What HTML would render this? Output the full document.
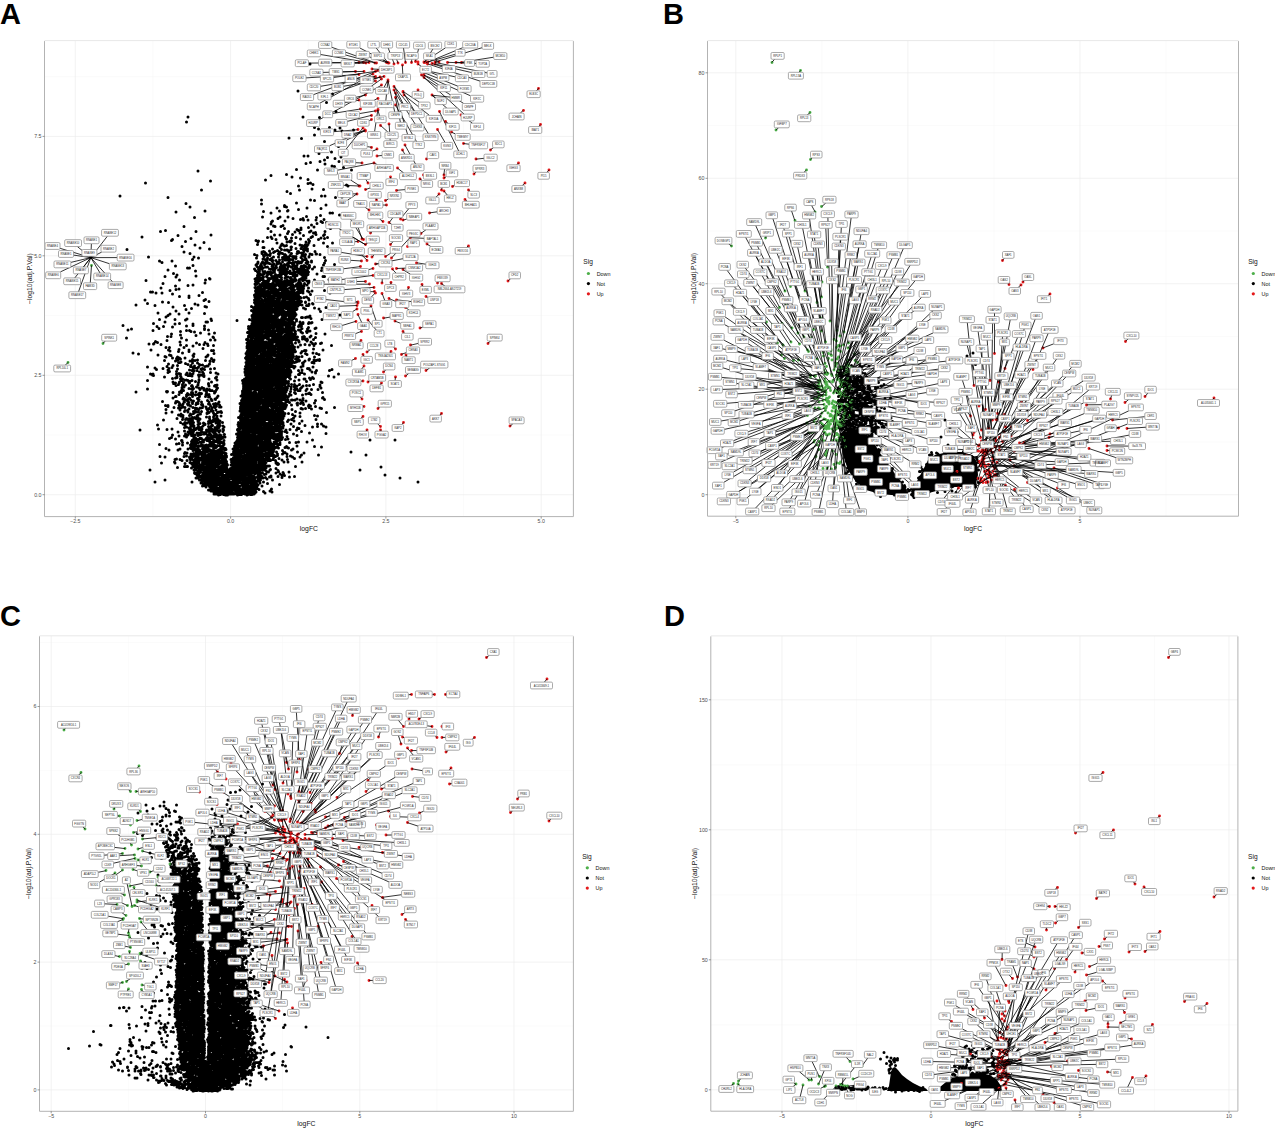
<!DOCTYPE html><html><head><meta charset="utf-8"><style>
html,body{margin:0;padding:0;background:#fff;}
svg{display:block;}
text{font-family:"Liberation Sans",sans-serif;}
.gm{stroke:#f6f6f6;stroke-width:0.5}
.gM{stroke:#ececec;stroke-width:0.7}
.fr{fill:none;stroke:#b3b3b3;stroke-width:1}
.tk{stroke:#555;stroke-width:0.6}
.tl{font-size:5.3px;fill:#4d4d4d}
.at{font-size:6.8px;fill:#111}
.lt{font-size:6.6px;fill:#111}
.ll{font-size:5.4px;fill:#111}
.pl{font-size:29px;font-weight:bold;fill:#000}
.lb{font-size:2.75px;fill:#262626}
</style></head><body>
<svg width="1275" height="1128" viewBox="0 0 1275 1128">
<rect width="1275" height="1128" fill="#fff"/>
<line x1="152.9" y1="40.6" x2="152.9" y2="516.6" class="gm"/>
<line x1="308.3" y1="40.6" x2="308.3" y2="516.6" class="gm"/>
<line x1="463.6" y1="40.6" x2="463.6" y2="516.6" class="gm"/>
<line x1="44.5" y1="435.0" x2="573.4" y2="435.0" class="gm"/>
<line x1="44.5" y1="315.6" x2="573.4" y2="315.6" class="gm"/>
<line x1="44.5" y1="196.1" x2="573.4" y2="196.1" class="gm"/>
<line x1="44.5" y1="76.7" x2="573.4" y2="76.7" class="gm"/>
<line x1="75.3" y1="40.6" x2="75.3" y2="516.6" class="gM"/>
<line x1="230.6" y1="40.6" x2="230.6" y2="516.6" class="gM"/>
<line x1="385.9" y1="40.6" x2="385.9" y2="516.6" class="gM"/>
<line x1="541.2" y1="40.6" x2="541.2" y2="516.6" class="gM"/>
<line x1="44.5" y1="494.7" x2="573.4" y2="494.7" class="gM"/>
<line x1="44.5" y1="375.3" x2="573.4" y2="375.3" class="gM"/>
<line x1="44.5" y1="255.8" x2="573.4" y2="255.8" class="gM"/>
<line x1="44.5" y1="136.4" x2="573.4" y2="136.4" class="gM"/>
<line x1="821.8" y1="40.6" x2="821.8" y2="516.2" class="gm"/>
<line x1="994.0" y1="40.6" x2="994.0" y2="516.2" class="gm"/>
<line x1="1166.1" y1="40.6" x2="1166.1" y2="516.2" class="gm"/>
<line x1="707.5" y1="442.0" x2="1238.5" y2="442.0" class="gm"/>
<line x1="707.5" y1="336.5" x2="1238.5" y2="336.5" class="gm"/>
<line x1="707.5" y1="231.0" x2="1238.5" y2="231.0" class="gm"/>
<line x1="707.5" y1="125.5" x2="1238.5" y2="125.5" class="gm"/>
<line x1="735.8" y1="40.6" x2="735.8" y2="516.2" class="gM"/>
<line x1="907.9" y1="40.6" x2="907.9" y2="516.2" class="gM"/>
<line x1="1080.0" y1="40.6" x2="1080.0" y2="516.2" class="gM"/>
<line x1="707.5" y1="494.7" x2="1238.5" y2="494.7" class="gM"/>
<line x1="707.5" y1="389.2" x2="1238.5" y2="389.2" class="gM"/>
<line x1="707.5" y1="283.7" x2="1238.5" y2="283.7" class="gM"/>
<line x1="707.5" y1="178.3" x2="1238.5" y2="178.3" class="gM"/>
<line x1="707.5" y1="72.8" x2="1238.5" y2="72.8" class="gM"/>
<line x1="128.4" y1="635.8" x2="128.4" y2="1111.3" class="gm"/>
<line x1="282.6" y1="635.8" x2="282.6" y2="1111.3" class="gm"/>
<line x1="436.9" y1="635.8" x2="436.9" y2="1111.3" class="gm"/>
<line x1="39.5" y1="1026.0" x2="573.4" y2="1026.0" class="gm"/>
<line x1="39.5" y1="898.2" x2="573.4" y2="898.2" class="gm"/>
<line x1="39.5" y1="770.4" x2="573.4" y2="770.4" class="gm"/>
<line x1="39.5" y1="642.6" x2="573.4" y2="642.6" class="gm"/>
<line x1="51.2" y1="635.8" x2="51.2" y2="1111.3" class="gM"/>
<line x1="205.5" y1="635.8" x2="205.5" y2="1111.3" class="gM"/>
<line x1="359.8" y1="635.8" x2="359.8" y2="1111.3" class="gM"/>
<line x1="514.0" y1="635.8" x2="514.0" y2="1111.3" class="gM"/>
<line x1="39.5" y1="1089.9" x2="573.4" y2="1089.9" class="gM"/>
<line x1="39.5" y1="962.1" x2="573.4" y2="962.1" class="gM"/>
<line x1="39.5" y1="834.3" x2="573.4" y2="834.3" class="gM"/>
<line x1="39.5" y1="706.5" x2="573.4" y2="706.5" class="gM"/>
<line x1="856.5" y1="635.9" x2="856.5" y2="1111.2" class="gm"/>
<line x1="1005.5" y1="635.9" x2="1005.5" y2="1111.2" class="gm"/>
<line x1="1154.5" y1="635.9" x2="1154.5" y2="1111.2" class="gm"/>
<line x1="710.8" y1="1024.8" x2="1237.9" y2="1024.8" class="gm"/>
<line x1="710.8" y1="894.8" x2="1237.9" y2="894.8" class="gm"/>
<line x1="710.8" y1="764.8" x2="1237.9" y2="764.8" class="gm"/>
<line x1="782.0" y1="635.9" x2="782.0" y2="1111.2" class="gM"/>
<line x1="931.0" y1="635.9" x2="931.0" y2="1111.2" class="gM"/>
<line x1="1080.0" y1="635.9" x2="1080.0" y2="1111.2" class="gM"/>
<line x1="1229.0" y1="635.9" x2="1229.0" y2="1111.2" class="gM"/>
<line x1="710.8" y1="1089.8" x2="1237.9" y2="1089.8" class="gM"/>
<line x1="710.8" y1="959.8" x2="1237.9" y2="959.8" class="gM"/>
<line x1="710.8" y1="829.8" x2="1237.9" y2="829.8" class="gM"/>
<line x1="710.8" y1="699.8" x2="1237.9" y2="699.8" class="gM"/>
<path d="M841 433 L843 455 L848 470 L856 482 L866 490 L880 494 L897 495.5 L906 495 L907 490 L900 480 L892 470 L884 460 L877 448 L871 438 L863 433Z M912 495 L925 494 L940 490 L955 487 L968 487 L976 484 L978 475 L977 462 L972 455 L962 452 L948 452 L935 455 L928 460 L923 470 L916 483 L911 491Z" fill="#000"/>
<path d="M887 1091 L889 1086 L890 1079 L891 1072 L892.5 1068 L895 1067 L898 1070 L902 1075 L907 1079 L913 1083 L920 1086.5 L926 1088.5 L928 1091Z M936 1091 L940 1087 L946 1082 L952 1078 L960 1076 L970 1074 L980 1073 L990 1075 L997 1080 L1001 1086 L1002 1091Z" fill="#000"/>
<path transform="scale(.5)" d="M620 128h0m-24 54h0m69 6h0m-12 17h0m19 18h0m-296 11h0m230 0h0m33 1h0m-266 9h0m256 11h0m8 3h0m22-3h0m11 5h0m10-4h0m4 6h0m23-2h0m-78 10h0m-51 6h0m25 1h0m46 6h0m28 10h0m-61 19h0m22-5h0m3-7h0m22 4h0m-55 8h0m32 11h0m9-3h0m6-5h0m15 2h0m8 6h0m4-9h0m-70 13h0m9-2h0m29 3h0m14 4h0m5 1h0m18 2h0m-291 7h0m197-3h0m42 1h0m31 6h0m7 0h0m30-6h0m-161 11h0m31-2h0m11 5h0m17 2h0m15 3h0m70-5h0m-395 12h0m130-4h0m110-2h0m85 7h0m5-1h0m5 3h0m52 3h0m15-2h0m-290 10h0m171 3h0m23-11h0m2 8h0m25-2h0m23 1h0m49-7h0m-456 20h0m96 3h0m245-8h0m62 5h0m7 0h0m21 3h0m11-11h0m2 10h0m-312 13h0m151 1h0m0-8h0m70 6h0m28-6h0m8 1h0m-249 13h0m174 2h0m15-5h0m0 2h0m4 1h0m24 5h0m17-3h0m28 1h0m10-7h0m-300 14h0m58-2h0m117 1h0m15 3h0m17-4h0m16 0h0m1-1h0m65 10h0m19-5h0m5 0h0m14 4h0m-290 5h0m136-1h0m20 8h0m11-5h0m4-3h0m10 8h0m6-8h0m10 3h0m15 2h0m5-2h0m1 3h0m6-7h0m3 7h0m16 0h0m1-5h0m9 8h0m6-4h0m-280 14h0m174-5h0m1-4h0m4 8h0m3 1h0m12 0h0m4-2h0m36 5h0m15-1h0m6-5h0m5 4h0m6-7h0m11-2h0m8 0h0m-332 18h0m10-2h0m61 2h0m144-6h0m6 6h0m27-6h0m6 10h0m2-4h0m13 1h0m4-5h0m3 2h0m3 5h0m2-7h0m17 5h0m3-2h0m5 4h0m4-1h0m19-2h0m11-6h0m-377 17h0m61 5h0m11-8h0m26 6h0m40-7h0m113 5h0m7-1h0m2 3h0m5-7h0m3 9h0m8-9h0m11 4h0m2 4h0m10-2h0m2-7h0m7 6h0m9 3h0m6-7h0m10 8h0m5-4h0m3-2h0m7-4h0m5 10h0m5-3h0m5-5h0m2-2h0m0 8h0m6-2h0m-312 6h0m28 2h0m19 7h0m18-5h0m104-4h0m3 8h0m1-5h0m1-2h0m9 1h0m28 3h0m8 5h0m2-3h0m2 2h0m3 2h0m4-1h0m1-7h0m5-1h0m1-1h0m1 2h0m2-2h0m7 5h0m10 3h0m4 1h0m3 1h0m4-3h0m1-5h0m2 8h0m2-3h0m2-4h0m1-3h0m9 9h0m19-5h0m18 0h0m-411 13h0m110-6h0m4 11h0m32-8h0m19 2h0m105 6h0m1 0h0m1-9h0m1 8h0m1-8h0m11 7h0m6-4h0m5 5h0m5-2h0m4 3h0m1-9h0m3 4h0m0 0h0m6 1h0m4 0h0m2 0h0m1 1h0m2 1h0m4-8h0m0 5h0m1-5h0m9 3h0m3 6h0m2 0h0m5-6h0m2-3h0m2-2h0m1 8h0m1 3h0m0-5h0m3-4h0m1 5h0m3-1h0m0 4h0m15 1h0m25-10h0m-473 22h0m115-1h0m83-7h0m8 7h0m121-5h0m5 2h0m10-6h0m0 2h0m3 4h0m1 2h0m1-9h0m2 3h0m1 0h0m1 3h0m0 0h0m3 0h0m4 1h0m1-4h0m6-2h0m0 9h0m10-7h0m0 1h0m0 6h0m1-5h0m4-3h0m3 9h0m0-8h0m4 5h0m1 4h0m0-7h0m2 2h0m1 3h0m3 2h0m1-2h0m1 0h0m0-10h0m2 7h0m3-4h0m2 6h0m3 0h0m0 2h0m4-2h0m2-6h0m2-1h0m2-1h0m4 10h0m1-9h0m1 5h0m0 0h0m1-5h0m0 1h0m1-1h0m1 6h0m0-1h0m1 0h0m2 3h0m1-5h0m7 5h0m0-1h0m2-5h0m4 1h0m8-1h0m1 0h0m7 1h0m9 6h0m-330 7h0m5 3h0m20-3h0m41-3h0m12-3h0m116 0h0m2 11h0m1-1h0m0-2h0m7 3h0m2-3h0m1-6h0m2 9h0m1-1h0m1-7h0m2 1h0m0 3h0m0-3h0m2 1h0m1 4h0m0 1h0m0-10h0m2 10h0m2 1h0m1-8h0m3-2h0m1 3h0m0 2h0m1 1h0m1-2h0m6 0h0m2 3h0m2 3h0m2-3h0m1 2h0m0-6h0m6-1h0m0 5h0m5-4h0m3 0h0m1-1h0m1 8h0m3-6h0m0 1h0m1-2h0m0-2h0m1 7h0m4-6h0m1 7h0m1-1h0m0-5h0m5 4h0m1-7h0m3 10h0m1-4h0m3 3h0m1-2h0m3 1h0m2-6h0m0 3h0m1-2h0m4-1h0m2-1h0m0 8h0m1-5h0m1 6h0m2-3h0m0 1h0m7-1h0m0-2h0m26 4h0m2-5h0m-300 11h0m24 4h0m4 0h0m7-5h0m123 7h0m3-8h0m1-1h0m1 4h0m2 2h0m1 4h0m0 0h0m3-4h0m0-1h0m0 5h0m1-2h0m0-6h0m1-1h0m1 6h0m1-3h0m0 5h0m2-2h0m3-7h0m1-1h0m1 6h0m4 0h0m4 4h0m4 0h0m1-9h0m0 4h0m2 6h0m0-7h0m0-3h0m0 11h0m0-6h0m0 1h0m2 1h0m0-8h0m2 11h0m2-7h0m1 3h0m1-7h0m3 12h0m3-5h0m1-2h0m1-4h0m2 2h0m0 2h0m0 4h0m2-4h0m2 6h0m1-5h0m0-5h0m1 11h0m2-2h0m1-8h0m2 8h0m0 0h0m1-9h0m0 5h0m2-3h0m4 3h0m3-1h0m0-5h0m1 10h0m1 1h0m0-1h0m1-9h0m1 3h0m2 5h0m0-1h0m3-5h0m0 5h0m0 3h0m1-1h0m5 0h0m2-4h0m1-2h0m2 6h0m3-7h0m0 3h0m1 1h0m3-2h0m3 3h0m3-5h0m0 5h0m1-5h0m0 3h0m6 4h0m4-4h0m15 2h0m3-6h0m22-1h0m-333 11h0m11 7h0m7 3h0m37-8h0m1 10h0m119-11h0m4 3h0m0 7h0m1-2h0m2 1h0m0-6h0m1 8h0m0-2h0m0-8h0m1 5h0m0 3h0m5 0h0m0-1h0m1-6h0m1 1h0m1 4h0m2-5h0m0 1h0m4 3h0m1 1h0m0 2h0m1-6h0m1 2h0m2 1h0m1-2h0m0 1h0m1-2h0m1 6h0m0-2h0m3-2h0m3-2h0m1 0h0m2 5h0m2 2h0m2 1h0m1-1h0m0 0h0m4-3h0m0-3h0m2-5h0m1 2h0m0 7h0m1-7h0m1-1h0m0 6h0m0-1h0m1-1h0m1-4h0m1 4h0m0-1h0m0 3h0m3 0h0m0 4h0m2-10h0m0 0h0m0 7h0m1-3h0m2 0h0m4-3h0m0 5h0m2 0h0m0-1h0m4-1h0m0 4h0m1-9h0m0 6h0m0 3h0m0 1h0m0-3h0m1-4h0m1 8h0m0-6h0m1-1h0m0 5h0m0-5h0m1 1h0m3 6h0m1-7h0m1-4h0m0 5h0m1 1h0m0-4h0m1-1h0m2 4h0m1 3h0m2 1h0m0 0h0m0-7h0m1 5h0m0 3h0m1-4h0m0 5h0m0-1h0m1 2h0m0-2h0m1-2h0m1-5h0m1 0h0m0-1h0m0 6h0m1-3h0m0 6h0m0-11h0m2 2h0m1-1h0m0 10h0m1-5h0m0 0h0m1-5h0m1 8h0m0-3h0m1-2h0m17 4h0m9-7h0m17 2h0m-368 18h0m38-8h0m22 1h0m7 6h0m52 0h0m8-3h0m1 1h0m90 0h0m1 5h0m1-6h0m1 0h0m0 6h0m0-5h0m1-2h0m1-2h0m0 3h0m1 6h0m1-1h0m1-1h0m1-2h0m0-3h0m0 6h0m1-5h0m1 0h0m1 2h0m1-3h0m3 3h0m1-5h0m0 7h0m1 1h0m5-9h0m0 9h0m1-8h0m1 9h0m1-1h0m1-5h0m0 6h0m0-4h0m1 2h0m2-4h0m2 0h0m0 0h0m2-4h0m3 5h0m0 0h0m0-5h0m0 8h0m0-6h0m1 6h0m1-1h0m1-1h0m1-2h0m0-5h0m1 4h0m0 6h0m0-6h0m1 8h0m0-6h0m1 0h0m0-4h0m0 8h0m0-2h0m1-8h0m2 8h0m2-7h0m0 11h0m2-2h0m1-7h0m1 0h0m0 7h0m0-3h0m1 5h0m5-2h0m0 0h0m1-6h0m2-2h0m0-1h0m2 7h0m2-6h0m1 8h0m1 1h0m1 0h0m0 0h0m2-1h0m0-5h0m0-2h0m2 3h0m0 6h0m2-4h0m1 4h0m0-3h0m0-9h0m2 7h0m2-3h0m0-4h0m1 10h0m1-2h0m6 1h0m1 0h0m0 1h0m0-3h0m0 1h0m0 4h0m4-7h0m2 4h0m1 0h0m1-5h0m0-2h0m1 6h0m1-1h0m3-3h0m2 6h0m4 0h0m11-2h0m17-7h0m3 0h0m9 6h0m-332 8h0m25 5h0m25-1h0m10-1h0m24-4h0m100 2h0m0 7h0m1-5h0m1 5h0m2-11h0m0 4h0m2-3h0m0 9h0m2-1h0m1 1h0m1-5h0m2 5h0m0 0h0m2-3h0m0-2h0m1-3h0m1-1h0m2-1h0m0 7h0m0 5h0m0-10h0m2-1h0m1 2h0m0 9h0m1-5h0m1 2h0m0 2h0m1-7h0m0 6h0m2-6h0m0 1h0m1-1h0m0 8h0m0-3h0m1-5h0m2 6h0m0 2h0m1-4h0m0 1h0m0 3h0m1-4h0m1 0h0m0-4h0m1 8h0m1-2h0m0 1h0m1-4h0m0-5h0m1 1h0m0-3h0m0 8h0m1 2h0m1-4h0m2 1h0m1 0h0m1-2h0m0-3h0m3-2h0m0 2h0m0 2h0m1-1h0m1 5h0m0-5h0m2-3h0m0 3h0m0 4h0m1-3h0m0 4h0m1-6h0m0 4h0m1-1h0m1 2h0m0 1h0m1-5h0m0-1h0m1 10h0m0-5h0m1-3h0m1-1h0m1 1h0m1 1h0m1 4h0m1-9h0m1 8h0m0-6h0m1-2h0m2 6h0m0 0h0m1-4h0m2 2h0m0 8h0m1-8h0m1 7h0m0-6h0m0 1h0m0-6h0m1 7h0m1 2h0m0 1h0m1-9h0m1 8h0m1-3h0m1 5h0m4-3h0m1-1h0m1 0h0m0-2h0m1 4h0m1 2h0m0-7h0m1 6h0m0-5h0m1-4h0m1 1h0m0-1h0m1 3h0m1 5h0m2 1h0m0-7h0m1 8h0m0-4h0m2 3h0m2-3h0m1 1h0m1-5h0m5 3h0m3 6h0m0-10h0m1-2h0m28 0h0m21 12h0m-366 8h0m4 0h0m7 2h0m10-10h0m2 10h0m16-5h0m5 7h0m7-9h0m6-1h0m47 7h0m106-3h0m1-4h0m0 8h0m1-7h0m1 6h0m0-6h0m0 5h0m0 2h0m0 1h0m0 0h0m1-3h0m0-4h0m1-2h0m0 7h0m0-4h0m1 3h0m2-7h0m0 2h0m1 9h0m1-7h0m1 5h0m0-9h0m1 6h0m0-6h0m0 4h0m1 2h0m0 0h0m1 0h0m0-1h0m0 5h0m0 0h0m2 1h0m1-12h0m0 4h0m1 7h0m0-4h0m1 5h0m0-1h0m0-10h0m0 8h0m0-2h0m1 2h0m1-2h0m0 4h0m3-2h0m0-9h0m1 0h0m0 11h0m0-5h0m0 4h0m2-8h0m1-2h0m1 0h0m0 1h0m1 7h0m0 2h0m1-1h0m0-3h0m0-2h0m1-2h0m0 5h0m0-5h0m1 2h0m1-2h0m1-1h0m1 10h0m0-10h0m0 0h0m0 5h0m2-2h0m1-1h0m0 1h0m1-3h0m1 8h0m1 3h0m1-8h0m0 2h0m0 4h0m1 0h0m1-5h0m0 0h0m1 6h0m0 0h0m0-2h0m1-5h0m0-1h0m1 0h0m1-2h0m0 10h0m2 0h0m1 0h0m0-1h0m1-9h0m0 6h0m0-2h0m0 1h0m2 0h0m1 0h0m1-4h0m0 7h0m0-6h0m0 5h0m2-1h0m2-5h0m0 9h0m1-1h0m1-4h0m0-2h0m0-2h0m1 3h0m2 6h0m1-4h0m2 2h0m0 2h0m1-3h0m0 2h0m1-3h0m0-5h0m0-1h0m1 2h0m0 1h0m0-2h0m0 5h0m1-1h0m1 4h0m0-9h0m0 4h0m1 5h0m0-4h0m2 5h0m0-5h0m1 6h0m0-8h0m1 7h0m2-1h0m3-8h0m0 6h0m1 2h0m0-10h0m0 8h0m0-5h0m1 9h0m1-8h0m0 0h0m1-3h0m1 0h0m1 0h0m0 8h0m1-4h0m1 0h0m1-3h0m2 8h0m0-4h0m0-4h0m1-1h0m8 5h0m3 2h0m6-2h0m25-1h0m11 5h0m-301 7h0m19 2h0m0-3h0m20-1h0m13 8h0m98 1h0m0-9h0m0-1h0m1 5h0m1 1h0m0-6h0m0 1h0m1 9h0m1-11h0m0 3h0m1 3h0m0 5h0m1-6h0m0 5h0m1-10h0m0 6h0m0 0h0m2-6h0m0 1h0m0 6h0m0 4h0m1-6h0m0-4h0m1 6h0m1-1h0m0-1h0m1-1h0m0-4h0m1 3h0m1 7h0m0 1h0m1-10h0m0 0h0m2 3h0m0-2h0m1 2h0m1-1h0m0 2h0m1 4h0m0-3h0m0-7h0m1 3h0m0 0h0m0-2h0m0 0h0m1 10h0m0-8h0m1 0h0m1 1h0m2 7h0m0-3h0m2-6h0m0 6h0m0-5h0m1 8h0m1-5h0m0 1h0m0-5h0m0 7h0m1-1h0m0 3h0m0-9h0m0 6h0m1 2h0m0-1h0m0-5h0m1 6h0m1-3h0m1 3h0m2-10h0m0 2h0m0 7h0m2-7h0m0 2h0m0 3h0m1-3h0m4 6h0m1 1h0m0-7h0m0 4h0m1-7h0m0 7h0m2-1h0m0-1h0m0 4h0m1 1h0m1-2h0m0-7h0m1 2h0m1 1h0m1 0h0m1-5h0m0 2h0m2 4h0m0 3h0m1-5h0m0 4h0m0-4h0m0 6h0m1-8h0m1 6h0m2-3h0m0-3h0m1 5h0m1-2h0m0 0h0m1 5h0m0-1h0m0 1h0m0-5h0m2-1h0m0-3h0m0 4h0m1 4h0m0-4h0m0 2h0m1 1h0m0-7h0m1 7h0m0 0h0m0 3h0m0-6h0m1-5h0m0 10h0m0 2h0m0-11h0m0 0h0m1 5h0m0 1h0m1 1h0m1-7h0m0 9h0m0-7h0m1 1h0m0-3h0m1 4h0m0 6h0m0-9h0m1 8h0m1-8h0m0-1h0m0 4h0m0-5h0m1 5h0m0 6h0m0-8h0m1 8h0m1-7h0m1-3h0m0 1h0m0 8h0m0-2h0m0-4h0m2-2h0m1 9h0m0 0h0m0-5h0m1 2h0m0 0h0m2-5h0m1 5h0m0-1h0m0-2h0m0 6h0m1-2h0m1-1h0m1-1h0m1 1h0m6-1h0m5-1h0m4 3h0m4-8h0m14 9h0m-363 12h0m18-10h0m5 7h0m15 4h0m15-7h0m0 0h0m12 1h0m32 6h0m21-3h0m6 2h0m12-9h0m10 2h0m91 2h0m1-2h0m1 5h0m0-8h0m1 1h0m0 11h0m0-6h0m0-3h0m1 2h0m0 5h0m1 1h0m0-2h0m0 1h0m2-5h0m0 2h0m1-4h0m0 8h0m1-9h0m0 9h0m0 1h0m1-9h0m1 8h0m0-6h0m0 0h0m1 6h0m0-1h0m1 0h0m0-7h0m1 4h0m0-1h0m0 1h0m0 3h0m0 2h0m0-6h0m1 5h0m0-9h0m1 4h0m2 0h0m2 3h0m0-8h0m1 6h0m1 0h0m1 0h0m0-6h0m0 5h0m1 1h0m0 4h0m0 0h0m1 0h0m0-3h0m1 4h0m0-10h0m0 1h0m1 5h0m1-3h0m0-5h0m1 11h0m0-7h0m0 2h0m1 4h0m0-4h0m0-5h0m0 8h0m1 2h0m0-1h0m0-6h0m1 2h0m1 0h0m0 0h0m1 3h0m0-4h0m1 1h0m1-5h0m0 2h0m0 2h0m0 4h0m0 2h0m2-6h0m0 3h0m1-3h0m1-4h0m1 4h0m0-3h0m0 8h0m1-1h0m0-5h0m1 6h0m1-5h0m1-5h0m1 10h0m0 0h0m1-3h0m0 2h0m0-4h0m1 4h0m2-8h0m0 9h0m0-7h0m2 9h0m0-7h0m1 2h0m1 0h0m0 4h0m1-1h0m1-9h0m0 3h0m1 6h0m0-3h0m1-5h0m0 5h0m1-6h0m1 8h0m1-7h0m0-2h0m0 2h0m0 6h0m1-4h0m0 8h0m0-6h0m2 0h0m1 1h0m1-3h0m0 1h0m2-1h0m1 2h0m0 4h0m1-8h0m0 7h0m1-2h0m0-2h0m0-4h0m1 2h0m0 8h0m0-3h0m1-1h0m0-3h0m0 4h0m1 4h0m1-1h0m0-3h0m1 0h0m1 2h0m0-6h0m1 3h0m0-2h0m1 0h0m0-5h0m2 4h0m0 7h0m1-1h0m2 2h0m1-8h0m0 7h0m0-4h0m2-4h0m0-2h0m2 8h0m0-6h0m0 2h0m2 1h0m0 3h0m0-7h0m3 1h0m1 7h0m7-5h0m0-1h0m2 7h0m4 0h0m1-11h0m0 9h0m0-1h0m7-1h0m1 1h0m32 2h0m-312 4h0m6 8h0m20-3h0m11-2h0m27-4h0m3 1h0m90 7h0m0-8h0m3 10h0m1-7h0m1 2h0m0 2h0m0 2h0m0-1h0m1-5h0m0 4h0m0-6h0m0 9h0m0-9h0m0 8h0m1-4h0m0-1h0m0 5h0m1 1h0m0-3h0m0 3h0m0-5h0m0-2h0m1-1h0m0 5h0m0-4h0m1 2h0m0-1h0m0-2h0m0-1h0m1 7h0m0-5h0m1 2h0m2-1h0m0 5h0m0-4h0m0-5h0m2 4h0m0-4h0m0 5h0m0 0h0m0-6h0m0 11h0m1 0h0m0-11h0m1 10h0m0-1h0m1-1h0m0-2h0m0 4h0m0-3h0m0-4h0m0 1h0m1 4h0m0-6h0m1 10h0m2-3h0m0-6h0m1 2h0m0 2h0m1-6h0m1 1h0m0 8h0m0-9h0m0 10h0m1-10h0m0 1h0m0 2h0m0 4h0m1-3h0m0 2h0m0-2h0m2 4h0m0-9h0m0 6h0m0 1h0m2 0h0m0-4h0m1 1h0m1-4h0m0 8h0m2-5h0m1 6h0m0-2h0m0-2h0m0 7h0m1-7h0m1-1h0m0 3h0m1-6h0m0 1h0m0 8h0m1-10h0m0 5h0m1-5h0m1 12h0m0-2h0m2-4h0m0 1h0m0 3h0m1-9h0m1 0h0m0 3h0m1 6h0m0-10h0m1 6h0m0 0h0m1 4h0m0-9h0m1 7h0m0-6h0m1 1h0m0 5h0m0-2h0m1 4h0m0-3h0m2 2h0m1-9h0m0 5h0m1 3h0m0-2h0m0 6h0m0-7h0m1-3h0m0 6h0m2-3h0m1 5h0m0-2h0m0-6h0m1 0h0m0 9h0m0-3h0m1-2h0m2-2h0m0-3h0m1 10h0m1-10h0m0 3h0m2 1h0m2-2h0m1-1h0m1 4h0m0-5h0m0 9h0m0-4h0m0-6h0m1 2h0m1 3h0m1 2h0m1-3h0m1 0h0m0-2h0m0 1h0m0 6h0m1 0h0m0-1h0m0-4h0m3 4h0m0 3h0m0-8h0m1 0h0m0 5h0m1 3h0m0 1h0m2-2h0m0-3h0m0-3h0m0 1h0m0 6h0m0 1h0m1-12h0m0 8h0m1-1h0m1-6h0m1 6h0m1-6h0m0 5h0m2-6h0m11 4h0m4 2h0m18-2h0m9 2h0m3 5h0m11-8h0m-336 11h0m16 8h0m4-3h0m4-3h0m18 0h0m20-2h0m31 1h0m95 5h0m0-1h0m1 0h0m1 0h0m1-1h0m0 3h0m0-5h0m0 1h0m1 2h0m0-6h0m1 8h0m1 1h0m0-7h0m2 0h0m1 3h0m0-4h0m1 3h0m0 7h0m0-9h0m0 3h0m1 2h0m0 1h0m1-6h0m0 4h0m0 2h0m0-2h0m1-1h0m1 2h0m1-2h0m0 1h0m1-3h0m0 7h0m0-1h0m1-6h0m0-2h0m1 8h0m1-3h0m0-2h0m0-5h0m1 9h0m0-4h0m1 6h0m0 0h0m0-6h0m0 2h0m1-4h0m0 6h0m1-5h0m0-2h0m0 6h0m1-4h0m1-1h0m0-2h0m0 10h0m0-9h0m1 4h0m0-3h0m0-1h0m1 2h0m0 6h0m0-5h0m1 1h0m0-5h0m0 10h0m1 0h0m0-7h0m0-3h0m0 10h0m0-3h0m1-5h0m0 5h0m0-5h0m1 2h0m0-5h0m0 4h0m0 0h0m1-2h0m0 3h0m0-1h0m0 4h0m0-5h0m0 5h0m0 2h0m1-9h0m0 10h0m0-10h0m0-1h0m0 2h0m1 0h0m0 4h0m1-5h0m0 5h0m0-5h0m1-1h0m0 7h0m0-4h0m1 8h0m0-10h0m1 7h0m0 2h0m1-7h0m1-2h0m0 0h0m1 7h0m2 0h0m1 2h0m0-1h0m0-9h0m2 2h0m0 8h0m0-1h0m0-9h0m1 5h0m0 1h0m1 5h0m0-8h0m1 0h0m1 6h0m0-8h0m1 1h0m0 0h0m0 3h0m0 4h0m0-1h0m2-2h0m0-5h0m1 5h0m1-5h0m1 3h0m0 0h0m0-4h0m1 1h0m3 1h0m0 9h0m0-11h0m0 6h0m1 3h0m0-6h0m0 2h0m0 3h0m1 0h0m0-5h0m0 1h0m1-3h0m0 8h0m0-2h0m1 2h0m0-6h0m1 3h0m2 4h0m0-8h0m0 10h0m0-4h0m0 0h0m1-7h0m1 6h0m0 0h0m0-1h0m2-6h0m0 5h0m1-3h0m1 3h0m0-4h0m0 2h0m0 3h0m1 2h0m1-6h0m0 9h0m0-3h0m1-4h0m2 7h0m0-4h0m1 0h0m0 4h0m0-5h0m1-4h0m0 5h0m0 3h0m0-10h0m1 10h0m0-1h0m0-6h0m0-2h0m1 8h0m0-8h0m1 9h0m0-1h0m0 1h0m0 0h0m1-2h0m0 1h0m0-1h0m0-8h0m2 2h0m0 3h0m0 3h0m2-3h0m11 6h0m2 0h0m6 0h0m3-1h0m3 0h0m3-2h0m-313 15h0m12-8h0m11 5h0m20-5h0m9 8h0m12-7h0m3-2h0m38 6h0m3 0h0m7-6h0m1 3h0m51 0h0m25-2h0m5 2h0m0 6h0m1-7h0m0-4h0m0 4h0m0-3h0m1 1h0m0 8h0m0-9h0m0 7h0m0 1h0m1-1h0m0 2h0m0-5h0m0 0h0m0 3h0m1 4h0m0-5h0m0-7h0m0 9h0m0 0h0m1 3h0m0-11h0m0 11h0m0-12h0m0 10h0m1-4h0m0 1h0m1-1h0m1 1h0m0 3h0m1-6h0m1-2h0m1 5h0m0 5h0m0-3h0m0 2h0m1-5h0m0 1h0m1-3h0m0 1h0m0 6h0m1-8h0m0-1h0m1 4h0m0-5h0m1 6h0m0-2h0m0 3h0m0 1h0m1 1h0m0-5h0m1 2h0m0-2h0m0-2h0m1 8h0m1 0h0m0 0h0m0-1h0m0 0h0m0-4h0m0 6h0m1-12h0m1 2h0m1-1h0m0 7h0m0 3h0m1-11h0m0 3h0m0 5h0m1-7h0m0 3h0m0 6h0m1 0h0m0-8h0m0 0h0m0 0h0m0 1h0m2 3h0m0-1h0m0 6h0m0 0h0m0-1h0m1-4h0m0-4h0m0-2h0m1 8h0m1-7h0m0-1h0m1 5h0m0 3h0m0 1h0m0-1h0m0 2h0m0-4h0m0 3h0m1 2h0m0-4h0m1-3h0m0 5h0m1-2h0m0-5h0m0 2h0m0-3h0m1-1h0m1 8h0m0-3h0m1-4h0m0 5h0m1-4h0m0 7h0m1 0h0m0 2h0m1-11h0m0 5h0m0 6h0m1-3h0m0-3h0m1-3h0m1 0h0m1 4h0m0 6h0m1-8h0m1 6h0m0-5h0m1-3h0m2 4h0m2-2h0m0-1h0m0 9h0m0-4h0m0-4h0m0-1h0m1 1h0m1 7h0m0-4h0m0-3h0m1 8h0m3-1h0m0-6h0m0 2h0m1-5h0m0 3h0m0 5h0m0-2h0m1-2h0m0-2h0m1 8h0m0-8h0m1 4h0m0 1h0m0-6h0m0 8h0m0-6h0m1-4h0m0 0h0m0 4h0m1 0h0m1 7h0m0-3h0m0-3h0m1-4h0m1 5h0m1 3h0m0 1h0m1-2h0m1 3h0m0-2h0m1-7h0m0 6h0m0 1h0m2 1h0m0-8h0m1-3h0m0 3h0m0 5h0m0-6h0m0-1h0m1 4h0m0 2h0m0 5h0m1-1h0m0-3h0m0-7h0m1 8h0m0-2h0m0 0h0m0 4h0m1-8h0m0 7h0m1-1h0m0 1h0m1-5h0m0 0h0m1 4h0m1-7h0m0 7h0m1 0h0m0-9h0m1 0h0m1 10h0m4-7h0m0 2h0m0 1h0m7 2h0m6 3h0m0-2h0m11 2h0m1-2h0m4-8h0m0 9h0m2-1h0m20-6h0m-398 12h0m17 7h0m51-5h0m4 4h0m9-4h0m18 1h0m5-6h0m23 4h0m13-4h0m0 3h0m23 8h0m0-2h0m0-5h0m8 8h0m80-3h0m0-4h0m2 4h0m1 1h0m1-5h0m0 0h0m0 5h0m0 1h0m1-7h0m0 7h0m0-6h0m0 7h0m0-5h0m0 0h0m1-4h0m1 5h0m0 0h0m1-3h0m0 1h0m0-2h0m1-1h0m0-3h0m0 8h0m1 2h0m0-5h0m1 0h0m1-1h0m0 6h0m0-5h0m1 4h0m1-9h0m1 4h0m0 5h0m0-5h0m0-4h0m1 4h0m0 8h0m0-7h0m0-5h0m0 1h0m0 2h0m1 5h0m0-3h0m0 1h0m0 2h0m1-3h0m0 4h0m0-7h0m0 9h0m1-10h0m0 6h0m0-6h0m0 0h0m1 7h0m0 0h0m0 0h0m0 3h0m0-4h0m1 1h0m0-7h0m0 6h0m2-3h0m0 6h0m1-6h0m0-2h0m0 9h0m0 1h0m1-6h0m0 4h0m1 2h0m0-5h0m0-5h0m1 6h0m1-2h0m0-5h0m0 7h0m0-6h0m1-1h0m0 4h0m1 0h0m0 0h0m0 4h0m0 1h0m1-10h0m1 3h0m0 2h0m1 0h0m0-2h0m1 6h0m0-4h0m1 0h0m0 3h0m1 3h0m0-10h0m0 3h0m0 6h0m1-6h0m0-2h0m0 7h0m0-3h0m1 5h0m0-8h0m0 6h0m0-8h0m1 0h0m1 8h0m0-4h0m2 4h0m0-1h0m1 1h0m0 2h0m0-3h0m0-6h0m1 5h0m0 1h0m2-3h0m3-1h0m0-2h0m0 7h0m1-8h0m0 9h0m0-8h0m0 8h0m0-6h0m2 2h0m0 1h0m0-5h0m0 5h0m2-5h0m0-2h0m0 5h0m0-2h0m0-1h0m1 2h0m0-1h0m1 3h0m0-2h0m1 7h0m1-5h0m0 4h0m0 0h0m1-6h0m0 4h0m0-2h0m0 0h0m2-3h0m0 7h0m0-5h0m0-4h0m1 5h0m1-4h0m0 1h0m1 9h0m0-7h0m1 7h0m0-6h0m1 2h0m0-5h0m0 6h0m0 1h0m1-7h0m0 6h0m0 3h0m1-5h0m0 1h0m0-1h0m0-2h0m1-2h0m1-1h0m0 10h0m0-11h0m2 10h0m1-9h0m0 10h0m1-3h0m1-9h0m0 7h0m0 2h0m0 2h0m1-11h0m0 2h0m0 1h0m2 5h0m0-4h0m1 7h0m0-10h0m1 2h0m0 1h0m0 0h0m0-4h0m0 4h0m2 7h0m0-1h0m1-4h0m0 4h0m0-6h0m0 3h0m1-6h0m1 6h0m1 1h0m1-8h0m1 8h0m2-3h0m1 6h0m0-3h0m1-6h0m8 3h0m1-2h0m2-2h0m1 11h0m1-7h0m0-5h0m1 4h0m1 5h0m11 1h0m2-3h0m13 2h0m2-1h0m-376 4h0m50 1h0m37 7h0m18-5h0m0 7h0m12-9h0m6 0h0m3 2h0m7 1h0m3 7h0m9-5h0m17 2h0m11-2h0m66-1h0m3 1h0m0-3h0m1 7h0m0-7h0m1-2h0m1 2h0m0 7h0m1-4h0m1 5h0m1-10h0m1 9h0m0-6h0m1 4h0m0-4h0m1 3h0m0-3h0m0 8h0m1-10h0m0 8h0m0-4h0m1-4h0m2 6h0m0-7h0m1 9h0m0-1h0m0-1h0m0 2h0m0-8h0m1 0h0m0 2h0m0-1h0m1 1h0m0 7h0m0-7h0m1 0h0m0 6h0m1-7h0m1 3h0m1-4h0m0 6h0m0 3h0m0 1h0m0-7h0m0 5h0m0 2h0m1-2h0m0-4h0m0 1h0m2-3h0m1 6h0m0-8h0m1-2h0m0 9h0m0-7h0m1 1h0m0-3h0m0 7h0m2-2h0m1-2h0m0 8h0m0-9h0m1 10h0m1-9h0m1 1h0m1 5h0m0-4h0m1-2h0m0 5h0m0-2h0m1 0h0m0 6h0m1-12h0m0 9h0m1-5h0m0 3h0m0-6h0m1 8h0m0 0h0m0-3h0m0 3h0m0-2h0m1-2h0m0 0h0m0-4h0m0 3h0m1 2h0m0-6h0m1 10h0m1-5h0m0 4h0m0 1h0m1-5h0m0 6h0m0-5h0m0 4h0m1 0h0m0-9h0m0 2h0m1 0h0m0 3h0m0-3h0m0-1h0m0 7h0m1-7h0m0 3h0m1 6h0m0-7h0m0 0h0m0 6h0m1-1h0m0-4h0m1 4h0m0-5h0m0 3h0m1 4h0m0 1h0m0-3h0m1-6h0m0 2h0m0 2h0m1 2h0m0-3h0m1 1h0m1-6h0m0 9h0m0 1h0m0-2h0m1-8h0m0 8h0m0 2h0m1-1h0m0 1h0m2-11h0m0 9h0m0-2h0m1 3h0m0-5h0m0-1h0m0 3h0m1-6h0m0 8h0m0 2h0m0-6h0m1 1h0m0-2h0m1 6h0m0 0h0m1-2h0m1-8h0m0 3h0m0 2h0m1 3h0m2-3h0m0 1h0m1-3h0m0-2h0m1 0h0m1 3h0m2 6h0m1-9h0m0 0h0m1-1h0m1 11h0m0-6h0m0-5h0m1 2h0m0 3h0m0 0h0m0 0h0m1 5h0m0-3h0m0 4h0m1-10h0m1 3h0m0-2h0m0 10h0m1-3h0m0-3h0m1-2h0m0 7h0m1 0h0m1 0h0m0-8h0m1 5h0m0-4h0m1 1h0m1 6h0m0 1h0m0-11h0m2 9h0m1 2h0m0-12h0m1 8h0m1 1h0m1-6h0m1 0h0m0 5h0m6-8h0m3 0h0m2 4h0m3 2h0m8-3h0m1 2h0m3-3h0m3 0h0m2 10h0m10-5h0m18 1h0m-397 8h0m58 7h0m23-2h0m1-8h0m7 0h0m18 11h0m3-8h0m10 4h0m48 0h0m5-6h0m1 1h0m3 5h0m63-1h0m2-1h0m1 3h0m1-7h0m0-2h0m1 9h0m1 1h0m2 0h0m0-1h0m0 0h0m0 0h0m0-6h0m2-1h0m0 1h0m0 3h0m0 1h0m1 3h0m0-1h0m1-8h0m0 11h0m0-8h0m2 6h0m0-10h0m2 10h0m1-5h0m0 5h0m1-4h0m0 2h0m0-1h0m1 2h0m0-9h0m0 11h0m1-5h0m1 2h0m0-7h0m1 10h0m0-6h0m0 1h0m1 4h0m0 0h0m0-4h0m0-2h0m0 0h0m0 1h0m1-5h0m0 6h0m1-2h0m0 1h0m0-4h0m0 1h0m0 9h0m0-9h0m0 4h0m1 4h0m0-9h0m0 1h0m1 3h0m0-2h0m0-3h0m0 1h0m1 5h0m0-2h0m0 2h0m0-1h0m0-4h0m0 10h0m1-4h0m1-4h0m1 2h0m0 6h0m1-3h0m0-4h0m1 7h0m0 0h0m1-6h0m0-1h0m0-3h0m1 3h0m0-3h0m3-1h0m1 2h0m0 10h0m1-8h0m1 0h0m1 2h0m1-4h0m0 2h0m0-2h0m1 2h0m1-3h0m0 8h0m1-1h0m0-8h0m1 11h0m0-2h0m0 2h0m1 0h0m1-3h0m1 3h0m0-4h0m2-5h0m1 0h0m0 4h0m0-4h0m0 3h0m0 5h0m1-2h0m1-6h0m0-1h0m2 3h0m0-2h0m0 1h0m0 4h0m1 4h0m0-4h0m1-1h0m1 1h0m0-1h0m1-6h0m1 10h0m0-8h0m1 2h0m0 5h0m0 0h0m0 0h0m0-1h0m1-1h0m1 2h0m0-9h0m0 1h0m1 4h0m1 6h0m0 1h0m0-8h0m0 2h0m1 3h0m0 3h0m0-1h0m0-11h0m1 6h0m0 1h0m0-6h0m0 9h0m1-5h0m0-1h0m0 5h0m0 0h0m0-7h0m0 1h0m0-2h0m0 7h0m1-4h0m2 4h0m0 3h0m0-3h0m1-2h0m0-2h0m0-3h0m0 0h0m1 10h0m0-4h0m0-6h0m1 8h0m0 3h0m3-8h0m0 2h0m0 5h0m1-10h0m0 10h0m1-5h0m0 0h0m0-1h0m1 2h0m0 1h0m0-5h0m1 4h0m0-4h0m0 9h0m0-4h0m0-1h0m1-4h0m0 0h0m1 5h0m1-5h0m0 7h0m1-6h0m0-3h0m0 8h0m0-5h0m1-3h0m1 2h0m0 4h0m0-1h0m0-5h0m0 6h0m1 4h0m0-8h0m1 5h0m0-5h0m1 2h0m1-1h0m1 3h0m1-6h0m1 3h0m0 1h0m1 1h0m1-5h0m1 1h0m0 6h0m1-1h0m1-4h0m1-1h0m2 7h0m1 2h0m7-9h0m0 4h0m1-1h0m2-4h0m1 1h0m2 5h0m3 3h0m0-4h0m1 2h0m5-6h0m2 10h0m5-5h0m4-4h0m-333 13h0m9 0h0m1-1h0m7-2h0m7 4h0m10 6h0m7 0h0m22-5h0m7 5h0m5-4h0m13 1h0m7-6h0m6 3h0m9 0h0m2-4h0m5 3h0m1 3h0m11 0h0m67-5h0m0 10h0m0-3h0m1-3h0m1-4h0m0 7h0m1 0h0m0 0h0m0-7h0m0 8h0m1-4h0m0 0h0m0 4h0m0-2h0m0-2h0m1 3h0m0-1h0m1-6h0m1 6h0m0-5h0m0 3h0m0-1h0m1 2h0m0 2h0m0-3h0m1 4h0m1-2h0m0-1h0m0 1h0m1-6h0m0 6h0m0 3h0m0-11h0m1 11h0m0-2h0m0-4h0m0 0h0m1 0h0m0 4h0m0-4h0m0 1h0m1 5h0m0-4h0m1-2h0m0 5h0m0-3h0m1-1h0m0-1h0m0 2h0m0-2h0m0 5h0m0-8h0m0 4h0m1 4h0m1-2h0m1-7h0m0 11h0m0-6h0m1 4h0m0-8h0m1 3h0m0-2h0m1 8h0m0-10h0m1 5h0m0-3h0m0 2h0m1-4h0m1 3h0m0 3h0m0-3h0m0 3h0m0-4h0m0 6h0m0-7h0m1 5h0m0-6h0m0 2h0m2 8h0m0-6h0m2-1h0m0-4h0m0 12h0m1-5h0m0 1h0m0-2h0m1-4h0m0-1h0m0 9h0m0-2h0m1 1h0m0-1h0m0-8h0m0 6h0m0 4h0m0-10h0m0 4h0m1-2h0m0 10h0m0-1h0m1-5h0m0-4h0m1 8h0m0 1h0m0-8h0m0-3h0m1 8h0m0-4h0m1-3h0m1 8h0m1-5h0m1 6h0m0-6h0m0 0h0m0 4h0m0 1h0m1-8h0m1 3h0m0 2h0m1 5h0m0-9h0m1 6h0m1 2h0m0 2h0m1-3h0m0-3h0m0-5h0m3 1h0m0 2h0m1 2h0m0 5h0m0-11h0m0 2h0m1 7h0m1 3h0m1-3h0m1 0h0m1-9h0m1 7h0m1 0h0m1-2h0m1 1h0m0-4h0m1 10h0m0-9h0m1 7h0m0-7h0m0 0h0m0 0h0m1-3h0m0 4h0m1 5h0m0-9h0m1 5h0m0-2h0m1 4h0m0 3h0m1-4h0m0-4h0m0 5h0m1-1h0m0 6h0m0-8h0m1 8h0m0-6h0m0-4h0m1 6h0m0-7h0m0 1h0m0 8h0m1-6h0m0 6h0m1 1h0m0 0h0m0-2h0m0-7h0m1 3h0m1-1h0m0 3h0m0-4h0m0-1h0m1 9h0m1-6h0m1-1h0m0-2h0m0 4h0m0-4h0m1 8h0m0 0h0m2-1h0m1-9h0m1 5h0m0 6h0m0-2h0m0 2h0m0-3h0m0 2h0m1 2h0m0-9h0m0 0h0m2-1h0m0-1h0m1 0h0m0 6h0m0-6h0m1 9h0m2-3h0m0 5h0m0-4h0m1-5h0m0 6h0m0-3h0m1 2h0m0-2h0m1 6h0m3-2h0m2-8h0m5 8h0m2-10h0m3 6h0m9-1h0m9 1h0m6-3h0m3 4h0m3-4h0m10 0h0m2-1h0m20 5h0m-397 15h0m11 2h0m25-8h0m35 0h0m3 2h0m17 1h0m1-4h0m7 7h0m13-3h0m0-3h0m28-3h0m17 4h0m4 0h0m0 0h0m1 6h0m64 0h0m1 1h0m1-4h0m0 4h0m0-4h0m1-2h0m1 3h0m2-2h0m0-7h0m0 12h0m0-10h0m1 4h0m0-1h0m0 5h0m0-2h0m1-6h0m1 5h0m0 5h0m1-9h0m1 3h0m0-2h0m1 2h0m0 4h0m3-2h0m0 3h0m0-5h0m1 0h0m0 4h0m0 2h0m0-11h0m0-1h0m0 8h0m1 1h0m0 2h0m0-3h0m1 1h0m2-9h0m0 2h0m0-1h0m0 2h0m0 7h0m1-3h0m0 3h0m1-7h0m0 4h0m0 3h0m0-10h0m1 1h0m0 5h0m0-6h0m0 6h0m1 4h0m0-10h0m0 4h0m1-4h0m1 3h0m0-2h0m2 6h0m1-6h0m0 4h0m0 0h0m1 0h0m0 1h0m1-2h0m1 0h0m0-1h0m0 1h0m0 1h0m1 2h0m1 0h0m0 1h0m1-3h0m0 4h0m1-5h0m0 3h0m1 0h0m0 4h0m1-2h0m0-4h0m0 5h0m2-10h0m1 8h0m1 2h0m2-9h0m0 5h0m0-3h0m1 7h0m0-1h0m0-2h0m0 3h0m0-2h0m1-7h0m0 9h0m0-4h0m0 2h0m1-5h0m0 8h0m0-6h0m1 0h0m0 0h0m1 2h0m0-5h0m0 7h0m0-4h0m1 1h0m0 3h0m1-2h0m0 2h0m1-7h0m1 2h0m1 2h0m1-6h0m1 4h0m0 7h0m0-10h0m0 3h0m0 6h0m0-3h0m1-2h0m1-4h0m0 5h0m1 2h0m0-6h0m1 5h0m1-6h0m2 7h0m0 0h0m1-2h0m1 5h0m0-2h0m0-7h0m2 3h0m0-3h0m1 3h0m0 6h0m3-6h0m1 6h0m0-8h0m0 7h0m0-9h0m0 1h0m1 9h0m0-8h0m0 8h0m0-2h0m0-3h0m0-4h0m0 3h0m3-3h0m0 6h0m0-2h0m1 1h0m0-4h0m0 3h0m0 1h0m1-5h0m0 6h0m1-7h0m0 0h0m0 0h0m1 7h0m1-3h0m0 4h0m1-1h0m0-5h0m0 1h0m0-1h0m1 5h0m1-4h0m1 8h0m0-9h0m1 1h0m0 0h0m0 4h0m1-5h0m0 6h0m1-2h0m1 1h0m1-8h0m0 1h0m1 5h0m0-3h0m0 8h0m1-1h0m1-9h0m0 2h0m0 9h0m1-5h0m2-3h0m1 4h0m0-5h0m2 4h0m11 3h0m2-3h0m5-2h0m2 6h0m1-6h0m14 5h0m1-8h0m6 9h0m13-7h0m1300 6h0m-1630 4h0m14 3h0m2 1h0m7-4h0m3 1h0m3 5h0m8 1h0m2-3h0m1 6h0m3-4h0m2 2h0m9-2h0m15 3h0m1-8h0m1 2h0m1-5h0m24 6h0m3-2h0m1-2h0m7 7h0m5 3h0m63-4h0m1 0h0m1 0h0m0 3h0m0-6h0m1-4h0m0 1h0m0 0h0m0 8h0m0 0h0m0-2h0m1-1h0m1 5h0m0-9h0m0-1h0m0 4h0m0 2h0m1 2h0m0-6h0m1 1h0m0 5h0m1-3h0m0-3h0m0 2h0m1 0h0m0-4h0m2 8h0m0-8h0m0 7h0m0-1h0m0-4h0m0 3h0m0-5h0m0 8h0m1-8h0m2 5h0m0 4h0m0-11h0m1 3h0m0 3h0m0-6h0m1 11h0m0-10h0m0 10h0m0-2h0m0-2h0m0-2h0m0 3h0m1-7h0m0 9h0m0-1h0m1-4h0m2-1h0m0 6h0m1-9h0m0 2h0m1-1h0m1 1h0m0 9h0m0-11h0m1 3h0m0 2h0m1 1h0m0 3h0m2-3h0m1 5h0m0-8h0m0 3h0m1-3h0m0 1h0m1 5h0m0 1h0m1-11h0m2 3h0m0 5h0m1-2h0m0 1h0m0 5h0m0-10h0m1 6h0m0-3h0m0-4h0m0 0h0m1 2h0m0 3h0m0 2h0m1-1h0m0-4h0m0-1h0m4 8h0m0 1h0m0-8h0m1 7h0m1-3h0m1-6h0m0 8h0m0-1h0m0-4h0m0-3h0m0 7h0m0-1h0m1-6h0m0 3h0m0 6h0m0-9h0m1 2h0m1 0h0m1-1h0m0 7h0m0-6h0m0 1h0m0-3h0m1-1h0m1 11h0m0-9h0m0 4h0m1-1h0m1 2h0m0-7h0m1 8h0m0 1h0m0-7h0m1-1h0m1 0h0m2 10h0m0-8h0m0 8h0m1-8h0m0 1h0m1-4h0m1 4h0m1-2h0m0 8h0m2 0h0m0 0h0m1-3h0m0 0h0m0 5h0m1-10h0m0-1h0m0 4h0m1 2h0m0 4h0m1-5h0m0-4h0m0 9h0m0 0h0m0-7h0m1 7h0m0-8h0m1 3h0m2 4h0m1 0h0m0-7h0m1-3h0m0 0h0m1 3h0m0 1h0m0 4h0m1-3h0m1 6h0m0 0h0m1-1h0m1-3h0m0 4h0m1-10h0m0 7h0m0-5h0m1 8h0m0-7h0m0 5h0m0-5h0m2 0h0m0-2h0m2 3h0m0-3h0m1 1h0m1 5h0m0-5h0m1 4h0m0-6h0m0 1h0m0 4h0m0-4h0m0 0h0m1 5h0m0-5h0m0 3h0m1 1h0m1 0h0m1 6h0m0-4h0m0-3h0m1-2h0m0 7h0m0-9h0m2 7h0m1-6h0m1 3h0m4 5h0m2-5h0m3 5h0m2-4h0m6-1h0m10-4h0m4 10h0m1-1h0m10-4h0m6 6h0m3-11h0m1 10h0m1295-7h0m-1605 9h0m8 7h0m9 3h0m5-9h0m4 9h0m2-6h0m3 0h0m2-1h0m9 3h0m5 2h0m4-7h0m2 9h0m3-9h0m0 4h0m4 6h0m1-11h0m5 5h0m0-6h0m4 9h0m1 1h0m5 0h0m6-9h0m8 7h0m1-5h0m0-1h0m6 0h0m1 1h0m65 2h0m0 0h0m1 2h0m0 2h0m1-3h0m1 5h0m0 1h0m0-11h0m1-1h0m0 10h0m0-2h0m0-1h0m1-3h0m0 1h0m0 1h0m1-1h0m2-4h0m0 7h0m1 1h0m0-2h0m0 2h0m0 1h0m0-6h0m1-3h0m0 3h0m1-4h0m0 6h0m0 2h0m0-2h0m1 2h0m0 2h0m0-9h0m1 10h0m0-6h0m0-2h0m1 4h0m0-2h0m0 1h0m0-4h0m1-1h0m1 3h0m0 3h0m0-6h0m0 9h0m0-3h0m2-6h0m0 5h0m1-4h0m0 1h0m0 3h0m2-2h0m0-4h0m0 9h0m2-8h0m0 1h0m0 1h0m1 6h0m1-6h0m0 1h0m0 3h0m0-1h0m1 4h0m0-6h0m0 0h0m1 1h0m0-5h0m0 8h0m1-3h0m0 3h0m0 1h0m0 1h0m1 0h0m1-1h0m1-6h0m1 0h0m0 0h0m0 7h0m0 2h0m1-4h0m0 1h0m1-5h0m0 4h0m3-6h0m1 7h0m0-8h0m0 10h0m0-2h0m0-8h0m0 4h0m0-3h0m1-1h0m0 1h0m0 1h0m1-2h0m1 0h0m0 1h0m0 3h0m1 0h0m0 5h0m0-6h0m2 4h0m0 4h0m1-9h0m0-3h0m1 10h0m1-7h0m0-2h0m0-1h0m1 9h0m0-8h0m0 2h0m2 1h0m2 6h0m0 1h0m2-1h0m0-9h0m0 10h0m0-4h0m1 4h0m0-1h0m0 0h0m0-8h0m1 8h0m0-8h0m0-1h0m1 2h0m0 1h0m0 5h0m1-1h0m0-4h0m1 2h0m2 0h0m0 5h0m0-11h0m2 5h0m0 3h0m0-4h0m0-2h0m1 4h0m0-2h0m0-1h0m2 6h0m0 1h0m0-4h0m0 2h0m1 3h0m1-11h0m0 9h0m0-6h0m1 6h0m0 2h0m0-7h0m1 0h0m1 5h0m0 0h0m0-5h0m0 7h0m1-10h0m0 9h0m0 2h0m0-8h0m0 7h0m1-11h0m2 7h0m0-6h0m0 2h0m1 0h0m0 0h0m1 6h0m0-9h0m0 11h0m1-7h0m1 3h0m0 2h0m1-2h0m0-7h0m0 7h0m1 4h0m0-2h0m0-7h0m0 2h0m1-4h0m1 3h0m1 0h0m0 0h0m0 6h0m0 3h0m1-2h0m1-8h0m1-1h0m0 10h0m1 0h0m0-5h0m0 0h0m1 4h0m0 0h0m1-2h0m2-5h0m0 3h0m1-5h0m1 11h0m3-7h0m3-1h0m2-1h0m4-1h0m1-1h0m6 5h0m1 3h0m1-4h0m3-3h0m8-2h0m6 5h0m4-3h0m0 4h0m0-6h0m4 1h0m7 0h0m1064 10h0m17 0h0m231-2h0m-1656 5h0m15 2h0m3 3h0m13-2h0m8-4h0m2 7h0m2-3h0m1 6h0m5-8h0m9 8h0m2-5h0m24 2h0m2-7h0m0 0h0m3 8h0m2-6h0m0 4h0m2 3h0m2-6h0m4 5h0m1-5h0m2-2h0m5 4h0m1 1h0m2-2h0m4 2h0m1-6h0m4-1h0m2 0h0m5 6h0m8-1h0m61 6h0m0-5h0m1-5h0m1 1h0m0-1h0m0 9h0m0-1h0m2 0h0m0-8h0m0 1h0m1 8h0m0-3h0m0 2h0m0-7h0m0 3h0m1 2h0m0 3h0m0-3h0m0-6h0m1 9h0m0-8h0m1 10h0m0-1h0m0-3h0m1-1h0m0-4h0m0 7h0m0-2h0m0-1h0m1 4h0m0-5h0m0 2h0m1 3h0m0-3h0m1-2h0m0-1h0m1 7h0m0-10h0m0 0h0m1 9h0m0-11h0m1 11h0m0-8h0m0 2h0m0 3h0m0 4h0m2-8h0m0 2h0m1 4h0m0-9h0m0 1h0m0 3h0m0-3h0m1 1h0m0 5h0m0-6h0m1 7h0m0 1h0m1-5h0m1 1h0m1 0h0m1-5h0m1 1h0m0 3h0m0 1h0m1 2h0m1 0h0m0-4h0m0 5h0m0-3h0m1-3h0m0-1h0m0-1h0m0 0h0m0 0h0m1 4h0m0 0h0m0-3h0m1 8h0m2 2h0m0-12h0m0 4h0m1 7h0m0-1h0m1-1h0m0-7h0m0 5h0m0 4h0m0-6h0m1-4h0m0 0h0m1 6h0m1-2h0m0-4h0m0 7h0m1-1h0m0-1h0m1 0h0m0-4h0m0 10h0m1-5h0m0-4h0m1 0h0m0-2h0m1 10h0m0-2h0m1-9h0m0 2h0m1 5h0m1 0h0m1-2h0m0 4h0m0-1h0m1-3h0m0-2h0m0-2h0m0 9h0m1-9h0m0 5h0m0-1h0m0 4h0m1 1h0m0-8h0m1 2h0m1 6h0m0-10h0m2 6h0m0 4h0m2-9h0m0 0h0m1 8h0m0-6h0m1 3h0m0 5h0m0-3h0m2-1h0m0 4h0m1-1h0m0-7h0m1-2h0m0 3h0m0 2h0m0 1h0m0 0h0m0-3h0m1-2h0m1 10h0m0-3h0m0-2h0m1 3h0m1-7h0m0 9h0m0-2h0m1-3h0m0 1h0m0 3h0m1-6h0m0 5h0m0-8h0m1-1h0m0 7h0m0-3h0m3-3h0m0-2h0m1 3h0m0 0h0m0 3h0m1 4h0m0-9h0m1 1h0m0 7h0m1-3h0m0-5h0m1 5h0m1 0h0m1-4h0m0 2h0m1 6h0m0-2h0m0-6h0m0 8h0m0-1h0m2 2h0m2-4h0m1-4h0m0-2h0m0 10h0m0-11h0m1 4h0m0-1h0m0 6h0m1 0h0m0 3h0m0-11h0m1 4h0m1 1h0m0-2h0m1-1h0m1 9h0m1-3h0m3-8h0m4 3h0m1-2h0m1-1h0m7 8h0m5-7h0m2 6h0m2-8h0m9 5h0m3 0h0m2 3h0m4 4h0m2-10h0m5 10h0m2-3h0m26 0h0m5-2h0m1011 4h0m6-4h0m6-1h0m1-4h0m0 3h0m1 5h0m2 1h0m5-6h0m7 0h0m1-2h0m2 8h0m3-3h0m14-6h0m15-2h0m-1437 16h0m4 2h0m1-2h0m1 3h0m22 3h0m7-9h0m17 3h0m1 4h0m0 3h0m4-8h0m3 1h0m0 4h0m1 2h0m10-5h0m2-3h0m2 5h0m4-4h0m0 4h0m4 1h0m0-2h0m2-3h0m11 3h0m1 3h0m1-9h0m3 6h0m3-6h0m2 8h0m0-5h0m1 4h0m0 2h0m13-8h0m0 0h0m0 0h0m11 1h0m1 8h0m3-6h0m54-3h0m1 5h0m1 1h0m0-6h0m0 4h0m0 1h0m1 5h0m0-1h0m0-4h0m3-6h0m1 10h0m0-1h0m0-5h0m0 2h0m1 1h0m1-5h0m0 8h0m0-1h0m0 3h0m1-4h0m0-1h0m0 3h0m1 0h0m1-6h0m1 4h0m0 0h0m1 3h0m2-10h0m0 6h0m0 2h0m0-7h0m1-2h0m0 1h0m1 0h0m0 0h0m0 7h0m0-4h0m1-2h0m0 10h0m1-1h0m0-5h0m0-5h0m1 4h0m0-3h0m1 3h0m0 3h0m0 0h0m1-1h0m0 4h0m0-8h0m0 5h0m0-3h0m0 3h0m1-2h0m0 0h0m0 5h0m0-11h0m2 5h0m0 5h0m0-7h0m1 6h0m0-5h0m0-3h0m0 4h0m1 2h0m0-1h0m0 4h0m1-2h0m1 0h0m0-5h0m0 5h0m0-7h0m1 10h0m0-6h0m1-4h0m0 2h0m0 2h0m1 4h0m0 0h0m1-7h0m0 1h0m0 2h0m1-3h0m0 1h0m2 9h0m1-4h0m0-5h0m1 3h0m0-2h0m0-3h0m1-1h0m0 10h0m1-5h0m0-1h0m1-2h0m1 8h0m0-7h0m1 3h0m0-3h0m0-2h0m1 0h0m0 1h0m0 2h0m0 2h0m2 3h0m1-1h0m0-2h0m1-2h0m1 3h0m0 1h0m0 3h0m0-7h0m1 5h0m1-9h0m0 5h0m0 6h0m1-4h0m1 5h0m1-4h0m0-6h0m0-2h0m1 7h0m0-5h0m1 0h0m0-2h0m1 1h0m1 6h0m1-4h0m0-3h0m0 1h0m0 0h0m0 9h0m1-5h0m0-4h0m0 6h0m1-4h0m0 3h0m0-3h0m0 7h0m0-1h0m1-5h0m0 8h0m0-5h0m1 4h0m0-11h0m0 1h0m1 5h0m0-2h0m0 2h0m1 3h0m0 2h0m1 0h0m1-1h0m1 1h0m1-5h0m0 5h0m0-9h0m0 7h0m0-4h0m1-1h0m0 1h0m0 1h0m1-5h0m0 1h0m0 5h0m0 2h0m2-8h0m0 1h0m0 3h0m1 2h0m0-1h0m0-2h0m1-3h0m0 7h0m0-5h0m0-2h0m1 6h0m0-4h0m0 2h0m1 1h0m0-2h0m0 6h0m0-9h0m0 11h0m0-1h0m0-2h0m0 3h0m1-8h0m0 8h0m1-8h0m0 3h0m0 2h0m0-4h0m1 7h0m0-5h0m0-6h0m1 7h0m1-7h0m1 6h0m0 2h0m0-6h0m1-2h0m1 2h0m1 2h0m0 1h0m1-2h0m1 4h0m1-1h0m0-3h0m2-4h0m9 10h0m6-5h0m2 0h0m1-3h0m4-1h0m5 3h0m10 8h0m6-1h0m6-9h0m26 6h0m11 2h0m9-6h0m996 2h0m4 1h0m1-5h0m3 5h0m2-6h0m1 5h0m1 3h0m0 0h0m2-2h0m4-1h0m3 4h0m0-9h0m0 7h0m0 1h0m2-6h0m0 4h0m3-6h0m2 9h0m3-10h0m0 2h0m3 6h0m1-4h0m6 7h0m2-2h0m5 0h0m2-7h0m2 0h0m5 1h0m3 7h0m-1438 7h0m50-4h0m1 7h0m1 3h0m3 0h0m1-1h0m0-10h0m7 11h0m1-3h0m2-6h0m2 3h0m2-3h0m2 7h0m2-5h0m4 0h0m3 1h0m1 1h0m1 2h0m1 2h0m1-3h0m4-2h0m7 2h0m6 2h0m1-4h0m0-2h0m19 8h0m1-9h0m5 6h0m8-8h0m3 4h0m51 1h0m1 2h0m0-2h0m0 6h0m1 1h0m2-10h0m0 3h0m0-3h0m0 5h0m1-2h0m0 4h0m1 1h0m0-4h0m1-3h0m0 8h0m0-3h0m0 0h0m1 4h0m0-3h0m0-2h0m2 2h0m0-1h0m1-7h0m1 2h0m0-3h0m0 9h0m0 1h0m0 1h0m1-10h0m0 2h0m1 5h0m0 4h0m0-2h0m0-8h0m0-2h0m1 10h0m0-1h0m2-7h0m0 4h0m1-3h0m2 2h0m0 5h0m0-5h0m1-2h0m0 9h0m1-9h0m0 7h0m0-2h0m0-7h0m1 1h0m0 4h0m0 4h0m0-10h0m1 5h0m0-3h0m0 9h0m1-6h0m0 0h0m1 3h0m0 4h0m1-9h0m0 9h0m1-4h0m0 0h0m0-4h0m1 5h0m0-4h0m0 6h0m1-8h0m0 6h0m0 0h0m0-5h0m1 0h0m0 8h0m0-4h0m1-7h0m0 0h0m2 9h0m0 0h0m0-1h0m1-2h0m0 2h0m0-1h0m0-4h0m0 1h0m0-3h0m0 6h0m1-4h0m0-3h0m0 4h0m1-2h0m1-1h0m0 0h0m0 9h0m1-9h0m0 9h0m0-7h0m1 6h0m0-1h0m0 2h0m1 1h0m0-9h0m1-2h0m0 9h0m0-8h0m1 6h0m2-5h0m0-2h0m1 8h0m0-6h0m0 1h0m0 0h0m0 1h0m2 4h0m0 0h0m0-8h0m1 6h0m0-5h0m0-1h0m0 1h0m2 1h0m0 7h0m0-8h0m0 10h0m1-6h0m0 0h0m0 1h0m1-2h0m0-4h0m0 2h0m1 5h0m0 0h0m2 0h0m0 0h0m0-5h0m0 2h0m0 0h0m1 2h0m0 1h0m1-6h0m2 9h0m0-1h0m1-5h0m0-3h0m0-1h0m0 5h0m1-2h0m1 0h0m0-2h0m0 8h0m0-2h0m1-4h0m0 5h0m2-4h0m0 6h0m0-1h0m0-1h0m0-4h0m0-1h0m1 0h0m0 7h0m0-2h0m3-2h0m1-1h0m0-2h0m0 1h0m0 4h0m1 2h0m0-8h0m0-3h0m1 11h0m1 0h0m0-1h0m0-2h0m0-6h0m0 8h0m1 0h0m0-4h0m0 5h0m0-10h0m1 6h0m0 2h0m1-8h0m0 0h0m0 0h0m0 7h0m0-2h0m2 5h0m0-10h0m1 3h0m0 6h0m1 0h0m0-2h0m1 0h0m1-1h0m0-2h0m1-3h0m0 1h0m0-2h0m1 5h0m1 1h0m0-2h0m0 3h0m2-1h0m0 3h0m0-3h0m4 4h0m0-4h0m2-7h0m2 2h0m8 4h0m9-2h0m10-2h0m2 0h0m3 5h0m8-4h0m6-2h0m15 7h0m2 1h0m1037-8h0m1 3h0m0 7h0m2-7h0m0 0h0m3 4h0m1 2h0m1 0h0m0-4h0m0-1h0m1 6h0m2-10h0m0 9h0m0-2h0m0-2h0m2 3h0m2-3h0m1 1h0m1-3h0m1 5h0m0 3h0m2-8h0m0-4h0m3 7h0m2 3h0m2 1h0m0-5h0m1-5h0m0 1h0m1 7h0m1-7h0m0 6h0m0-1h0m4-1h0m0-2h0m0 0h0m0 8h0m1-11h0m4 4h0m0 3h0m2 1h0m1-9h0m1 8h0m0-4h0m0 7h0m3-3h0m2-6h0m1 6h0m3 2h0m4-10h0m4 6h0m1 4h0m6-8h0m9 7h0m-1462 13h0m57-7h0m5-2h0m7 6h0m0 3h0m0 1h0m1-8h0m0-2h0m1 4h0m2 1h0m3-4h0m7 7h0m5 1h0m0-6h0m1-1h0m1 2h0m0 6h0m2-2h0m6-3h0m3-5h0m0 1h0m2 6h0m1 1h0m1 2h0m4-4h0m0 1h0m4 4h0m0-3h0m6 1h0m3-9h0m1 3h0m1 7h0m10-7h0m1-1h0m1 0h0m1 2h0m1 6h0m1-9h0m1 6h0m52-4h0m0 6h0m0-2h0m1-6h0m0 7h0m0-3h0m0 1h0m0-7h0m1 11h0m1-4h0m0 0h0m0 2h0m0-2h0m1-2h0m2 5h0m0-7h0m1-1h0m0 2h0m0-3h0m1 5h0m1 3h0m1 3h0m0-9h0m0 4h0m1-1h0m0 3h0m0-1h0m2-2h0m0 0h0m1 6h0m0-9h0m1-1h0m0 3h0m1 3h0m0-1h0m1 3h0m0-10h0m1 10h0m0 0h0m1-7h0m0 6h0m1-4h0m0 3h0m0 2h0m2-7h0m0 4h0m0 2h0m1-4h0m0-2h0m0-1h0m1 10h0m0-5h0m0-3h0m0 8h0m0-2h0m1-10h0m0 2h0m1 2h0m1 7h0m1 0h0m0-4h0m0-3h0m1-3h0m1 1h0m0 3h0m0 4h0m1-2h0m0 1h0m0-7h0m1 5h0m0 3h0m0-3h0m0-5h0m0 2h0m0-3h0m0 9h0m0 0h0m1-4h0m0-4h0m0-1h0m1 4h0m0 7h0m0-9h0m2 3h0m0-4h0m1 3h0m0 4h0m1 0h0m0-3h0m0-5h0m1 5h0m0-1h0m1 4h0m0 0h0m1 3h0m1-7h0m0 6h0m0-7h0m0 7h0m1-3h0m1 4h0m0-9h0m0 7h0m1 1h0m0-7h0m0-1h0m1 9h0m0-4h0m0 5h0m0-8h0m1 8h0m1-7h0m1-2h0m0-2h0m1 3h0m0-2h0m0 3h0m0-5h0m1 3h0m0 1h0m0 5h0m1-8h0m0 4h0m1 3h0m1 4h0m0-8h0m1 1h0m0-3h0m1 3h0m0 6h0m0-3h0m0 3h0m0-1h0m0-10h0m1 3h0m0 7h0m0-2h0m1-2h0m0-1h0m0 6h0m0-8h0m1 8h0m0-1h0m1-8h0m0 9h0m0-11h0m1 11h0m1-11h0m2 7h0m0-5h0m0 2h0m2 1h0m1-4h0m0 0h0m0 10h0m1-5h0m1 1h0m0 4h0m0-8h0m1 8h0m0-7h0m0 2h0m0 3h0m1-6h0m1-1h0m0-1h0m0 10h0m2-6h0m0-2h0m0 2h0m0 7h0m1-6h0m0 1h0m0-1h0m0 0h0m1-5h0m0 6h0m0 0h0m1-1h0m0-1h0m1 3h0m0-8h0m0 6h0m1 1h0m1 4h0m1-10h0m2 6h0m0 0h0m0-6h0m1 11h0m0-7h0m0 4h0m1-3h0m1 4h0m1-1h0m0 3h0m1-4h0m2-5h0m5 7h0m0-4h0m1-5h0m5 4h0m1 6h0m0-10h0m1 5h0m0 4h0m0 2h0m4-2h0m0-6h0m5-3h0m2 8h0m2-2h0m3-3h0m7-1h0m1 7h0m5-7h0m4 8h0m4-10h0m9 10h0m4-6h0m0-3h0m2 6h0m1034 0h0m0 4h0m3-6h0m0 6h0m1-6h0m5-5h0m0 4h0m4 3h0m1-3h0m0-5h0m1 8h0m1-8h0m1 4h0m1 3h0m0 4h0m0-1h0m1-5h0m3 5h0m0-10h0m8 3h0m1 2h0m3 1h0m2 0h0m1-2h0m0-1h0m1 8h0m1-10h0m0 9h0m0-3h0m0-2h0m1-1h0m1 0h0m0 4h0m1 3h0m2-3h0m1-4h0m0 7h0m0 0h0m3-10h0m2 8h0m1-4h0m0 5h0m0 0h0m2-2h0m7 1h0m0-5h0m2-1h0m0-1h0m1 6h0m1 3h0m11-2h0m0-2h0m5 0h0m6-3h0m1 0h0m5-3h0m-1496 15h0m61-1h0m1 1h0m1-1h0m11 2h0m12 4h0m1-5h0m4 1h0m0-4h0m1 0h0m3 0h0m6 9h0m1 1h0m1-4h0m2 2h0m5 0h0m1-4h0m2 0h0m1 3h0m5 2h0m1-6h0m4 5h0m3-3h0m2 2h0m2-1h0m9-5h0m0-1h0m0 8h0m1-5h0m0 2h0m1-5h0m3 10h0m1-2h0m2-8h0m4 0h0m5 5h0m0-3h0m2 0h0m5 9h0m46 0h0m3-6h0m0-3h0m0-1h0m0 1h0m0 6h0m1-1h0m0 1h0m0 2h0m1-9h0m1 5h0m1-5h0m0-1h0m0 9h0m0-8h0m0-1h0m0 1h0m0 10h0m1-2h0m0-4h0m0 4h0m0-1h0m0-8h0m1 11h0m0-6h0m0 2h0m1-3h0m0 1h0m0-5h0m0 9h0m1 1h0m0-7h0m0-1h0m1 2h0m0 3h0m1-7h0m0 9h0m0-5h0m1 3h0m0-2h0m1-4h0m0 5h0m0-3h0m1 4h0m1-8h0m1 0h0m0 4h0m0-4h0m1 1h0m0 10h0m2-6h0m1 5h0m1 0h0m0 0h0m1 2h0m0 0h0m0 0h0m1-1h0m0-6h0m0 0h0m1 6h0m1-5h0m0 6h0m0-2h0m0-3h0m1-6h0m1 3h0m0 6h0m1-4h0m0 1h0m0 1h0m0-1h0m1 3h0m1-1h0m0 0h0m2 0h0m0 1h0m2-3h0m0 3h0m0-6h0m0 3h0m0-6h0m1 10h0m1-5h0m0 5h0m2-7h0m0 3h0m1-5h0m0 9h0m1-3h0m1 1h0m0-7h0m1 0h0m0 3h0m1 5h0m0-2h0m0-1h0m0 1h0m1-3h0m2 5h0m0-2h0m0-4h0m1 6h0m0-9h0m1 2h0m1 9h0m0-5h0m0 3h0m1-2h0m0-6h0m1 9h0m1-3h0m0 4h0m0-9h0m1-2h0m0 3h0m1-1h0m0 3h0m0-2h0m0-3h0m0 3h0m1 8h0m0-2h0m1-4h0m0 0h0m0-4h0m0 6h0m0-6h0m0 0h0m1 9h0m0-10h0m2 3h0m0-3h0m1 10h0m0-11h0m1 6h0m1-2h0m0 4h0m1-4h0m0 2h0m0-5h0m0 7h0m1 1h0m0-1h0m0-6h0m0 1h0m1 5h0m1-5h0m1-1h0m0 3h0m0 5h0m1-8h0m0 10h0m1-9h0m0 5h0m2 0h0m0-2h0m0-4h0m0 9h0m1 0h0m0-9h0m0 9h0m0-4h0m0-3h0m1 7h0m0-9h0m0 8h0m1 1h0m0 1h0m0-11h0m1 6h0m0-2h0m0 5h0m0 2h0m0-8h0m2 2h0m0 4h0m2 1h0m0-3h0m0-7h0m1 0h0m0 1h0m0 3h0m0 6h0m3-1h0m0-7h0m0 9h0m1-6h0m0-4h0m0 1h0m1 4h0m0-3h0m0 1h0m1 2h0m0-4h0m1-3h0m0 5h0m1 6h0m0-7h0m7 4h0m2-5h0m1 7h0m7-5h0m2 2h0m5-6h0m4 0h0m5 9h0m7-2h0m0-7h0m5 6h0m2-1h0m3 3h0m23-4h0m1029 0h0m6-1h0m0 0h0m1 8h0m0-7h0m1 6h0m1-3h0m1 2h0m1 1h0m3-3h0m1-4h0m2-2h0m1 10h0m3-2h0m1-8h0m0-2h0m1 5h0m1 2h0m0-6h0m4 5h0m2-6h0m2 6h0m0 3h0m1-3h0m0 0h0m3-3h0m1-2h0m2 0h0m1 10h0m0-7h0m0-3h0m1 8h0m1 1h0m2 1h0m1-1h0m2-2h0m4-6h0m2 6h0m0-5h0m1-1h0m0-2h0m0 0h0m2 3h0m2 3h0m1 3h0m1-5h0m0 3h0m2 0h0m2-2h0m0 3h0m1 2h0m4-7h0m2 7h0m6 1h0m3-9h0m8 2h0m-1437 19h0m21-7h0m5-3h0m1 0h0m0 10h0m3 0h0m11-5h0m1-2h0m2 3h0m0 1h0m2-1h0m2-6h0m2 6h0m0 3h0m3-4h0m1-2h0m3 4h0m3-7h0m2 9h0m8-5h0m2 2h0m0 3h0m1-3h0m1-6h0m4 11h0m8-11h0m4 8h0m2-7h0m1 10h0m1-11h0m3 5h0m1 2h0m1 1h0m6-3h0m1 1h0m3-4h0m49 6h0m1 0h0m1 0h0m0-3h0m0 4h0m1 0h0m0 1h0m0-5h0m0-3h0m1 1h0m0-2h0m1 5h0m0-2h0m1-4h0m0 8h0m1-7h0m0 4h0m0 6h0m1-11h0m0 2h0m0 7h0m1 2h0m0-4h0m1 2h0m0-8h0m0 10h0m0-1h0m1-5h0m0 6h0m1-6h0m0 2h0m0 2h0m0-4h0m1 6h0m0-2h0m1-4h0m0-5h0m1 11h0m0-4h0m0-4h0m0-4h0m1 8h0m0-6h0m1 7h0m1-3h0m0 5h0m0-2h0m0-7h0m0 2h0m1-2h0m0 6h0m0-7h0m0 9h0m2-7h0m1 2h0m0 0h0m0 0h0m1 5h0m0-7h0m0 9h0m0-12h0m1 10h0m0-6h0m1 4h0m0-6h0m0 0h0m0 4h0m0-4h0m1-2h0m2 5h0m0-4h0m0 0h0m1 0h0m0-1h0m0 6h0m0 5h0m1-9h0m0 1h0m0 0h0m1 7h0m1-1h0m0-6h0m0 7h0m0-9h0m1 8h0m0-5h0m0-2h0m1 4h0m0-4h0m1 2h0m0 1h0m0-2h0m0-1h0m0 2h0m1-1h0m0-2h0m0 10h0m1-11h0m0 7h0m1 1h0m1-3h0m0 1h0m0-1h0m0 2h0m0 1h0m0 3h0m0-5h0m1-1h0m0 7h0m0-11h0m0 11h0m1-11h0m0 0h0m2 7h0m1 4h0m0-4h0m1 2h0m1-7h0m0 9h0m1-10h0m0 10h0m0-5h0m1-6h0m0 5h0m1 3h0m0 0h0m1-6h0m0-1h0m0 7h0m1-4h0m0-3h0m1 9h0m0-6h0m0-4h0m2 10h0m0-5h0m1 0h0m1 3h0m0-3h0m0-5h0m1 0h0m1 4h0m1 4h0m1-2h0m1-7h0m0 11h0m0-8h0m0 4h0m1-4h0m0 1h0m1 7h0m0-4h0m1-4h0m1 5h0m0 1h0m0 0h0m1-6h0m0 1h0m0 2h0m0-5h0m0 5h0m0 3h0m0-2h0m0-6h0m1 1h0m0 0h0m1 10h0m0-3h0m1-8h0m1 4h0m1 0h0m1 1h0m0 3h0m0-7h0m0 1h0m1 2h0m1 5h0m0 1h0m0-4h0m0 0h0m1-5h0m1 3h0m0 2h0m2 0h0m0-5h0m0 5h0m1 3h0m0-6h0m1-4h0m0 6h0m1 0h0m2-4h0m0 4h0m0-3h0m1 2h0m0 2h0m1-4h0m0 3h0m1-1h0m0-2h0m0 3h0m1-4h0m1 7h0m1 3h0m0-4h0m1-7h0m0 10h0m0-1h0m0-9h0m1 1h0m2 5h0m1 4h0m0-10h0m6 7h0m2 0h0m5 0h0m4-2h0m6 2h0m4 3h0m1-2h0m1-4h0m0 3h0m0 0h0m6 2h0m19-1h0m14-5h0m1-1h0m3 4h0m1028-6h0m0 10h0m0-2h0m2 2h0m1-1h0m3-7h0m0 3h0m1 5h0m0-11h0m1 8h0m1 1h0m1 0h0m3-3h0m0-3h0m1 4h0m0 2h0m0-5h0m3-1h0m3 0h0m1 4h0m1 3h0m0-5h0m0 1h0m1 0h0m0-2h0m1 6h0m0-6h0m1-3h0m0 9h0m1-7h0m0 6h0m0-3h0m2-2h0m2 5h0m0-6h0m2 1h0m1 2h0m3-2h0m0 1h0m1 5h0m0 2h0m0-7h0m0 4h0m0-1h0m1-1h0m0 2h0m1-1h0m3-5h0m0 6h0m1-6h0m1-3h0m2 3h0m0-3h0m2 5h0m2-1h0m0 1h0m2 1h0m1 5h0m0-8h0m1-1h0m2 6h0m2-7h0m2 6h0m1-3h0m1-1h0m2 9h0m2-5h0m3 3h0m2-10h0m1 9h0m0 1h0m0-9h0m1-1h0m3 11h0m17-6h0m11-1h0m-1450 15h0m5 2h0m0-2h0m12 4h0m3-9h0m7 5h0m0-6h0m1 2h0m1 2h0m0 6h0m3 0h0m2-4h0m1-3h0m0 6h0m2-10h0m1 0h0m1 11h0m5-7h0m1 2h0m2-5h0m0 5h0m3 2h0m4-7h0m0 2h0m1 8h0m6-6h0m1-3h0m0 1h0m3 0h0m7 2h0m2 6h0m0-6h0m1 3h0m6 2h0m5-6h0m3 1h0m1 3h0m6-4h0m1 5h0m1-5h0m1 2h0m0 5h0m0-3h0m1-3h0m0-2h0m1 6h0m1-1h0m3-5h0m2-3h0m1 10h0m0-4h0m3 4h0m38-7h0m1 7h0m1-2h0m0-5h0m1 0h0m0 2h0m0-4h0m1 7h0m0-2h0m0-5h0m3 8h0m0-1h0m0 2h0m0-4h0m1-3h0m0 3h0m0-3h0m1-1h0m0 1h0m0 6h0m0-5h0m1 4h0m0 3h0m0-9h0m1 0h0m0 3h0m0 6h0m0 0h0m1-3h0m0-7h0m1 8h0m0 0h0m0 1h0m1-3h0m0-4h0m0 7h0m0 2h0m0-11h0m0 3h0m1 5h0m1-8h0m0 10h0m0-6h0m1-4h0m0 5h0m1 4h0m1-9h0m0 3h0m0-2h0m1-1h0m1 0h0m0 5h0m0 1h0m1-7h0m0 11h0m1-9h0m1 2h0m0 6h0m1 0h0m1-10h0m0 4h0m1 1h0m0 4h0m1-6h0m0 9h0m1-1h0m0-7h0m0 6h0m0-6h0m1 7h0m0-6h0m0 4h0m1-7h0m0 3h0m0 7h0m0-2h0m1-7h0m1-2h0m0 5h0m0 2h0m0-2h0m0 3h0m0-9h0m2 8h0m0 4h0m1-6h0m0-4h0m0 3h0m1 6h0m0-1h0m0-3h0m0-4h0m1 9h0m0-9h0m1 8h0m0-5h0m0-6h0m1 4h0m0-4h0m2 1h0m1 9h0m0-8h0m0 0h0m1 9h0m2-5h0m1 6h0m1-7h0m1 3h0m0-6h0m0 3h0m0-5h0m1 10h0m1-3h0m1-4h0m1-2h0m0 9h0m0-7h0m1 9h0m0-12h0m0 0h0m1 8h0m0-1h0m1 4h0m0-3h0m0 0h0m0 1h0m0-7h0m1 2h0m0-2h0m0 5h0m2-2h0m1 1h0m1-1h0m0 2h0m1-2h0m0-5h0m1 4h0m0-3h0m0 9h0m1-5h0m0 1h0m1-5h0m0 8h0m1 3h0m0-4h0m0 1h0m1 1h0m1-4h0m1 3h0m1-5h0m0 5h0m1 0h0m2-2h0m0 0h0m1 0h0m0-6h0m0 11h0m0-3h0m2-8h0m1 3h0m0-1h0m0 2h0m2-3h0m0 10h0m1-5h0m0 1h0m1-8h0m0 11h0m0-9h0m1 3h0m0-2h0m1 0h0m0-2h0m0 8h0m1 1h0m0-3h0m0 4h0m0-2h0m1-5h0m1 3h0m0-4h0m1 5h0m1-2h0m1 1h0m1-4h0m1 5h0m0 3h0m0-6h0m1 4h0m1-3h0m6-5h0m4 5h0m11-3h0m1 3h0m0-4h0m6 1h0m5-1h0m1 3h0m10 3h0m1-2h0m0 5h0m3-3h0m8-6h0m2 7h0m38 2h0m1009-2h0m0-5h0m1 2h0m1 2h0m0-4h0m3 4h0m2-1h0m2-7h0m2 11h0m1-3h0m0 0h0m3-7h0m0 9h0m0-9h0m2 0h0m0 10h0m0-6h0m0 5h0m1-9h0m0 2h0m2 6h0m0-3h0m3-2h0m1 5h0m1 2h0m1-10h0m0 1h0m1 6h0m0-1h0m1-5h0m2 4h0m0-3h0m1 0h0m0 6h0m3-6h0m0 8h0m1-7h0m2 4h0m0-3h0m0 0h0m1-1h0m1 6h0m0 2h0m2-5h0m0-1h0m2 0h0m0-5h0m1 3h0m0-2h0m1 7h0m1-6h0m0 8h0m0-3h0m0 3h0m2-7h0m3 4h0m0-3h0m1 2h0m2-2h0m0-1h0m2-1h0m0 5h0m1 0h0m1 4h0m2-11h0m1 9h0m3-9h0m1 8h0m5-9h0m3 4h0m3-4h0m0 10h0m1-7h0m2 0h0m2 5h0m4-2h0m0 5h0m7-8h0m-1438 12h0m0 7h0m12-2h0m13-8h0m3 4h0m1-4h0m8 7h0m1-2h0m5 0h0m1 3h0m2-6h0m3 10h0m6-5h0m0 4h0m2-2h0m2-6h0m0 3h0m0-3h0m0-3h0m1 8h0m2-7h0m3 7h0m0-4h0m3-4h0m2 0h0m1 7h0m10-6h0m1 10h0m0-1h0m1-5h0m1 5h0m2-1h0m0-8h0m4 4h0m1 1h0m1-5h0m0-1h0m2 6h0m1 4h0m5-6h0m3 5h0m3-1h0m4-1h0m1 2h0m37-3h0m1-5h0m0 3h0m0 2h0m1 1h0m1-4h0m0 2h0m0 7h0m0-10h0m0 4h0m0 3h0m0-2h0m0-4h0m0 0h0m1 3h0m0-6h0m0 9h0m1 0h0m0-5h0m0-3h0m2 0h0m0 4h0m0 1h0m1 0h0m0-2h0m1-2h0m0 9h0m0-5h0m1-1h0m0-2h0m1 4h0m0-3h0m0-3h0m0 2h0m1 1h0m0 8h0m0-6h0m1-4h0m2 9h0m0-5h0m0-2h0m0 7h0m0-4h0m1-5h0m0 4h0m0-4h0m1 2h0m1 5h0m0-7h0m0 0h0m0 9h0m0 0h0m1-2h0m1-6h0m1 2h0m1 2h0m0-4h0m1 9h0m0-10h0m2 4h0m0 3h0m0-2h0m0-1h0m0-4h0m1 7h0m1 2h0m0-5h0m0 5h0m1-2h0m0 0h0m0-4h0m1-3h0m0 9h0m0-7h0m1 1h0m2 7h0m1-2h0m2-6h0m0-4h0m3 10h0m0-4h0m0 0h0m1 4h0m1 1h0m0-3h0m0-1h0m1 1h0m1-3h0m0-3h0m0-2h0m1 11h0m1-2h0m0 3h0m0-11h0m0 10h0m0-2h0m1-9h0m1 4h0m1 4h0m0 3h0m0-5h0m1 4h0m1 2h0m0 0h0m0-1h0m1-3h0m0 1h0m1-7h0m0 8h0m0-3h0m1-1h0m0-5h0m0 1h0m0 6h0m0-8h0m1 10h0m1 0h0m0-6h0m1-1h0m1 1h0m1 1h0m0-1h0m0 1h0m1-2h0m0 1h0m0-1h0m1 7h0m0-3h0m0 5h0m1-6h0m1-2h0m0 5h0m1-4h0m1 6h0m0-8h0m1 3h0m0-2h0m0 3h0m1-1h0m0 4h0m1-7h0m0 3h0m0 4h0m1-9h0m2-1h0m1 8h0m0 0h0m0 1h0m0-9h0m0 9h0m1-3h0m0 6h0m0 0h0m3-10h0m1 4h0m1 6h0m0-2h0m0-7h0m1-2h0m0 8h0m0-6h0m0-1h0m0-2h0m1 7h0m0 0h0m0 3h0m1-5h0m1 1h0m2 6h0m0-12h0m0 9h0m1-8h0m1 4h0m0 3h0m0 3h0m1-10h0m1 10h0m0-4h0m0-7h0m0 7h0m3-7h0m0 1h0m1 10h0m0-10h0m7 10h0m7-8h0m7 4h0m9 3h0m2-9h0m1 0h0m2 1h0m6-1h0m12 1h0m17-2h0m3 1h0m10 8h0m1026-8h0m1 5h0m2-5h0m3 3h0m0-2h0m3-2h0m0 11h0m0-7h0m1 3h0m1 0h0m0 0h0m3-2h0m0 3h0m0 1h0m2 0h0m2-8h0m0 10h0m1-2h0m2-9h0m1 7h0m0-2h0m1 4h0m1-2h0m0-5h0m2 7h0m2-1h0m9-7h0m4 4h0m0 3h0m2-1h0m0-4h0m0 0h0m1 8h0m0-11h0m1 6h0m1 6h0m0-4h0m4 3h0m0-2h0m0-4h0m2-4h0m1 2h0m1 2h0m1-1h0m1 2h0m1-4h0m1 4h0m1 4h0m4-9h0m2 11h0m2-3h0m4-6h0m1 7h0m1-7h0m1 8h0m1-7h0m1 7h0m1-1h0m3-1h0m1-3h0m9-5h0m1 9h0m-1443 14h0m27-3h0m3-7h0m5-2h0m0 4h0m3 7h0m1-8h0m0 4h0m5 4h0m2-2h0m3 2h0m0 0h0m1-1h0m2-7h0m0 0h0m1 6h0m2-7h0m1 9h0m0-1h0m2-3h0m1 2h0m2-1h0m1-1h0m3 2h0m2-2h0m0 3h0m0-1h0m0-5h0m2 3h0m0-5h0m1 8h0m3 0h0m1-10h0m12 6h0m6 0h0m0 3h0m8 2h0m0-5h0m1 3h0m0-5h0m0-4h0m3 1h0m0 9h0m1-1h0m2-5h0m0 4h0m2 3h0m6-7h0m35 3h0m4-3h0m0 8h0m0-4h0m1 0h0m0 2h0m0-9h0m0 4h0m1 3h0m0-7h0m0 9h0m0-6h0m1-2h0m0 7h0m2 2h0m0-1h0m1-2h0m1 3h0m0-9h0m1 1h0m0 5h0m1-7h0m0 5h0m0 1h0m1-7h0m0 10h0m2 0h0m0 2h0m1-11h0m1 6h0m0-6h0m0 4h0m1 0h0m0-4h0m1 6h0m0 1h0m0 1h0m0 3h0m1-6h0m0-2h0m1 1h0m0-4h0m2-1h0m1 1h0m1 9h0m0-5h0m0-1h0m0 6h0m0 1h0m0 0h0m1-2h0m0-2h0m0 5h0m1-5h0m0-4h0m1 4h0m1-7h0m0 8h0m0-5h0m1-1h0m1 5h0m0-7h0m0 5h0m0-2h0m1 0h0m0 8h0m0-7h0m0 7h0m1-7h0m1 7h0m0-11h0m0 6h0m1-1h0m0 3h0m1-4h0m1-2h0m0 2h0m1 2h0m1-5h0m0 6h0m1 4h0m0-2h0m1 1h0m0-5h0m1 1h0m1-3h0m0 4h0m0-1h0m0 1h0m1 4h0m1-9h0m1 1h0m0-1h0m0 7h0m0-5h0m0 0h0m1 7h0m0-8h0m0 3h0m1 3h0m0-7h0m0 2h0m0 6h0m1-3h0m0 2h0m2-7h0m0-1h0m0 7h0m0-6h0m0 0h0m1 10h0m0-2h0m0-1h0m0-5h0m1 7h0m0-7h0m1 4h0m0-1h0m0 0h0m1-6h0m0 8h0m1-7h0m0 2h0m1 6h0m0 1h0m0-6h0m0-3h0m0 3h0m1 3h0m0-8h0m2 8h0m0-4h0m1 6h0m1 0h0m1-7h0m0 6h0m0-7h0m0 6h0m1-2h0m1-2h0m0 7h0m0-7h0m1 5h0m0 0h0m1-7h0m0 2h0m0 5h0m1-6h0m0 3h0m0 3h0m1 1h0m0-8h0m1 7h0m0-2h0m0 3h0m1-7h0m0 7h0m1-9h0m0-1h0m0 4h0m0-4h0m0 1h0m1 8h0m0 1h0m0 1h0m0-6h0m1-3h0m0-1h0m0 2h0m0 0h0m1 3h0m2 3h0m1-6h0m0-3h0m0 2h0m1-2h0m0 7h0m0 4h0m1-4h0m1 3h0m0-1h0m0-1h0m0 2h0m1-9h0m0 9h0m0-8h0m1 1h0m0 8h0m1-3h0m0-5h0m0 1h0m0 3h0m1-4h0m0 1h0m1 3h0m0 1h0m2-2h0m0 3h0m0 0h0m2-5h0m0-3h0m1-1h0m14 11h0m2-10h0m2 7h0m3-4h0m10 1h0m29-2h0m3 8h0m3-7h0m1041-3h0m5 9h0m2 0h0m0-7h0m2 5h0m2 1h0m0-6h0m1-2h0m3 0h0m0 7h0m1-1h0m1-6h0m0 5h0m5-4h0m2 10h0m1-5h0m1-4h0m0 3h0m1-4h0m1 6h0m1 2h0m0-2h0m2-2h0m0-1h0m1-4h0m1 4h0m3-1h0m3 0h0m0 8h0m1-8h0m2 5h0m2-9h0m0 8h0m0 0h0m1 1h0m1 2h0m1-11h0m0 9h0m1 3h0m1-10h0m0 2h0m1 4h0m2 2h0m2-9h0m1 5h0m2 3h0m1 1h0m0 2h0m0-6h0m0-2h0m3 7h0m0-7h0m5 3h0m4-2h0m1 3h0m2-7h0m2-1h0m1 2h0m4 9h0m3-10h0m1 10h0m2-8h0m3 2h0m1 6h0m6-6h0m1 0h0m2-1h0m7 4h0m-1467 14h0m46-5h0m5 3h0m4 2h0m0-5h0m4 1h0m4-3h0m0-1h0m2 5h0m1 2h0m0-5h0m1-3h0m1 2h0m2 4h0m0-3h0m0-1h0m0-2h0m0 5h0m1 5h0m0-3h0m1 3h0m0-6h0m9 4h0m0-6h0m1 6h0m1-8h0m2 6h0m6 5h0m1-6h0m0 1h0m3 2h0m0-1h0m7-5h0m0 4h0m2-5h0m0 2h0m1-4h0m2 6h0m0-2h0m2 6h0m1 1h0m0-9h0m1 1h0m5 0h0m0 0h0m1 3h0m2-4h0m0 3h0m1 1h0m0 6h0m2-6h0m0-5h0m1 7h0m0-5h0m1 4h0m1-5h0m0 9h0m0 0h0m5-6h0m1 7h0m30-3h0m1-4h0m0 7h0m1-2h0m2 2h0m0-3h0m1-4h0m0 6h0m1-1h0m0-5h0m1 2h0m0 4h0m1-2h0m0 3h0m0-6h0m0 3h0m1-4h0m0-5h0m1 4h0m1-2h0m1 6h0m0-6h0m0 3h0m0 1h0m1 4h0m0 0h0m0-4h0m1 0h0m0 6h0m2-8h0m0 6h0m0-1h0m0-4h0m1-4h0m0 9h0m0-5h0m2-2h0m0 6h0m0-6h0m1 4h0m0 4h0m0 0h0m0-7h0m1 2h0m0 0h0m0-3h0m1 2h0m0-1h0m1 2h0m0 4h0m0-8h0m1 10h0m0-9h0m0 2h0m1-1h0m0-3h0m0 0h0m0 7h0m0-6h0m0 1h0m1 5h0m0-2h0m0-4h0m0 6h0m1 3h0m0-1h0m1-4h0m0-1h0m0-2h0m1 5h0m1-7h0m0 10h0m0-5h0m0-4h0m0 8h0m1-3h0m0-3h0m0 4h0m0-2h0m0-1h0m1-2h0m0-3h0m1 9h0m0-9h0m0 9h0m1 1h0m1 0h0m0 1h0m1-5h0m0 6h0m1-10h0m1 9h0m0-6h0m1 1h0m0 2h0m1 2h0m0-7h0m1 7h0m0-7h0m0 6h0m0-8h0m2 1h0m0 9h0m0-1h0m1-8h0m1-2h0m0 11h0m0-3h0m0 2h0m0-5h0m1 3h0m1 1h0m1 1h0m0-6h0m0 3h0m1-7h0m0 3h0m0 0h0m1 2h0m0-1h0m0 1h0m0 0h0m0-4h0m1 4h0m0 1h0m0-1h0m0 6h0m0-6h0m1 2h0m0-3h0m0-3h0m1 8h0m0-2h0m1 1h0m1-2h0m1 6h0m3 0h0m0-2h0m0-3h0m1 2h0m2-8h0m0 5h0m1 1h0m0 0h0m0-3h0m0-3h0m1 10h0m0-4h0m0-3h0m1 6h0m1-7h0m0-1h0m1 8h0m0-5h0m1 2h0m3 0h0m0-2h0m1-4h0m0 6h0m0-5h0m1 1h0m0 5h0m1 4h0m0-4h0m0 2h0m2-7h0m1-1h0m0 1h0m1 3h0m0 4h0m1 2h0m1-11h0m1 10h0m1-9h0m1 4h0m0 6h0m0-10h0m1 2h0m0 8h0m0-5h0m1-2h0m1 0h0m0-3h0m1 0h0m0 5h0m0 0h0m1-6h0m0 5h0m2-1h0m0 2h0m1 4h0m8-8h0m2-3h0m5 8h0m6-6h0m11 5h0m5-5h0m6 9h0m25-3h0m8 0h0m4 4h0m61-12h0m971 10h0m3-4h0m2 4h0m1-7h0m1 0h0m0-2h0m2 1h0m3 4h0m1-3h0m2-1h0m0 8h0m2-6h0m0 6h0m2-5h0m0-5h0m1 8h0m0-5h0m1 2h0m1 7h0m0-4h0m2 2h0m2-2h0m0 4h0m2-7h0m1 3h0m2-8h0m2 9h0m1 0h0m0-5h0m2-3h0m3 11h0m1-2h0m1-5h0m1 6h0m0-4h0m1 3h0m1-5h0m0 3h0m1 3h0m2-10h0m1 10h0m3-8h0m0 4h0m1 1h0m1-2h0m0 0h0m1-4h0m7 9h0m0-9h0m1 4h0m1-5h0m0 7h0m2-4h0m0 7h0m0-11h0m1 2h0m0 7h0m6-7h0m0 6h0m0-5h0m3-2h0m4 4h0m1-2h0m3 5h0m2-1h0m3 5h0m6-4h0m0 2h0m6 2h0m6-9h0m7 6h0m98-9h0m-1610 20h0m37-2h0m17 1h0m10-1h0m12 6h0m13-9h0m0 7h0m3-8h0m1 0h0m3 10h0m2-8h0m1 2h0m0 5h0m1-8h0m0 5h0m1-3h0m2-5h0m1 9h0m1-9h0m1 12h0m0-2h0m0 0h0m1 1h0m0-4h0m1-7h0m0 3h0m3 4h0m1-1h0m2-2h0m3-3h0m0 2h0m0-2h0m1 6h0m3-2h0m1-2h0m1 7h0m0-6h0m0 7h0m0-4h0m1-1h0m9 3h0m0-1h0m3 1h0m1 1h0m0-9h0m1 4h0m2-3h0m0 4h0m1 3h0m1-6h0m1-3h0m2 7h0m0 4h0m4-4h0m1-4h0m0 9h0m2-3h0m2-2h0m1-2h0m2 5h0m1 2h0m0-9h0m2 6h0m6 2h0m0-5h0m1 2h0m1-6h0m27 6h0m0-1h0m2 5h0m0-4h0m0 1h0m1 2h0m0-3h0m0-1h0m0-4h0m1 7h0m1-4h0m2-2h0m1-2h0m1 9h0m1 0h0m0-6h0m0 6h0m1-11h0m0 4h0m1 1h0m0-3h0m1 1h0m0 3h0m0-1h0m1 1h0m0 4h0m0-2h0m1 1h0m0-7h0m0 9h0m0-10h0m0-1h0m0 9h0m0-7h0m1 7h0m0-4h0m1-5h0m0 8h0m0-2h0m0 6h0m0-3h0m2 3h0m1-9h0m0 2h0m2 0h0m0 2h0m0-7h0m0 4h0m1-3h0m0 0h0m0 8h0m0-6h0m1 8h0m1 0h0m0-1h0m0-4h0m0 4h0m1-9h0m0 8h0m0-3h0m1 1h0m1-1h0m0 3h0m1 1h0m0 0h0m0-7h0m0 9h0m0-11h0m0 4h0m0 0h0m1 4h0m0-8h0m0 2h0m1-1h0m0 3h0m0 7h0m0-9h0m0 4h0m1-5h0m0 5h0m0 2h0m0-3h0m0-2h0m1-2h0m0 8h0m0-3h0m1 4h0m1-4h0m1-4h0m0 6h0m0-8h0m1 6h0m1-4h0m0 5h0m0 4h0m1-3h0m0-4h0m1-3h0m2 4h0m1 3h0m1-6h0m0 0h0m0 8h0m0-9h0m1-1h0m1 10h0m1-5h0m0-3h0m0 7h0m1 2h0m1-2h0m0-3h0m1-3h0m1 2h0m0 6h0m1-5h0m1 2h0m0-4h0m0 6h0m1-1h0m0-6h0m1 3h0m1-4h0m1 6h0m0-1h0m0-1h0m0-1h0m0-4h0m0 2h0m1-3h0m1 9h0m1-3h0m0 4h0m0-2h0m1-7h0m0 6h0m1-3h0m0 5h0m0-4h0m1 2h0m0-8h0m0 11h0m0-4h0m1 3h0m0-9h0m1 5h0m0-6h0m2 12h0m1-10h0m0 9h0m1-9h0m1 4h0m0 1h0m0 2h0m0 1h0m1 1h0m0-3h0m1-6h0m0 0h0m1 4h0m0 1h0m0 2h0m0-2h0m0-6h0m1 8h0m1-8h0m1 5h0m0 3h0m0-5h0m1 1h0m0 5h0m1-8h0m0-2h0m0 0h0m1 7h0m0-3h0m0-2h0m1 4h0m0-3h0m1 6h0m1 0h0m0 1h0m2-2h0m0-5h0m1 7h0m1-6h0m1-3h0m1 4h0m1 6h0m1-7h0m1 0h0m4 7h0m2-3h0m8-1h0m7-6h0m6 7h0m2-4h0m3 1h0m5 6h0m22-9h0m10-1h0m17 1h0m1029 3h0m0-5h0m3 7h0m0-4h0m1-2h0m1 4h0m3-4h0m1 8h0m2-6h0m2 2h0m1 3h0m1-2h0m0 6h0m2-5h0m0 2h0m0-3h0m0 6h0m1 0h0m1-1h0m0-6h0m1 6h0m1-4h0m1 0h0m3 4h0m0 0h0m1-9h0m1 8h0m0-5h0m2-2h0m2 6h0m1 3h0m0-1h0m1-2h0m2-3h0m0 1h0m0-4h0m1 1h0m0 7h0m3-2h0m2 1h0m0-2h0m0 0h0m1-4h0m0 7h0m1-5h0m2-6h0m0 9h0m2-8h0m1 5h0m2 5h0m0-8h0m1 3h0m0-2h0m1 8h0m2-11h0m0 3h0m0 4h0m1-7h0m4 1h0m3 0h0m0 2h0m0 6h0m2-4h0m1 5h0m0-5h0m1 3h0m1-5h0m1-1h0m0 6h0m0-4h0m1-1h0m1 2h0m1-1h0m0 4h0m1-8h0m1 1h0m3 1h0m1 8h0m6-9h0m4 1h0m0 0h0m12-1h0m2-1h0m118 3h0m-1557 19h0m2-5h0m13 2h0m11 0h0m2-4h0m2 6h0m3-4h0m1-4h0m4-1h0m1 3h0m1 3h0m3 0h0m0-3h0m1 5h0m1-3h0m2 0h0m4-4h0m2 2h0m0 3h0m2-5h0m1 1h0m0 2h0m2-3h0m1 3h0m5-1h0m1-3h0m0 0h0m1 3h0m3-1h0m1-3h0m0 12h0m2-2h0m0-4h0m1 5h0m0 0h0m3-9h0m1 3h0m0 1h0m0-3h0m1 5h0m1 3h0m0 1h0m0-6h0m0 2h0m4-8h0m0 9h0m0 1h0m2-2h0m0-5h0m2 7h0m1-7h0m2 5h0m0-3h0m3 3h0m0 0h0m2-1h0m0 3h0m1-4h0m2 0h0m1 2h0m2 4h0m2-1h0m2-6h0m1 5h0m0-5h0m1 5h0m23-6h0m2 0h0m0 1h0m0 6h0m0-7h0m1 6h0m0 0h0m0-2h0m1 2h0m0 0h0m1-5h0m0 1h0m0 1h0m0-3h0m1 4h0m0-2h0m0 1h0m1-3h0m0 5h0m0-2h0m1-1h0m0-4h0m1 4h0m0 5h0m0-1h0m0-8h0m0 7h0m0-6h0m1 1h0m0 5h0m0-2h0m0-4h0m1 6h0m0-9h0m1 8h0m0 0h0m0-7h0m0 4h0m0-2h0m1 6h0m0-1h0m0 1h0m0-6h0m2-2h0m1 4h0m0 3h0m1 2h0m0-5h0m1 0h0m0-2h0m1 7h0m1-5h0m0-1h0m0-1h0m1 7h0m1-6h0m0-3h0m0 6h0m1 0h0m0-1h0m1-6h0m0 10h0m1-9h0m1 9h0m1 1h0m0-3h0m0-7h0m1 6h0m0-1h0m1 2h0m1 3h0m0 0h0m1 0h0m0 1h0m0-5h0m0 5h0m1-10h0m1 1h0m0-2h0m0 2h0m0 3h0m1-1h0m0 5h0m0-1h0m0-1h0m1-7h0m0 6h0m0 4h0m1-2h0m0-1h0m1 3h0m0-3h0m0 2h0m1-9h0m0 11h0m0-9h0m1-3h0m1 9h0m2 2h0m0-3h0m0-7h0m1 1h0m0 8h0m0-3h0m1 2h0m0-5h0m0 7h0m0-1h0m2-5h0m0 2h0m2-1h0m0-4h0m0 5h0m0 5h0m0-5h0m1-7h0m0 11h0m0-9h0m1 3h0m0-5h0m1 9h0m0 3h0m1-3h0m1-1h0m0-7h0m1 1h0m0 4h0m1-1h0m0 6h0m1-6h0m0-5h0m0 7h0m0 2h0m2-9h0m0 7h0m0 0h0m0 0h0m0-4h0m0-3h0m1 9h0m0-4h0m0-2h0m1-1h0m1 4h0m0-2h0m0 3h0m1-2h0m1-3h0m0 4h0m0 4h0m1 1h0m0-5h0m0 1h0m0-5h0m1 9h0m1 0h0m0 0h0m1-8h0m0 7h0m1-6h0m1 3h0m0 0h0m0 3h0m1 1h0m0-8h0m1 8h0m0-10h0m0 5h0m1 5h0m0 0h0m0-7h0m1-4h0m0 8h0m0 0h0m1-7h0m0 3h0m1 4h0m0 3h0m0-3h0m1 3h0m1-1h0m1-3h0m0 4h0m0-1h0m0-5h0m1 5h0m1-2h0m1-3h0m0 7h0m1-1h0m0-1h0m1-5h0m0 5h0m1-6h0m0 5h0m2 1h0m1-2h0m1-6h0m1 1h0m0 5h0m1-2h0m0-4h0m2 9h0m9-10h0m0 8h0m13-5h0m7 3h0m25-5h0m33 1h0m1022 1h0m8 1h0m5 1h0m0-5h0m1 6h0m2-5h0m1 1h0m1 2h0m0 1h0m1-3h0m4 2h0m1-1h0m1-2h0m1-2h0m0 4h0m0 2h0m1 0h0m1-3h0m1-1h0m3 5h0m1-5h0m2-1h0m1 0h0m1 0h0m0 4h0m1 2h0m0-4h0m2 0h0m1 3h0m0 1h0m1 0h0m1 1h0m0-2h0m2 0h0m2 0h0m2 0h0m3-3h0m0-1h0m0 0h0m5 0h0m1 6h0m2-5h0m2-3h0m0 1h0m1 2h0m1 5h0m1 1h0m4 1h0m0-5h0m1 1h0m0-2h0m8-2h0m1 1h0m3 0h0m2 4h0m3-6h0m0 4h0m5 0h0m4 2h0m17-1h0m6-1h0m89 5h0m32-10h0m-1575 13h0m12 1h0m2 10h0m5-1h0m5-6h0m1 0h0m1 4h0m10 1h0m8-3h0m0 4h0m0 1h0m2-8h0m0 0h0m0 6h0m2-2h0m1-8h0m1 12h0m0-2h0m1-5h0m0-3h0m1 6h0m0-8h0m1 1h0m1 1h0m0 8h0m1 0h0m0-4h0m2 4h0m1-7h0m3 5h0m0-8h0m2 9h0m0-8h0m1 0h0m2 5h0m0 0h0m2 2h0m1-4h0m0 0h0m4-2h0m1-2h0m1 5h0m1-4h0m0-1h0m4 7h0m0-3h0m1-4h0m1 10h0m0 1h0m1-3h0m0 1h0m1-8h0m2 11h0m1-4h0m1 3h0m0-7h0m1 5h0m2-3h0m3 1h0m1-7h0m0 4h0m0 0h0m1 1h0m1 4h0m1-4h0m0-3h0m1 5h0m1 2h0m0-7h0m0 8h0m1 1h0m1-3h0m0-1h0m0 0h0m2-6h0m1 8h0m2 1h0m1-1h0m1-4h0m0 6h0m22-1h0m1 1h0m2-4h0m0 1h0m0 1h0m1-1h0m0-1h0m0 3h0m0 0h0m1-6h0m0 4h0m0-4h0m2-2h0m0 0h0m0 8h0m0-5h0m1 0h0m0 0h0m1 4h0m0-2h0m1-5h0m0 6h0m0-5h0m0-2h0m0 7h0m1-7h0m0 0h0m0 5h0m1 5h0m0-8h0m1-1h0m0 6h0m1 1h0m1-7h0m0 2h0m1-2h0m0-1h0m0 6h0m0 0h0m0 4h0m1-8h0m0 8h0m1-1h0m0-3h0m1-5h0m0 8h0m0-10h0m1 10h0m0-8h0m0 8h0m1 0h0m0-2h0m1-6h0m0 9h0m0-10h0m0 6h0m2 3h0m0-6h0m0-4h0m0 11h0m1-2h0m0 1h0m0 1h0m0-7h0m1 7h0m0-1h0m1 2h0m0-11h0m1 9h0m0-4h0m1 1h0m0-6h0m0 11h0m0-5h0m0-5h0m1 9h0m0-4h0m0-6h0m0 10h0m1 0h0m0-8h0m1 4h0m0-4h0m1 1h0m1 5h0m0-6h0m1-1h0m1-2h0m1 2h0m0-1h0m0 8h0m1 1h0m0-3h0m0 3h0m2-10h0m0 4h0m0 7h0m0-3h0m0 1h0m1-8h0m1 5h0m0 3h0m0-6h0m1 3h0m0 5h0m0-5h0m0 0h0m0-6h0m2 4h0m1 2h0m0 4h0m0 0h0m1-6h0m1 2h0m0 0h0m1 0h0m0 1h0m0-3h0m1-1h0m0-1h0m0 7h0m0 2h0m0 1h0m1-5h0m0-4h0m0 7h0m1-3h0m0-7h0m1 10h0m0-5h0m1 2h0m1 3h0m2 2h0m0-3h0m1-8h0m0 1h0m1 7h0m0-1h0m1-3h0m0-1h0m0 2h0m1-5h0m0 7h0m1-4h0m1 5h0m0 3h0m0-5h0m0 3h0m0-6h0m0 2h0m0 2h0m2-2h0m0 3h0m1 0h0m0-5h0m1-1h0m0 1h0m0-3h0m1 2h0m0-2h0m0 9h0m0-2h0m1-4h0m0-1h0m0 0h0m0 2h0m1 2h0m0 3h0m0-3h0m0-1h0m0 0h0m0-3h0m1-3h0m0 9h0m6-9h0m0 1h0m1 8h0m0 2h0m0-3h0m1 3h0m0-3h0m1 1h0m2 0h0m0-8h0m0 3h0m0-1h0m0 2h0m1 5h0m0-8h0m0 5h0m1 5h0m1-7h0m0 1h0m1-4h0m1 0h0m1 2h0m2 6h0m0-5h0m1-5h0m1 3h0m1 0h0m1-1h0m7 1h0m5-1h0m3 7h0m13 0h0m5-1h0m17 0h0m11-4h0m115 0h0m50 0h0m889 0h0m1 0h0m57-1h0m6 9h0m1-2h0m4-2h0m4 1h0m172-5h0m-1605 9h0m13 8h0m24 3h0m4-2h0m5-8h0m11 8h0m5-8h0m0 5h0m1 2h0m1-7h0m0 0h0m0 4h0m1-4h0m1 7h0m2 2h0m1-11h0m0 4h0m1 8h0m1-3h0m0-7h0m0 7h0m0-7h0m2 9h0m1-7h0m2 6h0m1-2h0m0 2h0m0-1h0m1-5h0m2 8h0m2-9h0m0 1h0m2 0h0m1-2h0m1 0h0m0 8h0m0-5h0m1 0h0m1 1h0m2 6h0m0-7h0m1-2h0m0 2h0m1-1h0m1 8h0m0-4h0m1-6h0m1 9h0m1-8h0m0 0h0m0 0h0m2 7h0m0-5h0m2-4h0m2 3h0m0 8h0m0-10h0m1 2h0m0-2h0m4-1h0m0 4h0m1 3h0m0-7h0m0 6h0m1-3h0m1-2h0m0 0h0m1 1h0m1 0h0m0 4h0m1 0h0m1-1h0m2-3h0m4 8h0m0-8h0m2 7h0m0-5h0m2 4h0m2-5h0m1 2h0m1 4h0m1-9h0m0 7h0m1 3h0m2-2h0m1 2h0m14-1h0m3-2h0m0-4h0m1 7h0m0 0h0m1-9h0m0 5h0m0-1h0m0-5h0m1-1h0m1 2h0m0 0h0m0 7h0m0-6h0m0 1h0m0-2h0m1-2h0m0 3h0m0 1h0m0 2h0m0-1h0m0 6h0m1-2h0m1-8h0m1 1h0m0 5h0m0-5h0m1 1h0m0-1h0m1 2h0m0 2h0m1 0h0m2-5h0m0 5h0m1 5h0m0-3h0m0 4h0m2-3h0m0-5h0m0 3h0m0 5h0m0-9h0m1 4h0m0-4h0m0 7h0m1-3h0m0-6h0m0 0h0m1 9h0m0-10h0m0 0h0m1 9h0m0 1h0m0-8h0m1 0h0m0 4h0m0 5h0m0-9h0m0-2h0m0 6h0m0-1h0m0 4h0m0-1h0m1 4h0m1-6h0m0 4h0m0-5h0m1 5h0m1-7h0m0 3h0m0 1h0m1-6h0m0 8h0m1 1h0m0-6h0m0 5h0m1-6h0m1 7h0m1-1h0m0-3h0m0-4h0m0 5h0m0-1h0m1 3h0m1-3h0m0 2h0m0-7h0m0-1h0m1 0h0m0 5h0m1 0h0m0-3h0m0 10h0m0-2h0m0 0h0m1-3h0m0-6h0m1 0h0m1 5h0m1 3h0m1-9h0m1 0h0m0 10h0m0 0h0m0-5h0m1 6h0m2-7h0m0 1h0m1 2h0m1 3h0m0-9h0m0 8h0m0-2h0m1 0h0m1 3h0m0-2h0m1 0h0m1 2h0m2-8h0m0 2h0m0 0h0m0 3h0m1 3h0m1-7h0m0 0h0m1 4h0m0-6h0m0 1h0m1 2h0m0 2h0m0 0h0m2 6h0m0-2h0m2-8h0m0 6h0m1 1h0m2-8h0m0 4h0m1 6h0m1-1h0m0 0h0m0-6h0m1 1h0m0 0h0m0-2h0m2 9h0m0-10h0m1 0h0m0 7h0m1 1h0m0-5h0m0-5h0m1 10h0m1 1h0m0-8h0m0 6h0m1-9h0m0 7h0m2-4h0m1 7h0m0-7h0m0 6h0m1 1h0m0-9h0m0 10h0m1-4h0m1-1h0m0-3h0m0 3h0m1-2h0m0 0h0m0 7h0m1-3h0m3-1h0m1-7h0m2 5h0m1-4h0m1 7h0m3-7h0m10 6h0m3-2h0m2 2h0m2 1h0m9 2h0m8-6h0m35 1h0m14 1h0m1040-6h0m1 6h0m6 5h0m64-9h0m3 9h0m3 1h0m136-10h0m14 4h0m22-2h0m-1594 8h0m31 7h0m1-2h0m4 1h0m8 3h0m0-1h0m1 1h0m2 0h0m1-8h0m1 6h0m3 3h0m2-1h0m0-8h0m0 4h0m1-2h0m0-2h0m1 8h0m0-3h0m1-2h0m0 4h0m0-1h0m0-6h0m1 7h0m0-3h0m0 7h0m1-2h0m0-3h0m0-2h0m1 4h0m2-6h0m0 5h0m1 0h0m3-3h0m0 6h0m1-3h0m0 1h0m2-2h0m0-6h0m1 8h0m0-1h0m0 3h0m1-3h0m0-3h0m0-4h0m1 7h0m0-3h0m0 6h0m1 0h0m0-6h0m0-2h0m1-2h0m0 1h0m0-1h0m1 0h0m1 0h0m0 2h0m0-2h0m1 2h0m1 6h0m1-8h0m0 10h0m0-11h0m1 10h0m1-3h0m1-7h0m0 2h0m1 7h0m1-2h0m0 3h0m1-9h0m0 3h0m0 4h0m1 3h0m0-2h0m1-3h0m0 5h0m0-1h0m1-2h0m0 4h0m0-5h0m0-5h0m1-2h0m0 7h0m0-5h0m1-1h0m1 4h0m0 6h0m0-10h0m1 8h0m1-7h0m1 4h0m0 3h0m1-4h0m0 2h0m0 4h0m1-7h0m1-3h0m0 10h0m0-2h0m1-6h0m0 7h0m2 0h0m0-8h0m0 5h0m0 2h0m1 2h0m0-4h0m1-4h0m0 7h0m1-3h0m0 4h0m2-7h0m0-2h0m0 3h0m1 3h0m3-3h0m2-5h0m1 11h0m0-11h0m0 7h0m1 0h0m1 5h0m0-5h0m0 4h0m11-2h0m3-1h0m1-4h0m0 4h0m1-6h0m0 7h0m0-4h0m0 5h0m1-1h0m0-8h0m1 4h0m0 2h0m0-6h0m1 10h0m0-2h0m0-5h0m1 0h0m0-1h0m1 6h0m0 1h0m1-6h0m0 7h0m1-10h0m0 1h0m0 10h0m1-1h0m0-2h0m1-8h0m0 6h0m0-5h0m0-1h0m0 5h0m1 5h0m0-2h0m0 2h0m1-11h0m1 8h0m0 0h0m1-3h0m0-1h0m0 4h0m0-5h0m1 3h0m0 5h0m1-11h0m0 6h0m0 0h0m1 5h0m0-5h0m0-1h0m1-2h0m0 1h0m0-3h0m1 2h0m0 0h0m1 1h0m1 7h0m0-6h0m0 6h0m1-9h0m0 9h0m0-1h0m1 0h0m2 0h0m0-7h0m2 3h0m0-3h0m1 5h0m1 2h0m0-7h0m0 5h0m1-1h0m0-2h0m0-3h0m0 1h0m1 9h0m0-2h0m0 2h0m0-10h0m1 1h0m1-3h0m1 7h0m2 3h0m0-8h0m0-2h0m0 4h0m0 7h0m1-8h0m0-2h0m0 2h0m0 7h0m1-6h0m0 6h0m0-2h0m1-6h0m1 5h0m0 3h0m0-2h0m0-3h0m0-4h0m0 9h0m0 1h0m1 0h0m0-2h0m1-2h0m0-3h0m0 5h0m0-6h0m1 6h0m0-2h0m0 1h0m0-5h0m2 5h0m1-5h0m0-3h0m1 0h0m0 6h0m1-3h0m0 5h0m1-6h0m0 2h0m1-1h0m0 5h0m1-2h0m0 1h0m0 1h0m1-5h0m0 1h0m1 4h0m0-2h0m1-4h0m1 8h0m0-3h0m0 4h0m1-8h0m1 2h0m0-4h0m0 9h0m1-7h0m0-1h0m0 8h0m0 1h0m0-7h0m0 4h0m0-4h0m1 4h0m0 2h0m1 2h0m2-3h0m1-8h0m0 0h0m1 5h0m0 2h0m1-3h0m1 7h0m0-3h0m0 2h0m0-1h0m2-4h0m0 5h0m1-1h0m1 1h0m0-6h0m0 3h0m1-7h0m0 7h0m0-4h0m0 7h0m1-1h0m1-6h0m0 3h0m0-2h0m1-4h0m1 10h0m1-1h0m1-4h0m0 5h0m0-2h0m0-7h0m0 3h0m1-3h0m0 0h0m1-2h0m0 11h0m0-6h0m0 5h0m0-9h0m1 1h0m0 1h0m2 8h0m4-7h0m2 4h0m0 3h0m10-10h0m0 7h0m2-2h0m1-1h0m2 0h0m4 3h0m9-8h0m12 4h0m8 6h0m5-4h0m29 4h0m65-6h0m30 6h0m1023-6h0m3 7h0m0-7h0m101 6h0m4-5h0m1 4h0m9-3h0m3 5h0m0-3h0m13-3h0m18 0h0m2-5h0m6 7h0m2 2h0m7-2h0m2 2h0m1-6h0m3-3h0m6 2h0m2 9h0m-1618 2h0m10 1h0m20 5h0m3-1h0m7 1h0m4 2h0m4-8h0m5-1h0m1 9h0m5-7h0m0 1h0m0-1h0m1 4h0m1 2h0m2-7h0m0 3h0m1 2h0m1-4h0m2 7h0m1-9h0m2 10h0m0-3h0m0 4h0m1-6h0m1 1h0m0-6h0m0 10h0m1 1h0m2-7h0m1 4h0m0-7h0m0 8h0m0 3h0m0-11h0m0 8h0m1 1h0m1-7h0m0 2h0m2-1h0m1 3h0m0-2h0m1-1h0m0 4h0m2-4h0m2 8h0m0-2h0m0-8h0m1 6h0m0-2h0m1 4h0m0-5h0m0 2h0m0 1h0m0 2h0m0-1h0m1 2h0m0-5h0m2 1h0m0-1h0m1-5h0m0 1h0m0 6h0m1-1h0m0-1h0m1-1h0m0 4h0m0-1h0m1-8h0m0 9h0m0-3h0m0-6h0m1 2h0m0 3h0m1 7h0m2-4h0m0-5h0m0 2h0m1 3h0m0 2h0m0-1h0m0-9h0m1 2h0m0 7h0m0-4h0m1 1h0m0 2h0m2-3h0m0-4h0m0-1h0m1 3h0m0 4h0m1 4h0m0-3h0m1 2h0m0-9h0m0 3h0m1 1h0m0 1h0m0-5h0m1 10h0m1 0h0m1-3h0m0 1h0m0-6h0m1 1h0m0 7h0m2-5h0m0-2h0m1-1h0m0 6h0m2-3h0m0 4h0m1-4h0m0 0h0m1 3h0m0-5h0m0-1h0m0-1h0m1-2h0m0 11h0m0-1h0m2 0h0m1-9h0m0 9h0m1-5h0m0-5h0m0 8h0m0-7h0m1 6h0m0 4h0m0-4h0m0 3h0m1-3h0m1 0h0m0-2h0m0-2h0m0 9h0m2-12h0m0 1h0m1 5h0m0 2h0m0-4h0m0 2h0m1 1h0m1 3h0m1 1h0m0-9h0m0-2h0m9 7h0m3-1h0m0 4h0m2-7h0m0 8h0m0 0h0m0-3h0m1 0h0m0-3h0m0 6h0m0 0h0m0-2h0m1-6h0m1 8h0m0-2h0m1 1h0m0-7h0m1 2h0m0 0h0m0 5h0m0-7h0m1 4h0m0 4h0m1-4h0m0-3h0m1-1h0m0 2h0m1-2h0m1 8h0m0-3h0m0 3h0m1 0h0m0-3h0m0-2h0m0 1h0m1-6h0m1 11h0m0-9h0m0 2h0m1-4h0m0 6h0m1 2h0m0-8h0m1 8h0m0-2h0m1-6h0m2 0h0m0 7h0m1-6h0m0 2h0m0-3h0m1 2h0m1 8h0m0-2h0m0-5h0m0 8h0m2-9h0m0 2h0m1 0h0m0 6h0m1 0h0m0-8h0m0 1h0m0-2h0m0 4h0m0-3h0m1 1h0m1 4h0m1-8h0m0 7h0m0 3h0m0 1h0m0-10h0m0 9h0m1-6h0m0-2h0m0 1h0m0 5h0m0 0h0m0-8h0m1 11h0m0-1h0m0 1h0m0-1h0m1 0h0m0 0h0m1-3h0m0-1h0m1 2h0m0-2h0m1 1h0m0-6h0m1 2h0m1 9h0m1-5h0m1 3h0m0-6h0m0-1h0m0 6h0m1-3h0m0 4h0m1-8h0m0 9h0m0-11h0m0 11h0m1-2h0m0-9h0m0 7h0m0-5h0m1-1h0m0 8h0m0-6h0m0 1h0m1 6h0m0-3h0m1 5h0m0-4h0m1-6h0m1 4h0m0-5h0m0 7h0m0-1h0m0 0h0m1-3h0m0 4h0m0-1h0m1-1h0m1-3h0m1-2h0m0 2h0m0 3h0m1-3h0m0 3h0m0 2h0m1-4h0m0 7h0m0-1h0m1-3h0m0 3h0m0-1h0m0-6h0m0 2h0m0 7h0m1 0h0m0-11h0m1 7h0m0-7h0m0-1h0m1 3h0m0-2h0m1 10h0m1-10h0m0 4h0m2 3h0m0 4h0m0-3h0m1 0h0m0-2h0m2 1h0m0-1h0m1-5h0m1 1h0m0 2h0m3 4h0m0-7h0m0 3h0m1-2h0m0-3h0m0 4h0m1 3h0m0 1h0m0-7h0m0 1h0m1-2h0m0 9h0m1-2h0m0 1h0m1 1h0m5-2h0m1-3h0m4 5h0m0-8h0m1 11h0m6-7h0m6 3h0m4 4h0m6-11h0m1 6h0m1 5h0m5-12h0m4 2h0m4 3h0m11-3h0m1092 8h0m5 1h0m73 0h0m103-5h0m22-2h0m49-3h0m3 2h0m6 0h0m1 4h0m3 4h0m-1634 3h0m26-2h0m1 2h0m5 9h0m14-2h0m1-6h0m2 6h0m2 0h0m1 0h0m5-8h0m2 1h0m2 2h0m2 4h0m0 1h0m0-7h0m1 4h0m1-1h0m0-2h0m1-1h0m0 9h0m0-6h0m1 5h0m0-2h0m0-8h0m1 0h0m0 3h0m2 7h0m1-1h0m0 2h0m1-5h0m0-4h0m0-1h0m1 0h0m0-1h0m0 1h0m1 9h0m0 0h0m1-9h0m0 9h0m2-2h0m0 3h0m0-5h0m1 0h0m0 6h0m1-6h0m0 5h0m1-5h0m0 3h0m0-4h0m0 0h0m1 6h0m1-1h0m0-7h0m0-2h0m1 5h0m0-2h0m0 3h0m1 3h0m0 1h0m0-6h0m1-4h0m0 10h0m2-8h0m1 9h0m0-3h0m1-5h0m0-4h0m1 2h0m0 1h0m1 0h0m0 1h0m0 3h0m1 2h0m0-3h0m1-2h0m0-2h0m0 0h0m0 5h0m0-3h0m1 1h0m0 2h0m1-5h0m0 3h0m1 5h0m0-4h0m0 6h0m0-11h0m0 9h0m1-4h0m0-3h0m0 1h0m1 6h0m0-4h0m0 5h0m0-9h0m1-2h0m1 5h0m0 3h0m0 4h0m0-4h0m0 2h0m2-1h0m1-6h0m1 3h0m0 2h0m0 1h0m1-4h0m0 3h0m0-7h0m0 6h0m1-5h0m0 10h0m0-6h0m1 6h0m1-11h0m0 5h0m1-2h0m1-2h0m0 5h0m1 2h0m1-3h0m1 4h0m2 2h0m0-3h0m0-8h0m1 0h0m0 2h0m1 9h0m1-1h0m1 0h0m1-3h0m1-5h0m1 2h0m0 4h0m0-3h0m2-3h0m0 5h0m1 1h0m0-2h0m2 0h0m0 5h0m0-7h0m0 0h0m1 4h0m0-5h0m0-3h0m1 0h0m0 10h0m0-7h0m1 2h0m0-4h0m0 8h0m0-3h0m1-3h0m1 2h0m7 0h0m1-6h0m0 6h0m1-3h0m0 0h0m0-2h0m1 10h0m0-10h0m1 5h0m1 0h0m0-3h0m0 8h0m1-5h0m0 3h0m0-5h0m0 2h0m1 2h0m0-7h0m0 4h0m1 1h0m0 0h0m1 1h0m1 3h0m0 1h0m0-9h0m0 0h0m1-2h0m0 4h0m2 3h0m1 2h0m0 2h0m0-6h0m1-1h0m1-2h0m1 5h0m1-5h0m1 7h0m1 3h0m0-12h0m0 9h0m0-9h0m0 1h0m0 4h0m0 5h0m0 1h0m1-8h0m0-2h0m0-1h0m2 7h0m0 1h0m0-5h0m0 0h0m0 3h0m0-6h0m1 3h0m1 7h0m0 0h0m0 1h0m0-4h0m0-2h0m0 0h0m1 3h0m1 1h0m1-2h0m0-7h0m0 4h0m0-4h0m0 6h0m1 2h0m0-8h0m0 5h0m2-1h0m1 5h0m0-5h0m1 0h0m0-1h0m0 0h0m0-2h0m2 8h0m1-9h0m1 2h0m0 5h0m1-5h0m0 5h0m0-1h0m0 1h0m1 5h0m1-8h0m0 1h0m1-2h0m0-3h0m1 10h0m0-4h0m0 3h0m1-2h0m0-2h0m1-3h0m1 4h0m1-2h0m0-4h0m0 8h0m0 3h0m1-2h0m2-3h0m0 4h0m1-8h0m0 1h0m0 1h0m3 8h0m1-1h0m0-4h0m1 2h0m1-8h0m0 2h0m0 6h0m0 3h0m1-7h0m1 0h0m0-1h0m2 4h0m1 1h0m1-1h0m0 3h0m0-11h0m0 9h0m1 0h0m0-4h0m0 7h0m0 0h0m1-7h0m0 2h0m1-6h0m0 1h0m1 9h0m0-8h0m0 6h0m2-6h0m1-2h0m0 7h0m1 2h0m0 2h0m0-11h0m1 7h0m3 0h0m3 0h0m13-6h0m2 2h0m2-1h0m0 2h0m1-1h0m34 5h0m13-9h0m158 10h0m925-4h0m8 6h0m70-11h0m9 3h0m68 6h0m11-5h0m5-3h0m88 0h0m6 8h0m4-9h0m5 7h0m-1661 8h0m83-4h0m5 4h0m1 6h0m0-5h0m1 6h0m0-9h0m2 2h0m0 7h0m2 0h0m0 0h0m1-2h0m1-4h0m1 5h0m0-4h0m0 4h0m1-5h0m0-2h0m0-2h0m1 0h0m0 9h0m0-1h0m1-9h0m1 1h0m0 5h0m0 2h0m0-5h0m2 1h0m3-4h0m0 12h0m0-8h0m0 6h0m0-9h0m2 6h0m0-1h0m1 4h0m0-8h0m0 10h0m1-6h0m1-5h0m0 2h0m0 0h0m2-3h0m1 2h0m0 9h0m1-2h0m0-6h0m0 5h0m0-5h0m0-2h0m0 6h0m1-5h0m0 2h0m1 0h0m1-3h0m0 1h0m0 0h0m1 4h0m0-6h0m0 8h0m1-7h0m0 4h0m0 1h0m1 5h0m0 0h0m0 0h0m1-10h0m0 7h0m0-2h0m2-3h0m0-2h0m0 6h0m0-7h0m0 6h0m1-2h0m0-1h0m0 4h0m0 3h0m0 0h0m0-5h0m0-3h0m1 8h0m0-9h0m0 5h0m0-4h0m2-1h0m0 1h0m1 5h0m0 5h0m1-9h0m0 7h0m0 0h0m3 1h0m0-6h0m0 0h0m1-1h0m1 0h0m0 5h0m1-2h0m1-4h0m1 3h0m1 2h0m0-7h0m0 0h0m0 8h0m2 2h0m1-8h0m0 3h0m1 1h0m1 2h0m1-1h0m0 1h0m0 2h0m0-5h0m1-5h0m0 5h0m2 1h0m1-6h0m1 1h0m2 2h0m1 5h0m0 1h0m0 0h0m1-4h0m0 1h0m0-6h0m1 7h0m1 3h0m1-1h0m0-6h0m0 6h0m3-4h0m1 5h0m0-10h0m0 9h0m0-8h0m1 7h0m1 3h0m0-6h0m0 6h0m1-11h0m1 11h0m1-2h0m0-9h0m1 0h0m0 5h0m2-2h0m0 2h0m1 6h0m0 0h0m1-1h0m0-3h0m0-4h0m1 4h0m0-7h0m0 5h0m0-5h0m1 0h0m0 7h0m2-1h0m0-3h0m1 1h0m0 5h0m1-1h0m0-7h0m0 3h0m1 3h0m0-1h0m1-2h0m0-4h0m1 7h0m0-1h0m0 0h0m0 1h0m1-3h0m0 4h0m0 1h0m0-6h0m1 1h0m1 6h0m0-7h0m1 4h0m0 3h0m0-5h0m1-6h0m1 8h0m0 2h0m0-9h0m1 6h0m1-5h0m0 3h0m1 3h0m0 3h0m0-10h0m1 5h0m0 2h0m1 3h0m0 0h0m1-5h0m0 6h0m0-12h0m0 11h0m1 0h0m0-8h0m1 0h0m0 2h0m1 5h0m0-9h0m0 4h0m0 4h0m0-8h0m0-1h0m2 6h0m0-1h0m0 6h0m1-7h0m0 4h0m0-5h0m0-1h0m2-1h0m1 3h0m0-1h0m0 2h0m1 3h0m0 1h0m1-1h0m0-5h0m1 7h0m1-2h0m0 1h0m0-8h0m1 6h0m0 2h0m1 0h0m0-2h0m0-1h0m1-6h0m0 6h0m2 6h0m0-5h0m0 0h0m0 4h0m1-6h0m0-3h0m0 1h0m1-3h0m0 3h0m1 7h0m1-3h0m0-1h0m0-1h0m1 4h0m0-9h0m0 8h0m0-3h0m1 1h0m1 0h0m0-3h0m0 9h0m2-8h0m0-4h0m1 8h0m0 3h0m0-11h0m1 10h0m0 0h0m0-5h0m2-3h0m1-2h0m1 2h0m0 2h0m0 6h0m3-7h0m1-1h0m0 2h0m1-1h0m3 4h0m4 1h0m3-4h0m1-1h0m11 7h0m0-9h0m4 4h0m1 2h0m3 5h0m6-3h0m1 2h0m11-3h0m142-4h0m972 7h0m4-4h0m88-1h0m1-5h0m54 6h0m2 0h0m4-4h0m3 4h0m8-5h0m101 2h0m-1565 16h0m2-1h0m0 1h0m0-6h0m0-2h0m1 4h0m1 4h0m1-6h0m0 6h0m1-5h0m4 2h0m1 6h0m0-3h0m1-5h0m0 1h0m0 6h0m1 1h0m2 0h0m0-9h0m0 1h0m0 8h0m1-4h0m1-4h0m0 9h0m1 0h0m0-1h0m0 0h0m1-6h0m0 0h0m1 1h0m0-4h0m2 6h0m0-7h0m1 6h0m0-1h0m0-3h0m1 8h0m1 1h0m0-6h0m1-3h0m0 5h0m1 2h0m0-9h0m2 3h0m0 1h0m0 6h0m1-3h0m0-4h0m0 2h0m0-2h0m1-4h0m0 9h0m0-8h0m1-1h0m0 7h0m1 3h0m0-8h0m2 5h0m1-3h0m0 3h0m0-5h0m1 5h0m1-7h0m1 8h0m0-6h0m0 2h0m0-1h0m1 2h0m0-2h0m1-3h0m0 6h0m1-3h0m0 8h0m1-1h0m0-3h0m0 0h0m0 1h0m1-7h0m0 6h0m0 3h0m1-6h0m0-1h0m0 1h0m1-3h0m0 8h0m2-9h0m1 9h0m0 2h0m0-10h0m1 6h0m0-6h0m1 8h0m0 2h0m0-11h0m1 4h0m1 4h0m0 1h0m0-8h0m0 3h0m1 7h0m0-2h0m0-1h0m0-6h0m1 8h0m0-5h0m1-2h0m0 0h0m0 9h0m0-8h0m1-1h0m1 0h0m0 7h0m0-6h0m0 7h0m1 0h0m1-6h0m0 1h0m0 4h0m1 1h0m0-3h0m0-4h0m1 7h0m0-2h0m0-2h0m1 2h0m0-1h0m0 0h0m0 3h0m0-3h0m1 3h0m0-8h0m1 6h0m0 2h0m1-6h0m0 7h0m1-6h0m1-6h0m2 5h0m1 4h0m1-5h0m0 2h0m1 4h0m0-1h0m0-5h0m0 6h0m1-3h0m0-6h0m0 9h0m0-1h0m0-2h0m0-1h0m1 3h0m0 2h0m0 0h0m0-8h0m0 3h0m1-5h0m0 3h0m0 1h0m0-1h0m1-1h0m0 8h0m0-4h0m1-7h0m1 4h0m0-4h0m1 1h0m0 0h0m0 9h0m1-3h0m0-1h0m0-4h0m1 3h0m0 2h0m0-3h0m0-2h0m0 9h0m0-6h0m1 2h0m0-6h0m1 5h0m1-5h0m0 2h0m0-1h0m0 4h0m1-4h0m1 1h0m0 3h0m0 1h0m1-1h0m0 3h0m0 1h0m1-1h0m0-7h0m0 1h0m1 3h0m0-2h0m1 6h0m0 1h0m0-1h0m0-3h0m0 2h0m1 1h0m0 0h0m0 1h0m1-7h0m0 0h0m0 6h0m1 0h0m0-9h0m0 7h0m1-3h0m0 0h0m1 0h0m1-5h0m0 2h0m1 7h0m1 0h0m0-5h0m1-4h0m0 7h0m0 0h0m1-6h0m0-1h0m2 11h0m0-2h0m2-4h0m0 6h0m0-2h0m1-7h0m1-1h0m1 2h0m1 5h0m0-3h0m0-1h0m0 6h0m0-8h0m0 2h0m1 5h0m0-5h0m0-2h0m1 6h0m0-4h0m0 7h0m0-8h0m1 8h0m0-6h0m1 2h0m1-3h0m0 2h0m0 4h0m1-3h0m0-3h0m1 3h0m1 2h0m0 1h0m2-3h0m4-1h0m1 5h0m0 1h0m0-9h0m2-2h0m0 6h0m2 2h0m0-6h0m1 9h0m0-9h0m3 4h0m0-2h0m2 3h0m3-7h0m2 6h0m1-7h0m2 10h0m5-4h0m3-2h0m0 2h0m14-1h0m8 2h0m0-4h0m5 0h0m10 3h0m10-1h0m181-3h0m30 6h0m899-5h0m3 5h0m3-7h0m81 2h0m8 1h0m0 4h0m6 0h0m1-3h0m36 3h0m3-2h0m112 3h0m-1642 7h0m20-4h0m54 4h0m15-4h0m2 0h0m1 6h0m1-1h0m1-2h0m1 9h0m1-10h0m0 6h0m1 3h0m1-3h0m1-5h0m0-2h0m1 8h0m0-8h0m1 8h0m0-3h0m0 3h0m1 0h0m1-2h0m0-6h0m0 0h0m0 6h0m0-3h0m1 5h0m0 1h0m2-2h0m0-2h0m0-6h0m0 6h0m2-2h0m0 0h0m1-4h0m1 9h0m1 0h0m1-3h0m1 5h0m0-11h0m1 2h0m0 0h0m2 5h0m0 0h0m0-3h0m1 6h0m0-2h0m0-7h0m0 10h0m1-4h0m0-4h0m1-3h0m1 6h0m1 1h0m0-2h0m0-2h0m1 8h0m0-10h0m0 3h0m1 6h0m1-6h0m1-1h0m0 7h0m0-1h0m2-8h0m0 8h0m1-4h0m1 4h0m0-4h0m1 0h0m0-2h0m1 9h0m0-9h0m0 7h0m0-2h0m2-5h0m0 3h0m1-1h0m0-5h0m0 3h0m1 8h0m0 0h0m1-4h0m0-5h0m1-2h0m0 8h0m0-3h0m0 1h0m0 3h0m0-3h0m0 0h0m0 3h0m1-6h0m1 4h0m0 5h0m1-2h0m0-4h0m0 4h0m1-1h0m0 1h0m0-3h0m0-1h0m1-4h0m1 2h0m0 7h0m1-8h0m0 7h0m0-10h0m0 5h0m0-3h0m0 8h0m1-7h0m0 2h0m0 3h0m0-5h0m0 0h0m0-2h0m0 0h0m0 8h0m1-3h0m0 3h0m1 0h0m0-8h0m0 4h0m0-1h0m1-3h0m0 7h0m0-4h0m0-3h0m0 9h0m0-3h0m1 4h0m0-5h0m0 5h0m0-8h0m1 3h0m0 6h0m0-4h0m1 3h0m0-1h0m1-1h0m0 1h0m0-3h0m1 1h0m0 1h0m0 1h0m0-2h0m1-4h0m0 8h0m1-6h0m0 5h0m1-7h0m0-2h0m0 8h0m1-7h0m0 0h0m0 5h0m0-5h0m1-3h0m0 11h0m0-5h0m0 5h0m0-8h0m1-2h0m0 4h0m1 5h0m1-3h0m1-4h0m0 6h0m0-6h0m0 7h0m0 0h0m1 1h0m0-8h0m0 3h0m1-2h0m1 6h0m0 0h0m0-3h0m0-4h0m0 7h0m2-6h0m0-3h0m1 4h0m0-4h0m0 4h0m2-1h0m0 0h0m0 8h0m2-7h0m2 5h0m1-4h0m0-6h0m1 12h0m0-6h0m0-5h0m0 3h0m0-2h0m0 7h0m1-3h0m1 0h0m1-5h0m1 4h0m0 4h0m1-8h0m0 5h0m0 3h0m0-2h0m0 2h0m0-5h0m1 0h0m0-3h0m0 0h0m2 8h0m2-7h0m0 4h0m0 5h0m1-8h0m2 2h0m0-3h0m0 4h0m1 0h0m0-1h0m2 4h0m0 3h0m1-7h0m1-1h0m0 2h0m1 5h0m1 1h0m0-12h0m0 6h0m1 5h0m0-4h0m0-7h0m1 1h0m0 3h0m1 8h0m0-2h0m0-4h0m1 2h0m0-5h0m0-2h0m1 8h0m0-7h0m0 6h0m1-4h0m0 6h0m1-3h0m1-4h0m2-2h0m0 9h0m1-10h0m2 3h0m0-2h0m1 5h0m7-2h0m8 3h0m10-7h0m14 9h0m277-5h0m877-3h0m0 7h0m20 4h0m61-6h0m7 1h0m4-3h0m4 7h0m20-2h0m2-1h0m0 1h0m2-2h0m6 3h0m54-1h0m23 0h0m4 0h0m11-4h0m6 4h0m3 0h0m5-3h0m3 5h0m1-11h0m1 10h0m7-5h0m5-2h0m-1550 11h0m5 6h0m2-7h0m0 7h0m1-7h0m1 5h0m1-3h0m0 0h0m0 7h0m1-2h0m0-5h0m0-2h0m1 5h0m0 1h0m1 3h0m0-10h0m0 2h0m2 0h0m0 6h0m1 1h0m0 0h0m0-4h0m0 0h0m1 4h0m1-3h0m0 6h0m1-2h0m0-5h0m1-2h0m1 3h0m0-3h0m1 3h0m0 4h0m1-4h0m0-1h0m0 7h0m2-2h0m1-6h0m0 4h0m1-2h0m2-1h0m0-1h0m0 1h0m0 4h0m1-4h0m0-2h0m0 4h0m1-1h0m0 3h0m0-6h0m1 7h0m0-2h0m0-4h0m0-2h0m0 6h0m1-4h0m0-1h0m0 9h0m0-2h0m0-10h0m0 12h0m0-10h0m1 1h0m0 2h0m1-4h0m0 8h0m1-4h0m0 5h0m0-6h0m0 2h0m1 3h0m0 3h0m0-9h0m0 3h0m0-3h0m0-2h0m1 11h0m0-2h0m0 2h0m1-6h0m1 1h0m0 1h0m0 2h0m1-8h0m0 2h0m0-1h0m0 2h0m0-3h0m0 8h0m0-6h0m1 1h0m0 4h0m0-7h0m0 3h0m0-1h0m0 8h0m1-1h0m0-7h0m0-1h0m1-1h0m0 2h0m0-2h0m0 9h0m1 1h0m0-8h0m0 7h0m1-10h0m0 4h0m0 5h0m0-10h0m1 5h0m0 7h0m0-4h0m0-3h0m0-2h0m0 2h0m1 0h0m0 0h0m0 3h0m1-6h0m0 1h0m0 7h0m0 0h0m0-8h0m0 6h0m1-3h0m0 6h0m1-2h0m0-4h0m0 1h0m1 2h0m0-3h0m1 0h0m0-2h0m1 5h0m0 0h0m0-3h0m2-3h0m0 0h0m1 5h0m1-6h0m0 5h0m1 5h0m0-9h0m1 7h0m1-5h0m0 3h0m0-1h0m0-3h0m0-1h0m2 3h0m0-1h0m1 1h0m0 0h0m0-4h0m1 8h0m0 1h0m0-9h0m0 9h0m1-9h0m0-1h0m1 7h0m0-1h0m0-4h0m0-1h0m0 10h0m0-7h0m1 6h0m1-2h0m1 0h0m0 0h0m0 3h0m0-2h0m0-1h0m2 3h0m1-6h0m1-2h0m0 5h0m0-7h0m0 6h0m0-6h0m0 9h0m1 2h0m0-1h0m1 0h0m0 0h0m1-4h0m0-3h0m0 1h0m1 4h0m0-9h0m0 9h0m0-1h0m1 3h0m1-7h0m0-4h0m1 2h0m0-1h0m1-1h0m1 8h0m0-2h0m0 0h0m0-3h0m0 7h0m1-10h0m0 9h0m0 1h0m1-6h0m1 0h0m0 2h0m0-2h0m1 4h0m0 2h0m0-9h0m2 9h0m0-1h0m1-3h0m0 5h0m1-2h0m0 2h0m1-5h0m0 2h0m0-2h0m0 1h0m1 1h0m0-7h0m0 10h0m1-10h0m0 3h0m1 4h0m2-6h0m0 3h0m0 5h0m0-2h0m1-1h0m0-3h0m0 4h0m1 0h0m1 4h0m1-12h0m0 0h0m1 5h0m0-1h0m0-4h0m4 7h0m6-7h0m3 11h0m13-1h0m3-4h0m1178-5h0m3 0h0m2 6h0m12-2h0m8-1h0m1 3h0m3 5h0m14-4h0m45 4h0m1-10h0m1 10h0m5-5h0m1 3h0m2-1h0m4-3h0m30 3h0m4-1h0m1 4h0m27-5h0m5 4h0m2-8h0m12 7h0m1-9h0m25 3h0m21-2h0m-1523 11h0m0 3h0m1-2h0m2 1h0m1 1h0m0-1h0m1 1h0m1-4h0m0 1h0m0 2h0m1-3h0m2 6h0m1-2h0m2-3h0m0 3h0m0-4h0m0 2h0m1 3h0m0-5h0m0 4h0m0-2h0m1 0h0m2 1h0m2 0h0m0-3h0m1 5h0m0-4h0m0 2h0m0 1h0m1-3h0m1 0h0m0 1h0m1 0h0m1 4h0m0-5h0m0 2h0m1 0h0m0-2h0m0 1h0m0 0h0m1-2h0m1 4h0m1 2h0m0-3h0m0-3h0m0 2h0m0 3h0m1-3h0m0 3h0m1-1h0m0-2h0m0-1h0m1 2h0m0 1h0m1 0h0m0-2h0m0 0h0m1-1h0m0 3h0m0-4h0m1 3h0m0 1h0m1-3h0m2 0h0m0 3h0m0-3h0m1 0h0m3 3h0m1-1h0m3-1h0m1 1h0m0 1h0m0-3h0m2 5h0m0-4h0m0 4h0m1-1h0m1 0h0m3-1h0m0 1h0m0-4h0m1 1h0m2 3h0m1-3h0m1-1h0m1 1h0m0 0h0m1 0h0m1 1h0m0-1h0m0 0h0m1 1h0m1 1h0m1-1h0m2 0h0m0-2h0m1 0h0m0 5h0m1-4h0m1 1h0m0 2h0m1-4h0m2 0h0m0 0h0m1 0h0m1 4h0m0 0h0m1-4h0m1 0h0m0-1h0m1 2h0m0 1h0m0 2h0m1-2h0m2-3h0m1 4h0m2-2h0m20 0h0m14-2h0m1210 2h0m7 7h0m5-4h0m23 1h0m6-3h0m5 4h0m2 0h0m0-2h0m4-1h0m2 3h0m5-5h0m1 6h0m9-3h0m1 0h0m2 3h0m2 3h0m6-3h0m5 0h0m0-5h0m9-1h0m27-1h0m37 0h0m-1387 583h0m-81 4h0m1 8h0m26 4h0m9-4h0m-60 15h0m41-10h0m51 7h0m-184 12h0m93-1h0m11-4h0m24 1h0m4 1h0m-168 9h0m14 7h0m14-5h0m8 0h0m4 5h0m5 3h0m16-10h0m71 8h0m30-9h0m6 9h0m4-6h0m5 4h0m34-3h0m-227 13h0m18-4h0m2 8h0m36 2h0m0-2h0m7 2h0m0-7h0m10-3h0m2 1h0m79 4h0m1 3h0m21-5h0m1-1h0m1-2h0m42 2h0m-176 19h0m4-2h0m1-7h0m33 10h0m1-10h0m1 6h0m3-4h0m67 2h0m5 3h0m3 3h0m1-2h0m5-10h0m8 9h0m6-5h0m24-4h0m12 5h0m-190 11h0m10 0h0m7 3h0m12 1h0m9-4h0m10-4h0m4 0h0m5 2h0m2 9h0m1 1h0m57 0h0m10-4h0m2-2h0m2 3h0m5-6h0m1 1h0m4 7h0m24-4h0m4-2h0m-198 18h0m12 0h0m24-6h0m13 0h0m1 2h0m1 1h0m0-6h0m9 2h0m5 4h0m13 1h0m5-6h0m4 4h0m6-2h0m53 5h0m3-4h0m7-3h0m3 6h0m1-2h0m2 5h0m2-10h0m2 6h0m1-2h0m1-5h0m2 11h0m8-2h0m1 0h0m2-8h0m2-1h0m6 6h0m1-4h0m0 4h0m2 2h0m4-5h0m3 2h0m17 3h0m-206 6h0m29 5h0m2 1h0m2 1h0m10-3h0m1 2h0m0-7h0m0 4h0m0 6h0m2-9h0m1 2h0m4 3h0m3-8h0m0 10h0m2 2h0m0-10h0m8 0h0m2 1h0m2 4h0m1-7h0m1 1h0m0 6h0m0 5h0m1-3h0m7-9h0m7 8h0m1 0h0m47 2h0m6-4h0m0 3h0m2-3h0m1 3h0m0-1h0m2 0h0m1-7h0m8 7h0m1-2h0m1-3h0m0 8h0m2 0h0m0-3h0m2 3h0m3-7h0m1 6h0m1 2h0m2-5h0m4-4h0m0 0h0m2-2h0m2 3h0m3 1h0m0-4h0m6 7h0m3 0h0m12 1h0m25 1h0m-181 8h0m1 1h0m5-5h0m0 3h0m2 5h0m1 0h0m6-9h0m1 11h0m2-9h0m1 6h0m1 3h0m4-12h0m1 8h0m9 2h0m1-6h0m2-2h0m8 1h0m0 8h0m0-5h0m1-2h0m2-4h0m4 3h0m4 6h0m37 1h0m3-10h0m3 12h0m1-2h0m0-8h0m1 3h0m1 2h0m3-2h0m2-5h0m0 3h0m2 3h0m1-1h0m1 1h0m0-1h0m1 5h0m0-5h0m2 0h0m0 7h0m2-5h0m0 0h0m1-4h0m0 4h0m0 3h0m1-6h0m3 4h0m1-2h0m2 1h0m1-7h0m1 2h0m0 7h0m2-2h0m5-3h0m2 4h0m1 2h0m2-10h0m2 3h0m1 1h0m4 0h0m2 0h0m3 0h0m-146 10h0m1-1h0m1 8h0m2-8h0m1 6h0m2 0h0m1-1h0m1-3h0m0 9h0m0-7h0m5-2h0m4 8h0m1-10h0m2 9h0m1 0h0m3-6h0m1-4h0m1 4h0m7 2h0m0-2h0m2 3h0m1-6h0m0 2h0m1 3h0m0-2h0m0 3h0m3-4h0m1 9h0m0-11h0m2 7h0m1 4h0m0-6h0m4 4h0m1 0h0m1-6h0m41 3h0m0-7h0m1 1h0m1 5h0m0-3h0m1 0h0m1 5h0m0-2h0m3 3h0m2-7h0m0-1h0m1 0h0m0 10h0m0-7h0m1-2h0m0 1h0m0 5h0m1-8h0m0 1h0m1 11h0m2-8h0m0 7h0m0-2h0m0-6h0m1 2h0m1 3h0m2-3h0m0 6h0m0-9h0m1 0h0m2 6h0m0-7h0m0 6h0m1-5h0m0 1h0m1 1h0m0 0h0m4 3h0m0-3h0m1 1h0m1 4h0m0 1h0m1-3h0m0-2h0m0 4h0m1-2h0m2 5h0m2-8h0m0 8h0m1-6h0m0 3h0m1-9h0m1 10h0m2 1h0m1 1h0m15-10h0m3 3h0m3 3h0m7 0h0m11 3h0m3-7h0m-207 10h0m3 9h0m31-9h0m1 1h0m1 6h0m1-2h0m1-6h0m6 10h0m0-3h0m0-7h0m3 6h0m0-3h0m1 6h0m2 2h0m6-1h0m0-3h0m0 3h0m1-6h0m4 3h0m0-5h0m0-2h0m2 10h0m0-6h0m1 1h0m0-1h0m1 6h0m0-9h0m4 8h0m0-9h0m3 8h0m3-5h0m2 6h0m6-2h0m4-5h0m0 6h0m2-1h0m31-5h0m1-1h0m5 4h0m0 1h0m0-6h0m0 10h0m1 0h0m0-1h0m0-2h0m1-2h0m0-2h0m0-2h0m1 1h0m1 1h0m1 4h0m1-2h0m1-6h0m1 11h0m1-9h0m0 10h0m0-9h0m0 5h0m0-1h0m0-1h0m0-1h0m1 5h0m0-5h0m0 4h0m1-2h0m2-1h0m1 6h0m0-6h0m0-2h0m0-2h0m1 6h0m0 3h0m0-1h0m1-10h0m1 11h0m1-9h0m0 8h0m0-9h0m1 6h0m1 4h0m1-1h0m0-1h0m1 2h0m0 1h0m0-5h0m1 2h0m1-7h0m0-1h0m1 6h0m0 1h0m1-6h0m1-2h0m1 7h0m0-3h0m2-2h0m2 8h0m0-6h0m1 6h0m0-8h0m0 5h0m1-5h0m3 4h0m1-3h0m0 2h0m1 6h0m2-9h0m0 4h0m0 4h0m1-1h0m-170 12h0m25-8h0m0-1h0m17 5h0m3-4h0m1 1h0m0 0h0m0 1h0m3 6h0m1-2h0m2-5h0m0 3h0m2 2h0m3-6h0m1 10h0m0-1h0m0-8h0m3 0h0m1 8h0m2-2h0m0-6h0m0 7h0m1-5h0m1 4h0m0-3h0m2 3h0m1 2h0m6-4h0m3-2h0m3 2h0m0-4h0m2 2h0m1-3h0m1 1h0m0 3h0m0 0h0m1 3h0m0 1h0m1 2h0m1 1h0m0-10h0m1 10h0m2 0h0m1-8h0m2 7h0m1-8h0m1 8h0m4-1h0m24-5h0m1-3h0m1 7h0m0 0h0m0-2h0m1-3h0m0-3h0m1 6h0m1-3h0m0 5h0m0 2h0m1-4h0m0-2h0m1 7h0m0-10h0m1 0h0m0 2h0m0 8h0m1-4h0m0-7h0m1 2h0m0 2h0m1 2h0m2 2h0m1 0h0m1 3h0m0-10h0m0 1h0m1 6h0m1-7h0m1 4h0m0 6h0m0-3h0m1 3h0m0-3h0m1 0h0m0-7h0m0 3h0m1 4h0m0 2h0m0-8h0m0 2h0m1-2h0m0 4h0m0-4h0m0 2h0m1-2h0m0 0h0m0-3h0m2 10h0m1-9h0m0 11h0m1-3h0m1-7h0m0 1h0m0 9h0m2-4h0m1-1h0m1-4h0m0 3h0m0 4h0m1-6h0m1-1h0m1 2h0m2 6h0m0-10h0m0 2h0m0 3h0m2 4h0m0-2h0m1 1h0m0-8h0m1 3h0m0-4h0m3 9h0m2-8h0m1 2h0m-128 9h0m0 1h0m1 5h0m0 0h0m2 1h0m1-1h0m1 6h0m2-10h0m0 7h0m3-4h0m0-2h0m1-2h0m1 11h0m0-5h0m0-2h0m2-2h0m1 7h0m0-6h0m0 6h0m0-3h0m1-4h0m1 7h0m2-1h0m0-6h0m2-2h0m1 2h0m2-3h0m0 5h0m0 1h0m0 0h0m2 0h0m0-6h0m2 7h0m1 5h0m0-4h0m1 3h0m0-8h0m1 4h0m0-2h0m0-2h0m1 4h0m0-1h0m1-1h0m1-4h0m2 3h0m2 7h0m0-6h0m0-4h0m3 8h0m3-8h0m0 7h0m1-6h0m0 9h0m0-7h0m0 7h0m1-9h0m0 1h0m1 5h0m1 0h0m0 2h0m0-1h0m2-7h0m2 1h0m0 4h0m1 3h0m1-2h0m1 1h0m2 1h0m22-1h0m1 1h0m0-3h0m2-3h0m0-3h0m1 11h0m1-8h0m0 3h0m1-5h0m0-1h0m1 5h0m0 4h0m1-1h0m0-1h0m0-1h0m1 2h0m0-5h0m0 5h0m1-2h0m0-4h0m0 1h0m0-2h0m1 2h0m0 0h0m0 1h0m0 0h0m0-4h0m0 4h0m0 5h0m2-1h0m1 1h0m0-3h0m0-1h0m1-2h0m1-3h0m0 5h0m0 1h0m0-2h0m1 4h0m1 3h0m0-9h0m1-3h0m1 10h0m1-8h0m0 7h0m0-6h0m3 5h0m0-2h0m2-2h0m0-3h0m1 7h0m0 3h0m0-3h0m0-1h0m0-1h0m1-1h0m0 5h0m0-5h0m0 6h0m0 1h0m1-4h0m1-3h0m0-4h0m1-1h0m0 6h0m1 4h0m0-1h0m1-1h0m1-3h0m0-1h0m0 3h0m1-1h0m1-3h0m2 1h0m0 6h0m2-8h0m2 2h0m4 7h0m1-6h0m1 2h0m4-1h0m0-2h0m0-4h0m1 2h0m4 6h0m13-5h0m4 8h0m0-3h0m4-6h0m-205 15h0m23 5h0m26-2h0m2 2h0m1 0h0m0-3h0m1-5h0m0 7h0m2 2h0m1 1h0m0-6h0m1 1h0m1 0h0m0-4h0m1-3h0m0 3h0m1 8h0m1 0h0m0 0h0m0-2h0m1-9h0m0 1h0m2 10h0m0-2h0m1-8h0m0 5h0m0-3h0m0 0h0m1 7h0m0-4h0m0-1h0m1-4h0m0 5h0m0 1h0m0-3h0m2 1h0m0 0h0m3-2h0m0 5h0m0-1h0m0-1h0m0 1h0m1-4h0m1 5h0m0-3h0m0-4h0m1 1h0m0 3h0m2 4h0m1-3h0m1-3h0m0-2h0m0 10h0m4-9h0m0 0h0m0 9h0m0-1h0m2-3h0m0-4h0m1 1h0m2 4h0m0-6h0m1 7h0m0-7h0m3 9h0m0-3h0m3-1h0m0-7h0m1 9h0m1-5h0m0 7h0m2-1h0m0-3h0m0 4h0m1-11h0m1 3h0m0 5h0m3-7h0m25 3h0m0 3h0m2-4h0m0 3h0m1-4h0m0 5h0m1 2h0m0 1h0m0 2h0m0-10h0m1 9h0m0 0h0m0-8h0m0-3h0m0 11h0m0-5h0m1 4h0m1-2h0m0-1h0m0 1h0m1 0h0m0-3h0m0 5h0m1-7h0m0 3h0m0-5h0m1 5h0m0-6h0m0 2h0m0 5h0m0 0h0m1-6h0m1 0h0m0 4h0m0 7h0m1-8h0m0 0h0m1 0h0m0-2h0m0-2h0m1 8h0m0-4h0m0 1h0m1 6h0m1-8h0m0 2h0m0-5h0m1 5h0m0 0h0m1-3h0m0 9h0m2-8h0m0 1h0m0 4h0m1-3h0m0 7h0m1-10h0m0 6h0m0 1h0m0 0h0m0-7h0m0 8h0m0-5h0m1 4h0m0 3h0m1-11h0m0 10h0m0 0h0m1-10h0m1 6h0m0-5h0m2 9h0m1 0h0m0-7h0m1 6h0m0-10h0m0 2h0m1 4h0m1 5h0m1-5h0m0-1h0m1 0h0m0 3h0m2 1h0m1 0h0m0 0h0m0-8h0m2 5h0m0 5h0m0 1h0m1-12h0m1 1h0m0 1h0m2 0h0m0-1h0m4 7h0m2-3h0m21 0h0m1 1h0m3 0h0m3 4h0m15 1h0m-197 11h0m20 0h0m2-4h0m1 5h0m2-10h0m2 3h0m1-2h0m1 5h0m1-7h0m0 0h0m1 4h0m2 5h0m0 3h0m0-2h0m0-2h0m1-8h0m0 9h0m2 0h0m0-4h0m0 0h0m0 1h0m1-1h0m0 5h0m0-9h0m0 8h0m1-4h0m0 0h0m0 4h0m0 2h0m1-6h0m1-1h0m0-1h0m1 9h0m0-10h0m1 0h0m1-1h0m0 9h0m1-2h0m1 2h0m0-8h0m1 6h0m1-1h0m0 3h0m0 1h0m2-11h0m1 2h0m1 9h0m0-2h0m1-6h0m0 5h0m0-3h0m0-5h0m1 1h0m0 11h0m1-10h0m1 5h0m2-2h0m1-3h0m0-1h0m0 2h0m1 2h0m1 0h0m1 2h0m0 0h0m0-3h0m1 7h0m0-11h0m1 7h0m0-7h0m0 7h0m1 1h0m2-2h0m1-6h0m1 4h0m0 6h0m1-3h0m0 0h0m1-5h0m1 10h0m0-4h0m0-7h0m1 4h0m0-1h0m0-3h0m1 3h0m1 6h0m0 1h0m0-7h0m3 3h0m0 4h0m1-5h0m1 0h0m0 4h0m1-4h0m2 5h0m20-10h0m2 7h0m1-6h0m0 9h0m1-9h0m2 6h0m0-8h0m0 6h0m0 1h0m1 0h0m0 2h0m0-3h0m1-4h0m1 2h0m0 0h0m1 6h0m1-7h0m1-1h0m0 6h0m1-1h0m0 3h0m1 0h0m0-9h0m1 7h0m1-4h0m0 3h0m0-5h0m0 9h0m1-3h0m1 3h0m0-8h0m0 6h0m1-1h0m0-7h0m0 7h0m1-2h0m1-5h0m0 4h0m0 4h0m1-6h0m0 2h0m1 5h0m0-7h0m0 5h0m0-7h0m0 6h0m1-5h0m0-1h0m0 4h0m1-4h0m0 6h0m0 4h0m0-7h0m2 2h0m0 3h0m0 0h0m1-9h0m1 11h0m0-7h0m1-2h0m0 1h0m1 7h0m1-3h0m3-6h0m0 3h0m0 2h0m0 4h0m0-5h0m0-5h0m1 3h0m0-1h0m0 8h0m1 2h0m0-6h0m1-2h0m0-3h0m0 5h0m0-4h0m1 8h0m0 0h0m0 2h0m0-2h0m0 1h0m1-6h0m1 1h0m2 5h0m0-6h0m1-4h0m0 4h0m0 7h0m4-9h0m1 0h0m0 8h0m4-9h0m4 4h0m0 4h0m1-9h0m4 6h0m22 4h0m-185 10h0m28 0h0m0 2h0m2-5h0m0 5h0m1-2h0m1-1h0m0 2h0m0-7h0m1 7h0m0-2h0m1-4h0m0 4h0m0-5h0m0 7h0m1-6h0m4 8h0m0-6h0m0-5h0m1 10h0m0-9h0m1 4h0m0 4h0m0-2h0m1-2h0m0-1h0m0 1h0m0 0h0m1 5h0m2-2h0m1 3h0m0-11h0m1 9h0m0-6h0m1 4h0m0-7h0m0 7h0m0 2h0m0-8h0m2-1h0m0 6h0m1-3h0m1 7h0m0-10h0m1-1h0m1 2h0m0 9h0m0-4h0m0-6h0m1 4h0m0 5h0m1-2h0m0 3h0m0-1h0m1-4h0m0-2h0m0 4h0m0-7h0m1 3h0m1-3h0m1 0h0m1 8h0m1 0h0m1-4h0m0 0h0m0-3h0m1 2h0m1 3h0m0-1h0m1-3h0m0 5h0m1 1h0m0-1h0m1 3h0m0-4h0m0-1h0m1 3h0m1-3h0m1-4h0m2 5h0m1 3h0m0-7h0m0 0h0m1 2h0m0-1h0m3 6h0m0-3h0m0-2h0m1 3h0m1-1h0m1 3h0m2 0h0m18-3h0m2 5h0m0-9h0m1-3h0m0 12h0m1-7h0m0 0h0m0 4h0m0 0h0m1-9h0m0 7h0m0 1h0m1-5h0m0-2h0m0 5h0m0 1h0m2 4h0m0-10h0m0 3h0m0-1h0m1 8h0m0-8h0m0 4h0m1-6h0m0 7h0m2-2h0m0 6h0m1-8h0m0-1h0m1-2h0m0 8h0m1-2h0m0-5h0m0 8h0m0-5h0m0-2h0m1 3h0m1-6h0m0 7h0m1-6h0m1 8h0m1-5h0m0 5h0m0-7h0m1 3h0m0-1h0m1 6h0m0-1h0m0-6h0m0 8h0m1-6h0m0-4h0m1 4h0m0-5h0m0 7h0m1-5h0m1 2h0m1 7h0m0-10h0m0 2h0m0 0h0m0 1h0m1 0h0m0 6h0m0-1h0m0-4h0m0 2h0m1-2h0m0 1h0m0-2h0m0 1h0m1-1h0m0 6h0m0 0h0m0-3h0m0 1h0m1-1h0m0-1h0m0-1h0m0-3h0m1 4h0m0-6h0m0 9h0m1 3h0m1-9h0m0-1h0m0 2h0m1 4h0m0-1h0m1 1h0m0 2h0m0-4h0m1-1h0m0 0h0m1-2h0m0 4h0m1 3h0m1-2h0m0-2h0m0 5h0m2-5h0m0-3h0m1 5h0m0-5h0m1 7h0m3 0h0m3 1h0m1-7h0m1-3h0m1 7h0m0-3h0m2 2h0m1-7h0m0 6h0m11-4h0m4 9h0m2-4h0m2 3h0m-201 13h0m32-7h0m8 4h0m11 3h0m1-10h0m1 7h0m2-2h0m1-3h0m0 3h0m1 3h0m0-3h0m1 6h0m0-1h0m1-3h0m1 2h0m0-2h0m0-2h0m2 3h0m1-8h0m0 5h0m0-1h0m0 4h0m3-4h0m0-1h0m0-3h0m1 5h0m0-4h0m0 6h0m0 1h0m0-2h0m1-5h0m0 7h0m1-3h0m1 2h0m1-5h0m2 8h0m1 1h0m0-1h0m0-9h0m0 8h0m1-8h0m2 3h0m0 3h0m1-4h0m0 5h0m0-8h0m0-1h0m0 7h0m1 5h0m0-4h0m1-6h0m1 10h0m1-1h0m0-11h0m0 12h0m0-9h0m1-1h0m0 1h0m0-1h0m0 1h0m1 7h0m1-9h0m1 7h0m3 3h0m0-1h0m0-9h0m1 4h0m0 6h0m1-11h0m0 7h0m1 4h0m0-6h0m1-2h0m0 5h0m0 1h0m0-6h0m1 6h0m1-4h0m0 3h0m1 3h0m0-5h0m1 1h0m1-6h0m1 1h0m0 6h0m0 3h0m1-8h0m0 4h0m0-5h0m1 4h0m3 5h0m0-8h0m0-1h0m1 9h0m1 0h0m2-7h0m1 2h0m17 1h0m0 5h0m2-3h0m0-3h0m1 4h0m1-3h0m0-7h0m0 8h0m1 0h0m0-8h0m0 0h0m1 8h0m0 1h0m1-5h0m0 8h0m0-7h0m1-5h0m0 4h0m1-1h0m0 6h0m0 2h0m0-10h0m1 6h0m0-6h0m0-1h0m0 2h0m1 1h0m1 2h0m0 5h0m2-1h0m0-4h0m1 0h0m0 0h0m0-1h0m0 6h0m1-3h0m0-2h0m1 0h0m0 2h0m0-2h0m0 5h0m0-5h0m1 2h0m0 4h0m0-4h0m0 3h0m0-8h0m1 5h0m1-1h0m1-1h0m1-3h0m0 2h0m0 5h0m1-6h0m0 5h0m1 4h0m0-3h0m0 1h0m1 2h0m0-6h0m0 3h0m1-4h0m0-4h0m0 4h0m0 7h0m0-8h0m1 2h0m0 0h0m0-3h0m0-1h0m1 1h0m1 2h0m0-5h0m1 12h0m0-2h0m0-3h0m1-7h0m0 5h0m1-3h0m0 6h0m0 1h0m1-1h0m0-2h0m0-1h0m0-1h0m0 7h0m1-6h0m3 4h0m2 3h0m0-5h0m0-1h0m1 5h0m0-9h0m1 5h0m0 2h0m1 1h0m1-9h0m0 0h0m1 0h0m0-1h0m2 1h0m1 10h0m0-6h0m1 6h0m0-3h0m1 2h0m0-1h0m1-9h0m1 4h0m1 4h0m3 2h0m1-7h0m3 7h0m2-5h0m9 6h0m-177 4h0m1 9h0m5-1h0m0-7h0m8 4h0m20 4h0m0-7h0m1 5h0m1-7h0m1 5h0m0-7h0m2 3h0m0 4h0m1-4h0m0-3h0m0 7h0m1 1h0m1-2h0m1-3h0m2 3h0m1 2h0m0-7h0m1 0h0m0 9h0m0-6h0m0-2h0m2 2h0m0 1h0m0 0h0m2-2h0m0 2h0m0 5h0m1 0h0m0-6h0m0-3h0m1 4h0m0 0h0m0 5h0m0-7h0m1 7h0m0-3h0m1 1h0m0-8h0m0 7h0m1-4h0m0-2h0m1 8h0m1 0h0m0 1h0m0 0h0m1-10h0m0 5h0m0-2h0m1-4h0m1 3h0m0 3h0m0 4h0m0-6h0m1 4h0m0 0h0m1-2h0m0-4h0m0-1h0m0 5h0m1 6h0m0-2h0m1 2h0m0-6h0m0-1h0m0 1h0m1 5h0m1-3h0m0 3h0m0-4h0m0 0h0m0 0h0m1 2h0m0-1h0m1-1h0m0-2h0m0 4h0m1-3h0m0 1h0m0-7h0m1 6h0m1 2h0m1-6h0m2 8h0m0-5h0m0-4h0m0 11h0m1-2h0m1-10h0m0 5h0m0 7h0m0-10h0m1 1h0m1 8h0m0-9h0m0 6h0m1 1h0m1 2h0m0-4h0m0 2h0m0-9h0m0 11h0m2-11h0m0 2h0m0 4h0m0 2h0m1 1h0m0-6h0m1 5h0m0-1h0m0-1h0m1 2h0m0-6h0m0 6h0m1-6h0m2 0h0m2 8h0m0-3h0m16 1h0m0 2h0m2-5h0m0 1h0m0-4h0m1-1h0m0 5h0m0-1h0m0 7h0m0-6h0m0 4h0m1-9h0m1 0h0m2 8h0m1-4h0m0 5h0m1-6h0m0 4h0m0-5h0m0 4h0m1 1h0m1-7h0m0 2h0m0-1h0m1 9h0m0-10h0m0 1h0m0 3h0m1-4h0m1 1h0m0 7h0m0-5h0m1-1h0m0 2h0m1 0h0m0-3h0m1 7h0m0-3h0m0 0h0m1 4h0m0 1h0m1-5h0m0 4h0m0 2h0m1-11h0m1 9h0m0-8h0m0 8h0m0-8h0m1 5h0m1-3h0m0 1h0m0 0h0m1-5h0m0 10h0m1 1h0m1-7h0m0 3h0m0 2h0m0 1h0m0 1h0m0-4h0m1-3h0m0-4h0m0 4h0m1 3h0m0 0h0m2 0h0m0-4h0m2 5h0m0-2h0m1 5h0m0-9h0m0-2h0m0 12h0m0-4h0m1-4h0m0 4h0m0-7h0m0 6h0m1 3h0m0-7h0m0 5h0m0-7h0m1 0h0m0 3h0m1 6h0m0 2h0m0-3h0m1 2h0m0-4h0m1 0h0m0-1h0m0-3h0m1 1h0m1-2h0m0 0h0m1 4h0m0-4h0m0 6h0m0 2h0m2 1h0m1 1h0m0-9h0m1 1h0m1 5h0m0 0h0m1-2h0m0 1h0m1 4h0m1-1h0m1-1h0m1 0h0m3 0h0m0-2h0m1-5h0m0 3h0m2-6h0m0 7h0m11 3h0m4-7h0m24 5h0m-197 5h0m11 1h0m11 2h0m0 6h0m6-1h0m2 1h0m0-9h0m1 11h0m0-9h0m0 6h0m0-9h0m0 7h0m0 1h0m0-7h0m1 1h0m0 3h0m0 5h0m0-5h0m1 1h0m0 3h0m0-4h0m0 0h0m1-4h0m0 8h0m0 0h0m1 2h0m0 0h0m1-11h0m0 6h0m0 6h0m0 0h0m0-5h0m1 0h0m0 2h0m1-4h0m1 3h0m0-5h0m0 0h0m0 2h0m0 2h0m1-3h0m1 4h0m1 4h0m0-2h0m1-2h0m0 3h0m0-7h0m0 5h0m0 1h0m1-3h0m0-1h0m1 4h0m1-6h0m0 6h0m1 0h0m0-6h0m0 2h0m1 5h0m1-11h0m0 4h0m0 7h0m0 1h0m1-6h0m1-4h0m1 6h0m0-7h0m1 0h0m0 3h0m0 0h0m0 0h0m0 0h0m0 5h0m1-6h0m0 8h0m2-7h0m0 6h0m0-9h0m0 9h0m0-6h0m0-3h0m1 10h0m0-6h0m1 2h0m0 2h0m1-5h0m0 3h0m1 0h0m0 4h0m1-6h0m0 1h0m0 4h0m0-6h0m1 4h0m0 3h0m0-7h0m1 1h0m1 5h0m1-2h0m0-2h0m0-1h0m1 4h0m0-5h0m1-2h0m0 10h0m1-9h0m0 1h0m0-2h0m0 3h0m1 6h0m1-11h0m0 1h0m0 9h0m0-6h0m0-1h0m1-2h0m0 7h0m1-3h0m0-1h0m1-3h0m0 4h0m0 7h0m1-10h0m1-1h0m1 6h0m0 3h0m1-3h0m0 4h0m0 1h0m1-2h0m2-8h0m1 5h0m1 2h0m0-1h0m1-6h0m1 5h0m16-1h0m0 4h0m2-5h0m1 0h0m0 0h0m1 2h0m0-1h0m0-1h0m1-5h0m0 2h0m0-1h0m0 6h0m1-6h0m0 4h0m1 2h0m0 4h0m1-7h0m0 4h0m0-5h0m0-2h0m0 2h0m1 2h0m0-1h0m0-2h0m1 1h0m0 8h0m1-3h0m0 0h0m1 3h0m0-4h0m1 2h0m1-6h0m1 5h0m0 2h0m1-1h0m0-3h0m0-4h0m0 1h0m1 3h0m0 2h0m1-4h0m1 5h0m0-6h0m1-1h0m0 1h0m0 3h0m0 1h0m1 0h0m0-1h0m0 5h0m0-4h0m1-6h0m0 7h0m1 0h0m1 1h0m0 2h0m0-3h0m1-2h0m0-5h0m0 3h0m1-2h0m1 2h0m0-4h0m0 5h0m1 1h0m0-4h0m1 6h0m1-6h0m0 7h0m0 0h0m1-5h0m1 4h0m0-5h0m1-2h0m0 3h0m1 6h0m0-2h0m1-3h0m1 2h0m0 2h0m1 2h0m0-2h0m0-2h0m0-3h0m1 0h0m0 1h0m1-5h0m0 0h0m0 6h0m1-3h0m0 7h0m1-5h0m0-4h0m0 4h0m1-5h0m0 0h0m1 4h0m1 5h0m0 1h0m4-8h0m0 2h0m0 7h0m0-3h0m0-4h0m5 8h0m1-8h0m6 1h0m1 3h0m4-3h0m12 0h0m2 2h0m-197 6h0m12 5h0m19 1h0m15-6h0m3 0h0m1 1h0m1-1h0m2 3h0m0 2h0m0 3h0m1-4h0m0-3h0m1 1h0m0 7h0m0-8h0m1 4h0m0 6h0m0-8h0m1 1h0m0-3h0m1 0h0m1 4h0m0-3h0m0 3h0m0 3h0m1-3h0m0-2h0m0 0h0m0-2h0m0 1h0m0 3h0m1-5h0m1 11h0m1-9h0m1-3h0m1 1h0m0 6h0m0-3h0m1-2h0m0 1h0m1 6h0m0-4h0m1 1h0m0 5h0m0-10h0m0 0h0m0 4h0m0-1h0m1-3h0m0 5h0m1 4h0m0-9h0m0 7h0m2-4h0m0-1h0m1 0h0m0 9h0m1-1h0m0-1h0m0-1h0m1-2h0m0 3h0m1-3h0m0 5h0m0-9h0m0 6h0m0-8h0m1 8h0m0-3h0m0-4h0m1-2h0m0 1h0m1 7h0m1 3h0m0-2h0m0 0h0m1 0h0m0 2h0m1-1h0m1-1h0m0 2h0m1-7h0m0 3h0m1 4h0m1-6h0m0 5h0m0-1h0m1-9h0m0 6h0m1 4h0m0-2h0m0 4h0m0-12h0m1 3h0m0 1h0m0-4h0m1 4h0m0 0h0m1 0h0m0 0h0m1 8h0m0-5h0m0-1h0m1-1h0m0 6h0m0-10h0m1 1h0m0 5h0m0 0h0m2 3h0m0 0h0m1-9h0m1 2h0m0 4h0m1-5h0m0 5h0m2 0h0m0-3h0m0 2h0m1-3h0m16 1h0m0 5h0m1 2h0m0-5h0m1 1h0m1 4h0m0-5h0m0 4h0m0-5h0m2 6h0m0-4h0m0-4h0m0 7h0m0-2h0m1-3h0m1 2h0m0-3h0m1 0h0m0-2h0m0 8h0m0-5h0m1 3h0m0 1h0m1-5h0m0 5h0m0-1h0m0-4h0m1 4h0m0 1h0m1-2h0m0 1h0m0-5h0m1 3h0m1-1h0m1 2h0m0 2h0m1-5h0m1-1h0m0 8h0m0-6h0m0 3h0m1-1h0m1 3h0m1-1h0m0-1h0m0-3h0m0 3h0m1-5h0m0 0h0m0-3h0m2 3h0m0-1h0m0 6h0m0-5h0m0-1h0m2 8h0m0-9h0m1 6h0m0-6h0m0 9h0m1-9h0m0 4h0m0-5h0m1 10h0m0-4h0m1 3h0m0-7h0m0 1h0m0-1h0m0 2h0m1 1h0m0 0h0m0-3h0m0 9h0m0-3h0m1-4h0m1 4h0m1-8h0m1 9h0m0-1h0m1 0h0m0-1h0m1 3h0m1-2h0m0 2h0m0-1h0m2-9h0m0 4h0m0-2h0m0-2h0m0 12h0m2-6h0m0 2h0m0-4h0m0 0h0m1 2h0m0 5h0m1 0h0m1-11h0m1 1h0m0 0h0m3 4h0m0-3h0m0 8h0m3-2h0m1-8h0m1 11h0m1-10h0m0 2h0m1 9h0m0-4h0m0 3h0m1-9h0m0 1h0m1-2h0m2 5h0m1-2h0m1-2h0m0 6h0m0-1h0m2-2h0m3-4h0m19 7h0m1-4h0m8-4h0m-170 13h0m6 9h0m0 1h0m2-9h0m0 0h0m0 5h0m0 3h0m0 0h0m1-9h0m0 6h0m1-6h0m0 7h0m1-1h0m2 0h0m0-5h0m0 6h0m1-2h0m0 4h0m0-9h0m0-1h0m1 1h0m1 3h0m0 2h0m0-2h0m0 5h0m0 1h0m2-1h0m0-5h0m0 5h0m0-5h0m1 1h0m0-4h0m0 6h0m2 2h0m1 0h0m0-9h0m0 6h0m0-3h0m1 4h0m1 0h0m0 5h0m0-12h0m1 1h0m0 6h0m0 0h0m1-6h0m0 6h0m0 4h0m0-7h0m1 1h0m1 0h0m1 1h0m0-1h0m0 7h0m1-6h0m0 1h0m1 2h0m0-5h0m0-4h0m0 0h0m2 5h0m0-2h0m0 2h0m0 5h0m0-7h0m1 0h0m0 9h0m0-8h0m0 4h0m0 4h0m0-8h0m2 6h0m0 1h0m1-10h0m0 0h0m0 4h0m1 7h0m0-4h0m1-5h0m0-3h0m0 7h0m1 1h0m1-7h0m1 10h0m0-10h0m0 4h0m0-2h0m1 6h0m0 1h0m1-5h0m1 7h0m1-10h0m0 9h0m0-2h0m1 2h0m0-2h0m0-5h0m0 3h0m0-5h0m1-1h0m0 2h0m0-1h0m1 0h0m1 1h0m1 3h0m0-3h0m1 6h0m0-7h0m1 5h0m0 4h0m0-3h0m0 1h0m1 1h0m0-2h0m0-2h0m0 2h0m0 1h0m0-4h0m1 1h0m0 4h0m0-1h0m0-3h0m0-3h0m1-1h0m0 4h0m1-2h0m2 1h0m0 6h0m1 0h0m0-9h0m1 2h0m0 0h0m16 0h0m0 0h0m1-2h0m0 0h0m1 5h0m0 2h0m1 2h0m0-5h0m0 3h0m0 0h0m0 1h0m0-2h0m1 1h0m1 3h0m0-12h0m0 7h0m0-3h0m1 7h0m0 0h0m0-2h0m1-1h0m0-4h0m0 1h0m1-4h0m0 2h0m0 0h0m0-3h0m0 4h0m0 6h0m0-7h0m1 2h0m1 0h0m0-2h0m1 8h0m0-5h0m0 1h0m1 0h0m0 2h0m0 0h0m0-9h0m0 1h0m2 4h0m0-1h0m0-1h0m0 4h0m0 0h0m1-4h0m0 6h0m1-7h0m0 1h0m0 6h0m0-3h0m0-6h0m1 1h0m0 3h0m0-1h0m1 6h0m0-9h0m0 9h0m0-6h0m0 5h0m1 2h0m0-4h0m1 2h0m0-7h0m1 9h0m0-3h0m0-3h0m1 2h0m0 1h0m0 3h0m0-9h0m1 6h0m0 3h0m1-6h0m0 3h0m0-3h0m1 4h0m0 2h0m1-2h0m0-1h0m0-3h0m1 1h0m1 1h0m0 2h0m0 4h0m0-6h0m1 0h0m0-3h0m1 6h0m2-8h0m0 0h0m0 2h0m1 1h0m1-3h0m1 1h0m0 9h0m0-11h0m0 1h0m0 9h0m0-3h0m1 5h0m0-11h0m0 7h0m1 4h0m0-10h0m1 3h0m0-1h0m1 2h0m1-2h0m0 7h0m1-9h0m0 8h0m0-7h0m1 7h0m2-5h0m1 1h0m0 2h0m1 1h0m1-6h0m0 1h0m0-3h0m1 2h0m1 0h0m0 6h0m2 0h0m1-5h0m0 2h0m0 1h0m1 4h0m1-10h0m0 11h0m1-12h0m0 0h0m3 0h0m0 8h0m1 1h0m0-4h0m1-3h0m1 0h0m0 9h0m21-7h0m16 3h0m-204 10h0m30 6h0m6-9h0m0 7h0m0-6h0m1 2h0m0 5h0m1-8h0m0 1h0m1 0h0m1 8h0m1-1h0m1-6h0m0 3h0m0-7h0m0 5h0m1 5h0m1-8h0m0 7h0m0-9h0m0 8h0m0-6h0m0 0h0m1 8h0m0-5h0m0-2h0m0 9h0m1-7h0m0 4h0m0-6h0m1-2h0m0 6h0m0-5h0m0 2h0m1 1h0m0 3h0m0 3h0m1-4h0m0-5h0m1 3h0m0 6h0m1-3h0m0-3h0m0 3h0m0-8h0m1 10h0m0-1h0m1-1h0m0 2h0m0-6h0m1 3h0m0-1h0m1 2h0m0-4h0m0-3h0m0 8h0m1-5h0m0 1h0m1 5h0m1-5h0m0 3h0m0-7h0m0 6h0m1-2h0m0-1h0m0-1h0m0 7h0m1-10h0m0 3h0m1 7h0m0-4h0m1-2h0m0 7h0m1 0h0m0-10h0m1 6h0m0-1h0m1 1h0m0 2h0m0-6h0m0-3h0m1 6h0m1 6h0m0-5h0m1 0h0m0 2h0m0-5h0m1-3h0m0 6h0m1-3h0m0 5h0m0-5h0m1-3h0m2 8h0m1-7h0m0 7h0m0-7h0m1-2h0m0 1h0m0 4h0m1 4h0m1-7h0m0-2h0m1 9h0m0 2h0m0-6h0m1 6h0m0-1h0m1-10h0m1 8h0m0 3h0m1-6h0m1-3h0m1 3h0m0 5h0m0-4h0m1-3h0m0-2h0m2 10h0m0-3h0m0-6h0m0 9h0m0-9h0m0 0h0m0-1h0m1 5h0m1-3h0m16-1h0m1 4h0m0-4h0m2 3h0m2 6h0m0-1h0m0 2h0m1-1h0m0-7h0m1 5h0m0 0h0m0-2h0m1-6h0m0 3h0m1 5h0m0 3h0m1-10h0m0 2h0m0 2h0m0 5h0m1-1h0m0 0h0m0-3h0m0-1h0m0-2h0m1 1h0m1 0h0m0 0h0m2 4h0m1-3h0m0 4h0m0-9h0m0 3h0m1 7h0m1-7h0m0-1h0m0 8h0m0-9h0m1 2h0m0-4h0m0 3h0m0 7h0m0-9h0m0 4h0m0 5h0m1 1h0m1-6h0m0-4h0m2 10h0m1-5h0m0-3h0m1 8h0m0-5h0m0-5h0m0 10h0m1-3h0m0-2h0m0-4h0m1 2h0m1 0h0m0 0h0m1 1h0m0 7h0m0-1h0m0-5h0m1-5h0m0 1h0m0 9h0m0-1h0m0-6h0m1-3h0m0 0h0m1 6h0m1-4h0m0-2h0m0 0h0m1 8h0m0-7h0m0 5h0m0 3h0m0-6h0m0-1h0m2 0h0m0 1h0m0 4h0m1-5h0m0 4h0m0 0h0m1 3h0m0-5h0m0-5h0m1 4h0m0 7h0m1 0h0m0-6h0m1-3h0m0 7h0m0-1h0m1 1h0m0-3h0m0-3h0m0-2h0m0 7h0m1 3h0m0-11h0m0 9h0m1 0h0m0-2h0m1 2h0m0 0h0m1-6h0m1 8h0m1-5h0m1 1h0m0 0h0m0-5h0m0 4h0m1 1h0m0-2h0m0 2h0m0 0h0m2-6h0m0 3h0m1 3h0m1 3h0m2-2h0m1-2h0m1 0h0m2 5h0m3-5h0m2-4h0m8-2h0m1 9h0m4 1h0m1-8h0m10-2h0m5 6h0m-210 8h0m4 0h0m1 4h0m13-3h0m3 1h0m5 7h0m7-11h0m1 1h0m11 6h0m1 1h0m1-7h0m1 1h0m0 8h0m1 1h0m0-11h0m0 5h0m0 1h0m2-5h0m0 6h0m0 1h0m1-2h0m0-3h0m1 9h0m0 0h0m0-9h0m1 7h0m0 0h0m0 0h0m0-3h0m2-6h0m0 0h0m1 8h0m0-4h0m0 0h0m1 1h0m0 1h0m0-2h0m1 6h0m0-4h0m0 4h0m1 1h0m1-6h0m0-5h0m0 10h0m0-3h0m2-5h0m0-3h0m0 9h0m3-1h0m1-8h0m0 0h0m0 0h0m1 1h0m1 8h0m0 1h0m0 0h0m1-4h0m0-1h0m0 2h0m1 3h0m1-2h0m0-1h0m0 2h0m1 1h0m1-3h0m0-3h0m1-1h0m0 3h0m0-3h0m0 1h0m1 4h0m0-5h0m0 6h0m1-5h0m0 0h0m0 4h0m1-4h0m1 5h0m0 1h0m0-6h0m0 2h0m1 4h0m0-1h0m0-7h0m0 7h0m1-6h0m1 4h0m0-1h0m1-3h0m1 8h0m0-8h0m1-1h0m0 7h0m0-7h0m1 10h0m1 0h0m0-6h0m0-5h0m1 10h0m0-4h0m2-1h0m1 1h0m0-3h0m0 5h0m0 3h0m1-3h0m0-1h0m1-3h0m0 5h0m1-3h0m0-1h0m0-4h0m0 9h0m0-8h0m1 2h0m0-3h0m1 3h0m0 5h0m0 0h0m0-6h0m0-4h0m1 9h0m1-6h0m0 6h0m0-4h0m2-3h0m1 3h0m0-3h0m13-1h0m1 1h0m1 0h0m1 6h0m0-2h0m0-6h0m1 7h0m1 0h0m1-2h0m0 7h0m0-1h0m1-5h0m0 2h0m0-3h0m1 1h0m0 1h0m1-5h0m0-1h0m1 2h0m0 1h0m1-1h0m0 2h0m1 2h0m0-4h0m2 4h0m0-4h0m0 2h0m1-3h0m0 4h0m1 4h0m0-6h0m0 3h0m1-3h0m0 2h0m0-1h0m0 1h0m0-4h0m0 0h0m0 9h0m1-3h0m2-5h0m0-2h0m1 7h0m0-4h0m0 5h0m0 2h0m1 0h0m1-1h0m1-5h0m0 7h0m0-10h0m0 4h0m0 5h0m0-10h0m0-1h0m1 8h0m0-7h0m1 11h0m0-8h0m0 4h0m1-5h0m0-2h0m0 2h0m0 8h0m1-5h0m0-2h0m1 6h0m0 0h0m0-6h0m0 5h0m0-4h0m1-3h0m0-2h0m0 3h0m0-1h0m1 4h0m0 5h0m1 1h0m0-5h0m1 0h0m0-1h0m0 1h0m1 4h0m0-3h0m1 1h0m0-9h0m0 3h0m1 6h0m1 2h0m0-9h0m0 2h0m0 5h0m0 2h0m1-4h0m0 1h0m0 3h0m1-1h0m0-5h0m2 7h0m1-11h0m0 9h0m1-5h0m0-2h0m0 6h0m1-1h0m0-7h0m0 10h0m0-1h0m0-7h0m0 9h0m1-2h0m0-5h0m1 1h0m1-5h0m1 4h0m0 2h0m1-1h0m1-3h0m1 2h0m0 7h0m1-3h0m1 1h0m0-2h0m0-5h0m0 7h0m1 2h0m1-3h0m2-4h0m0 2h0m1-2h0m1-2h0m1 2h0m1-5h0m0 1h0m2-1h0m1 5h0m1-3h0m9-2h0m3 6h0m1 1h0m2-7h0m7 0h0m18 8h0m1 1h0m-248 8h0m16 4h0m34-1h0m8-1h0m8 1h0m8-8h0m1 3h0m1 1h0m1 0h0m0-1h0m0 9h0m1-12h0m0 9h0m0 2h0m2-1h0m1-4h0m1 2h0m0 0h0m2-1h0m0 2h0m0-7h0m0 6h0m0-2h0m1-2h0m0 7h0m0 1h0m1-10h0m0 1h0m0 8h0m1-5h0m0 4h0m1-2h0m0-2h0m0-4h0m0 9h0m2-6h0m0-3h0m0 3h0m0 7h0m1-9h0m2 8h0m0 0h0m0-7h0m1 2h0m0 1h0m1-1h0m0-2h0m0 5h0m1 0h0m0-3h0m0-4h0m0 6h0m0 0h0m0-7h0m1 9h0m0-1h0m0 0h0m1-1h0m1 3h0m1-6h0m0 1h0m0-1h0m2-1h0m0 6h0m0-9h0m1 0h0m0 0h0m0 5h0m1 4h0m0-4h0m0-3h0m0 5h0m1-2h0m1 5h0m0-9h0m0 9h0m0-11h0m0 12h0m0-7h0m1 5h0m0-8h0m0 5h0m1 3h0m0-5h0m0-1h0m1-1h0m0 6h0m1-5h0m0 1h0m0 2h0m1-2h0m1-2h0m0 6h0m0 2h0m0-2h0m0-7h0m0 7h0m0-7h0m0 9h0m2-6h0m0-3h0m0 5h0m1 4h0m0-8h0m1 8h0m0-10h0m0-1h0m1 5h0m1 4h0m0-5h0m0-4h0m1 11h0m0-1h0m1-9h0m1 6h0m0-5h0m0 4h0m0-5h0m1 0h0m1 9h0m0-6h0m0-1h0m0 9h0m1-6h0m1 2h0m0-1h0m1 4h0m0-3h0m1 1h0m1-2h0m0 4h0m0-5h0m1-5h0m14 5h0m0-5h0m1 1h0m1 2h0m1 7h0m1-2h0m0-1h0m0 3h0m1-5h0m1 3h0m0-3h0m0-5h0m1 7h0m0-6h0m0 8h0m0-1h0m0-3h0m1 6h0m1-9h0m0 6h0m1-4h0m1 6h0m0-6h0m1 2h0m0 5h0m1-2h0m1-5h0m0-3h0m0 0h0m2 6h0m1-3h0m1-3h0m0 10h0m0-7h0m1 7h0m0-1h0m0 0h0m1-10h0m0 8h0m0-8h0m1-1h0m0 5h0m0-2h0m1-1h0m0 7h0m0 0h0m1-4h0m0 5h0m1-8h0m0-1h0m1 8h0m0-9h0m0 9h0m0-7h0m0 7h0m0-6h0m0 4h0m1-6h0m0 2h0m1 5h0m1 1h0m0 2h0m1-6h0m0-4h0m1 2h0m0 3h0m1 4h0m0-8h0m1 7h0m0-1h0m2-1h0m0-4h0m0 2h0m0 1h0m0 1h0m0 0h0m1-4h0m0 9h0m0-10h0m1 8h0m1 0h0m0-2h0m1-7h0m0 1h0m0 4h0m1 2h0m0-2h0m1 1h0m0-5h0m1 0h0m0 6h0m0 1h0m1-4h0m0-3h0m0 6h0m0-2h0m0 0h0m1-3h0m0 7h0m0-1h0m0-1h0m0 0h0m0-5h0m1 5h0m0-1h0m0 5h0m1-4h0m0 3h0m1-4h0m1 2h0m1-5h0m0 2h0m1 6h0m0-2h0m0 1h0m1-4h0m1-1h0m1-5h0m0 8h0m0-6h0m1-1h0m0 8h0m0-3h0m1 3h0m0-10h0m1 3h0m0 0h0m0 7h0m1-8h0m1 8h0m1-4h0m0 3h0m3 2h0m1-11h0m0 10h0m3-5h0m0 2h0m0-2h0m1-1h0m2 4h0m5-1h0m6 3h0m2-4h0m4 2h0m8 0h0m-215 8h0m25-3h0m20 11h0m8-7h0m0 4h0m1-6h0m0 2h0m2-2h0m0-1h0m0-1h0m1-1h0m0 9h0m0 0h0m1-8h0m2-1h0m0 5h0m0 0h0m0 2h0m0 0h0m1 3h0m1-5h0m0 6h0m1-7h0m0 5h0m1-6h0m1 7h0m0-7h0m0 2h0m0 1h0m1 5h0m2-11h0m0 9h0m0-6h0m1-1h0m0 1h0m1 9h0m0-10h0m0 8h0m1-5h0m0-1h0m1-4h0m0 1h0m0-1h0m0 4h0m1 6h0m0-6h0m0 4h0m1 3h0m0-8h0m0 8h0m0 1h0m1-1h0m0-1h0m0-1h0m1-9h0m1 11h0m0-6h0m0 6h0m0-11h0m1 8h0m1 0h0m0 3h0m0-8h0m1 7h0m1-2h0m0 3h0m0-7h0m0 3h0m1-2h0m0-2h0m1 1h0m0 8h0m1-11h0m0 4h0m1 6h0m0-3h0m0 2h0m1-2h0m1-6h0m1 8h0m0-4h0m1 1h0m1-3h0m1 3h0m1-5h0m1 4h0m0 5h0m0-3h0m0 3h0m0 0h0m1-1h0m0-1h0m0-2h0m1 0h0m1 4h0m0-4h0m1 4h0m0-8h0m1 7h0m0-9h0m1 7h0m0-7h0m0 6h0m0 4h0m1 0h0m0-8h0m0 4h0m1-6h0m0 11h0m0-8h0m1 2h0m0 4h0m0-5h0m1-1h0m0-2h0m2 10h0m1-6h0m0 3h0m0-8h0m1 1h0m0 8h0m0-7h0m1 6h0m1-1h0m13-1h0m1-4h0m0 7h0m0-4h0m1-1h0m0-3h0m2 0h0m0 2h0m0 5h0m1-8h0m0 6h0m0 5h0m1-2h0m1-10h0m0 3h0m0 4h0m1 2h0m0-5h0m0 2h0m1 5h0m0-9h0m0 7h0m0-8h0m1 6h0m0-4h0m0-1h0m0 6h0m1 1h0m0 1h0m0 2h0m0-7h0m1-4h0m1 7h0m0 2h0m0 1h0m0-11h0m0 4h0m1 2h0m0 4h0m0 0h0m1-9h0m1 1h0m0 7h0m0-8h0m0 5h0m1-5h0m0 5h0m1 0h0m0 0h0m0 4h0m1-5h0m0 2h0m0 4h0m0-11h0m0 2h0m1 2h0m1-3h0m1 11h0m0-3h0m0 1h0m0 1h0m0-2h0m0-5h0m0 7h0m0-10h0m0 5h0m3 3h0m0 3h0m0-9h0m0 4h0m2 0h0m3 1h0m0-7h0m1 0h0m0 9h0m0-3h0m1-5h0m0 8h0m0-9h0m0 6h0m2 0h0m0 1h0m1-4h0m1-4h0m0 8h0m1 2h0m0-6h0m1 8h0m0-2h0m1 2h0m0 0h0m1-8h0m0 8h0m1-9h0m0 2h0m1 0h0m0 5h0m0 2h0m1-4h0m1-6h0m1 2h0m0 7h0m0-4h0m2-2h0m1-2h0m1-2h0m1 4h0m0 4h0m1-5h0m1-3h0m0 11h0m1-4h0m0-5h0m0 3h0m3 6h0m0-4h0m0-1h0m0-5h0m0 6h0m1 1h0m0-6h0m0 8h0m1-7h0m0 3h0m0 1h0m0-4h0m1 1h0m0 7h0m1-11h0m3 11h0m0-6h0m1 6h0m2-9h0m0 5h0m3 1h0m4 0h0m14 1h0m-233 3h0m34 2h0m8 9h0m0-10h0m31 1h0m8 5h0m0-3h0m1 3h0m0 1h0m0-1h0m0-1h0m1 3h0m1 2h0m0-7h0m0-5h0m1 10h0m0-2h0m1-6h0m1 4h0m0 3h0m0-7h0m1 6h0m0 0h0m1-5h0m0 8h0m1-7h0m0 0h0m1 1h0m0 5h0m0 0h0m0-3h0m1-6h0m0 11h0m0-6h0m0 5h0m0-4h0m0 3h0m1-2h0m0-3h0m0 5h0m0 2h0m0-3h0m1-1h0m0-4h0m1 1h0m0 2h0m0-2h0m1-3h0m0 3h0m0 0h0m1-3h0m0-1h0m1 1h0m1-2h0m0 2h0m0 7h0m1-3h0m0 1h0m1 2h0m0 1h0m0-1h0m0-8h0m1 5h0m0 2h0m1-7h0m0 8h0m1-5h0m0 4h0m1-5h0m0 8h0m0-2h0m0-7h0m0 0h0m0 9h0m1-6h0m0-1h0m0 5h0m0-3h0m1 4h0m1-4h0m1-1h0m0 2h0m0-3h0m0-2h0m1 1h0m0 7h0m0 2h0m1-9h0m0 5h0m1-3h0m0 0h0m0 3h0m0 2h0m1-2h0m0 3h0m1-6h0m0 5h0m0-6h0m0 3h0m1-1h0m0 2h0m0 2h0m0-5h0m0-1h0m1 6h0m0-6h0m0 2h0m1 3h0m0 2h0m1-8h0m0 6h0m1-9h0m0 3h0m1 0h0m0 3h0m0-6h0m1 1h0m1 6h0m0-4h0m0 3h0m0-6h0m0 3h0m0 3h0m1 6h0m0-3h0m0 3h0m1-4h0m0-4h0m0 6h0m0-5h0m1 6h0m0 1h0m0-4h0m1-2h0m0 1h0m0-1h0m2-4h0m0 8h0m0-10h0m0 6h0m1-2h0m0 0h0m0 6h0m1-6h0m1-2h0m1-1h0m1 11h0m14-11h0m1 2h0m0 9h0m1-10h0m0 4h0m0 0h0m1 1h0m0-4h0m0 0h0m1 4h0m1-2h0m1 0h0m0 2h0m1 1h0m0 0h0m0-1h0m1-4h0m0 4h0m0 0h0m1-2h0m1-4h0m2 0h0m0 1h0m0 8h0m0 0h0m1 2h0m0-8h0m0-1h0m1 8h0m0 1h0m0-11h0m0 8h0m1 0h0m0-6h0m1 1h0m0-2h0m1 6h0m1-5h0m0 4h0m1 5h0m0-6h0m1 4h0m2-9h0m0 10h0m0-7h0m0 6h0m1 1h0m0-5h0m0 1h0m1-2h0m0 1h0m0 5h0m1-5h0m0 1h0m1-3h0m0 6h0m1-1h0m0-3h0m0-2h0m0-4h0m1 12h0m0-5h0m0 0h0m0-1h0m1-1h0m1 0h0m0-4h0m1 5h0m0 5h0m1-5h0m0 4h0m0-10h0m0 2h0m1 0h0m0-2h0m0 5h0m1 5h0m0-1h0m1-1h0m0-3h0m0 4h0m1-7h0m1-1h0m1 6h0m0-1h0m0 1h0m1-4h0m0 0h0m0 8h0m2-6h0m0 1h0m3 1h0m1 0h0m0 1h0m0-5h0m0 0h0m0 6h0m1-7h0m1 0h0m2 1h0m0 7h0m0-9h0m0 1h0m2 6h0m1 3h0m0-8h0m1-3h0m1 6h0m0 1h0m1-2h0m0 5h0m0-2h0m3-1h0m1-3h0m1 3h0m1 0h0m1 5h0m0-6h0m0-3h0m1-3h0m0 8h0m0-8h0m0 6h0m1 0h0m0 3h0m0-1h0m1 2h0m0 1h0m0-7h0m0 3h0m1-2h0m1-4h0m1 1h0m3 10h0m2-10h0m5 7h0m2-4h0m9 1h0m2 3h0m1-4h0m2 4h0m9 1h0m-240 12h0m46 0h0m24-5h0m2-4h0m1 2h0m1 2h0m0 5h0m1-2h0m0-6h0m0 8h0m1-3h0m0-3h0m0 5h0m0-4h0m1-5h0m0 7h0m0 1h0m0-3h0m1 0h0m0 3h0m2-7h0m0 1h0m0 3h0m0 7h0m1-8h0m0-1h0m1-2h0m0 9h0m0-1h0m2-5h0m1-4h0m1 5h0m0 2h0m0 0h0m1-3h0m0 8h0m0-9h0m1 5h0m0-3h0m1 0h0m0 2h0m0 2h0m1-7h0m0 3h0m1 3h0m0 2h0m0-7h0m1 2h0m0 6h0m0-1h0m1 1h0m0-2h0m0-7h0m0 0h0m1 0h0m0 9h0m0-9h0m1 6h0m0-3h0m0 7h0m2-6h0m0 6h0m2 0h0m0-1h0m0-1h0m1-9h0m1 2h0m1 6h0m1-5h0m0 0h0m0-1h0m0-1h0m0 0h0m1-1h0m0 4h0m0-3h0m1 3h0m0-5h0m0 10h0m1-6h0m0 4h0m1 0h0m1-4h0m1 3h0m0 0h0m2-4h0m2-2h0m1 7h0m0-6h0m1 9h0m0-5h0m1 1h0m0 4h0m2-10h0m0 4h0m0 1h0m0-1h0m0 4h0m0-6h0m1 6h0m0-6h0m0 4h0m1-2h0m0 3h0m1-4h0m0 3h0m0-1h0m1-4h0m0 0h0m0-1h0m0 6h0m1 4h0m0 0h0m0-1h0m1-7h0m10 3h0m1 6h0m1-5h0m1-2h0m0 4h0m0 0h0m1-7h0m1 6h0m0-2h0m1 5h0m0 1h0m1-9h0m0 8h0m0-9h0m0 0h0m1 5h0m0-3h0m0-2h0m1 5h0m0-3h0m0 1h0m2 6h0m0-2h0m0-8h0m1 9h0m1-4h0m0 3h0m0-5h0m1 3h0m1-5h0m0-2h0m1 4h0m0 0h0m0-1h0m0-3h0m0 12h0m1-7h0m0 1h0m0 2h0m0 2h0m2-9h0m0 10h0m0 0h0m0-3h0m1 1h0m0-2h0m0 0h0m0-4h0m0 5h0m1-8h0m1 3h0m1-1h0m0 9h0m1-1h0m1-10h0m1 10h0m0 1h0m0-7h0m1 3h0m0-5h0m1 0h0m0 5h0m0-4h0m1-3h0m0 12h0m2-2h0m0-7h0m0 5h0m0-3h0m0 0h0m1 5h0m0 1h0m1-8h0m1 3h0m0 3h0m1 1h0m0-5h0m0 3h0m0-7h0m0 7h0m1 1h0m0-3h0m1 2h0m1-8h0m0 6h0m0-2h0m1 3h0m0 1h0m0 1h0m1 1h0m0-5h0m2-1h0m0 1h0m0-3h0m0-2h0m0 2h0m1 7h0m1-2h0m0 2h0m0-2h0m1-2h0m0 3h0m0-5h0m1-1h0m0-1h0m0 2h0m0 2h0m1 0h0m0 4h0m0 0h0m1 1h0m0-10h0m1 4h0m0 7h0m0-2h0m0-6h0m0 7h0m0 1h0m1-3h0m0-6h0m0 7h0m2-1h0m0-6h0m0 1h0m1 2h0m0 3h0m1-7h0m0 10h0m0-4h0m1 5h0m1-8h0m2 0h0m0 2h0m3 5h0m0-6h0m0 0h0m1 4h0m0 0h0m1-5h0m8-2h0m1 5h0m1 4h0m1-11h0m8 9h0m2 3h0m2-9h0m2 2h0m-233 11h0m21-2h0m52 3h0m7 4h0m1-6h0m0 2h0m1 5h0m1-1h0m1-8h0m1 10h0m0-10h0m0 6h0m0 0h0m1-2h0m0-2h0m0 5h0m1 1h0m0-1h0m1 0h0m1-3h0m0-5h0m1 2h0m0 3h0m1-3h0m0 0h0m1 2h0m0 4h0m0-7h0m0 2h0m0 2h0m0 2h0m1-2h0m1-4h0m0 5h0m1-3h0m0 4h0m0-4h0m1 8h0m0-4h0m0-4h0m2 2h0m0 5h0m0 0h0m0 2h0m1-5h0m0-3h0m0 1h0m0 6h0m1-9h0m1 7h0m1-7h0m0 8h0m0-5h0m0 2h0m1-7h0m0 11h0m1-2h0m0 3h0m0-2h0m0-8h0m1 6h0m0 1h0m2-3h0m1 2h0m1 1h0m0-6h0m1 1h0m0 1h0m1 0h0m1 6h0m1 0h0m0-9h0m0 6h0m0-2h0m1 6h0m0-3h0m0 0h0m0-1h0m0-7h0m1 11h0m1-7h0m0 6h0m1-7h0m1 0h0m0 7h0m0-8h0m0 9h0m1-11h0m0 6h0m0-3h0m1-1h0m0 7h0m1-7h0m0 4h0m0 2h0m1-5h0m1-4h0m1 3h0m0 7h0m0 0h0m1-1h0m1-5h0m0-2h0m1-1h0m0 4h0m1 4h0m0-7h0m0 9h0m1-4h0m0-1h0m1-1h0m0 5h0m0-4h0m0 3h0m0-8h0m1 4h0m0 0h0m0 1h0m1 0h0m0 6h0m2-3h0m0-2h0m0-6h0m1 3h0m0 7h0m11-2h0m1-6h0m0 1h0m1 0h0m0 8h0m0 0h0m1-3h0m0-7h0m1 1h0m0 4h0m0 1h0m1 3h0m0-8h0m0 2h0m0 5h0m1-6h0m0 2h0m1 3h0m1 2h0m1-8h0m0-2h0m0 9h0m0-9h0m0-1h0m1 8h0m0 1h0m0-5h0m1-4h0m2 7h0m1 2h0m0-5h0m0-4h0m0 1h0m0 0h0m1 4h0m0 1h0m0-5h0m0 5h0m1 3h0m0-9h0m0 8h0m1-2h0m0 0h0m1 6h0m1-5h0m1-3h0m0 7h0m0-1h0m0-8h0m1 7h0m1-5h0m0 1h0m0 0h0m0 7h0m0-12h0m1 11h0m0-8h0m0-1h0m1-1h0m0 6h0m1-2h0m0 0h0m0 4h0m1-6h0m0-1h0m0 8h0m0-5h0m1 5h0m0-4h0m0 2h0m0-1h0m1-6h0m0 7h0m0-6h0m0 4h0m0 5h0m1-2h0m0-3h0m1 4h0m0-4h0m0-4h0m1 9h0m0-3h0m1 1h0m1-1h0m0-2h0m1 0h0m0 5h0m1-3h0m0-3h0m0 5h0m2-8h0m1 6h0m0-5h0m0 5h0m0 1h0m0-4h0m1 4h0m0-2h0m0-4h0m1 0h0m0 8h0m0 1h0m0-3h0m1 1h0m0-3h0m1-5h0m0 7h0m0-1h0m0-5h0m2 2h0m0 3h0m0 3h0m2-7h0m0 7h0m1-6h0m0 6h0m0 1h0m0-9h0m1 4h0m0 3h0m1-6h0m1 6h0m0-7h0m0 4h0m2-6h0m0 6h0m0-6h0m1 10h0m1-2h0m0-8h0m0-1h0m1 11h0m1-8h0m0 1h0m0 7h0m2-10h0m1 4h0m1 5h0m0-7h0m2-1h0m1-1h0m0 2h0m0-2h0m0 7h0m2 3h0m0-1h0m1 1h0m0-11h0m3 10h0m0 1h0m0-7h0m1-1h0m1 3h0m1-3h0m1 4h0m0 1h0m1 0h0m0-1h0m5-4h0m9 7h0m12-3h0m1 3h0m0-5h0m-229 12h0m30-1h0m1 6h0m5-3h0m6-1h0m9-4h0m2-2h0m11 12h0m1-5h0m0-6h0m1 8h0m0-7h0m1 6h0m0 3h0m1-1h0m1-4h0m0-1h0m0-2h0m1-3h0m1 3h0m0-1h0m0 1h0m0 4h0m0-6h0m1 6h0m0 3h0m0-1h0m1-6h0m0 1h0m0 4h0m1-4h0m0-2h0m0 9h0m0-4h0m1 0h0m0 4h0m0-11h0m0 9h0m0-5h0m1 0h0m0-4h0m0 10h0m1 2h0m0-8h0m2-3h0m0 1h0m1 2h0m1 7h0m0-9h0m1 9h0m0-1h0m0-9h0m0 10h0m2-6h0m0 3h0m0 4h0m1-3h0m0-6h0m1 0h0m0-2h0m0 2h0m1 8h0m0-7h0m1 7h0m1-5h0m0-5h0m1 5h0m1-1h0m1-1h0m0 3h0m0-6h0m0 10h0m1-5h0m0 1h0m0 1h0m1-5h0m1-1h0m0 0h0m0 7h0m0-9h0m2 6h0m0-2h0m0 2h0m0-1h0m2-2h0m0 7h0m1-10h0m1 3h0m1 2h0m0-3h0m0 9h0m1-4h0m0-3h0m0 2h0m0-2h0m1 7h0m1-9h0m1 4h0m0-2h0m2-2h0m0 3h0m0 2h0m1 5h0m0-7h0m2 6h0m0-5h0m0-4h0m1 8h0m0-7h0m0 5h0m0-7h0m1 11h0m0 0h0m1 0h0m0-4h0m1 3h0m0-10h0m1 6h0m0-4h0m0-2h0m13 8h0m0-8h0m1 4h0m0 5h0m3-6h0m0-2h0m1 3h0m1 4h0m0-3h0m1-3h0m0 1h0m0 5h0m1 1h0m0-4h0m0-2h0m1 2h0m1 3h0m0 1h0m1 1h0m0-5h0m0 1h0m2-4h0m0 8h0m2 0h0m1 0h0m1-4h0m1-6h0m0 1h0m0 10h0m0-4h0m1-6h0m0 7h0m1 2h0m0-2h0m1-5h0m0-3h0m1 6h0m0-6h0m0 0h0m1 10h0m1-9h0m0 6h0m2-6h0m0 7h0m0-8h0m0 4h0m1 2h0m0-2h0m1-3h0m0 9h0m0-8h0m0 5h0m1-5h0m0 3h0m0-3h0m0 5h0m1-6h0m0 9h0m0-4h0m1-6h0m0 4h0m0-2h0m0 4h0m0 3h0m1-8h0m1 0h0m0 4h0m0 2h0m0-7h0m0 4h0m0-2h0m0-1h0m0 10h0m1-4h0m0 3h0m0 1h0m0-7h0m0 5h0m1 0h0m0-3h0m3-1h0m0-3h0m0-2h0m1 8h0m0 0h0m0-5h0m1 4h0m0-6h0m0 0h0m0 0h0m0 2h0m0 1h0m0 5h0m1-10h0m0 1h0m0 10h0m0-5h0m0 6h0m0-12h0m0 2h0m0 0h0m1 1h0m0 1h0m0-3h0m0 10h0m1-9h0m1 1h0m0 6h0m0 1h0m1-1h0m0 0h0m1-7h0m0 9h0m1-2h0m0-2h0m0-1h0m0-5h0m1-1h0m0 8h0m0-3h0m1 0h0m0 6h0m1-10h0m2 7h0m0-4h0m1 7h0m1 1h0m0-4h0m2-6h0m0 1h0m1 4h0m0 2h0m0 2h0m0 0h0m1-10h0m0 3h0m0 6h0m1-7h0m1 6h0m1-4h0m1-3h0m1 6h0m1-7h0m1 2h0m0 9h0m1-4h0m0 3h0m7-4h0m2-4h0m11 5h0m5 1h0m5-4h0m5 4h0m-236 7h0m10 1h0m27 3h0m15-7h0m5 2h0m11 5h0m1 4h0m1-1h0m1-8h0m0 7h0m1-8h0m0 9h0m0-5h0m0 5h0m1-4h0m0-5h0m1 2h0m0 5h0m0-7h0m1 1h0m1 0h0m0 9h0m0-11h0m0 2h0m1-1h0m0 0h0m0 0h0m1 1h0m0-1h0m1 4h0m0 4h0m1 1h0m0-3h0m0 3h0m1-5h0m0-5h0m1 10h0m0 1h0m1-7h0m0 4h0m0-5h0m0 1h0m1-3h0m0 1h0m0 3h0m1-5h0m1 6h0m0-5h0m1 9h0m0-4h0m0 0h0m2-6h0m0 7h0m0-6h0m0 10h0m0-7h0m0 3h0m0 2h0m0 0h0m1-9h0m0 8h0m0 2h0m1-4h0m0-6h0m0 3h0m0 4h0m1 1h0m0-1h0m0 3h0m1-4h0m0-2h0m1 4h0m0-3h0m1-5h0m1 2h0m0 7h0m1-6h0m0-1h0m0 2h0m1 3h0m1 4h0m1-4h0m0-7h0m1 5h0m0 0h0m0 5h0m2-6h0m1 3h0m1-4h0m0-1h0m0 6h0m0-1h0m1-2h0m1-3h0m0 0h0m0 8h0m1-5h0m1-1h0m1-1h0m0 5h0m1-6h0m0-2h0m0 8h0m0-7h0m1 5h0m1 0h0m0-3h0m0-2h0m0 6h0m1-4h0m1-1h0m0 3h0m2 2h0m0 2h0m1-1h0m0-8h0m0 4h0m1 6h0m0 0h0m0-3h0m0 0h0m1-8h0m0 10h0m1-8h0m0-1h0m0 3h0m1 0h0m0 1h0m0 2h0m0-3h0m1 6h0m11-9h0m0 3h0m0 6h0m2 0h0m0-3h0m0-2h0m0 4h0m1-1h0m0 2h0m1 0h0m1-5h0m1 2h0m0-6h0m2 1h0m1 0h0m1 3h0m0 2h0m0 1h0m1-6h0m1 10h0m0-2h0m1-9h0m1-1h0m0 6h0m1 0h0m0-4h0m0 7h0m0 0h0m0-5h0m0 2h0m1-3h0m0 6h0m0 2h0m0-1h0m1-3h0m0-4h0m0 6h0m0-3h0m0 2h0m1-2h0m1-3h0m0 1h0m1 4h0m0-1h0m1-7h0m1 9h0m1-8h0m0 8h0m0-3h0m0 1h0m0-6h0m0 10h0m1 0h0m1-2h0m0-9h0m0 6h0m0 2h0m1-1h0m0-6h0m0 3h0m1-1h0m0-2h0m0 5h0m0-4h0m1 7h0m0-1h0m0-1h0m0 4h0m0-10h0m2 5h0m1-4h0m0 2h0m0 6h0m0-5h0m0 2h0m0-4h0m1 5h0m0-2h0m0 0h0m0 5h0m2-9h0m0 2h0m0 5h0m0-5h0m0-3h0m1 2h0m0 3h0m0 4h0m1 0h0m0-6h0m0-2h0m1 5h0m1-4h0m0 8h0m2 0h0m0-2h0m0-7h0m1 8h0m1 0h0m0-6h0m0 0h0m0-4h0m0 6h0m0 4h0m1 1h0m0-11h0m0 3h0m0 8h0m0-3h0m1-3h0m0 6h0m1-9h0m0 2h0m0 8h0m0-4h0m1-7h0m1 2h0m0-2h0m1 5h0m0-1h0m1 4h0m0-5h0m0-4h0m1 6h0m1 6h0m0-9h0m0 3h0m1 1h0m0-1h0m1 0h0m0 1h0m1-7h0m0 6h0m2 2h0m0-8h0m3 2h0m1 2h0m0 3h0m0-2h0m1 1h0m0 5h0m0-6h0m1 1h0m0 5h0m1-2h0m0 1h0m2-1h0m0-2h0m0 1h0m1-5h0m0 8h0m0-9h0m1 0h0m0 3h0m0-2h0m1 9h0m0-7h0m1 3h0m1 2h0m0-7h0m1 5h0m1 1h0m2 1h0m2-2h0m0 0h0m9-1h0m5-3h0m1-4h0m-196 22h0m10-7h0m30 3h0m1-4h0m0 9h0m0-7h0m1-1h0m0 0h0m0 8h0m1-3h0m1-2h0m1-4h0m0 8h0m0 1h0m0-2h0m0-6h0m0 2h0m2 6h0m0-7h0m0 3h0m0-5h0m0 4h0m1-6h0m1 11h0m0-10h0m1 9h0m1-9h0m0 2h0m0 0h0m1-2h0m0 5h0m1-1h0m0 2h0m1-2h0m0 1h0m1-4h0m0-1h0m0 6h0m1-2h0m0 1h0m0-1h0m1 3h0m0-6h0m0 3h0m1 2h0m0 4h0m0-10h0m0 4h0m0 7h0m0-6h0m1 3h0m0 3h0m0-4h0m1 3h0m0-6h0m0 2h0m1-3h0m0-1h0m1 2h0m0 3h0m0-2h0m0 0h0m0-4h0m0 7h0m1 3h0m0-9h0m0-3h0m0 2h0m0 0h0m1 2h0m0 4h0m0-5h0m0 4h0m0 1h0m1-1h0m0 4h0m0-4h0m0-3h0m0 4h0m0-7h0m0 6h0m2 2h0m2-8h0m0 3h0m1 0h0m0-4h0m0 10h0m1-10h0m1 11h0m0-1h0m0 1h0m0 0h0m0-6h0m1-1h0m1 7h0m0-4h0m0 2h0m1-4h0m0 6h0m0-9h0m1 0h0m0-1h0m0 3h0m0 8h0m0-9h0m1 2h0m0-5h0m0 10h0m0-2h0m0 2h0m0-4h0m1 2h0m1-3h0m0 5h0m0-2h0m0 0h0m1-6h0m0 4h0m1 6h0m0-2h0m0-7h0m1 6h0m0-3h0m0-1h0m0 6h0m2-10h0m0 0h0m1 9h0m0-1h0m1 3h0m0-1h0m0-1h0m0-5h0m1 5h0m1-4h0m1 5h0m0-7h0m0-3h0m1 1h0m1-2h0m0 10h0m1 1h0m0-5h0m0-3h0m1 6h0m11-9h0m1 11h0m0-10h0m0 8h0m1 0h0m1 1h0m0-1h0m0-3h0m1 3h0m0-6h0m0-3h0m0 12h0m1-8h0m0-1h0m0 1h0m0-4h0m0 9h0m0 2h0m2-9h0m0 8h0m0-3h0m1 0h0m1 3h0m1-6h0m0 4h0m0 0h0m0-8h0m1 8h0m0-2h0m0 4h0m1-1h0m0 1h0m0-1h0m1 0h0m0-8h0m0 3h0m0-2h0m0 5h0m0-4h0m0 2h0m1 1h0m0 2h0m0-5h0m1 7h0m0 0h0m0-1h0m0-3h0m1 4h0m0-6h0m0 6h0m0-5h0m0 5h0m1-3h0m0 3h0m0 0h0m1 0h0m0-9h0m0 8h0m2-1h0m0-7h0m0 2h0m1 7h0m2-3h0m1-2h0m0-4h0m2 1h0m1 10h0m1-3h0m0-3h0m1 5h0m0-7h0m1 0h0m0 5h0m1-1h0m1 3h0m0-7h0m1 4h0m0 3h0m0-3h0m0 3h0m0-3h0m1-1h0m0 3h0m0-2h0m1 3h0m1-7h0m0-2h0m0 1h0m0 3h0m3 4h0m0-7h0m1-2h0m1 2h0m0 5h0m1-5h0m0-1h0m0 5h0m0-2h0m0-4h0m1 7h0m0 3h0m1-2h0m0-2h0m1-1h0m0-6h0m1 8h0m0 1h0m0-3h0m1 6h0m0-4h0m0 4h0m0-6h0m0-4h0m1 1h0m0-2h0m1-1h0m0 5h0m1-4h0m0 5h0m1 4h0m0-9h0m1 5h0m0 0h0m0 2h0m0 2h0m1-7h0m1-1h0m0 1h0m1 4h0m0 0h0m0-3h0m2 6h0m0-1h0m1-4h0m1-3h0m1 0h0m0 8h0m0-3h0m0 1h0m1-6h0m0 10h0m0-8h0m0 5h0m1 0h0m0 2h0m1-2h0m0-5h0m1 0h0m0 5h0m0-3h0m1-4h0m3-1h0m0 0h0m1 3h0m0-2h0m1 1h0m0 4h0m1-5h0m0-1h0m1 4h0m0 2h0m4-5h0m0 10h0m1-6h0m7-5h0m7 8h0m23-1h0m13-7h0m-237 19h0m30 0h0m15-1h0m1 4h0m0-3h0m0 2h0m1-5h0m1-4h0m0 6h0m0-5h0m1-1h0m0 2h0m0-1h0m0 4h0m1 1h0m1 0h0m1 3h0m1 1h0m1 0h0m0-5h0m0-2h0m0 1h0m0-3h0m0 9h0m0-4h0m0 2h0m0-9h0m1 6h0m0-4h0m0 4h0m0-3h0m1 4h0m0 0h0m1 5h0m0 0h0m0-7h0m0-2h0m1 1h0m0-4h0m0 6h0m0 5h0m1-10h0m0 9h0m0-7h0m1 2h0m1-1h0m0 6h0m0-3h0m0-6h0m0 6h0m1-5h0m0 8h0m1 0h0m0 0h0m0-1h0m0 0h0m1-4h0m1 0h0m0-2h0m0-1h0m2 5h0m0 1h0m0-4h0m1 4h0m0 3h0m0-4h0m0-2h0m0 1h0m1 5h0m1-3h0m0 2h0m0-8h0m1 1h0m0 0h0m0 9h0m1-12h0m0 12h0m0-8h0m2 8h0m1-4h0m1-5h0m0 2h0m0-1h0m0 2h0m1-6h0m0 1h0m1 11h0m0-1h0m0-10h0m0 9h0m0-2h0m0 1h0m1 0h0m0-8h0m1 0h0m0 6h0m0-5h0m1 6h0m0-5h0m1 6h0m0-8h0m0 3h0m0-4h0m1 0h0m0 12h0m2-5h0m0-6h0m1 9h0m1-7h0m0-3h0m1 1h0m0 0h0m0-1h0m1 3h0m0-2h0m0 10h0m0-10h0m3 4h0m0 3h0m0-7h0m0 0h0m1 2h0m0 0h0m0 1h0m1-3h0m1 11h0m0-11h0m0 7h0m1-5h0m0 1h0m0 2h0m0 1h0m1 2h0m0 2h0m0-7h0m1 8h0m1-6h0m0 5h0m0-10h0m0 3h0m0 1h0m1-3h0m10 6h0m0-3h0m1 2h0m0-1h0m0 2h0m1 2h0m0-9h0m1 7h0m0-5h0m1 9h0m0-10h0m0 0h0m0 7h0m1 0h0m1-5h0m0 4h0m0-5h0m1 0h0m0 3h0m0-4h0m0 2h0m0-2h0m1-1h0m1 9h0m0-1h0m0 2h0m1-2h0m1 0h0m1-4h0m0-1h0m1 5h0m1-4h0m0 5h0m0-3h0m1-7h0m1 11h0m0-1h0m0-2h0m2-5h0m0 3h0m1 1h0m0 2h0m0-6h0m1-3h0m0 2h0m1 3h0m1 0h0m0-1h0m1 5h0m0 2h0m1 0h0m0 0h0m1 1h0m0-8h0m1 1h0m2 5h0m1-1h0m0-4h0m1 6h0m0-4h0m0 1h0m1-5h0m1-1h0m0 4h0m1 1h0m0-4h0m0 3h0m0-3h0m0 5h0m1 3h0m1-8h0m0 3h0m0-5h0m1 8h0m1-2h0m1-5h0m2 4h0m0 5h0m0 0h0m0 0h0m1-3h0m0-3h0m0-5h0m0 11h0m0-1h0m0-4h0m1-4h0m0 10h0m0 0h0m1-9h0m0-3h0m0 6h0m1 5h0m0-6h0m0 5h0m1-7h0m0 5h0m0-1h0m0 5h0m0-2h0m0-2h0m1 2h0m0-1h0m0 2h0m0 1h0m1-12h0m0 3h0m0 6h0m0 2h0m0-1h0m1-3h0m0-3h0m0 3h0m0 3h0m1-6h0m1 6h0m0-9h0m0 5h0m0-2h0m1 2h0m0-5h0m1 4h0m0 5h0m0-8h0m1 3h0m0 7h0m0-12h0m0 6h0m1-2h0m0 2h0m2 2h0m0-6h0m1 0h0m0-2h0m0 0h0m0 11h0m1-9h0m0 5h0m0-1h0m1-1h0m0 5h0m1 1h0m1-3h0m0-2h0m0 6h0m0-11h0m1 6h0m1-2h0m2 0h0m1 0h0m1-5h0m1 7h0m1-5h0m1 3h0m0 4h0m0 1h0m1-3h0m2-5h0m0 8h0m0-3h0m1-5h0m1 8h0m5-8h0m2-1h0m0 5h0m0-6h0m3 1h0m4 2h0m13 5h0m20-5h0m-204 15h0m2-4h0m1 1h0m1-1h0m3 2h0m1 1h0m9 1h0m0-3h0m1 3h0m1 1h0m1-4h0m1 3h0m1 5h0m0-5h0m1 5h0m0-10h0m0 10h0m1-4h0m0-2h0m0 2h0m1 5h0m0-4h0m1-4h0m0-1h0m0 8h0m0-4h0m1 3h0m0-6h0m0-1h0m1 9h0m0-6h0m0-2h0m1 0h0m0-3h0m0 0h0m0 2h0m0-3h0m1 6h0m0 3h0m1-7h0m0-2h0m0 11h0m1-9h0m0 2h0m1-2h0m1 7h0m0-4h0m1 5h0m0 0h0m1 0h0m0-7h0m1 0h0m1 0h0m0 0h0m0 7h0m0-2h0m0-6h0m1 5h0m0 5h0m1-6h0m1-3h0m0 9h0m0-3h0m0-4h0m0 4h0m0-4h0m1 2h0m0-2h0m0 6h0m0 1h0m1-4h0m0-8h0m0 2h0m0 7h0m1-8h0m0 11h0m0-1h0m0 0h0m2-3h0m0 4h0m1-10h0m1 0h0m1 6h0m0 3h0m0-5h0m0 2h0m0-1h0m0 2h0m0-4h0m1 5h0m1-2h0m0-1h0m0-4h0m0 2h0m0-3h0m0 7h0m0-5h0m0 6h0m1 0h0m1-3h0m2-5h0m0 4h0m1-3h0m1 6h0m0-8h0m0 0h0m0 9h0m0-7h0m1 8h0m0 0h0m1-2h0m0-9h0m0 11h0m0-10h0m0 0h0m1 8h0m0-6h0m0 5h0m0-5h0m3-2h0m0 3h0m1-2h0m0 0h0m0 6h0m0 3h0m1-1h0m0 1h0m0-10h0m0 2h0m1 7h0m0-3h0m2-3h0m0 1h0m1 1h0m0-3h0m0 3h0m0 6h0m1-10h0m1 2h0m0 5h0m1-9h0m0 10h0m13-6h0m1-1h0m0 5h0m0-6h0m1 1h0m1 4h0m0-2h0m0-1h0m1-4h0m0 1h0m0 3h0m1 1h0m0 0h0m0-3h0m1 0h0m1 9h0m0-7h0m0 1h0m2 3h0m0 4h0m0 0h0m1-2h0m0 0h0m0-1h0m0-7h0m1 7h0m0-5h0m1 0h0m0 0h0m0 8h0m0 0h0m1-5h0m0 2h0m1 0h0m0-8h0m1 5h0m0-2h0m1-2h0m0 2h0m0 3h0m0 2h0m0-2h0m1-2h0m0 4h0m1-5h0m1 7h0m0-8h0m0 7h0m0 2h0m0-3h0m1 2h0m0-8h0m1-2h0m0 4h0m0 4h0m1-4h0m0-2h0m0 9h0m1-1h0m0-8h0m1-1h0m0 8h0m0-4h0m1 5h0m0 0h0m1-4h0m0 3h0m0 0h0m1-2h0m0 2h0m0-6h0m0 8h0m2-7h0m0 4h0m0 1h0m1-9h0m1 0h0m0 1h0m0 6h0m1 3h0m0-4h0m4-3h0m0 2h0m0 2h0m1-1h0m0 2h0m0-1h0m1-3h0m0 2h0m0-3h0m0-2h0m1 0h0m0 6h0m0-4h0m0-2h0m1-1h0m1 7h0m0-2h0m0-4h0m0 5h0m0-2h0m1 6h0m1-3h0m0 2h0m1-4h0m0-1h0m0 5h0m1-5h0m0 5h0m1-7h0m0-3h0m0 11h0m1-10h0m0 3h0m0 0h0m1 6h0m0-5h0m0-3h0m0 2h0m1 7h0m0-7h0m1 5h0m0-7h0m0 7h0m1-8h0m0 1h0m0 10h0m2-1h0m2-5h0m0 2h0m0 2h0m1-3h0m1 4h0m0-4h0m0-5h0m1 10h0m0-9h0m2 8h0m0 0h0m1 1h0m0-7h0m1-4h0m0 1h0m1-1h0m0 10h0m0 1h0m1-7h0m1-3h0m0 9h0m1-2h0m0-4h0m0 1h0m1-4h0m0 8h0m2-4h0m2 1h0m3 2h0m1-6h0m33 5h0m1-8h0m2 0h0m-224 18h0m16-5h0m12 8h0m15 1h0m1-6h0m2 2h0m1-4h0m0 10h0m0-7h0m0 1h0m1-6h0m0 4h0m0 7h0m0 0h0m1-7h0m0 1h0m1-2h0m1-2h0m0 8h0m0-7h0m1 2h0m0 2h0m1 5h0m0-7h0m0 1h0m0 7h0m0-11h0m0 3h0m1 7h0m1-1h0m1 1h0m0-5h0m2-3h0m0 0h0m0 4h0m1 4h0m1 0h0m0-1h0m0 1h0m0-8h0m0 3h0m0 1h0m1-2h0m0 6h0m1-2h0m0-4h0m0 5h0m1 1h0m0-5h0m2 3h0m0-1h0m0 2h0m0-6h0m1 7h0m0-6h0m0 6h0m1-2h0m1 1h0m0-5h0m0 3h0m0 0h0m0 0h0m0-3h0m1 2h0m1-2h0m1 3h0m0-5h0m2 4h0m0-4h0m0 2h0m0 4h0m0-4h0m0 2h0m1 4h0m1-7h0m0-3h0m0 4h0m1 3h0m0-2h0m0 1h0m1 3h0m0-5h0m0-4h0m0 8h0m0 3h0m0-7h0m1 0h0m0 3h0m1-2h0m0-4h0m1 9h0m0-10h0m0 2h0m0 2h0m2 2h0m0-4h0m0 7h0m0 1h0m1 0h0m0-8h0m0-3h0m0 10h0m0 1h0m1-4h0m0 3h0m0-2h0m0-8h0m0 6h0m0-1h0m1-4h0m0 2h0m0-1h0m1-2h0m0 1h0m1 3h0m1 5h0m2 0h0m0 0h0m0-2h0m0 3h0m1-2h0m0 2h0m1-2h0m0 3h0m0 0h0m1-4h0m0 2h0m2-1h0m0-7h0m0 5h0m0 1h0m1-5h0m0 4h0m1 0h0m0-5h0m1 5h0m0-3h0m0 0h0m1 3h0m1 2h0m10 0h0m1 0h0m0 2h0m0-4h0m0 4h0m1-4h0m1 6h0m1-9h0m0 3h0m1 2h0m0 2h0m0-8h0m0 5h0m0 4h0m0-11h0m1 6h0m0-1h0m2 5h0m0 0h0m0-6h0m1 2h0m0 3h0m1 1h0m0-8h0m0 4h0m0-1h0m0-2h0m1 0h0m0-2h0m0 4h0m1 2h0m0-3h0m0 4h0m1 3h0m1-10h0m0 1h0m0 10h0m1-11h0m1 4h0m0 1h0m0-5h0m0-1h0m1 3h0m0 3h0m0 5h0m1-9h0m0 10h0m1-9h0m0 8h0m0-7h0m0 5h0m0 2h0m0-10h0m0 6h0m2-6h0m0 1h0m0-2h0m0 8h0m1-6h0m0-1h0m1 1h0m1-2h0m3 1h0m0 4h0m0 2h0m1-1h0m1-1h0m0-3h0m0 2h0m1 6h0m0 0h0m1-7h0m1 5h0m1-1h0m0 2h0m1 1h0m0 1h0m0-1h0m1-10h0m0 2h0m0 10h0m1-10h0m0 7h0m2-8h0m0 9h0m0-3h0m1-5h0m0 4h0m0-4h0m1 7h0m0-6h0m1 2h0m0 1h0m0-1h0m0 3h0m0 0h0m0-6h0m1 5h0m0 1h0m1-6h0m1 8h0m0 0h0m2-1h0m0-6h0m0 2h0m0 1h0m1-5h0m0 1h0m1 2h0m0 5h0m1-8h0m0 5h0m0 3h0m0 3h0m1-7h0m1 3h0m1 2h0m0-5h0m0 7h0m1-1h0m0-11h0m1 9h0m2-5h0m1-2h0m2 4h0m0-3h0m0 7h0m1 2h0m1-4h0m0-7h0m0 9h0m0 1h0m0-9h0m1 7h0m0 0h0m0 0h0m1-5h0m0 2h0m1-1h0m0 3h0m0-1h0m1-2h0m1-1h0m1 2h0m0 2h0m1-6h0m1 2h0m0 8h0m1-5h0m3-3h0m1-2h0m0 8h0m2-10h0m0 12h0m1-2h0m2-7h0m0 5h0m0-6h0m4 10h0m1-8h0m9-2h0m1 4h0m1-2h0m4 1h0m2 6h0m14-7h0m-226 18h0m5 0h0m8 0h0m5-1h0m15 2h0m0-6h0m4 4h0m1-2h0m5-5h0m2 3h0m1 4h0m0-8h0m1 8h0m0-9h0m0 9h0m1 2h0m1-4h0m0 3h0m0-3h0m1 2h0m0-7h0m0 10h0m1-1h0m0-10h0m1 5h0m0 5h0m0-3h0m0 1h0m1-7h0m1 6h0m0-6h0m0 0h0m1 1h0m0 3h0m0 6h0m1-6h0m0 1h0m0 2h0m1-5h0m0 2h0m0-4h0m0 8h0m0-9h0m1 1h0m1-2h0m0 7h0m0 0h0m1 3h0m0 0h0m0-8h0m0 10h0m0-8h0m1 3h0m0-1h0m0-4h0m1 1h0m0 3h0m0-3h0m1 2h0m0 4h0m0 1h0m1-6h0m0 7h0m1-7h0m0 6h0m0-6h0m1 2h0m0 1h0m0-2h0m1 5h0m1 1h0m1 1h0m0-1h0m0-8h0m1 7h0m0-7h0m0 4h0m0 1h0m1-3h0m0 0h0m0-3h0m1 2h0m0 7h0m4-11h0m0 2h0m1 4h0m0 5h0m0-7h0m2 2h0m1-4h0m0 3h0m0 6h0m1-11h0m1 0h0m0 5h0m0-3h0m0 5h0m0 1h0m0-1h0m1 2h0m0-7h0m0 9h0m1-5h0m0 2h0m0 2h0m1-6h0m0 8h0m0-11h0m1 11h0m1-5h0m0-3h0m1-3h0m0 6h0m1 5h0m0-8h0m0 3h0m1 3h0m0-10h0m0 3h0m0 0h0m1 2h0m0 0h0m1-1h0m1-4h0m0 4h0m1-2h0m0 6h0m0-6h0m0 3h0m1 2h0m0 1h0m0-6h0m1 6h0m0-2h0m1-4h0m1 5h0m0-6h0m1 9h0m0 1h0m0-7h0m0 7h0m1-4h0m0-4h0m0 1h0m0 5h0m0 2h0m1-3h0m0-2h0m1-4h0m8 9h0m0 0h0m2-1h0m0-9h0m0 10h0m1-7h0m2-4h0m0 8h0m0 0h0m0 3h0m1-6h0m0-4h0m1 10h0m1-7h0m0 6h0m0-1h0m1 2h0m0-9h0m1 10h0m1-10h0m0 5h0m0 2h0m0-3h0m0 5h0m0-7h0m1 0h0m1 3h0m2-6h0m0 0h0m0 5h0m0-1h0m1 5h0m0-4h0m1 6h0m0-7h0m1 5h0m0 0h0m0-6h0m1-1h0m0 6h0m1-5h0m0 6h0m0-3h0m0-1h0m1-2h0m1-2h0m0 8h0m1-2h0m1 3h0m0-6h0m0-2h0m1 8h0m0-11h0m0 7h0m1-5h0m0-1h0m1 0h0m0 4h0m0-3h0m0 2h0m1 0h0m0 0h0m0 4h0m1-8h0m0 3h0m0 7h0m2-6h0m1 6h0m0-4h0m0-6h0m1 3h0m1 0h0m1 8h0m2-2h0m0-8h0m0 6h0m0-1h0m1-3h0m0 1h0m0 7h0m0-2h0m1-4h0m0-2h0m0-1h0m1 2h0m0-3h0m0 6h0m0 4h0m0-3h0m0-1h0m0-3h0m1 5h0m1-5h0m0 5h0m1-8h0m0 6h0m0-5h0m1 8h0m0-6h0m1 6h0m0 0h0m1-8h0m0 9h0m0-3h0m2-6h0m1 9h0m0-10h0m0 9h0m0 2h0m0-7h0m1 4h0m1 1h0m0 1h0m0-1h0m0-7h0m1 3h0m1-2h0m0-3h0m1 5h0m0-2h0m1 7h0m0 1h0m0-10h0m1 0h0m0 2h0m1 7h0m0 0h0m1-8h0m1 3h0m0 2h0m0-7h0m0 0h0m1 9h0m1-8h0m0 2h0m1 6h0m1-3h0m0 2h0m1-3h0m0 3h0m1 2h0m1-5h0m0 0h0m1 1h0m2 3h0m1-6h0m1-2h0m0 8h0m2-9h0m0 7h0m2-2h0m1-2h0m2 0h0m0-3h0m4 8h0m0-3h0m0 5h0m2-4h0m3-4h0m3 4h0m5-3h0m1 1h0m1 6h0m1-2h0m-275 15h0m8-1h0m1 0h0m10 1h0m26-3h0m19 3h0m1-3h0m6-1h0m30-8h0m9 11h0m1-5h0m0 2h0m1-7h0m1 1h0m2 4h0m0 4h0m0 0h0m1-7h0m0-1h0m1 3h0m0 2h0m0 0h0m0 1h0m1 4h0m1-10h0m0 5h0m0-6h0m2 8h0m0-8h0m0 9h0m0-10h0m1 8h0m1 2h0m0-2h0m0-1h0m1-7h0m0 2h0m0-2h0m0 7h0m1 4h0m0 0h0m0-4h0m1-4h0m0 0h0m0 3h0m1-6h0m0 3h0m0 4h0m1-6h0m0 7h0m0 3h0m1-8h0m0 4h0m0-2h0m0 0h0m0-4h0m1 11h0m0-6h0m1 1h0m0-2h0m2 2h0m0 2h0m1 2h0m0-8h0m1 3h0m0 6h0m0-10h0m1 4h0m1-2h0m1-2h0m0 6h0m0-1h0m0 4h0m1-5h0m1 0h0m0-1h0m1 1h0m0 2h0m0-3h0m0 3h0m1 4h0m0-8h0m2 5h0m1-4h0m1-3h0m0 7h0m0-7h0m1 6h0m0 3h0m2-6h0m0-1h0m0 2h0m1 3h0m1-9h0m0 9h0m0-4h0m0 3h0m0-1h0m1 3h0m1-5h0m0 5h0m0-7h0m0 6h0m0-2h0m1-3h0m1 8h0m0-1h0m1-10h0m0 1h0m1 10h0m0-3h0m0-4h0m0-1h0m1 1h0m0-1h0m0 0h0m1-2h0m1 5h0m0 4h0m0-5h0m1-5h0m0 8h0m0-4h0m2 5h0m0-9h0m0 1h0m1 2h0m0-3h0m0 2h0m1 3h0m0 2h0m0-4h0m1 0h0m0-1h0m1 1h0m0 5h0m0-1h0m0 4h0m0-10h0m1-1h0m0 1h0m9 1h0m1 3h0m1 1h0m0-5h0m0-1h0m1 10h0m1-5h0m0-1h0m0 6h0m1-5h0m0-4h0m1 0h0m0 6h0m0 3h0m0-2h0m0 2h0m0-11h0m0 11h0m1-3h0m0-6h0m1 2h0m0 4h0m0 4h0m0-7h0m1 5h0m0 0h0m0 2h0m0-11h0m1 9h0m0-1h0m1 2h0m0-7h0m0 4h0m1-5h0m0 8h0m0-8h0m1 6h0m1-2h0m1 1h0m1-4h0m0 1h0m0 0h0m1-3h0m0-2h0m0 10h0m1 2h0m0-7h0m0 4h0m1-1h0m0-4h0m1-1h0m1-3h0m0 6h0m0-3h0m1 3h0m0 0h0m0-6h0m1 5h0m1 2h0m0-5h0m0 4h0m0 3h0m0-2h0m0 0h0m1 0h0m1 1h0m0 2h0m2 0h0m1 1h0m0-10h0m0 11h0m0-4h0m0-7h0m1 5h0m0-1h0m0 6h0m1-2h0m0-1h0m1-2h0m0 4h0m0-9h0m0 8h0m0-7h0m1 5h0m1-3h0m0-2h0m1 8h0m0 0h0m0-3h0m0-4h0m1-1h0m0 3h0m1-1h0m0 1h0m0 5h0m0-3h0m0 2h0m0-2h0m1-2h0m0-1h0m0 3h0m1-2h0m0-4h0m1 6h0m0-3h0m0 4h0m1-4h0m0-3h0m1 1h0m0 4h0m0 5h0m0-7h0m1 3h0m0-1h0m0 6h0m0-11h0m0 8h0m0 0h0m0-2h0m1-1h0m0 3h0m0-2h0m1 2h0m0-3h0m0-2h0m0-2h0m1 4h0m0-3h0m0 5h0m0-2h0m0 2h0m1 3h0m0 0h0m0-10h0m0 4h0m1 2h0m0-5h0m1 9h0m0 0h0m0-4h0m1-1h0m0-4h0m0 4h0m0 1h0m1 5h0m0-4h0m0-5h0m0-2h0m1 6h0m0 3h0m1-5h0m0 3h0m0-5h0m1-3h0m0 4h0m0 7h0m2-3h0m0-3h0m1-1h0m0 0h0m1 3h0m1-3h0m0 7h0m1 0h0m1 0h0m0-2h0m0 2h0m1-7h0m2 1h0m0-3h0m0 4h0m1 4h0m1 1h0m0-3h0m1-6h0m1 8h0m1 0h0m2-6h0m0-4h0m1 3h0m0 8h0m1-2h0m1-7h0m0 9h0m1-1h0m1 1h0m1-1h0m0-8h0m1 2h0m0-4h0m2 7h0m0-6h0m0 2h0m2-1h0m7 4h0m2-2h0m5 0h0m-259 14h0m38-2h0m8 5h0m4 0h0m35-7h0m12-1h0m1 6h0m0-6h0m1 8h0m0-4h0m0 4h0m1-1h0m0-5h0m0 0h0m1 8h0m0 0h0m0-10h0m1-1h0m1 5h0m0 2h0m1 0h0m0-5h0m1 9h0m0-1h0m1 1h0m1-2h0m0 1h0m2 0h0m0-4h0m1-2h0m0 7h0m0 0h0m0-3h0m0-1h0m0-3h0m0-3h0m2 9h0m0-7h0m1 7h0m0-1h0m1-3h0m0 3h0m0-5h0m1 1h0m1 3h0m0-6h0m1 6h0m0 1h0m0-3h0m0-1h0m1 1h0m0-3h0m1-3h0m1 9h0m0-8h0m0 5h0m0 5h0m1-5h0m1 2h0m0 2h0m1 0h0m0-9h0m0 1h0m0 6h0m1 3h0m0-1h0m0-1h0m0 0h0m1 0h0m0-4h0m0 2h0m0-1h0m0 2h0m1 4h0m0-10h0m2 4h0m1-5h0m0 7h0m0 1h0m2 2h0m0-10h0m1 3h0m0-4h0m1 9h0m1-6h0m1 0h0m0-1h0m0 5h0m1-3h0m0-1h0m0 1h0m1 4h0m1 0h0m0-1h0m0 2h0m0-5h0m1 3h0m0 4h0m0 0h0m2 0h0m0 0h0m0-11h0m0 9h0m0-1h0m0 1h0m1-2h0m0-6h0m0 8h0m0-3h0m0-6h0m1 5h0m2-1h0m0 7h0m0-7h0m1 5h0m0-4h0m0-3h0m0 8h0m0 1h0m1-4h0m1-3h0m0 5h0m1-4h0m0 3h0m0-4h0m1 3h0m0-5h0m1 2h0m0 2h0m0 1h0m0 2h0m1-8h0m0 3h0m0 1h0m1-2h0m0 5h0m1-4h0m0 0h0m9 2h0m0-2h0m1 6h0m1-10h0m0 3h0m0 7h0m0-5h0m0-4h0m0 6h0m0-3h0m1 7h0m0-9h0m0-2h0m0 10h0m1-8h0m1 7h0m0-7h0m1 0h0m0 4h0m0-3h0m0 3h0m0-6h0m1 5h0m0-1h0m0 7h0m0-9h0m0 7h0m1-3h0m0 4h0m1-3h0m1-1h0m1-1h0m0-5h0m0 10h0m1-5h0m1 6h0m0 0h0m0-8h0m0 2h0m0 2h0m1 2h0m0 0h0m1 1h0m1-7h0m0 6h0m0-7h0m0 5h0m1 0h0m0-3h0m0-2h0m1 9h0m0-11h0m0 8h0m1-7h0m1 0h0m0 7h0m0-4h0m1 3h0m0-1h0m0-1h0m0 0h0m0 2h0m0-4h0m1 8h0m1-6h0m1 7h0m0-1h0m1-2h0m0-5h0m1 2h0m0 0h0m2 4h0m1-4h0m0 5h0m1-6h0m0 5h0m1-7h0m0 0h0m0 0h0m0 1h0m0-3h0m1 9h0m0-5h0m1 3h0m0-2h0m0 3h0m1-3h0m0-2h0m0 6h0m0 1h0m1-10h0m0 0h0m0 0h0m0-1h0m0 8h0m1 1h0m0-1h0m2 1h0m0 0h0m0-8h0m0 8h0m1 1h0m0-1h0m0-5h0m1 7h0m0-3h0m1-8h0m0 6h0m0-5h0m0 10h0m1-2h0m0-6h0m1 3h0m1-4h0m1-2h0m0 7h0m1-4h0m0 5h0m0-1h0m1 4h0m0-11h0m1 7h0m0 5h0m0-11h0m0 8h0m1-8h0m1 10h0m0-6h0m0-1h0m0 2h0m1-3h0m2 0h0m0 3h0m1-2h0m0 5h0m1-1h0m0-7h0m0 7h0m0-1h0m0-5h0m1 7h0m1-1h0m0-8h0m1 8h0m0-6h0m0 7h0m0-8h0m0 11h0m1-8h0m0 7h0m1-1h0m0-5h0m0-3h0m0 4h0m0-2h0m1-2h0m2 2h0m0 5h0m1 2h0m0 0h0m0-10h0m1 1h0m1-2h0m0 2h0m1 8h0m0-5h0m1 3h0m1 1h0m1-8h0m0 4h0m0 7h0m1-11h0m0 8h0m1-8h0m0 10h0m0-5h0m1 6h0m1-1h0m1-10h0m0 2h0m3 8h0m0-1h0m1-2h0m1-8h0m0 11h0m2-4h0m1-7h0m4 0h0m2 11h0m25-9h0m10 4h0m6-2h0m-263 15h0m17 1h0m20-5h0m19-2h0m11 4h0m0-5h0m1 2h0m0-1h0m1 1h0m1 2h0m0-3h0m1 8h0m1-9h0m0 3h0m0 3h0m0 3h0m0-2h0m1-4h0m0 3h0m0 0h0m1-5h0m0 6h0m1-3h0m1 1h0m0 0h0m1 0h0m0-5h0m0 2h0m1 7h0m0 2h0m0-4h0m1-1h0m0-4h0m0 9h0m1-4h0m0 3h0m0-6h0m0 0h0m1 1h0m1-2h0m0-1h0m1 1h0m0-2h0m0 10h0m1-8h0m0 1h0m0-3h0m0 1h0m1 0h0m0 8h0m0-10h0m0 12h0m0-8h0m1 4h0m0-2h0m1 2h0m0-2h0m2-2h0m0 4h0m0-7h0m0 4h0m1 7h0m1-4h0m0 3h0m0-5h0m0-1h0m1 2h0m0 3h0m0-7h0m2 7h0m1-5h0m0 5h0m1 0h0m1-1h0m0-5h0m1 5h0m0 2h0m0-5h0m0-4h0m1 3h0m0 4h0m1-3h0m1-4h0m0 6h0m0 0h0m1-2h0m0-2h0m0-2h0m0 9h0m0-3h0m0 4h0m1-3h0m1-3h0m0 2h0m0-7h0m1 5h0m0-5h0m1 7h0m0-1h0m0 2h0m0-4h0m3-2h0m0 4h0m0 4h0m1-1h0m0-4h0m0-2h0m1 4h0m0 2h0m0-2h0m0-6h0m1 4h0m1-6h0m1 2h0m0 7h0m0-8h0m1 6h0m1 3h0m1-8h0m0 6h0m0 2h0m0 1h0m0 0h0m2-2h0m1 2h0m0-3h0m1-7h0m0 2h0m0 0h0m1 8h0m0-1h0m0 1h0m0-9h0m1 6h0m1-5h0m0 8h0m0-6h0m0 0h0m1 0h0m0-2h0m9 8h0m0-2h0m1 0h0m0 2h0m1-4h0m1-1h0m0-5h0m0 3h0m0 2h0m0 5h0m2-11h0m0 7h0m0-1h0m1 0h0m1 4h0m0-4h0m1-2h0m0 1h0m0-4h0m1 11h0m0-1h0m1-1h0m0-2h0m0 0h0m1 3h0m0-1h0m0-6h0m0-2h0m1 0h0m0 3h0m1-1h0m0 4h0m0 1h0m0 2h0m1-5h0m1 1h0m1 3h0m0 1h0m0-5h0m0 3h0m1 0h0m0-7h0m0 4h0m0 5h0m1-3h0m1-7h0m0 5h0m0-6h0m2 11h0m0-6h0m0-2h0m0 1h0m0 1h0m1-3h0m0 8h0m0-5h0m1 4h0m0-5h0m0 2h0m0-4h0m1 5h0m0-6h0m0 2h0m2 6h0m0-6h0m0 7h0m0-8h0m0 5h0m2 0h0m0 0h0m0-1h0m0-3h0m0 9h0m0-3h0m1 0h0m0 3h0m1-8h0m1-1h0m0 0h0m2 5h0m0-7h0m0-1h0m0 6h0m1 3h0m0-4h0m1 2h0m1-5h0m0 6h0m0-6h0m0-1h0m2 1h0m0 10h0m0-3h0m1 0h0m1-7h0m0 2h0m0 8h0m0-9h0m1-3h0m1 11h0m0-5h0m0 6h0m0-4h0m0-1h0m4-1h0m0 0h0m0 4h0m0-2h0m1-3h0m0 0h0m0 2h0m3-7h0m0 11h0m0 1h0m0-1h0m0-4h0m1-6h0m0 8h0m1-7h0m0 0h0m0 3h0m2 5h0m0-6h0m0 2h0m1-5h0m0 10h0m0-7h0m0 8h0m1-7h0m0-3h0m0 6h0m1-6h0m0-2h0m1 2h0m0 4h0m1-2h0m0-2h0m0 7h0m1-8h0m1 6h0m1-6h0m0-1h0m0 6h0m1-1h0m0 6h0m2 0h0m1 0h0m0-6h0m0 2h0m1 1h0m0 2h0m0-6h0m0 1h0m1-3h0m1 3h0m1 1h0m1-4h0m0 7h0m0 0h0m0 2h0m1-11h0m0 9h0m2 0h0m0-4h0m1 5h0m0-1h0m2-7h0m0-1h0m0 9h0m1-1h0m0-7h0m0 7h0m0-6h0m1 6h0m2-4h0m0 6h0m2-8h0m0 3h0m2-2h0m1 7h0m1-6h0m0-4h0m0 7h0m0-7h0m1 4h0m1 6h0m3-5h0m11 3h0m3-7h0m4 6h0m9 3h0m33-10h0m-348 22h0m1 0h0m36-2h0m32-1h0m6 3h0m0-4h0m16-1h0m6-4h0m4 5h0m8 5h0m0-3h0m6-3h0m15 1h0m1 5h0m0-3h0m2-6h0m0 8h0m1-5h0m1-4h0m1 8h0m0 0h0m0-1h0m1 0h0m0-7h0m0 2h0m0 1h0m0 3h0m0 2h0m0-10h0m0 5h0m0-1h0m1 6h0m1-7h0m0 4h0m0-5h0m1-1h0m0 7h0m1-5h0m0 1h0m0-4h0m0 9h0m1-1h0m0 0h0m1-7h0m1 9h0m0-8h0m1 6h0m1-5h0m0 0h0m0 9h0m0-3h0m0-6h0m1 0h0m0-2h0m1 4h0m0 0h0m0-1h0m0 3h0m0-6h0m0 10h0m0-7h0m1-2h0m1 5h0m0-1h0m1-2h0m0 0h0m0 2h0m0-3h0m1 7h0m0-6h0m0 2h0m0-2h0m1 1h0m0-2h0m1 2h0m0 3h0m3 0h0m0 2h0m0-5h0m1 5h0m0-1h0m0-6h0m1 2h0m0 4h0m0-8h0m1 10h0m0 1h0m1 0h0m1 0h0m1-8h0m0 5h0m1-7h0m0 5h0m0 2h0m1 1h0m0 1h0m0-1h0m0-1h0m0-6h0m1 8h0m0-6h0m0 0h0m0 3h0m1 0h0m1-7h0m0 4h0m0-4h0m0 3h0m3 4h0m1-2h0m0 2h0m0 1h0m0 2h0m1-2h0m0-8h0m1 2h0m0-3h0m0 11h0m1 1h0m1-6h0m0-2h0m0-2h0m1 8h0m0-9h0m1 1h0m0 5h0m1 0h0m0 5h0m0-6h0m0-4h0m1 7h0m1-3h0m0-1h0m3-4h0m0 7h0m1-1h0m0-2h0m0-4h0m1 7h0m0-4h0m1 0h0m0-3h0m0 7h0m7 1h0m1-4h0m1 5h0m1-2h0m1-1h0m0 5h0m0 0h0m1-6h0m1-3h0m0 1h0m0 4h0m0-3h0m0-2h0m1 6h0m0-1h0m0 4h0m0-2h0m1-5h0m0-4h0m1 7h0m2-4h0m0-2h0m1 0h0m0 4h0m0 3h0m0-2h0m1-2h0m0 5h0m0 0h0m0-7h0m1-2h0m0 6h0m0-6h0m0 1h0m0 8h0m0 0h0m0-9h0m0 0h0m1-1h0m1 11h0m0-7h0m0 3h0m0-5h0m0 10h0m1-10h0m1-2h0m0 4h0m0 7h0m1-4h0m2-2h0m0 0h0m0-5h0m0 9h0m1-4h0m0-2h0m1 6h0m0-5h0m0 1h0m0-2h0m0 2h0m1-4h0m0 6h0m0-2h0m1 2h0m0-1h0m0 1h0m0-6h0m0-1h0m1 9h0m0-2h0m1 3h0m0 1h0m0-8h0m0 7h0m0 1h0m1-9h0m0 10h0m1-1h0m0-7h0m0-3h0m0 5h0m0-1h0m0-2h0m1 2h0m0-4h0m0 7h0m0-7h0m0 10h0m1-5h0m1-5h0m0 11h0m0-2h0m1 0h0m1-4h0m0-4h0m2 10h0m0-1h0m0-5h0m0-6h0m1 11h0m0-6h0m0 2h0m0 1h0m0-2h0m1-2h0m0 4h0m0-6h0m0 9h0m1 0h0m0-11h0m1 4h0m0-2h0m1 1h0m0 7h0m1-1h0m0 3h0m1-4h0m0-3h0m1 7h0m0-5h0m0 2h0m1-3h0m0-4h0m0 5h0m0-1h0m2 1h0m0-4h0m0 9h0m1-9h0m0-1h0m1 8h0m0 0h0m0-8h0m4 7h0m0-6h0m2-1h0m0 8h0m2-2h0m0 2h0m0-5h0m0-1h0m0 4h0m1-7h0m0 7h0m1 0h0m0-4h0m0 8h0m0 0h0m1-5h0m1-2h0m2 3h0m0 4h0m1-1h0m0-7h0m1 1h0m1 1h0m0 5h0m0-3h0m0 2h0m0-3h0m1-4h0m0 5h0m1-6h0m0 6h0m0-1h0m1 2h0m0-5h0m1 0h0m0 0h0m0 1h0m1-4h0m0 10h0m0-2h0m1-8h0m1 4h0m0-1h0m1 4h0m0-1h0m0-3h0m0 6h0m0-2h0m1 4h0m0-1h0m1-6h0m0-4h0m0 5h0m1-4h0m1 2h0m1-3h0m0 11h0m1-3h0m1-1h0m1 4h0m0-9h0m1 5h0m0-6h0m3 4h0m10-6h0m13 3h0m1 1h0m4 8h0m10-12h0m31 10h0m-383 13h0m72-7h0m14-4h0m19 10h0m29-6h0m6-1h0m1 4h0m3 5h0m2-9h0m9 8h0m4-8h0m7-2h0m2 6h0m1 4h0m0 0h0m1-1h0m0-6h0m0 0h0m1 2h0m0-2h0m1 3h0m1-2h0m0-2h0m0 9h0m0-2h0m0-4h0m0-3h0m1 3h0m0-5h0m0 3h0m0 6h0m0-6h0m1 7h0m2 1h0m0-2h0m1-4h0m1 5h0m0-7h0m1 7h0m0 0h0m1-8h0m1 0h0m0 1h0m0-4h0m0 3h0m0 0h0m1-2h0m2 6h0m0 2h0m1-5h0m1 1h0m0 0h0m1 0h0m0 3h0m1-1h0m0 2h0m0 2h0m1-11h0m0 3h0m0 0h0m0 1h0m0 1h0m0-2h0m1-1h0m1 6h0m1-2h0m0 3h0m2-3h0m0 6h0m1-8h0m0-1h0m0 5h0m0 0h0m0 3h0m2-3h0m0 3h0m0-10h0m0 3h0m1-2h0m0 0h0m0 0h0m0 2h0m0-1h0m2 6h0m1-2h0m0 5h0m0-4h0m0-8h0m0 1h0m0 0h0m1 3h0m1 2h0m0-3h0m1 4h0m0 5h0m1-2h0m0 0h0m0 1h0m1 0h0m0-1h0m0 0h0m0-5h0m0 0h0m1-2h0m1 6h0m0-3h0m1 4h0m0 0h0m1-4h0m0-4h0m0 4h0m0-4h0m1 3h0m0-4h0m1 4h0m0 1h0m0-3h0m0 1h0m0 2h0m0 4h0m0 0h0m1-4h0m0 1h0m0 3h0m0 1h0m0-11h0m1 8h0m0 1h0m0 0h0m1-9h0m0 2h0m0-1h0m1 5h0m0-3h0m1-2h0m1 1h0m0 6h0m0 3h0m0-5h0m1-5h0m1 0h0m0 11h0m0-4h0m1-3h0m8 1h0m1 4h0m0-5h0m0-4h0m0 9h0m0-1h0m1 2h0m1-2h0m0-6h0m1 7h0m0-6h0m1-3h0m2-1h0m0 7h0m1-3h0m0 4h0m0 3h0m1-7h0m0 7h0m0-11h0m0 8h0m0-3h0m1 3h0m0-6h0m1-1h0m0 11h0m0 0h0m0-10h0m0 3h0m0 2h0m1 1h0m0-3h0m0-5h0m1 0h0m0 3h0m1 1h0m0 7h0m0-8h0m0 3h0m0-1h0m1 5h0m0-3h0m0-3h0m0 5h0m1 0h0m0-5h0m0 1h0m0-2h0m0 3h0m0 1h0m1-5h0m1 6h0m0-3h0m0 1h0m0 2h0m0-1h0m0-6h0m1 4h0m0-1h0m0-3h0m0 3h0m0-3h0m0 2h0m2 0h0m0-2h0m0 8h0m1-5h0m0 6h0m0-7h0m0 6h0m1-4h0m0 3h0m0-3h0m1 4h0m0-3h0m1 4h0m0-8h0m0-2h0m0 10h0m2-1h0m0-3h0m1-1h0m1 4h0m0-7h0m0 6h0m0 1h0m0 0h0m1-2h0m1 0h0m1 5h0m1-2h0m1-7h0m0-2h0m0 0h0m0 2h0m1 3h0m0-4h0m0 5h0m1 3h0m0-5h0m1 0h0m0-3h0m0 1h0m0-1h0m2 3h0m1-1h0m0-3h0m1 0h0m0 0h0m0 3h0m0-1h0m0-2h0m0 3h0m0-3h0m0 6h0m1 3h0m0-3h0m0-4h0m0 4h0m0 4h0m1 0h0m1-7h0m0 2h0m1 6h0m0-2h0m1-2h0m0-1h0m0 3h0m1-4h0m0-2h0m0-4h0m1 3h0m1 7h0m0-9h0m1 11h0m0-4h0m1 3h0m1-7h0m0 5h0m1-3h0m0 1h0m0-1h0m2 3h0m0-9h0m1 8h0m2 2h0m1 1h0m0-11h0m1 6h0m0 1h0m0 2h0m1-3h0m0-1h0m0-1h0m0-1h0m0 8h0m1-10h0m0 5h0m1 4h0m2-8h0m1 3h0m1 2h0m1 1h0m0-6h0m0-2h0m0 4h0m0 0h0m1 5h0m1-8h0m1 11h0m2-2h0m0-6h0m0-1h0m0 0h0m1 4h0m0 0h0m0 4h0m0-2h0m0-2h0m0-2h0m2-1h0m3 8h0m0-2h0m1-1h0m1 2h0m0 0h0m1-6h0m0 4h0m1-1h0m1-4h0m1-4h0m8 0h0m1 5h0m2 3h0m1 3h0m11-3h0m42-5h0m45-1h0m0 0h0m-345 21h0m51-11h0m2 3h0m0-1h0m15 5h0m12-7h0m9 0h0m0 1h0m0 7h0m1-4h0m0 6h0m0-5h0m0 6h0m1-6h0m0 6h0m0-5h0m0 5h0m1 1h0m0-5h0m0-3h0m1 1h0m0 5h0m1-6h0m0 7h0m1-8h0m0 7h0m1-10h0m0 12h0m0-5h0m1 2h0m1-3h0m0-5h0m1 7h0m1-3h0m0-1h0m0 3h0m0-2h0m1-3h0m0 5h0m0-4h0m0 2h0m1-1h0m0 1h0m1 2h0m0 2h0m0 1h0m1-6h0m1 6h0m2-2h0m0-8h0m1 9h0m0-9h0m0 0h0m1 10h0m0-8h0m0 6h0m0-5h0m0 3h0m1-3h0m1 6h0m0-9h0m0 2h0m0 6h0m0-2h0m0-1h0m1 0h0m0-4h0m1 11h0m0-10h0m0 1h0m1 1h0m0 7h0m0-3h0m1 2h0m0-6h0m0 6h0m0 0h0m1-9h0m1 8h0m1 1h0m1 0h0m0-8h0m0-1h0m1 0h0m0 0h0m0 0h0m0 8h0m1 1h0m0-5h0m1 5h0m0-6h0m0 6h0m0-10h0m1 11h0m1-3h0m0 0h0m1-7h0m1 10h0m1-3h0m0-5h0m0 3h0m1-3h0m1-3h0m0 8h0m0-4h0m2 2h0m0 4h0m1-7h0m0 2h0m0 0h0m1 5h0m0-7h0m1 3h0m0 0h0m0-1h0m0 3h0m1-2h0m0 3h0m1 1h0m0 1h0m1-8h0m1 1h0m0-2h0m1 5h0m0-7h0m0 7h0m0-5h0m1 7h0m0-3h0m0 4h0m10 1h0m0 0h0m1-1h0m0-5h0m0 6h0m0 0h0m2-6h0m0-4h0m1 3h0m0 4h0m0-5h0m0 7h0m1-8h0m0 4h0m0 0h0m0-3h0m0 4h0m1-6h0m0 3h0m1 0h0m0 1h0m0 6h0m1-5h0m0 4h0m1-3h0m1-6h0m1 0h0m0 8h0m0-4h0m0-3h0m1-2h0m0 5h0m1 6h0m0-4h0m0-5h0m1 8h0m0 0h0m1-2h0m1 0h0m0 0h0m1 1h0m1-5h0m0-1h0m0 8h0m1-2h0m0-2h0m1 1h0m0-4h0m0 4h0m1 3h0m0-2h0m0-7h0m0 2h0m1-1h0m0 5h0m1-7h0m1 3h0m1 3h0m0-6h0m0 6h0m1-6h0m1 4h0m0 3h0m0-8h0m1 4h0m0 8h0m1-8h0m0-1h0m0 7h0m1-4h0m0 6h0m0-7h0m0-1h0m0 2h0m0-1h0m0-4h0m0 5h0m0 4h0m1-7h0m0 1h0m0-2h0m1 9h0m1-3h0m0 2h0m0-5h0m1-4h0m0 4h0m0 6h0m0 0h0m1-7h0m0 3h0m0-6h0m1 0h0m0 5h0m0-1h0m0 1h0m1-6h0m0 2h0m0 7h0m0 1h0m1-1h0m0-2h0m0 3h0m1-10h0m0 3h0m0 2h0m0 2h0m1-6h0m1 4h0m0 6h0m0 1h0m1-11h0m0 2h0m1 1h0m0-2h0m1 9h0m1 0h0m0 0h0m0-3h0m0-2h0m1-1h0m1-1h0m0-3h0m0 4h0m0 2h0m1 1h0m0-5h0m0 4h0m0-2h0m0 0h0m1-5h0m0 9h0m0-4h0m0 2h0m0-4h0m1 1h0m0 6h0m0-9h0m0 11h0m1-10h0m0 7h0m0-4h0m1 6h0m1 0h0m0-2h0m1-6h0m0 5h0m2-7h0m0 4h0m0 5h0m1-9h0m1 2h0m0 4h0m0 3h0m1-10h0m0 11h0m1-3h0m0 4h0m0-2h0m1-8h0m0-1h0m1 5h0m0 4h0m0-5h0m0 2h0m1 1h0m1-4h0m1 6h0m0-2h0m0 0h0m1-7h0m1 1h0m0-1h0m1 6h0m0 3h0m0-8h0m1 4h0m0-4h0m0 5h0m2 0h0m1-4h0m0 6h0m2-4h0m0-2h0m1 5h0m0-1h0m1-6h0m2 0h0m0 8h0m1 2h0m1-8h0m0 0h0m1 0h0m2 7h0m0 1h0m0-7h0m1 3h0m0-4h0m3-2h0m2 2h0m2 8h0m14-1h0m4-3h0m2-4h0m128 8h0m-396 8h0m0-4h0m2 6h0m17-5h0m26 5h0m3 1h0m15-9h0m1 7h0m9-1h0m22-4h0m1-2h0m1 1h0m1 4h0m0-4h0m1 2h0m0 4h0m0-4h0m1-2h0m0-2h0m0 6h0m0-5h0m0 1h0m1 3h0m1-5h0m0 10h0m1 2h0m0-4h0m0-5h0m1 0h0m0 0h0m1-1h0m0 4h0m1-1h0m1 1h0m0-3h0m0-2h0m0 9h0m0-10h0m0 7h0m1-2h0m0 1h0m2 3h0m0-4h0m1 3h0m1-6h0m0 0h0m1 8h0m1-7h0m1 9h0m1-8h0m0-4h0m1 10h0m0-2h0m1 1h0m2-9h0m0 1h0m1 4h0m0 3h0m0 4h0m0-10h0m1 8h0m1-4h0m0 5h0m0-11h0m0 2h0m0 1h0m0 7h0m1-10h0m0 10h0m0-10h0m0 10h0m0-7h0m0 0h0m0 8h0m0-3h0m1-1h0m0-5h0m1 6h0m0 0h0m1-1h0m1 3h0m0-7h0m0-2h0m0 0h0m0 4h0m1 4h0m0-9h0m1 10h0m1 1h0m1-9h0m0-2h0m0 7h0m1-3h0m1-1h0m1 0h0m0 0h0m1 3h0m0 2h0m0 3h0m0-4h0m1 4h0m1-8h0m0 9h0m0-2h0m0 1h0m1-8h0m0 4h0m0-1h0m0 3h0m1-2h0m0 0h0m1-1h0m0 4h0m0 0h0m0-3h0m0-6h0m1 7h0m0 0h0m0-7h0m1 2h0m1 6h0m0-2h0m0 3h0m1-3h0m0-5h0m0 5h0m1-2h0m0-3h0m1 7h0m1-3h0m0 6h0m1-3h0m6-6h0m1 5h0m0-2h0m1-4h0m1 9h0m0-6h0m0-3h0m0 9h0m1-3h0m0-8h0m1 9h0m0-2h0m0-3h0m0-1h0m1 2h0m0 3h0m0-1h0m1-5h0m0 2h0m0 1h0m1 5h0m0 1h0m1-9h0m1 4h0m0-4h0m1 1h0m0-2h0m0 11h0m1-11h0m0 10h0m0-5h0m0 5h0m1-2h0m0-9h0m0 2h0m0 2h0m0 2h0m0-5h0m1 2h0m0 5h0m0-6h0m0 3h0m0-3h0m1 7h0m1 1h0m0-9h0m2 1h0m0 1h0m0-2h0m1 1h0m0-1h0m0 6h0m1-1h0m1 2h0m0 2h0m0-9h0m1 0h0m2 2h0m1 2h0m0-1h0m1 8h0m0-6h0m0 5h0m1-7h0m0 5h0m0 0h0m1-6h0m0 2h0m0 3h0m0-1h0m0-2h0m1 5h0m1 1h0m0-2h0m0-8h0m0 7h0m0-2h0m0-1h0m1 5h0m1-4h0m0 4h0m1-9h0m0 5h0m0 6h0m0-2h0m0-1h0m0-2h0m0-3h0m1 3h0m0-4h0m0 3h0m0-2h0m1-2h0m0 8h0m0-9h0m0 10h0m1-9h0m1 8h0m0 1h0m0-1h0m1-7h0m0-1h0m0 5h0m0-1h0m0-4h0m1-2h0m0 1h0m1 0h0m0 2h0m0-2h0m1 5h0m0-4h0m0-1h0m0 0h0m0 9h0m0-8h0m1 7h0m0-8h0m0 5h0m0 1h0m0-4h0m0 3h0m1-4h0m0-1h0m1 4h0m1 6h0m0-7h0m0 4h0m0-6h0m1 4h0m1-2h0m1 3h0m1 1h0m0 1h0m0 2h0m0-9h0m0 8h0m1-1h0m0 3h0m0-6h0m0-2h0m1 5h0m0 0h0m0 1h0m1-6h0m0 2h0m1 1h0m1-1h0m0 0h0m0 1h0m0-5h0m1 2h0m0-3h0m0 10h0m1 1h0m0-12h0m0 9h0m0 0h0m1-8h0m0 6h0m1-2h0m1 3h0m1-3h0m0 2h0m1 5h0m1-2h0m0 0h0m0-3h0m0 0h0m1-7h0m0 9h0m0-6h0m1 1h0m0-2h0m0 9h0m1-3h0m1-3h0m0-3h0m1 7h0m1 2h0m0 0h0m0-8h0m0 3h0m1-4h0m0 3h0m0-3h0m0 6h0m1 2h0m0-9h0m0 7h0m1 3h0m0-7h0m0-1h0m0 6h0m1-3h0m1-3h0m0-2h0m0 8h0m0-7h0m1-2h0m1 5h0m0-1h0m1 8h0m0-9h0m1 9h0m0-11h0m0 11h0m0-3h0m1 1h0m1-2h0m0-4h0m1-3h0m1 5h0m1 2h0m0-5h0m2-1h0m1 9h0m4 0h0m1 1h0m0-5h0m0-5h0m1 7h0m4 1h0m13-9h0m-386 20h0m42-5h0m21-3h0m2 1h0m38 7h0m19-7h0m4 2h0m0-3h0m2 2h0m19 2h0m1 5h0m1-4h0m7 1h0m5 0h0m5-5h0m24 0h0m5 4h0m19-1h0m7 4h0m0-8h0m1 5h0m0 3h0m3-9h0m0 3h0m1 3h0m0-4h0m0 3h0m1-3h0m0 0h0m0 6h0m0-5h0m0 0h0m1 8h0m1 0h0m0-3h0m0-2h0m0-4h0m1-1h0m0 8h0m0-9h0m1 6h0m0-3h0m0 0h0m0 7h0m1-8h0m0 8h0m0-2h0m1-2h0m0 5h0m0-10h0m0 6h0m1-7h0m0 4h0m1-2h0m1 8h0m0 1h0m1-4h0m1 3h0m2-1h0m0-3h0m0-3h0m0 9h0m1-2h0m0-2h0m0 1h0m1-5h0m0 4h0m1-3h0m0 2h0m1 0h0m0 4h0m1 0h0m0 0h0m0-4h0m0-7h0m1 7h0m1 3h0m0-5h0m1-3h0m0 8h0m0-5h0m0-2h0m2 4h0m0 2h0m0-3h0m1 3h0m0-1h0m0-4h0m0-3h0m0 10h0m0 0h0m1-9h0m1 7h0m0-3h0m0-4h0m0 4h0m1 3h0m0-9h0m1 10h0m1-7h0m0 3h0m1-6h0m1 3h0m0 6h0m0-7h0m0 6h0m0-7h0m1 10h0m0-1h0m0-10h0m1 6h0m1 0h0m0 0h0m1 1h0m0-4h0m0 2h0m1 4h0m1-2h0m0-3h0m1 3h0m0-5h0m0 9h0m0-3h0m1-8h0m0 11h0m1-1h0m0-2h0m0-1h0m1 1h0m0 1h0m0 1h0m1-8h0m0-2h0m1 6h0m0 5h0m0-5h0m1 5h0m0-9h0m0 5h0m0-1h0m1-2h0m0-4h0m0 9h0m8 1h0m0-5h0m0 1h0m1-5h0m0 0h0m0 3h0m0 7h0m0-7h0m1 0h0m0-1h0m0 9h0m0-7h0m0-4h0m1 1h0m0 5h0m0 1h0m0-6h0m1 7h0m0 1h0m0-8h0m1 9h0m0-4h0m0-4h0m0 0h0m0 7h0m0-5h0m1-1h0m0 2h0m2-2h0m0 3h0m0 1h0m0 3h0m0 1h0m0-2h0m1-10h0m0 9h0m1 0h0m0-2h0m0-4h0m1 5h0m0-5h0m0 7h0m1-7h0m0 1h0m1 5h0m0-2h0m1 0h0m1-5h0m0 2h0m0-1h0m0 7h0m0-5h0m1 4h0m0 2h0m1-2h0m0 1h0m0-1h0m0-3h0m1-2h0m0 3h0m0-6h0m0 9h0m0-7h0m1-2h0m0 5h0m1 5h0m1-2h0m1 2h0m1 1h0m0-8h0m1 5h0m0-3h0m0-2h0m1 5h0m2-4h0m1 0h0m1 6h0m0-2h0m0 2h0m0-11h0m1 0h0m0 3h0m0 0h0m0-1h0m1 2h0m0 0h0m0 6h0m0-3h0m1 0h0m0-6h0m0 9h0m0-2h0m0 0h0m0-2h0m1 0h0m0-2h0m1 4h0m0 3h0m1-8h0m1 9h0m0-4h0m0 3h0m0-3h0m1 2h0m0-4h0m1-2h0m0 4h0m0-7h0m1 5h0m0 1h0m1 4h0m0-5h0m0-3h0m0 8h0m0-2h0m0 1h0m1-8h0m0 3h0m1 3h0m2 4h0m0-8h0m1 5h0m0-4h0m1 1h0m1-2h0m0 4h0m0-3h0m0 2h0m0 3h0m1-3h0m0 0h0m1 3h0m0 2h0m0-11h0m0 3h0m0 4h0m0 4h0m0-10h0m1-1h0m0 4h0m0-3h0m0 9h0m1-11h0m0 0h0m1 4h0m0 2h0m0-2h0m1 0h0m0-1h0m1-3h0m1 6h0m0-2h0m1 6h0m1-8h0m0 2h0m0 6h0m0-8h0m0 6h0m1-1h0m1-3h0m1-2h0m0 1h0m0 3h0m0 1h0m0 3h0m1-1h0m1-9h0m0 12h0m0-5h0m0 3h0m2-3h0m0-3h0m1 6h0m0-1h0m0 2h0m0-11h0m1 1h0m0 5h0m0-3h0m1 6h0m0-8h0m0-1h0m0 0h0m1 7h0m0-4h0m0 1h0m0 5h0m1-5h0m1 0h0m1 8h0m1-5h0m0-5h0m0-1h0m2-1h0m1 11h0m0-6h0m2 3h0m0-1h0m0-2h0m1-3h0m0-2h0m7 11h0m0-1h0m1-8h0m1 9h0m5 1h0m10-5h0m3 4h0m4-10h0m56 4h0m1 1h0m1347 0h0m3-2h0m5 6h0m7-7h0m2 2h0m1 2h0m9-2h0m8 5h0m1 2h0m9-2h0m4-2h0m-1745 13h0m3-4h0m20-3h0m5 9h0m10-9h0m0 4h0m33-3h0m2 0h0m5 2h0m32 1h0m2 1h0m13 0h0m1-3h0m0 4h0m1 2h0m0-1h0m1 1h0m0-1h0m0-2h0m0-6h0m0 10h0m2 0h0m0 1h0m1 0h0m1-4h0m0 4h0m1-1h0m1-3h0m0-7h0m1 3h0m0 6h0m0-1h0m0-2h0m1-1h0m0-2h0m0 4h0m0 4h0m0-3h0m1 0h0m0 1h0m0 0h0m0-10h0m1 11h0m1-10h0m0 1h0m0 3h0m0 4h0m1 2h0m0-4h0m0 3h0m0-4h0m2 4h0m0-2h0m0 2h0m0-10h0m1 10h0m0 1h0m0-5h0m1 5h0m0-10h0m0 6h0m1-4h0m0 1h0m0-1h0m2 2h0m0-2h0m0 0h0m0 3h0m0-1h0m1 1h0m0-5h0m1 10h0m0-2h0m0-3h0m1 5h0m0-5h0m0 2h0m1-7h0m0 10h0m2-10h0m1 0h0m0 8h0m0 0h0m1-6h0m0 6h0m0-6h0m0 0h0m0-1h0m2 2h0m0-1h0m0-1h0m0 2h0m1-1h0m0 5h0m0-3h0m0 6h0m0-10h0m0 10h0m1-7h0m1 5h0m0-4h0m0-2h0m0-2h0m1 6h0m0-3h0m0-3h0m1 4h0m1 1h0m0-3h0m1-2h0m0 5h0m0 1h0m1-5h0m0-1h0m0 10h0m1-8h0m0 8h0m1-11h0m0 3h0m0 0h0m3 6h0m0 0h0m0-4h0m1-4h0m1 5h0m0 4h0m1-10h0m1 11h0m0-7h0m0-1h0m0 2h0m0 5h0m1-4h0m0-5h0m8 7h0m0-4h0m0-3h0m0 10h0m1-4h0m1 0h0m0-2h0m1 3h0m1 1h0m1-8h0m0 10h0m1-1h0m0-1h0m1 3h0m1-4h0m0 4h0m1-12h0m0 5h0m1-3h0m0 2h0m0 4h0m0 3h0m0-3h0m1 0h0m1 0h0m0-5h0m1 6h0m0-6h0m1 4h0m0 4h0m0-7h0m0 3h0m1 0h0m2 5h0m0-1h0m0-9h0m0 0h0m0 9h0m1-1h0m1-5h0m0-1h0m0 2h0m0-5h0m0 7h0m1-3h0m0-1h0m0 0h0m1 8h0m0-7h0m0 5h0m1-4h0m0-2h0m0 2h0m0-4h0m1-1h0m0 9h0m0-7h0m1 4h0m0 4h0m0-9h0m0 3h0m0-3h0m1 0h0m0 0h0m0 10h0m0-4h0m1-6h0m0 9h0m0-9h0m0 7h0m1-3h0m0 5h0m1-8h0m1-1h0m0 4h0m1-5h0m0 1h0m1 4h0m2-4h0m0 4h0m0 4h0m0-2h0m2-1h0m0-3h0m0-3h0m0 9h0m0 1h0m0-3h0m1-8h0m0 3h0m2 5h0m0 0h0m1-6h0m1 5h0m0-6h0m0 5h0m1-2h0m0 1h0m0 6h0m1 0h0m0 1h0m1-10h0m1 5h0m0-1h0m0 1h0m1 1h0m1 3h0m0-4h0m2-5h0m0 7h0m0-6h0m0 7h0m1-5h0m0 0h0m0-3h0m1 6h0m0 2h0m1-2h0m2 2h0m0-5h0m0-4h0m1 0h0m0 8h0m0 1h0m0-5h0m0 5h0m1-3h0m0-1h0m0-3h0m2 1h0m0 7h0m0-8h0m0 9h0m2-8h0m0 3h0m1-1h0m0 5h0m1-9h0m0 4h0m0 4h0m1-7h0m1 8h0m0-6h0m1 4h0m1-6h0m0 0h0m0 3h0m1-6h0m0 3h0m0 0h0m0 3h0m0 5h0m1-8h0m0 5h0m1-1h0m0 2h0m0 1h0m2-4h0m0 0h0m1 1h0m0 1h0m2-6h0m2 8h0m1-9h0m1 5h0m0 5h0m1-6h0m1 2h0m1 0h0m2 3h0m0 1h0m0-9h0m3 0h0m1 8h0m1-4h0m2 4h0m1 0h0m0 1h0m2-9h0m1 1h0m2 4h0m3-1h0m6 0h0m7-2h0m5-2h0m11 7h0m4-3h0m23 3h0m1197-4h0m148 3h0m5 1h0m2-8h0m4 4h0m2 5h0m5-8h0m6 0h0m1 2h0m3-4h0m1 11h0m7-5h0m1-1h0m0 1h0m2-3h0m2 7h0m1 2h0m5-2h0m15 0h0m5-3h0m3-6h0m-1751 20h0m5 2h0m8-5h0m27-5h0m5 3h0m9-2h0m15 7h0m29-3h0m9 0h0m13 1h0m5-2h0m0-2h0m1 4h0m1 3h0m0-5h0m0 0h0m0 7h0m0-10h0m3 10h0m0-12h0m1 4h0m0-3h0m1 7h0m0 3h0m1 1h0m1-4h0m1 1h0m0-3h0m0 2h0m1-5h0m0-3h0m0 1h0m0 1h0m0 1h0m1-2h0m0 3h0m1 3h0m0 2h0m1-3h0m0 2h0m0-3h0m1 0h0m0-1h0m1 2h0m1-1h0m0 2h0m1 0h0m1-3h0m0-3h0m0 11h0m2-9h0m0 6h0m0-1h0m1 3h0m0-2h0m1 3h0m0-1h0m0-9h0m0 6h0m2 2h0m1-8h0m0 8h0m0-5h0m0 5h0m1-3h0m0-3h0m0-4h0m0 4h0m1 1h0m0 4h0m0-5h0m0 4h0m0-1h0m1 0h0m0-2h0m0-2h0m0-1h0m0 9h0m0-7h0m0 5h0m1-7h0m1 10h0m0-10h0m0 1h0m1-1h0m0 2h0m1 7h0m0-2h0m0 1h0m0-9h0m1 11h0m0-5h0m1 2h0m0-1h0m1-7h0m3 9h0m0-4h0m1 3h0m0-5h0m0 2h0m2 2h0m1-5h0m2 7h0m0 0h0m0-10h0m0 12h0m0-3h0m0-3h0m1 5h0m1-11h0m1 4h0m1 7h0m0-1h0m0-7h0m1 8h0m0 1h0m2-1h0m2 1h0m1-10h0m1 4h0m0 0h0m0 5h0m1-3h0m0-3h0m1-4h0m0 5h0m1 4h0m1-1h0m0-8h0m1 5h0m0 5h0m0 0h0m0-10h0m0 2h0m1 6h0m1 3h0m0-2h0m1-2h0m0-6h0m0 5h0m0-4h0m1 8h0m0-11h0m0 6h0m1 5h0m0-11h0m1 1h0m0 8h0m0-9h0m1 9h0m0 1h0m1-4h0m0-4h0m0 1h0m1 4h0m1-2h0m0-2h0m0-3h0m1 11h0m0-5h0m0-5h0m0 1h0m0 8h0m1-9h0m0 3h0m1-1h0m0 1h0m0 0h0m0 8h0m2-10h0m0 4h0m2-3h0m0 2h0m0 1h0m0 1h0m0 5h0m1-12h0m0 12h0m0-4h0m1-3h0m0-2h0m0 2h0m0-2h0m1 5h0m2-6h0m2-1h0m0 7h0m1-2h0m0-1h0m0-4h0m1 6h0m0 4h0m0-5h0m1 2h0m0 4h0m0-6h0m0-4h0m1 4h0m0 1h0m1 4h0m0-10h0m0 7h0m0 3h0m2-6h0m0 6h0m0-1h0m0 0h0m2-4h0m0 6h0m1-1h0m0-10h0m0 2h0m1 3h0m0 3h0m0 2h0m0-3h0m0-2h0m1-5h0m1 2h0m0 1h0m1-1h0m1 2h0m0 1h0m0-2h0m0 5h0m0 2h0m1-8h0m0 2h0m1 2h0m0-2h0m0 4h0m0-5h0m2-3h0m0 3h0m1-4h0m0 0h0m0 1h0m1 10h0m2-9h0m1-1h0m0 10h0m0 0h0m1-8h0m0 4h0m1-3h0m0 6h0m0-5h0m1-3h0m0 7h0m0 1h0m1 1h0m1-6h0m0 6h0m0-3h0m0-5h0m0 5h0m1-5h0m0 5h0m1-6h0m0-2h0m0 6h0m1 3h0m0 0h0m0-3h0m0-4h0m0 8h0m0 0h0m1-8h0m1 8h0m0-5h0m1 2h0m0 3h0m1 1h0m1-5h0m0 4h0m0-2h0m1 0h0m0 3h0m0-3h0m1-5h0m0 0h0m1 7h0m0-7h0m0 4h0m1-1h0m1-4h0m0 2h0m0 0h0m1 0h0m0 3h0m0 3h0m0-7h0m1 5h0m0-5h0m1 3h0m0-5h0m2 3h0m0 6h0m0-8h0m1 9h0m0 0h0m0-10h0m1 6h0m2 3h0m0-1h0m1-3h0m1 0h0m1 6h0m0-8h0m0 6h0m1 0h0m0-7h0m0 8h0m2-8h0m1 1h0m0 4h0m1-7h0m4 6h0m1-6h0m1 4h0m1-5h0m2 3h0m9 6h0m4-6h0m40 8h0m1195-5h0m13-4h0m5 8h0m3-6h0m5 4h0m2 4h0m0-7h0m1 2h0m4 1h0m1-3h0m0 3h0m121 4h0m9-11h0m1 0h0m3 11h0m5-5h0m2 3h0m7-4h0m1 0h0m1-1h0m2 4h0m3-7h0m3 10h0m0-2h0m4-5h0m4-2h0m4 0h0m3 0h0m0-2h0m1 7h0m4 2h0m4-4h0m11 1h0m-1765 15h0m2-10h0m3 4h0m1 3h0m12-4h0m14 7h0m0 1h0m7-10h0m10 8h0m2 2h0m14-10h0m11 5h0m3-3h0m10 6h0m2-2h0m0 1h0m1-2h0m0 0h0m6 3h0m0 1h0m5-9h0m5 3h0m2 2h0m2 4h0m2-5h0m5-2h0m5 8h0m6-1h0m2-4h0m4 4h0m2-2h0m2-7h0m1 2h0m0 6h0m1-4h0m0 6h0m0 0h0m1-5h0m1-1h0m2-5h0m0 7h0m1-5h0m1 0h0m0 7h0m0 2h0m0-6h0m1 2h0m0-2h0m1 2h0m0-3h0m0 1h0m1 6h0m0-7h0m0 2h0m1-2h0m0 0h0m0 2h0m1 5h0m0 1h0m1-5h0m1 4h0m1-8h0m1 8h0m1-2h0m1 3h0m0-9h0m0-2h0m1 1h0m0-1h0m0 8h0m1-7h0m0 1h0m0 3h0m0-3h0m0 5h0m1 0h0m0-5h0m1 7h0m1-3h0m1-2h0m0 4h0m0 0h0m1 0h0m0-6h0m0-2h0m2 2h0m2-2h0m0 8h0m0-9h0m0 9h0m0 1h0m1-3h0m1-3h0m0-2h0m0 3h0m0 1h0m1-6h0m0 7h0m0-4h0m1 3h0m1 0h0m0-3h0m0-1h0m1 3h0m1 3h0m1-6h0m0 7h0m1-4h0m0-4h0m1 3h0m0 5h0m1-8h0m0 7h0m0 4h0m0-5h0m1 0h0m0 5h0m1-7h0m0-4h0m1 6h0m0 3h0m1-6h0m0 8h0m0-10h0m0 7h0m0 0h0m0-7h0m0 1h0m2 0h0m0 1h0m0 2h0m0 3h0m1 3h0m0-5h0m1 3h0m0 1h0m1-5h0m1-4h0m0 1h0m1 4h0m0 2h0m0-4h0m1-4h0m1 11h0m0 0h0m0-10h0m0 9h0m0-3h0m2-1h0m1 2h0m1-8h0m0 0h0m1 6h0m1 0h0m0-7h0m0 2h0m1 1h0m1 5h0m0-2h0m0-2h0m1 7h0m0-2h0m0 2h0m1-2h0m1 1h0m0-10h0m0 7h0m0 1h0m1-7h0m0 7h0m0 0h0m0 1h0m1-4h0m1 2h0m1 1h0m0 3h0m1-10h0m0 11h0m0-6h0m1-3h0m0-3h0m0 5h0m0 2h0m1 4h0m1-6h0m0-1h0m0 0h0m1 3h0m0 3h0m1 2h0m0-2h0m0-5h0m0 2h0m0 5h0m1-7h0m0 2h0m2-2h0m0-3h0m1 1h0m0 7h0m1 1h0m0-3h0m1-7h0m0 5h0m0 1h0m0 2h0m0-3h0m0 4h0m1-4h0m0 2h0m0 2h0m1-7h0m0 8h0m0-1h0m0-10h0m1 11h0m0-9h0m1 9h0m0-4h0m0-5h0m0 3h0m1-3h0m0 10h0m1-2h0m1-5h0m0 3h0m0-2h0m1-1h0m1 2h0m0-3h0m1 2h0m0-2h0m0 0h0m0 6h0m0-9h0m1 9h0m1-2h0m0-8h0m1 5h0m0 3h0m0-4h0m0 0h0m1 3h0m1 3h0m0-6h0m1 0h0m0 2h0m0 0h0m0-3h0m1 7h0m0-3h0m0-2h0m0 2h0m1 1h0m1 4h0m0-11h0m0-1h0m0 10h0m0-5h0m0-4h0m1 3h0m0 1h0m0 5h0m0 0h0m1-5h0m0 3h0m0-5h0m2 9h0m0-2h0m0-10h0m1 10h0m0-3h0m2 2h0m0-6h0m0 8h0m0 0h0m1-9h0m0 2h0m0 8h0m1-9h0m0 2h0m0 3h0m0-7h0m0 8h0m2-9h0m0 6h0m0 5h0m0 0h0m1-10h0m0 4h0m1 6h0m1-11h0m0 7h0m1-3h0m2 2h0m0-2h0m1 0h0m0 2h0m1 6h0m0 0h0m0-5h0m1-6h0m0 5h0m0-1h0m1-2h0m0 3h0m1 4h0m0-9h0m0 2h0m0 3h0m0-3h0m1 0h0m1 3h0m0 3h0m0 0h0m0-2h0m1 3h0m0-7h0m0 1h0m1-2h0m1 9h0m2-3h0m0-5h0m3 2h0m0-3h0m0 2h0m0 3h0m1 1h0m2-8h0m0 1h0m0 5h0m0-1h0m1-5h0m1 5h0m1-5h0m4 9h0m1-5h0m2-3h0m1 8h0m0-5h0m3-3h0m4 0h0m1 7h0m1-5h0m0 8h0m1-10h0m2 3h0m10 7h0m3 0h0m15-3h0m16-2h0m6 2h0m1202-5h0m7 4h0m1-7h0m1 0h0m1 4h0m8 3h0m118 1h0m2-1h0m3-3h0m0 1h0m5 3h0m1-1h0m0-3h0m3-2h0m1 9h0m2-4h0m2-4h0m2 8h0m1-9h0m1 10h0m1-6h0m0 1h0m8 5h0m4-6h0m4-5h0m1 8h0m0 3h0m2-12h0m2 6h0m1-4h0m2 3h0m8 5h0m19-8h0m1 4h0m1-6h0m0 8h0m1-5h0m0 2h0m1 4h0m-1751 7h0m8 2h0m12-1h0m13-3h0m0 4h0m7 0h0m4 5h0m1-7h0m0 2h0m5-6h0m2 5h0m2-1h0m1-4h0m5 3h0m7 5h0m2-8h0m7 11h0m9-5h0m11-5h0m2 5h0m0-4h0m2 4h0m2-4h0m1 10h0m1-6h0m0-1h0m3 7h0m3-7h0m4 5h0m5-6h0m0 2h0m1-3h0m0-1h0m0 5h0m4-5h0m1 7h0m2-6h0m4 1h0m0-4h0m2 3h0m1 9h0m1-10h0m1-1h0m0 3h0m1 5h0m0 2h0m0-6h0m1-2h0m0-3h0m1 0h0m0 4h0m1 5h0m0-4h0m0-3h0m1-1h0m0 7h0m0-1h0m1-1h0m0 1h0m1-1h0m0-5h0m0 8h0m0-6h0m1 3h0m1 0h0m1-3h0m1 3h0m1 0h0m0-3h0m0-2h0m0 8h0m0-3h0m1 5h0m0-2h0m0 0h0m1-8h0m0 1h0m1 1h0m0 7h0m0-3h0m0-1h0m0-1h0m1 0h0m0 4h0m0-7h0m1 8h0m0 0h0m0-1h0m1-8h0m0 1h0m0-1h0m0 10h0m0-3h0m1-6h0m0 0h0m0 1h0m1 8h0m1-2h0m0 2h0m0-9h0m0 5h0m1 0h0m1-2h0m0 5h0m1-8h0m1 5h0m0-2h0m0-1h0m0-3h0m1 6h0m0 3h0m0 0h0m0 1h0m1-3h0m0-5h0m0 8h0m0-8h0m0-3h0m0 10h0m1-1h0m0 2h0m0-6h0m0-5h0m0 1h0m0 5h0m1 2h0m0 3h0m1-7h0m1-2h0m0 0h0m1-2h0m2 9h0m0-1h0m0-1h0m0-1h0m0 0h0m1-2h0m0 2h0m1 4h0m0-1h0m0 3h0m1 0h0m0-10h0m0 3h0m1 5h0m0-4h0m0 2h0m0-7h0m1 10h0m0-3h0m0-8h0m0 2h0m2 2h0m1 4h0m0-7h0m1 8h0m0-7h0m0 2h0m1 0h0m0 4h0m0-7h0m1 5h0m0-4h0m0 7h0m0-4h0m0 7h0m0-5h0m0-4h0m1 5h0m0-2h0m0 3h0m0-1h0m0-3h0m0 1h0m0-1h0m1 0h0m0 2h0m0 3h0m0-6h0m1-4h0m0 1h0m1 11h0m0-7h0m0-3h0m0 1h0m0-2h0m0 1h0m0 4h0m0 2h0m0-1h0m0-3h0m0 2h0m1 6h0m0 0h0m0-1h0m1-2h0m0 0h0m1-8h0m0 7h0m1 2h0m0 0h0m1 0h0m1-10h0m0 11h0m0-8h0m1 9h0m1-7h0m0 3h0m0 2h0m0-1h0m0-7h0m1 8h0m0-7h0m1-1h0m0 0h0m0 3h0m0 4h0m1-1h0m0 0h0m0 3h0m0-1h0m1-8h0m0 0h0m1-2h0m0 0h0m0 5h0m0 0h0m0 5h0m0 0h0m1-10h0m0 0h0m0 2h0m1 3h0m0-1h0m0 8h0m1 0h0m0-5h0m1-4h0m1 2h0m0 3h0m1-5h0m0 5h0m0 3h0m0-2h0m1 0h0m0-4h0m0-2h0m1 7h0m0-9h0m0 7h0m1-6h0m1 4h0m1 5h0m0-3h0m1-3h0m1 3h0m0-4h0m1 1h0m1 3h0m1-5h0m0 0h0m0 7h0m0 1h0m0-6h0m1 2h0m0 3h0m0-8h0m0-1h0m0 4h0m1 3h0m0-7h0m0 0h0m1 1h0m0 5h0m1 5h0m0-4h0m0-2h0m1 3h0m1-1h0m1 1h0m0 0h0m1-8h0m0 1h0m0 2h0m1 5h0m0 0h0m1-4h0m1 5h0m0-1h0m0-9h0m0 5h0m1-3h0m0 2h0m1-3h0m0 8h0m0-9h0m0 6h0m0 2h0m1-6h0m0 3h0m1 1h0m0 5h0m0-7h0m1 2h0m0-1h0m0 1h0m0-3h0m1 0h0m0 4h0m1 0h0m0 3h0m0-3h0m1 1h0m1-6h0m0 5h0m0 2h0m0-6h0m1-1h0m0 1h0m1 1h0m0 1h0m0 7h0m0-11h0m0 5h0m0 3h0m1-5h0m0 6h0m0-9h0m0 3h0m0 3h0m0-5h0m1 3h0m0 5h0m1-4h0m1-5h0m2 6h0m1-4h0m0 5h0m1-4h0m0 2h0m0-6h0m1 4h0m0-3h0m0 8h0m1 2h0m1-6h0m0-2h0m0 1h0m1 5h0m1-5h0m0-3h0m1 7h0m0-6h0m2 4h0m0-4h0m0 6h0m0 4h0m2-1h0m1-4h0m1 3h0m0-10h0m0 10h0m1-10h0m0 8h0m3 2h0m0 1h0m1-5h0m0 3h0m1-4h0m2 2h0m2 5h0m0-1h0m1-7h0m2-3h0m1 2h0m0 0h0m11 7h0m4-1h0m14-6h0m4-2h0m6 3h0m3 0h0m24 2h0m1205-3h0m0 2h0m1 5h0m2-9h0m3 8h0m6-1h0m0 0h0m0-5h0m3 5h0m118-3h0m0-1h0m2 3h0m1 0h0m4 4h0m0-10h0m2 9h0m4-7h0m0 4h0m4-4h0m0 7h0m1-6h0m1 5h0m0 0h0m1-3h0m6 3h0m1-8h0m2 3h0m4 7h0m1-1h0m6-9h0m2-1h0m1 8h0m1-6h0m3 3h0m2 6h0m6-2h0m2-4h0m2 5h0m1-10h0m4 8h0m0-4h0m7 8h0m5-1h0m1 0h0m3-6h0m4 2h0m-1737 7h0m12 6h0m4 0h0m8-7h0m14 11h0m2-10h0m4 0h0m2 1h0m3 4h0m0-5h0m1 5h0m5 5h0m8-8h0m1 0h0m2 7h0m0-2h0m8-1h0m0-4h0m10 4h0m3 2h0m15-1h0m2-1h0m1 4h0m4-11h0m1 4h0m2 1h0m1-2h0m0-3h0m2 5h0m1-1h0m0-5h0m0 6h0m2-5h0m0 4h0m1 3h0m0-3h0m0 2h0m3-2h0m0 3h0m1-4h0m0-3h0m0 5h0m0 1h0m1-4h0m0 1h0m0 5h0m1-7h0m0 5h0m0-3h0m1 1h0m1-2h0m0 0h0m0 7h0m0 0h0m1-2h0m0-8h0m1 10h0m1 2h0m1-6h0m0 4h0m1 2h0m1-1h0m1 0h0m0-1h0m0-9h0m0 6h0m1 4h0m0-3h0m0 1h0m3-2h0m0-7h0m1 8h0m0-6h0m0-1h0m3 2h0m0-2h0m1 11h0m0-8h0m0 3h0m0-2h0m0 2h0m1 2h0m0-7h0m0 2h0m1 2h0m1 0h0m0-1h0m1-1h0m0 2h0m1 5h0m1-10h0m0 10h0m0-7h0m0 2h0m0 3h0m1 2h0m0 0h0m1-10h0m0 5h0m0-2h0m1 2h0m0-5h0m0 6h0m0-3h0m1 2h0m0-4h0m0 10h0m1-2h0m0-10h0m1 5h0m0 7h0m0-6h0m1 4h0m0-8h0m0 9h0m0-1h0m0-2h0m0-5h0m1 4h0m0-7h0m0 9h0m1-7h0m0 6h0m0-8h0m0 1h0m0 8h0m0 0h0m0 3h0m1-10h0m0 3h0m0 3h0m0 3h0m0-1h0m0-5h0m0 5h0m0 2h0m1-7h0m0 5h0m0-2h0m0-2h0m1-3h0m0 6h0m0-6h0m0 1h0m0-1h0m1 7h0m1 1h0m0 0h0m0-10h0m0 4h0m1-4h0m0 0h0m0 1h0m0 8h0m0-5h0m0 0h0m0 0h0m0 5h0m1-6h0m0-2h0m0 4h0m0 1h0m0-1h0m0 4h0m0-2h0m0 2h0m0 1h0m1-10h0m0 2h0m0 6h0m1-7h0m0 7h0m0-3h0m0 1h0m1-4h0m0 3h0m0 1h0m1-3h0m0 0h0m1-3h0m0 11h0m0-2h0m0-10h0m1 10h0m0-5h0m0 1h0m0-3h0m0-3h0m1 11h0m0-6h0m1 4h0m0-7h0m0 10h0m1-5h0m0-2h0m0 7h0m1-6h0m1 0h0m1 2h0m0 2h0m0-5h0m0-5h0m2 9h0m0-4h0m1-2h0m1 2h0m0 2h0m0-3h0m0 8h0m0-11h0m1 5h0m1-4h0m0 5h0m1 0h0m0-2h0m0-3h0m0-1h0m1 2h0m0 0h0m0 7h0m1-3h0m0 2h0m1-8h0m1 8h0m0-1h0m1 0h0m0 3h0m1-3h0m0-2h0m0 6h0m0-7h0m2-1h0m1 2h0m0-5h0m0 5h0m2-4h0m0 1h0m0 4h0m0-2h0m0-1h0m0-4h0m1 5h0m0-3h0m1 5h0m1 0h0m0 3h0m0-9h0m1 10h0m0-9h0m0 8h0m1 2h0m0-3h0m0-2h0m0-6h0m0 2h0m1 6h0m0-2h0m1 0h0m0 3h0m1 0h0m0 0h0m0 1h0m1-2h0m0-4h0m1-3h0m0 0h0m2 3h0m0-2h0m0 1h0m1 5h0m0-8h0m0 0h0m0 2h0m1 3h0m1-6h0m0 2h0m2 1h0m0 4h0m0 4h0m1-2h0m1-3h0m0 2h0m1-1h0m1 1h0m1-6h0m1 2h0m2 7h0m0-4h0m0 3h0m3-6h0m1 0h0m0-3h0m2 9h0m1-9h0m0 5h0m1 2h0m1-3h0m2 2h0m1-2h0m2-4h0m0 9h0m1-10h0m4 1h0m6 0h0m0 1h0m20 1h0m9 7h0m17-8h0m1356-1h0m2-1h0m3 2h0m11 1h0m1 0h0m3 0h0m7-2h0m13 1h0m8 2h0m3-1h0m7-2h0m3 1h0m2 0h0m0 1h0m13-3h0m15 3h0m-1679 14h0m1-3h0m1 2h0m4-3h0m5 0h0m3 6h0m2 3h0m2-9h0m2 2h0m3-1h0m1 1h0m1-1h0m1 7h0m1 0h0m0-1h0m0 0h0m1-7h0m0 4h0m1 0h0m1 0h0m1-2h0m0 4h0m0 3h0m2-2h0m0-3h0m0 3h0m0-7h0m0 8h0m2-2h0m2-4h0m2 1h0m0 7h0m1-4h0m0 0h0m2-3h0m0 3h0m1-3h0m3 4h0m2 2h0m2 1h0m1-7h0m0 7h0m0-2h0m1 0h0m0-4h0m1 1h0m0 0h0m0-4h0m1 7h0m1-8h0m3 6h0m1 2h0m0-9h0m1 6h0m0-2h0m0 0h0m0 6h0m1 2h0m2-11h0m0 8h0m3 2h0m0-11h0m1 6h0m1-1h0m0 7h0m0-2h0m1-8h0m0 0h0m1-1h0m0 7h0m1-6h0m0 4h0m1 5h0m0 0h0m1-9h0m0 9h0m0-1h0m1-3h0m1 0h0m0 0h0m1 4h0m1-9h0m0-1h0m1 1h0m0 6h0m1-6h0m0 5h0m0-7h0m0 2h0m1 8h0m0 0h0m0-2h0m0 1h0m1-2h0m0-5h0m1-1h0m0 1h0m2 8h0m0 1h0m0-2h0m0 2h0m1-9h0m0 2h0m1 3h0m0-1h0m0 0h0m0-4h0m1 1h0m0 0h0m0-1h0m1 3h0m1 5h0m0-5h0m0-4h0m0 10h0m0-4h0m0-3h0m1 3h0m0-4h0m0 0h0m0 9h0m1-4h0m0-2h0m0 3h0m0 0h0m0-1h0m1 4h0m0-2h0m0-9h0m0 3h0m0-2h0m1 8h0m0 1h0m0 1h0m1-10h0m0 0h0m0 10h0m0-4h0m1 3h0m0-2h0m0-6h0m0 6h0m0-1h0m0 2h0m1-5h0m0-2h0m0 3h0m0 0h0m1 0h0m0 1h0m0-5h0m0 9h0m0 0h0m0-5h0m1 6h0m0-2h0m0-3h0m0-3h0m0 4h0m1-2h0m0 5h0m1-5h0m0 2h0m0 4h0m0-9h0m1-2h0m0 1h0m0 0h0m0 2h0m0 4h0m1-4h0m0 4h0m0-7h0m1 3h0m0 2h0m0 1h0m0 2h0m0-5h0m1 0h0m0-2h0m0 8h0m0-7h0m1 1h0m0 4h0m0 3h0m0-9h0m0 8h0m1-3h0m0-2h0m1-2h0m1 2h0m0 1h0m1-3h0m0 1h0m0 1h0m1 2h0m0-5h0m0 7h0m0-1h0m0-4h0m0-4h0m0 10h0m1-2h0m1 0h0m0-6h0m0 6h0m1-1h0m1 1h0m0 1h0m0 1h0m0 2h0m0-5h0m0 0h0m0-5h0m1 5h0m0-4h0m1-3h0m0 1h0m1 2h0m0 4h0m0 1h0m0-4h0m0-4h0m1 8h0m1 1h0m1-8h0m0 2h0m1 0h0m0 5h0m0-3h0m1 1h0m0 2h0m0-1h0m0-5h0m2 1h0m0 8h0m1-1h0m1-6h0m0-4h0m0 7h0m0 2h0m0 3h0m1-6h0m0-2h0m0 5h0m1 2h0m0-4h0m1-4h0m0-2h0m1 4h0m1 7h0m0-9h0m1-1h0m0 5h0m0-6h0m1 4h0m0 1h0m1 3h0m0 1h0m0-5h0m1-2h0m0 8h0m1-3h0m1 1h0m0-5h0m0-3h0m1 10h0m0-7h0m0-1h0m0 3h0m0 1h0m1-1h0m0 4h0m1-5h0m0 0h0m0 2h0m1 4h0m2-5h0m0-2h0m0 3h0m1-4h0m1-3h0m0 11h0m3-1h0m1-8h0m0 1h0m1 2h0m0-5h0m1 0h0m1 0h0m1 9h0m0-4h0m0-3h0m1 5h0m1-2h0m0 1h0m1-4h0m2-1h0m2 4h0m1-4h0m15 7h0m7 2h0m1-8h0m-147 10h0m0 2h0m1-2h0m0 2h0m1 0h0m3 2h0m0-3h0m2 2h0m2-2h0m3 4h0m1-1h0m2-1h0m0 0h0m0-2h0m5 6h0m0-2h0m2-1h0m0 1h0m1-3h0m0-1h0m3 3h0m1-2h0m1 1h0m0 2h0m1 0h0m0 2h0m0-6h0m1 0h0m0 1h0m2 8h0m1 0h0m1-3h0m0-1h0m1 1h0m0-4h0m0 3h0m0 2h0m1-4h0m0 5h0m1-8h0m0 2h0m0 3h0m2-5h0m1 8h0m1-1h0m0-1h0m1-1h0m1 2h0m1-3h0m0 2h0m0-6h0m1 3h0m0-3h0m0 7h0m1 1h0m0-7h0m2 7h0m0-1h0m0 1h0m1-4h0m1 4h0m0-1h0m0-7h0m0 3h0m0-3h0m1 2h0m0 3h0m0 4h0m0-1h0m1-6h0m1 1h0m0-3h0m0 9h0m0-3h0m0 3h0m1-9h0m0 8h0m0-7h0m0-2h0m0 5h0m0-5h0m1 5h0m0 3h0m1-6h0m0 3h0m0 0h0m0 1h0m0 3h0m1-8h0m0 1h0m0 6h0m1 1h0m0-5h0m0-3h0m0 7h0m0 0h0m1-6h0m0-1h0m0 4h0m0 0h0m0 2h0m0-4h0m1 3h0m0 0h0m0 0h0m0-2h0m0-1h0m0 6h0m0-2h0m0-6h0m0 0h0m1 0h0m0 7h0m0-1h0m0 2h0m0-1h0m0-4h0m1 5h0m0-6h0m0 3h0m0-3h0m0 0h0m0 1h0m0 4h0m1 2h0m0-3h0m1-6h0m0 8h0m0-6h0m0 3h0m1-2h0m0 3h0m0-2h0m0-4h0m0 7h0m1-6h0m0 7h0m0-6h0m0 6h0m0-2h0m0-4h0m0 1h0m1 5h0m0-4h0m0 3h0m1-4h0m0 3h0m0-6h0m0-1h0m0 2h0m1 0h0m0 6h0m0-1h0m0-6h0m0 5h0m0 0h0m0-5h0m0 9h0m1-7h0m0 7h0m0-5h0m0 0h0m0 2h0m1-4h0m0-3h0m0 7h0m0-4h0m0 7h0m1-4h0m0 0h0m0-5h0m1 0h0m1 5h0m0 0h0m1-4h0m0 4h0m0 1h0m0 0h0m0-1h0m0 3h0m1-7h0m0 5h0m0-1h0m1-6h0m0 6h0m0 0h0m0 3h0m1-1h0m0-4h0m0 5h0m1-6h0m1-1h0m0-1h0m1 5h0m0 4h0m0-1h0m1-1h0m0-2h0m2-2h0m1 4h0m0-4h0m0 1h0m0 1h0m1-3h0m0 4h0m1-6h0m0 2h0m0-3h0m0 1h0m1 2h0m1-3h0m1 2h0m2-1h0m2 4h0m5 0h0m0-4h0m1-1h0m1 1h0m0 2h0m1 2h0m4-1h0m3 2h0m2 0h0m1207-3h0m0 3h0m1-5h0m1 6h0m3-1h0m1-5h0m0 1h0m3 4h0m3 0h0m0 1h0m0-1h0m0-5h0m3 2h0m0 0h0m1 0h0m0 2h0m0 1h0m2 0h0m2-3h0m0 1h0m2-2h0m1 0h0m3 1h0m1 1h0m3 4h0m1-3h0m1 2h0m0-3h0m1 2h0m3-5h0m0 6h0m1-4h0m5 3h0m4-4h0m0 4h0m0-2h0m1 2h0m0-5h0m0 0h0m5 7h0m1-2h0m3-1h0m2-2h0m1 4h0m2-1h0m2-1h0m8 5h0m2-4h0m0-2h0m4 2h0m1-3h0m4 4h0m2 3h0m1-2h0m1 1h0m1-5h0m7-1h0m2 3h0m4-1h0m6 0h0m5 2h0m0 1h0m11-3h0m10 3h0m0 2h0m5-2h0m3-3h0m3 0h0m1 3h0m0-3h0m1 4h0m1-4h0m1 2h0m5-1h0m1-3h0m3 6h0m1-7h0m1 6h0m2-6h0m3 7h0m4 2h0m5-4h0m0 1h0m2-5h0m-55 9h0" stroke="#000" stroke-width="6.0" stroke-linecap="round" fill="none"/>
<path transform="scale(.5)" d="M680 630h0m1056 1544h0" stroke="#000" stroke-width="6.0" stroke-linecap="round" fill="none"/>
<path transform="scale(.5)" d="M718 125h0m0 0h0m9 0h0m0 0h0m5 1h0m6-1h0m0 0h0m12 1h0m3 0h0m0 0h0m20-1h0m0 0h0m3 0h0m0 1h0m2 0h0m10 2h0m0 0h0m8-2h0m0 0h0m9 4h0m6-5h0m0 0h0m12 0h0m0 0h0m8-2h0m0 0h0m5 1h0m0 4h0m12-4h0m0 1h0m1 0h0m3 0h0m3 3h0m1-4h0m0 0h0m8 3h0m6-3h0m0 0h0m0 4h0m0-3h0m8-1h0m0 0h0m17 1h0m0 0h0m17 0h0m0 0h0m11 0h0m0 0h0m-212 18h0m17 0h0m16-5h0m7 5h0m5-2h0m94-1h0m6 2h0m-138 7h0m28-1h0m5 5h0m0 1h0m9 0h0m8-1h0m75-3h0m5 0h0m0-5h0m0 5h0m0 5h0m-97 7h0m12-4h0m13 2h0m0 3h0m0-3h0m-13 10h0m25 3h0m0 0h0m289 4h0m-346 13h0m57-10h0m3 6h0m15-3h0m0 1h0m2 6h0m28-10h0m28 10h0m0 0h0m0 0h0m-146 10h0m38-3h0m35-2h0m0 15h0m-70 8h0m30 4h0m5-3h0m0 1h0m123 3h0m168-2h0m-304 10h0m0 8h0m179-9h0m-161 21h0m17-3h0m113-5h0m190 6h0m-365 10h0m10-3h0m4 4h0m1 2h0m0-1h0m144-2h0m28 5h0m24 23h0m-184 8h0m11 3h0m51 2h0m5-10h0m171 10h0m-227 12h0m99 6h0m99 0h0m-228 8h0m24 0h0m0 0h0m289 0h0m-242 10h0m303 4h0m-317 14h0m59 4h0m7-8h0m41 0h0m0 6h0m60-8h0m-212 18h0m314 0h0m-332 6h0m2 0h0m11 7h0m62 2h0m90-1h0m5 2h0m17-9h0m32 7h0m-223 8h0m0 0h0m164 0h0m-125 12h0m18 1h0m159-2h0m-157 11h0m-35 10h0m121 6h0m-93 17h0m35-5h0m5 2h0m-28 5h0m0 0h0m-37 21h0m101 1h0m-118 11h0m3 1h0m94-4h0m-105 8h0m15 6h0m0 0h0m0 0h0m50 0h0m73-1h0m83 4h0m-122 1h0m-81 20h0m10 1h0m27-1h0m12 3h0m-60 6h0m11-1h0m99 5h0m1172-5h0m-1284 12h0m25 4h0m5-9h0m0 0h0m34 10h0m8-1h0m13 2h0m-60 12h0m-15 12h0m285-1h0m1030 2h0m-1307 4h0m9 7h0m16-9h0m18-1h0m35 10h0m27-6h0m31-3h0m8 1h0m1135 2h0m24 1h0m-1293 13h0m2 3h0m13 1h0m1336 1h0m-1322 9h0m15 3h0m59-7h0m-138 18h0m2-5h0m0-2h0m-2 14h0m28-6h0m0 0h0m69 3h0m-95 14h0m-4 14h0m24-3h0m31-4h0m23 6h0m50 14h0m-117 7h0m83 0h0m-84 18h0m1529 2h0m-1430 7h0m155-3h0m-242 17h0m48-1h0m9-5h0m1198 9h0m97-11h0m-1375 21h0m15-8h0m77 0h0m9 1h0m-84 22h0m124 9h0m1158-4h0m56 2h0m-1299 5h0m24 10h0m20-2h0m-85 10h0m10 2h0m27 2h0m1217-5h0m17 3h0m-49 7h0m-1224 27h0m1284-3h0m104 1h0m109 2h0m69-5h0m138 3h0m-1700 17h0m1230-1h0m29-4h0m56-3h0m130 5h0m77-5h0m-1494 12h0m127 10h0m1088-8h0m24 8h0m-1269 6h0m1215-1h0m38 4h0m13 3h0m2 0h0m15-10h0m-1202 16h0m1178-5h0m70 1h0m170-1h0m-1491 20h0m27-7h0m0 7h0m259-8h0m928 11h0m15-3h0m14-3h0m1 0h0m1 6h0m29 1h0m3-10h0m12 0h0m214 2h0m17 1h0m-308 13h0m2-5h0m13 10h0m10-9h0m28 9h0m4-5h0m6 1h0m13 1h0m49-4h0m27 7h0m2-7h0m-154 11h0m17 3h0m2 5h0m6-5h0m3 5h0m3-1h0m1-1h0m2 0h0m1 1h0m10-8h0m1 4h0m13 1h0m34 3h0m9-1h0m35 1h0m-138 14h0m4-11h0m2 11h0m6-8h0m2-2h0m4 4h0m4-1h0m3-3h0m3 5h0m6-6h0m3 10h0m0 0h0m2-4h0m5-2h0m2 1h0m8-1h0m36 2h0m10-6h0m3-1h0m130 9h0m36-5h0m-281 20h0m21-10h0m3 0h0m5 2h0m2-3h0m2 4h0m0-4h0m1 5h0m3-3h0m1 7h0m0 0h0m0-10h0m3 3h0m0 3h0m1-3h0m6-2h0m4 4h0m14 3h0m0-3h0m0-5h0m13 9h0m17-7h0m185-1h0m-292 12h0m18 3h0m18 7h0m6-2h0m0 1h0m0-2h0m1 1h0m0-3h0m1-4h0m2 1h0m0 3h0m17-3h0m1 4h0m7-7h0m5 5h0m1-1h0m21 4h0m-81 11h0m22-3h0m1 4h0m4-7h0m1 0h0m0-1h0m1 4h0m2 4h0m2 1h0m5-4h0m8-4h0m2 8h0m7-8h0m34 7h0m80 4h0m-194 7h0m55 0h0m4 5h0m1-7h0m4 0h0m1 5h0m2 2h0m5-5h0m4-6h0m38 7h0m7 1h0m-79 12h0m6-1h0m0 3h0m7 0h0m7-11h0m1 7h0m1-2h0m0 2h0m2-2h0m1-1h0m7 2h0m1-4h0m2-1h0m1 2h0m0 1h0m112 3h0m-143 7h0m4 1h0m1 2h0m6 0h0m3-1h0m1 0h0m7-4h0m28 11h0m44-6h0m-138 11h0m112 3h0m86-3h0m-1142 339h0m1364 0h0m-1243 43h0m-271 31h0m46 0h0m22 0h0m-186 42h0m113 7h0m20 0h0m-31 15h0m57 0h0m20 0h0m-127 21h0m48 0h0m69 1h0m10 0h0m65 0h0m-147 13h0m13 8h0m-136 11h0m144-6h0m69 3h0m-394 10h0m101 5h0m198-3h0m-335 10h0m111-1h0m329 11h0m-467 8h0m142-6h0m17 6h0m24-6h0m206 0h0m1382 7h0m-1754 13h0m206 2h0m9-4h0m-121 14h0m20-4h0m44-2h0m126-3h0m163 7h0m-500 16h0m151-5h0m48 4h0m23-11h0m24 2h0m87 9h0m31-5h0m-316 6h0m65 11h0m64-7h0m5 5h0m21 3h0m0-9h0m7 8h0m11-10h0m54 10h0m151-2h0m-243 4h0m15 3h0m1 6h0m19 2h0m5-1h0m413-9h0m-601 11h0m115 3h0m81 8h0m95-12h0m-195 15h0m16 7h0m18-2h0m1-7h0m41 2h0m0-2h0m25 3h0m81-1h0m65-1h0m62 4h0m182-1h0m1298 7h0m-1776 2h0m6 6h0m9 1h0m5 0h0m1 0h0m3-7h0m2 4h0m3 0h0m8 5h0m1-5h0m14 6h0m56-10h0m38 1h0m4 8h0m88-10h0m317 9h0m-623 6h0m91 6h0m18-1h0m9 0h0m1 2h0m4-4h0m3-4h0m1 2h0m2-3h0m36 0h0m11 10h0m5-4h0m11-2h0m45 2h0m41-2h0m62-5h0m-264 21h0m5-4h0m1-4h0m0 4h0m8-2h0m3 4h0m2 0h0m0-5h0m8 3h0m2 2h0m0-1h0m0 3h0m0-8h0m1 10h0m1-5h0m1 4h0m16-9h0m24 7h0m2 1h0m10 0h0m0 1h0m1516-1h0m76-6h0m-1666 8h0m6 2h0m3 4h0m1 2h0m10-2h0m3 5h0m2-2h0m1 2h0m7-9h0m0 7h0m1-1h0m2-8h0m13 9h0m0-8h0m8 9h0m1 1h0m23-6h0m23 4h0m32-2h0m75-5h0m-212 10h0m10 7h0m1-4h0m2 6h0m5-2h0m2-7h0m2 2h0m1 7h0m3 0h0m2-3h0m0-6h0m2 4h0m1 8h0m2-9h0m4 7h0m5-10h0m6 1h0m10 6h0m0-3h0m68-3h0m-147 14h0m8 6h0m26-9h0m6 12h0m4-4h0m3-1h0m4-1h0m1-1h0m8 2h0m31 1h0m1-4h0m87-1h0m-158 12h0m7 9h0m0-1h0m20-9h0m9-1h0m5 1h0m30 2h0m3 3h0m13 2h0m118-8h0m-220 12h0m26 5h0m4-3h0m41-1h0m71 5h0m-152 9h0m45 5h0m5-4h0m15 0h0m18-1h0m23 2h0m36-4h0m-136 15h0m20 5h0m8-4h0m3-6h0m3 7h0m24-4h0m4-2h0m-44 21h0m39-6h0m24 6h0m21 2h0m30-7h0m14 4h0m-124 13h0m10-8h0m47 4h0m1495 5h0m155-7h0m18 6h0m-1754 14h0m17-5h0m31 2h0m26-8h0m106 5h0m-174 8h0m25 9h0m23-6h0m1-2h0m176 4h0m1428 2h0m235-3h0m-1864 10h0m9 4h0m7-2h0m2-2h0m13 5h0m29 0h0m120 2h0m-193 8h0m38-2h0m121 3h0m1389-7h0m11 0h0m-1532 16h0m226 0h0m-255 10h0m99 5h0m163-5h0m1300 7h0m-1539 6h0m5 1h0m6 0h0m53 0h0m1457 7h0m64-5h0m-1615 10h0m17 1h0m37-4h0m1724 1h0m-1766 15h0m17 2h0m3-1h0m130-6h0m1505 5h0m-1682 14h0m48-6h0m1495 8h0m128-1h0m-34 13h0m94-2h0m32-1h0m-1746 8h0m1460 8h0m64-5h0m65 5h0m-1596 12h0m105-6h0m73 1h0m1353 12h0m41-1h0m41 7h0m29-11h0m-1629 19h0m1485 2h0m138-4h0m-1635 15h0m31-6h0m5 5h0m38-3h0m126 0h0m1287-4h0m180 5h0m-193 9h0m80 9h0m53 5h0m-151 17h0m23 0h0m153 0h0m80-6h0m119 7h0m-370 8h0m19-6h0m396 2h0m-1856 15h0m27-6h0m1361 3h0m47 1h0m9-2h0m2 10h0m6-6h0m162-1h0m77 4h0m-1698 12h0m1418-1h0m35 2h0m5-6h0m-106 11h0m106-1h0m207 6h0m25-2h0m64 3h0m-292 11h0m2-6h0m201 0h0m-220 22h0m4-11h0m2 10h0m7-9h0m1 6h0m0-2h0m5 0h0m2-1h0m1 0h0m92-2h0m-116 15h0m2 0h0m5 5h0m6-10h0m6 1h0m0 9h0m77-2h0m173-7h0m-269 20h0m3 1h0m2 1h0m1-6h0m3 3h0m1-2h0m3-5h0m5 9h0m3-7h0m1-4h0m1 2h0m-76 18h0m58 0h0m1 0h0m0-2h0m6-4h0m0 2h0m3 2h0m4 3h0m3 1h0m1-7h0m-34 11h0m12 4h0m2 5h0m0-9h0m5 3h0m2-2h0m0 4h0m1-4h0m0 9h0m6-3h0m3 2h0m3 0h0m22-4h0m96 3h0m-142 11h0m1 2h0m1-5h0m1-2h0m0 4h0m1-5h0m5-2h0m0 10h0m6-3h0m0-3h0m0-3h0m1 0h0m0 8h0m0-9h0m0 11h0m3-10h0m2 3h0m0 3h0m3-3h0m0-2h0m86 6h0m-109 4h0m1 3h0m5-2h0m4 8h0m3 1h0m0-6h0m2 7h0m3-1h0m2-3h0m0 0h0m2-3h0m1 7h0m140-7h0m58 3h0m-218 10h0m1-3h0m4 9h0m1-8h0m2 4h0m6-6h0m0 2h0m1 2h0m1-1h0m2-3h0m1 9h0m249-4h0m27-3h0m-369 15h0m85 3h0m1-1h0m1-1h0m2-1h0m0-3h0m-14 12h0m14 0h0m74 13h0m53 4h0m-109 7h0m78 5h0" stroke="#e41a1c" stroke-width="5.8" stroke-linecap="round" fill="none"/>
<path transform="scale(.5)" d="M1544 125h0m57 16h0m19 84h0m-68 35h0m69 59h0m-8 21h0m30 73h0m-13 11h0m-40 17h0m-59 35h0m-68 16h0m-1280 39h0m1472 3h0m23 8h0m-139 20h0m59-3h0m-17 14h0m63-9h0m-74 18h0m40 0h0m33 12h0m-71 17h0m62-6h0m68-4h0m-143 14h0m82 21h0m-108 8h0m31 3h0m83-7h0m13 2h0m-155 15h0m40-8h0m39 7h0m19 4h0m24-1h0m-31 7h0m47-4h0m31-1h0m6 11h0m8-8h0m-141 18h0m35 2h0m26-10h0m15 2h0m28 8h0m17-5h0m5 3h0m-1467 5h0m1349-1h0m11 4h0m33-2h0m11-4h0m22 9h0m3-1h0m38 3h0m4-4h0m3 1h0m7-2h0m9 6h0m1-10h0m-82 14h0m2 3h0m29 2h0m11 2h0m5-8h0m0 2h0m15 0h0m4 2h0m-118 7h0m6 7h0m65 1h0m13-6h0m10 5h0m5-7h0m1 1h0m1 9h0m10-2h0m3-4h0m32-6h0m-1573 17h0m1451-4h0m10-1h0m44 11h0m9-4h0m21 4h0m0-5h0m3 1h0m18 4h0m3-4h0m1-6h0m1 11h0m0-1h0m13-10h0m5 4h0m-79 12h0m4 2h0m8 1h0m5-7h0m15 7h0m3-6h0m5 7h0m4-7h0m4 1h0m9 3h0m0 6h0m5-2h0m2 1h0m3-7h0m1 1h0m7 6h0m-91 7h0m1 4h0m8-2h0m2 0h0m19-4h0m2-3h0m2 4h0m2-2h0m7 2h0m1 2h0m9 0h0m2 3h0m1-4h0m11-3h0m-50 15h0m1-1h0m0 6h0m2-6h0m0 2h0m10 2h0m0-7h0m0 5h0m3 1h0m6-1h0m6 1h0m1-3h0m8-2h0m1 0h0m5 1h0m0 3h0m3 3h0m1-3h0m1-3h0m5 4h0m4 2h0m1-9h0m-74 16h0m7-3h0m3 5h0m2 1h0m1 1h0m2-6h0m0 1h0m2 1h0m0 4h0m1-1h0m5-4h0m2 5h0m5-2h0m1-6h0m2 0h0m0 1h0m3 4h0m0 1h0m3 1h0m20-3h0m3 0h0m1-2h0m7 6h0m8-7h0m0 5h0m5 2h0m-68 8h0m1 2h0m2 4h0m5-10h0m1 11h0m1-1h0m3-8h0m2-2h0m1 4h0m0-1h0m0 6h0m9-9h0m6 5h0m2-3h0m2-2h0m5 2h0m2 4h0m1-5h0m4 5h0m1 3h0m3-8h0m1 8h0m2 1h0m0-6h0m-61 12h0m6 0h0m1-2h0m2 9h0m8-3h0m6-1h0m1-3h0m2 7h0m1-1h0m0-1h0m1-6h0m1 7h0m1-9h0m7 8h0m4 2h0m12-10h0m8-2h0m2 1h0m5 2h0m4 9h0m3-3h0m-85 11h0m11 4h0m18-7h0m4 7h0m1-3h0m5-5h0m6-2h0m0 1h0m2 8h0m2-4h0m4 2h0m1-8h0m6 3h0m5 1h0m0 7h0m9-7h0m3 3h0m7-8h0m1 10h0m-67 2h0m2 1h0m5 9h0m5-10h0m2 5h0m5 5h0m8-4h0m4-6h0m2 7h0m2-5h0m2 8h0m1-3h0m4 3h0m2-7h0m8 8h0m1-6h0m1-2h0m1 0h0m0 4h0m12-6h0m0 3h0m-89 11h0m17 7h0m9-5h0m7 5h0m3 1h0m9-7h0m1-3h0m2 2h0m3 8h0m0 0h0m0-3h0m3-4h0m2 5h0m0-3h0m0-2h0m1-3h0m2 1h0m0 0h0m11 9h0m2-9h0m0 10h0m1-7h0m9 2h0m3-4h0m-86 15h0m14-3h0m4 6h0m9-4h0m3 3h0m2 2h0m3 2h0m6-7h0m1 5h0m0-9h0m1 10h0m1-7h0m3 4h0m1-7h0m2 1h0m2 0h0m3 6h0m1 1h0m1 1h0m0-3h0m1-3h0m1-3h0m2 8h0m2-5h0m1 7h0m1-8h0m2 4h0m4 3h0m0-2h0m2 3h0m2-8h0m-61 19h0m0-7h0m0 8h0m8-8h0m12 2h0m3-3h0m2 1h0m0 3h0m0-6h0m1 2h0m2 1h0m2 2h0m0-5h0m6 6h0m3 5h0m0 0h0m2-8h0m1-1h0m1 5h0m1-1h0m2-2h0m2 0h0m5-3h0m-63 12h0m5 0h0m20 8h0m5-9h0m2 1h0m2 4h0m3 1h0m0 0h0m4-2h0m10 4h0m4-5h0m1 2h0m1 0h0m3 6h0m1-2h0m2 1h0m4 1h0m-57 9h0m1-3h0m9 2h0m6-4h0m4 4h0m0 0h0m1-1h0m16-1h0m7-1h0m1 0h0m0 2h0m6-1h0m10 0h0m-54 9h0m3 9h0m17-3h0m18-7h0m18 5h0m-41 15h0m2 2h0m1-9h0m0 3h0m12-3h0m7 7h0m-40 4h0m36 16h0m3 6h0m3-9h0m5 1h0m2-3h0m-35 13h0m8-1h0m9 2h0m-1535 522h0m150 72h0m-116 13h0m99 38h0m11 0h0m-44 35h0m53 5h0m-42 9h0m35 9h0m-13 9h0m-91 8h0m97 7h0m18 13h0m-34 2h0m12 10h0m-13 7h0m26 1h0m9 4h0m-40 5h0m24 3h0m1 7h0m6 3h0m-10 19h0m17-7h0m57-4h0m-128 13h0m18 5h0m15-6h0m55 4h0m16 10h0m-56 18h0m8 3h0m44-5h0m-63 20h0m-15 19h0m21 2h0m14 0h0m5-7h0m0-4h0m-10 13h0m-12 18h0m-6 8h0m1-2h0m32 0h0m3 7h0m-25 22h0m1 5h0m1 3h0m2 21h0m-2 8h0m21 4h0m-41 6h0m41-5h0m-23 20h0m24-6h0m-36 43h0m8-2h0m4 15h0m26 1h0m1-9h0m1416 153h0m24 9h0m-106 28h0m21-7h0m67 5h0m-239 9h0m9 1h0m1-6h0m115 6h0m0 0h0m14 2h0m17-10h0m14 8h0m14 4h0m30-3h0m4 1h0m5 2h0m-41 1h0m23-1h0m0 0h0m23 0h0" stroke="#4daf4a" stroke-width="5.8" stroke-linecap="round" fill="none"/>
<path d="M376.6 63.2L331.8 47.3M389.1 63.2L359.9 48.0M387.9 62.6L376.2 48.0M394.2 63.8L388.2 48.0M405.5 62.6L403.5 48.0M415.5 61.3L418.5 49.0M424.3 62.6L432.9 49.0M423.8 62.0L445.5 47.8M428.0 62.0L462.7 47.7M435.0 62.0L482.1 47.7M369.0 62.6L320.5 54.5M375.0 63.0L345.6 55.0M386.6 62.6L369.4 56.9M388.0 63.0L383.0 59.7M398.0 63.0L396.6 59.3M411.7 62.6L411.7 59.3M439.0 62.0L435.1 59.7M426.0 62.5L455.3 54.2M461.4 62.3L493.7 57.2M455.8 62.3L464.7 62.8M447.6 62.3L476.1 63.5M363.4 62.6L308.5 63.1M359.0 62.6L331.8 62.6M366.0 63.0L354.3 63.3M372.0 69.0L379.1 69.3M364.0 71.4L323.0 72.4M355.3 71.4L342.4 71.8M359.0 74.5L306.0 77.9M375.3 71.4L333.6 77.5M375.3 76.4L356.6 78.5M384.1 76.4L373.2 78.8M402.3 65.1L402.8 74.0M418.0 64.0L421.1 66.3M432.0 63.5L442.3 66.9M435.0 64.0L471.7 72.6M435.0 62.5L487.2 72.9M425.0 70.0L437.4 75.2M428.0 71.0L455.4 76.9M427.5 63.8L480.0 81.1M375.3 77.0L320.5 86.3M375.3 80.8L343.4 86.3M381.6 78.9L371.4 86.2M387.9 80.2L384.0 87.4M418.0 90.2L418.0 91.4M423.8 75.0L438.7 84.9M423.8 72.6L457.9 86.2M377.8 70.7L313.6 94.6M380.0 77.0L331.1 94.2M365.3 95.2L355.9 97.3M431.9 95.2L450.1 97.1M423.8 75.0L470.5 95.8M372.8 73.9L320.0 103.1M359.0 100.2L344.8 102.7M377.8 98.3L374.1 100.3M387.9 81.4L385.8 100.8M394.2 86.4L403.1 103.7M403.0 91.4L419.2 102.1M431.9 95.2L435.7 97.8M423.8 77.6L463.7 103.5M360.3 109.0L332.6 113.5M375.3 110.9L359.4 113.6M387.9 80.2L394.7 111.9M394.2 86.4L414.0 110.9M404.2 95.2L429.4 115.4M431.9 95.2L446.8 108.1M421.3 75.0L464.0 114.1M381.6 85.2L319.3 119.7M371.6 115.3L347.2 121.4M371.6 119.7L369.1 120.6M377.8 109.6L379.5 115.9M395.4 97.7L400.4 122.3M395.4 93.0L415.2 124.1M445.7 121.6L448.1 123.4M461.0 115.0L472.4 123.2M357.8 129.7L333.6 131.7M365.3 131.0L353.4 133.5M377.8 110.0L374.6 131.6M380.4 125.3L387.8 132.0M394.2 90.0L407.6 134.5M403.0 92.0L428.4 133.8M451.4 132.2L455.2 133.8M365.3 130.5L346.6 140.1M371.6 147.3L367.2 146.6M389.1 124.0L390.2 140.7M395.4 105.0L416.6 141.7M437.6 129.7L445.0 142.4M463.3 143.5L469.1 144.2M490.3 149.8L493.3 147.8M364.8 130.0L329.5 145.8M362.8 128.0L346.0 149.3M377.2 149.2L372.4 151.2M377.2 156.0L382.1 155.4M402.3 149.8L404.8 154.3M426.3 159.2L427.3 158.6M439.4 111.5L458.7 151.0M475.8 159.2L484.0 158.3M362.2 163.0L355.6 162.7M374.1 163.0L377.3 164.6M404.8 144.8L415.5 164.0M443.8 175.1L444.6 169.1M474.0 174.0L476.1 172.0M518.5 163.0L516.8 164.8M538.6 88.3L536.5 90.8M523.3 110.3L520.3 113.1M540.5 124.7L538.6 126.6M549.2 169.9L546.8 172.4M374.1 163.0L337.4 170.2M360.0 186.0L350.6 180.0M368.0 183.0L365.8 179.4M397.3 168.0L403.6 172.9M444.0 178.0L446.2 176.7M390.4 177.0L390.8 178.8M359.0 186.0L343.3 185.3M365.3 189.7L370.0 188.0M396.7 190.3L405.1 189.6M419.9 178.8L422.3 180.6M441.3 189.8L442.3 187.4M452.4 186.3L454.5 185.6M524.8 183.2L522.2 185.6M468.3 189.8L470.0 191.3M357.1 193.8L352.7 193.9M376.6 200.1L375.9 198.2M385.4 200.7L388.3 199.1M439.1 194.1L436.0 197.1M444.0 191.0L447.3 195.1M465.2 199.5L467.1 201.3M357.1 193.8L347.7 200.1M369.1 210.1L365.1 207.3M386.6 205.1L382.8 205.0M400.4 218.9L408.9 208.5M429.4 212.9L437.2 211.8M363.4 239.6L350.5 219.2M382.9 221.7L379.5 218.9M389.1 222.7L392.8 217.7M402.9 220.2L406.7 219.1M365.3 244.6L338.9 228.6M362.0 239.0L358.2 227.7M370.3 233.0L372.2 231.7M389.1 222.7L391.7 224.3M421.1 233.3L425.9 229.8M365.3 244.6L352.3 236.9M365.3 244.6L367.7 243.0M391.7 257.8L410.5 237.0M390.4 244.6L393.1 241.5M410.5 237.7L424.1 238.3M357.8 241.5L354.6 241.7M426.8 244.0L430.8 246.5M468.3 245.9L466.5 247.5M367.2 256.6L341.2 252.4M367.2 260.3L361.3 254.6M372.2 257.2L374.1 254.6M385.4 256.6L390.6 253.3M375.3 264.1L403.0 258.7M361.5 261.0L350.4 260.3M375.3 264.1L378.8 263.9M416.7 262.8L425.8 264.2M360.3 266.6L343.4 268.8M372.8 268.5L368.7 269.6M396.7 268.5L405.8 268.1M382.2 282.9L382.2 278.8M392.3 269.1L396.1 273.2M402.9 269.7L410.4 274.2M437.4 282.9L438.8 281.7M508.2 280.8L510.6 278.8M372.8 275.4L341.8 279.5M365.3 281.4L356.6 281.5M369.7 284.2L323.9 284.2M391.0 282.3L390.8 284.6M374.1 287.3L344.2 289.6M374.7 291.7L370.2 291.6M408.6 287.7L407.5 290.2M421.8 284.4L423.2 286.4M441.3 283.5L444.8 286.0M357.8 303.0L325.9 299.6M357.8 302.0L355.4 301.3M375.3 293.0L371.2 297.1M382.2 293.6L384.8 300.6M389.1 298.6L395.7 301.4M396.7 299.8L411.4 301.6M426.2 296.7L427.8 297.4M357.1 305.5L339.1 306.2M371.0 306.1L369.8 307.4M405.5 307.4L408.9 309.9M340.0 315.0L338.3 315.2M357.1 308.8L352.6 311.6M383.5 318.2L390.1 317.1M355.9 321.3L342.1 325.5M357.8 314.4L361.8 322.7M371.0 306.0L376.0 320.4M394.8 321.1L400.7 323.3M419.9 328.2L422.8 327.0M361.5 331.3L355.6 333.6M367.8 319.8L376.3 330.1M403.0 331.3L404.6 333.3M360.9 340.5L359.6 342.0M367.2 352.0L370.1 349.6M395.4 348.9L393.4 347.0M410.5 345.2L418.3 343.4M401.4 354.3L406.4 352.6M487.8 343.3L490.6 341.0M355.3 358.7L351.8 360.3M362.8 354.3L364.3 356.4M391.0 351.7L389.5 353.0M406.1 355.2L406.9 356.8M426.2 370.5L429.6 368.0M383.5 372.1L385.7 369.9M405.7 375.9L408.8 373.4M363.8 366.2L361.6 369.1M368.1 381.8L369.5 381.2M362.8 380.9L360.9 381.2M395.4 377.1L395.1 380.6M381.6 383.0L379.7 385.0M362.2 398.9L360.1 396.9M364.0 406.4L362.8 406.6M377.8 408.5L379.8 407.1M441.6 413.5L439.6 415.2M362.8 416.4L360.7 418.6M380.4 426.5L377.6 423.8M403.6 422.7L401.6 424.6M367.2 429.8L365.9 431.2M380.7 429.8L381.0 431.2M510.1 426.2L512.8 423.8M90.8 257.6L107.4 236.2M90.8 257.6L91.4 243.7M90.8 257.6L77.3 246.5M90.8 257.6L60.0 248.3M90.8 257.6L101.7 252.1M90.8 257.6L90.4 256.3M90.8 257.6L73.5 255.1M90.8 257.6L117.2 257.6M90.8 257.6L70.8 262.4M90.8 257.6L109.4 263.7M90.8 257.6L83.5 267.0M90.8 257.6L60.4 271.9M90.8 257.6L100.1 273.1M90.8 257.6L74.8 277.9M90.8 257.6L112.5 281.8M91.5 265.4L90.3 282.8M90.8 257.6L78.5 291.8M102.9 343.4L105.4 341.1M68.1 362.3L65.4 365.1M771.8 62.4L774.6 59.3M800.6 70.5L799.0 72.3M809.8 112.6L807.5 114.9M776.1 130.1L778.4 127.8M810.5 159.4L812.2 158.0M806.3 170.2L804.0 172.3M821.7 206.7L825.7 203.1M815.2 212.0L811.6 205.5M794.8 220.5L791.6 211.0M731.7 246.0L728.8 244.1M765.7 238.1L766.1 236.2M1002.3 260.3L1004.5 258.3M1009.2 284.6L1007.8 283.3M1022.8 281.8L1024.2 280.5M1020.9 284.8L1018.1 287.6M1050.1 293.8L1047.8 295.8M1042.8 348.0L1053.8 343.8M1125.6 341.3L1127.9 339.0M1110.5 398.9L1111.7 395.2M1145.0 396.6L1147.8 393.1M1125.2 402.4L1128.6 399.6M1086.6 404.8L1101.8 404.7M1112.3 420.2L1144.8 416.7M1118.5 427.8L1116.2 427.9M1127.0 428.5L1146.1 427.2M1107.0 445.9L1128.7 446.1M1107.0 450.3L1109.7 450.5M1088.9 448.5L1115.9 457.6M1214.2 398.0L1212.4 399.6M823.4 320.2L809.6 218.9M830.2 321.2L827.9 217.6M811.7 337.8L772.9 218.7M784.9 291.2L755.7 225.5M798.9 279.5L783.8 228.3M817.2 302.4L802.7 228.3M827.7 266.8L825.8 228.3M839.1 271.2L841.3 227.4M769.4 281.2L745.6 237.3M804.8 291.0L789.3 237.0M821.6 297.0L814.5 237.9M835.4 363.0L840.3 240.1M786.0 305.3L757.5 246.1M825.0 374.2L797.7 247.2M821.9 282.1L818.3 247.8M835.5 367.0L838.7 249.9M790.4 286.3L777.0 253.2M807.7 350.1L756.1 256.2M820.7 318.0L809.7 258.4M815.8 346.6L787.2 262.0M801.5 329.8L767.5 265.7M834.2 369.9L831.7 265.7M793.3 360.3L727.1 270.3M808.6 351.5L745.3 268.1M822.9 352.3L800.7 270.3M779.7 307.4L762.2 275.8M805.2 342.0L782.3 275.8M825.7 341.8L817.2 275.2M834.1 339.5L840.7 274.7M799.5 343.9L746.0 277.7M766.3 322.1L734.3 286.7M782.2 323.3L753.1 286.2M816.8 359.0L773.8 285.6M817.7 346.1L796.0 285.6M821.5 331.2L814.6 287.6M831.0 355.0L832.1 283.7M752.5 328.7L721.6 295.0M783.2 344.8L742.8 296.1M791.8 327.9L768.7 295.5M773.7 341.0L731.6 304.7M772.6 324.6L756.6 305.5M797.9 333.1L787.5 303.4M813.7 329.3L806.4 303.4M784.6 358.3L724.7 316.6M777.5 342.8L744.1 315.3M790.9 341.9L773.0 314.3M804.2 337.1L792.6 311.9M831.3 374.5L819.4 314.3M781.7 355.0L724.5 324.6M810.2 375.1L746.5 326.0M798.6 360.2L761.4 322.5M820.5 365.3L804.0 323.3M825.1 363.7L819.2 325.4M814.0 384.9L740.5 333.4M816.6 387.8L761.5 333.4M810.7 376.8L779.5 330.2M828.0 373.5L807.6 333.9M821.8 390.3L724.2 340.3M819.0 386.6L747.7 343.5M818.5 380.8L774.7 342.4M823.0 388.6L809.2 344.9M839.1 393.5L824.2 351.0M817.8 368.4L722.4 348.8M814.3 375.9L737.2 351.0M817.1 388.4L758.4 353.6M820.0 369.4L778.5 350.6M824.9 379.0L795.0 353.6M824.8 382.5L811.3 361.6M819.1 383.4L726.9 360.4M810.6 386.3L750.5 361.7M822.4 396.0L772.3 359.5M825.8 400.0L722.9 367.8M815.3 375.8L741.0 368.8M819.2 388.6L768.2 369.9M818.8 380.3L799.6 375.5M838.0 391.3L820.6 371.7M818.2 386.2L721.6 377.4M817.9 385.6L756.2 377.7M825.9 392.5L781.7 377.9M814.3 398.5L736.5 383.4M817.8 392.6L753.9 386.1M826.2 372.5L767.2 384.3M825.5 390.4L795.5 384.9M822.0 386.0L722.4 389.4M815.4 387.7L737.2 393.9M819.5 388.1L784.2 393.6M826.1 395.1L804.2 392.2M819.9 380.3L767.9 395.9M818.7 393.3L810.2 396.4M822.8 395.4L726.8 403.3M823.0 400.6L753.4 404.4M818.1 397.5L777.0 403.8M823.9 404.5L796.4 405.8M820.2 381.6L734.9 410.9M824.6 391.6L754.0 412.3M819.0 401.8L793.6 413.1M828.6 387.7L810.5 407.9M809.3 405.8L721.0 421.0M819.5 395.5L739.8 420.6M817.5 398.5L762.5 421.3M819.5 408.6L724.3 429.4M824.6 408.2L748.1 431.7M821.8 412.8L815.5 424.9M825.6 419.3L775.5 431.9M824.2 418.9L802.3 433.6M815.2 407.8L733.7 440.6M818.3 408.1L759.8 439.1M825.5 410.3L777.3 442.4M836.0 409.1L830.6 441.6M807.6 415.3L722.0 447.4M815.9 419.1L727.1 454.2M820.5 416.7L743.4 449.3M813.8 431.2L760.5 451.2M824.3 425.9L790.1 450.6M807.1 422.8L721.1 462.0M811.5 432.3L737.1 463.2M813.9 421.3L750.5 457.5M814.1 431.3L773.4 459.6M821.9 424.0L797.1 460.6M835.9 421.9L825.9 459.4M816.0 424.7L733.5 472.0M818.1 427.6L755.1 466.9M828.0 420.7L784.0 470.0M827.6 434.8L816.0 470.0M835.7 423.6L830.4 470.0M840.7 426.5L844.7 475.1M809.1 432.4L724.0 482.2M814.0 427.3L748.8 480.1M823.0 425.2L767.9 475.1M824.1 428.4L799.1 475.7M824.1 432.1L815.5 479.4M839.5 436.5L834.1 485.1M837.6 424.5L858.9 485.7M817.5 445.0L739.0 491.4M814.7 440.6L759.3 488.2M820.4 422.7L779.5 484.5M822.1 439.6L800.1 488.9M840.5 437.0L817.6 491.4M814.1 441.9L729.0 498.0M824.9 432.4L746.8 498.0M816.2 456.3L773.9 496.8M819.1 449.3L790.6 498.9M821.3 436.3L805.1 500.2M836.3 440.0L832.7 500.8M839.0 425.7L848.9 497.0M819.2 441.4L755.5 508.1M825.1 454.5L772.1 504.8M827.3 447.8L789.4 508.1M835.7 429.4L819.4 508.6M839.7 440.5L846.0 508.6M836.6 440.8L859.6 508.9M837.0 330.6L851.1 217.9M836.3 375.7L860.9 234.6M838.6 350.4L858.9 247.6M848.3 343.1L878.0 248.6M854.8 360.7L903.3 248.6M839.8 335.9L850.3 258.6M843.5 344.8L871.1 257.1M846.1 365.7L892.0 258.6M846.3 369.0L910.2 265.2M850.9 300.6L857.7 265.9M842.2 367.7L880.9 269.3M840.2 386.4L867.6 275.6M847.6 378.7L896.3 275.0M833.2 380.4L915.2 280.6M843.9 332.2L853.3 283.5M840.0 381.7L871.1 283.1M840.0 380.0L884.4 284.0M848.0 347.9L898.9 285.9M833.5 393.1L860.6 292.9M848.5 365.4L881.2 293.8M836.3 341.2L843.4 293.8M857.6 362.6L904.9 296.3M852.1 368.5L921.6 297.3M838.2 370.5L854.4 303.8M847.3 363.6L870.9 302.8M836.8 363.6L891.0 305.1M854.5 354.2L913.9 311.0M836.4 402.5L933.2 310.5M848.4 365.8L873.7 313.2M841.8 381.4L902.1 319.5M855.4 371.7L930.7 318.9M835.9 406.5L883.3 323.9M847.2 383.0L918.0 328.3M848.1 360.6L886.3 332.7M849.9 371.4L933.2 332.9M839.3 390.9L872.7 333.2M837.4 379.4L853.2 341.0M841.7 393.6L882.5 343.5M841.9 395.0L908.1 342.0M843.7 373.6L922.2 342.4M844.9 392.4L897.3 351.6M842.0 385.4L914.0 353.3M845.8 409.5L936.9 353.3M839.9 367.2L860.0 352.3M846.5 371.9L874.0 355.4M849.3 387.3L890.3 362.9M844.2 395.1L906.0 363.5M851.5 368.0L925.8 359.8M848.8 371.0L946.0 361.2M838.2 374.8L861.1 363.3M839.3 403.8L876.5 370.8M852.1 407.1L913.8 372.1M844.9 382.1L938.5 369.1M841.5 386.6L852.7 374.6M844.9 396.1L880.6 377.6M845.3 388.5L898.2 375.4M849.3 384.9L925.2 374.9M842.3 380.1L864.3 380.7M844.8 395.6L893.8 385.9M852.0 388.3L912.0 383.6M851.7 402.1L938.0 383.7M837.2 415.2L876.9 395.8M850.4 401.8L906.0 395.4M848.2 406.0L926.6 392.5M844.3 413.4L877.0 404.9M848.4 397.7L891.9 402.1M841.6 382.8L917.9 402.8M841.2 397.0L934.0 402.2M840.6 409.5L862.4 411.1M843.4 391.2L896.0 409.1M852.2 410.2L914.0 414.0M842.1 407.9L876.0 414.5M852.0 400.5L931.4 414.4M846.4 404.5L887.3 421.9M848.7 417.7L902.3 422.3M852.0 408.7L926.1 422.5M850.2 415.3L911.7 429.9M839.7 413.2L877.0 429.7M843.4 415.2L859.8 427.0M845.9 396.7L892.9 433.0M839.6 421.6L868.6 437.7M838.7 422.2L902.9 439.9M844.9 410.6L927.0 438.8M837.9 427.8L857.2 445.8M842.6 424.1L882.6 447.1M844.2 416.6L900.3 446.5M843.5 419.8L916.6 447.7M845.6 409.6L891.9 455.2M842.4 437.5L863.2 455.2M989.6 431.5L967.2 345.4M994.3 446.4L978.1 331.4M983.2 462.4L981.9 352.0M979.1 405.8L973.0 364.2M987.7 451.5L979.8 376.7M980.7 437.3L962.4 380.2M983.3 446.6L982.1 385.5M974.1 432.6L966.3 395.2M970.6 416.0L959.9 403.7M981.3 430.1L976.4 405.0M972.8 434.9L959.6 413.5M978.7 445.8L957.6 427.3M972.8 439.4L971.8 431.9M974.3 444.4L957.7 435.7M986.3 447.3L975.4 444.2M972.5 450.0L957.5 449.3M966.3 455.9L963.4 456.4M994.5 353.4L994.5 313.1M973.8 385.5L967.3 322.6M990.8 449.7L992.6 323.3M998.7 382.0L1010.2 319.8M985.0 451.5L1035.2 319.2M990.1 380.4L987.2 340.1M997.4 413.6L1002.5 336.7M1004.0 397.5L1024.2 328.8M1004.8 368.7L1017.6 337.4M1032.8 369.5L1048.2 333.3M989.1 428.5L1003.9 345.8M992.7 457.3L1035.2 341.7M995.5 439.1L1020.5 350.9M985.6 432.9L1007.3 359.9M985.3 409.6L986.2 364.3M1004.3 414.7L1036.4 359.3M1001.4 435.1L1056.6 359.1M985.5 440.8L1029.4 368.1M996.2 441.1L1071.9 367.2M1021.5 402.5L1046.4 371.0M993.4 404.0L1000.4 379.4M991.8 447.6L1020.1 378.1M1002.7 441.6L1038.3 379.8M999.6 446.5L1066.0 376.9M1056.0 398.1L1083.2 381.0M997.2 419.3L1007.7 388.8M990.1 442.3L1053.3 386.9M981.2 479.4L1039.9 392.3M989.3 472.8L1088.9 390.0M989.4 418.0L988.4 396.1M1027.7 420.6L1071.4 392.8M995.9 419.6L1004.8 400.7M1005.3 426.8L1020.7 400.7M1003.8 432.0L1055.0 399.5M983.2 457.2L1083.6 402.8M992.4 420.1L995.5 408.9M982.0 459.8L1021.3 409.5M986.9 443.7L1036.0 405.1M987.0 470.4L1069.0 409.5M981.3 441.0L1047.9 414.9M1035.4 433.9L1084.2 413.6M974.1 431.5L964.8 412.6M988.4 428.7L988.3 418.7M1011.3 427.1L1018.7 418.3M1010.9 436.1L1034.6 418.0M1049.8 434.0L1106.5 416.9M1024.2 442.4L1092.7 420.7M985.3 454.8L1003.3 422.0M992.3 462.5L1051.9 404.0M1004.3 435.3L1012.0 430.7M983.1 452.7L1036.9 428.7M981.7 447.2L1058.2 425.1M1049.0 437.4L1079.8 430.9M979.5 445.0L987.6 436.3M999.7 437.3L1001.0 437.2M1019.3 443.2L1031.3 438.0M1022.3 444.4L1053.9 436.3M1017.3 447.4L1088.4 439.6M985.4 450.2L986.1 447.9M999.6 450.2L1037.5 445.1M999.5 452.3L1055.5 444.7M1024.1 444.2L1074.8 444.2M995.3 446.9L1011.8 447.5M1014.3 450.8L1056.1 451.6M982.7 458.8L994.9 456.5M1009.9 460.1L1016.8 458.3M986.8 451.7L1077.7 457.1M999.3 454.1L1034.7 463.6M998.8 458.7L1055.1 461.7M986.0 466.7L1090.0 463.0M984.9 444.9L952.8 465.4M983.4 452.8L971.1 465.0M996.8 462.4L1008.8 468.7M993.1 471.5L1066.1 469.8M999.7 457.9L1045.1 472.8M980.7 464.0L1084.6 473.4M969.5 465.6L959.5 476.3M986.9 453.0L998.0 476.9M1017.5 472.5L1028.0 477.3M957.2 471.4L945.7 483.8M981.9 460.5L969.9 484.4M981.9 461.1L988.7 486.7M988.5 442.8L1002.9 486.3M993.5 466.6L1019.2 487.6M983.2 450.6L1040.5 487.5M1013.8 466.0L1057.8 482.9M1051.9 477.3L1075.5 483.7M1005.8 454.4L1093.0 483.4M984.1 459.0L957.7 493.2M983.3 462.7L973.0 496.3M988.8 470.6L995.7 499.2M1005.5 485.3L1013.9 496.3M981.0 466.0L1030.6 497.0M1027.6 482.6L1048.6 497.0M996.5 456.1L1067.1 497.0M1014.1 472.1L1081.4 500.3M982.0 450.6L944.0 498.2M988.4 477.5L957.1 500.5M958.3 487.8L945.8 508.6M981.1 478.1L970.7 508.9M990.7 473.9L989.1 508.0M990.9 449.3L1006.9 508.0M1014.7 489.6L1024.5 505.8M986.7 473.9L1039.4 507.0M989.0 442.5L1062.8 507.0M1057.6 487.9L1088.7 507.0M989.2 477.5L1128.8 410.8M984.3 479.7L1127.5 424.0M983.7 462.2L1129.2 435.1M1041.6 442.8L1110.6 441.3M989.6 444.3L1095.5 462.0M988.6 464.5L1113.2 472.4M1053.9 467.9L1099.0 483.0M842.5 425.0L880.6 456.6M844.5 421.4L909.7 460.9M837.2 413.0L881.1 465.3M838.8 437.6L858.5 468.6M842.7 419.6L899.0 471.3M844.5 440.5L873.4 478.6M846.0 411.7L893.0 482.6M841.8 404.6L911.6 481.3M843.7 425.7L878.8 489.3M845.5 446.8L898.2 493.6M840.7 423.5L918.1 490.6M961.0 456.3L939.8 459.2M969.8 457.8L955.3 458.2M978.9 461.5L936.6 473.4M985.3 454.9L971.3 457.5M975.4 449.8L968.6 445.4M63.8 729.9L65.4 728.2M81.2 772.5L78.8 775.0M139.1 766.2L137.1 768.1M130.3 791.3L128.4 789.7M136.0 791.3L138.4 791.4M114.0 809.2L114.8 807.3M140.4 811.4L138.5 809.8M119.3 816.1L117.4 815.8M137.2 820.7L142.3 819.4M85.2 829.0L82.9 827.0M125.3 840.0L117.9 834.5M133.5 832.4L137.5 831.7M142.3 839.0L156.2 837.7M131.4 844.9L130.2 843.1M125.2 848.6L114.5 847.4M138.2 848.9L142.9 847.5M122.7 853.6L104.1 855.2M134.5 854.8L119.2 855.7M142.5 851.1L154.8 854.3M135.1 858.3L113.5 863.2M141.3 866.0L136.7 865.5M138.0 860.0L139.8 860.1M150.0 872.0L153.6 870.7M170.0 864.0L175.8 863.8M156.0 885.0L159.1 886.2M105.9 870.7L98.2 872.3M122.7 870.0L115.7 875.0M133.2 869.5L137.4 870.9M115.2 873.2L99.8 881.9M132.0 906.3L127.1 883.7M130.1 885.9L142.8 883.3M124.5 895.2L120.4 893.2M133.8 887.7L135.2 889.6M127.6 905.7L121.5 902.7M137.0 902.0L146.5 900.8M117.1 904.5L104.4 903.8M125.8 915.6L122.1 912.8M134.5 905.5L138.5 906.8M137.0 900.0L158.9 907.2M123.3 918.7L108.1 916.2M139.4 918.7L143.4 919.0M123.0 919.5L117.4 921.7M128.3 933.0L128.9 929.0M141.0 922.0L147.2 929.6M128.9 935.5L117.8 934.2M129.5 937.0L131.8 938.7M130.7 947.3L125.0 946.3M140.0 953.5L142.9 953.0M119.3 956.6L115.0 955.6M129.5 951.6L129.8 954.1M140.0 954.0L154.6 959.2M128.3 964.0L124.9 964.8M140.7 961.0L142.1 962.3M126.4 981.3L130.0 978.9M122.6 982.4L119.6 983.3M128.3 989.0L127.3 991.1M142.1 984.9L144.6 985.4M141.3 989.7L143.4 991.8M486.4 657.6L489.1 655.4M546.8 679.2L544.4 682.1M411.4 694.4L408.3 694.8M434.3 694.4L432.2 694.4M445.3 694.4L446.6 694.4M403.5 726.5L398.3 720.2M409.1 719.0L410.0 717.2M418.8 719.0L421.5 717.5M432.1 726.5L427.2 725.8M401.2 744.1L398.4 735.5M436.8 737.4L435.2 736.0M442.1 737.4L445.7 737.4M402.6 737.1L404.3 737.8M474.4 737.4L472.2 739.3M446.2 752.1L448.4 750.2M411.4 750.6L416.9 750.5M407.3 748.0L413.3 755.2M411.8 768.8L422.7 770.7M451.1 767.9L449.1 770.2M449.7 783.8L451.9 783.5M517.3 798.8L519.5 796.9M419.7 812.9L423.7 811.2M388.5 810.8L390.4 812.2M390.6 816.5L407.8 817.1M407.3 822.6L418.0 826.1M382.6 897.3L401.6 894.7M402.1 914.4L404.8 912.7M405.6 919.3L407.4 921.1M510.6 812.6L512.6 811.0M549.0 820.9L550.9 819.0M369.1 980.5L373.0 980.4M300.9 797.8L347.1 702.0M299.3 759.4L296.4 712.3M309.0 768.9L335.8 710.8M352.5 715.5L353.0 713.3M300.9 793.6L318.4 720.8M288.6 769.2L279.5 722.5M304.6 797.7L339.6 722.0M282.2 820.5L261.9 724.2M297.0 771.8L299.0 727.6M289.8 831.8L318.8 730.1M298.8 791.5L306.8 734.8M310.4 786.2L334.5 735.1M284.7 818.9L265.0 734.2M288.0 793.9L281.3 733.3M291.0 798.5L292.7 741.4M272.8 785.0L254.8 743.4M283.2 827.0L271.4 744.6M298.9 803.2L316.3 746.1M339.7 753.4L341.8 745.8M279.1 820.3L232.2 744.5M249.0 757.2L246.7 753.0M274.9 789.6L267.2 754.3M286.6 762.6L285.6 756.8M304.8 782.1L301.8 757.4M310.2 792.3L327.5 756.8M308.5 804.0L353.4 749.6M322.5 787.1L350.7 760.2M282.3 830.2L251.5 762.7M290.6 796.3L294.9 766.8M286.1 819.0L270.1 771.2M217.7 772.0L215.2 769.4M281.3 820.7L236.0 770.6M290.2 821.7L313.6 772.5M310.8 803.6L336.8 771.2M300.4 823.3L350.4 771.9M274.6 806.0L252.5 776.5M284.0 831.9L209.1 783.4M288.9 831.2L269.2 781.6M282.9 783.2L284.0 780.0M299.4 828.9L344.9 780.6M290.4 818.9L300.0 785.7M274.5 820.0L238.7 785.7M303.1 810.4L314.3 789.0M255.8 797.6L253.8 791.6M283.5 817.0L270.3 794.1M282.2 814.2L286.0 792.9M337.0 797.5L342.1 792.8M300.8 824.4L321.9 799.5M278.1 830.9L240.3 802.3M264.9 811.4L258.9 802.6M299.1 825.4L342.4 806.7M283.5 834.8L243.3 811.4M273.1 814.8L271.0 812.0M290.1 828.9L302.0 810.1M278.3 829.1L227.1 812.6M290.4 834.0L209.1 814.2M289.9 831.7L283.3 818.3M325.7 816.9L330.0 816.0M344.5 817.3L349.2 816.2M285.2 829.5L259.3 819.9M333.7 777.8L376.6 712.7M303.0 811.4L362.7 723.2M297.5 821.9L351.4 733.0M378.5 737.1L380.2 732.0M315.4 811.8L365.0 739.6M297.1 827.6L379.6 749.3M315.2 809.9L371.0 758.5M296.7 826.3L385.6 766.0M368.1 780.5L370.9 777.2M296.8 834.8L395.4 777.2M366.2 791.4L369.3 788.4M381.3 788.8L384.9 787.7M362.6 804.0L413.1 783.5M356.1 811.6L402.1 793.3M412.6 796.4L419.2 797.2M325.3 827.8L382.2 798.7M290.0 833.1L194.8 822.4M320.2 822.9L358.4 806.6M327.9 826.1L376.9 806.7M346.7 821.3L400.4 807.4M311.5 832.5L365.8 814.8M386.2 835.1L391.9 835.0M317.5 833.7L364.6 835.9M332.6 838.6L394.2 842.4M343.0 840.5L380.4 845.4M358.9 847.3L360.7 847.3M382.5 852.5L384.3 852.8M309.2 841.8L402.4 855.8M320.8 836.4L361.9 856.8M309.6 839.6L376.9 863.5M315.4 847.8L389.6 863.6M305.1 838.6L357.6 867.4M308.8 843.6L382.1 873.3M343.5 861.7L388.9 881.9M314.9 850.2L359.3 876.9M315.3 854.2L370.8 886.4M356.9 890.8L360.0 896.0M317.1 855.6L384.9 899.5M343.5 880.6L348.4 885.4M371.8 905.5L372.3 906.6M320.3 867.1L350.7 904.5M355.0 910.2L358.1 914.0M336.5 878.4L378.8 916.8M308.8 866.0L354.4 923.9M299.6 849.5L365.8 933.1M352.1 936.4L352.5 938.0M300.6 852.8L359.3 945.4M278.5 830.9L219.6 823.3M291.1 831.6L292.1 830.8M302.2 823.2L308.2 824.4M312.3 833.2L346.8 826.3M282.6 810.3L262.5 824.5M271.7 817.2L245.9 826.5M285.6 841.6L211.0 832.8M269.5 847.7L229.5 834.0M305.1 834.7L335.4 834.2M284.8 836.9L207.9 841.0M275.4 833.2L224.8 840.5M287.5 859.5L245.1 842.9M290.6 836.8L259.3 839.6M286.6 844.5L275.4 845.4M303.9 840.4L320.9 842.6M308.8 838.8L338.6 846.3M267.5 865.9L218.5 855.2M285.6 837.8L238.0 849.6M273.3 850.4L255.3 850.3M291.8 839.4L270.4 851.8M293.5 839.3L305.6 850.6M291.4 833.3L323.7 851.2M292.8 849.3L296.5 858.1M285.3 860.8L220.0 864.9M280.1 853.5L243.9 857.5M286.0 870.0L262.9 866.4M291.6 844.6L281.8 860.0M338.6 864.8L342.1 865.8M270.5 872.7L245.1 869.7M307.8 858.9L308.8 868.4M283.6 857.5L280.6 869.4M283.5 858.0L219.8 873.4M295.7 845.8L325.7 870.0M287.3 873.6L235.8 878.3M279.4 881.1L260.2 879.2M284.8 843.4L269.6 872.9M323.4 856.5L342.9 876.9M292.9 838.3L312.5 878.8M289.9 840.2L290.3 879.4M280.3 874.9L217.7 884.2M267.2 893.8L245.2 889.6M272.3 858.7L263.2 885.9M293.3 852.8L296.3 887.9M281.4 887.2L210.4 895.6M275.6 891.6L227.8 895.0M290.9 892.3L255.3 895.8M299.3 871.6L302.5 896.3M298.4 845.0L328.9 892.6M281.9 901.9L237.6 902.9M275.5 909.6L258.4 906.6M269.9 894.9L268.9 902.4M295.0 841.8L331.6 904.3M289.0 914.4L219.1 910.4M290.1 903.0L288.1 907.6M291.1 901.8L246.6 913.0M321.5 881.8L342.6 913.3M291.6 926.3L232.1 919.0M293.9 840.2L321.7 915.6M294.4 908.4L295.1 916.4M282.3 899.7L263.4 916.8M286.3 883.0L280.8 920.2M285.9 925.9L250.2 925.0M288.5 926.4L220.8 928.4M303.8 888.4L311.1 926.5M310.9 881.2L336.2 927.7M277.1 939.1L211.3 937.6M274.3 919.5L240.5 933.4M279.5 932.8L266.8 934.2M287.1 939.3L229.3 945.5M271.0 932.7L260.6 938.9M285.7 940.1L249.7 949.5M263.5 946.2L263.0 951.7M268.4 965.7L241.1 962.3M286.9 982.0L260.7 969.1M271.8 955.6L272.5 960.8M287.5 943.2L287.3 947.8M293.9 896.7L292.6 956.4M294.7 895.6L302.1 939.1M298.8 878.1L310.0 947.3M300.0 866.7L322.8 937.6M310.1 885.1L340.3 946.2M295.1 848.9L327.6 956.1M301.5 870.6L346.4 956.4M357.7 962.8L358.8 965.8M321.0 962.4L322.5 964.7M298.1 852.3L309.5 965.0M323.9 922.0L338.5 967.7M269.2 982.6L247.7 977.2M291.4 850.1L265.8 972.1M289.6 851.8L284.1 970.2M297.8 930.8L301.0 975.2M292.3 866.5L319.9 977.1M275.1 976.2L261.5 981.5M284.6 979.4L285.1 983.9M305.9 980.4L303.3 987.0M318.0 926.6L335.5 986.5M275.7 1018.3L245.3 996.9M284.4 873.2L271.0 990.9M293.2 844.6L318.3 991.7M279.0 1011.0L262.2 1005.4M290.0 868.5L281.0 999.5M297.3 904.5L304.1 1001.1M286.5 904.1L268.1 1009.7M292.6 1008.1L292.8 1009.4M1168.5 657.3L1170.7 655.3M1102.9 772.6L1100.2 774.6M1159.6 815.9L1157.7 817.8M1075.5 833.1L1076.9 831.8M1113.4 829.9L1111.2 831.8M1135.1 883.8L1133.4 881.8M1144.1 886.8L1145.8 888.5M1057.3 887.4L1055.1 889.4M1096.4 898.7L1098.7 896.8M1214.1 896.9L1216.9 894.4M1049.4 906.3L1046.9 906.3M1054.8 906.3L1057.0 906.5M1055.7 922.9L1058.2 920.7M1046.3 929.9L1046.5 927.6M1078.3 927.7L1080.5 926.1M1104.4 939.2L1106.9 937.1M1159.9 931.4L1157.6 933.3M1066.4 959.3L1073.0 950.2M1099.0 946.5L1101.0 946.2M1129.1 952.1L1130.9 950.5M1144.8 951.5L1147.2 949.9M1082.1 953.0L1084.2 952.7M1089.6 966.6L1097.4 963.2M1054.5 968.5L1055.6 967.7M1074.9 971.8L1076.2 969.7M1086.7 975.1L1096.7 972.3M1102.5 980.8L1106.2 984.3M1125.1 998.2L1126.3 997.2M1035.0 946.8L1025.7 942.9M1034.1 956.8L1030.4 954.7M1005.8 985.4L995.4 966.2M1017.4 977.2L1012.8 965.6M1034.1 969.1L1030.4 966.5M1012.4 978.5L1009.2 975.0M1085.8 1010.3L1095.2 1008.4M1124.7 1012.3L1122.7 1009.5M1107.8 1023.9L1108.1 1020.8M1120.3 1022.9L1125.8 1020.2M1108.0 1027.0L1119.1 1027.2M1152.3 1024.5L1151.2 1026.1M1131.4 1038.9L1128.0 1038.3M1146.1 1075.9L1144.0 1077.9M1132.3 1077.6L1127.6 1087.2M1184.5 1001.6L1186.3 1000.0M1207.0 1003.7L1204.2 1006.0M1006.7 1043.3L1009.5 1037.6M738.6 1080.8L740.9 1078.8M733.6 1083.7L731.0 1085.6M738.1 1084.2L740.4 1085.8M819.3 1076.7L812.1 1061.6M809.2 1079.9L799.4 1071.7M818.6 1084.0L824.2 1070.7M850.0 1061.4L846.2 1057.2M840.6 1084.6L854.5 1067.5M811.7 1080.2L811.4 1077.3M795.8 1084.2L794.0 1083.0M853.2 1079.2L858.8 1076.8M842.5 1085.2L842.9 1077.9M824.3 1086.5L825.8 1084.2M795.8 1084.2L793.1 1086.6M847.5 1086.2L854.4 1085.3M825.6 1085.8L820.9 1088.2M836.2 1086.2L834.7 1089.3M845.0 1085.8L847.9 1092.1M803.0 1085.2L800.1 1096.9M836.2 1086.2L823.8 1099.1M862.0 1066.0L867.7 1058.1M868.0 1087.0L870.0 1088.3M1003.4 1038.6L1027.9 934.6M1000.1 1032.4L1034.9 943.0M1002.1 959.6L1002.2 952.8M1008.0 1044.0L1037.2 956.8M1006.7 1039.1L986.6 979.8M1008.6 1051.6L1027.8 981.6M1003.6 1045.0L1037.0 976.9M1006.6 1029.8L978.9 988.2M1004.3 1016.1L996.5 991.6M1008.5 1044.9L1015.4 990.7M1007.5 1035.0L966.8 997.2M997.8 1041.0L988.7 1001.1M1009.0 1002.4L1009.4 999.8M1002.0 1059.7L1030.9 996.3M1005.9 1049.5L1073.7 938.6M1000.8 1037.5L1057.1 943.6M1000.2 1046.9L1058.9 956.8M1003.0 1051.8L1041.8 976.5M1004.3 1032.8L1060.1 982.5M997.0 1049.0L1089.8 983.1M1045.8 989.9L1047.2 987.8M1072.5 992.4L1076.0 989.2M999.8 1054.1L1064.4 997.6M1085.1 1001.2L1087.2 999.8M1005.1 1035.0L956.0 1005.9M973.1 1009.4L970.9 1005.3M1004.8 1036.2L967.0 1015.0M984.4 1017.9L983.6 1015.7M998.0 1037.9L999.6 1011.0M1003.6 1070.3L1027.2 1017.0M951.3 1021.6L948.9 1019.7M1001.8 1047.6L977.2 1024.8M1000.5 1043.3L991.3 1028.3M1006.4 1054.6L1015.0 1029.2M1001.4 1048.6L962.5 1029.1M999.6 1049.8L948.5 1035.8M1008.2 1054.9L973.2 1038.1M997.2 1041.0L990.1 1037.5M1004.4 1062.6L1032.7 1034.8M1005.9 1062.8L959.1 1046.1M1004.3 1066.9L982.4 1047.6M999.9 1052.9L999.8 1048.4M1008.5 1061.3L1019.1 1048.0M998.7 1057.1L938.7 1046.5M1001.0 1058.4L950.6 1054.5M970.4 1054.2L968.5 1053.8M1005.7 1076.1L1012.9 1058.6M997.2 1068.3L1030.7 1051.7M1019.6 1059.7L1021.8 1059.7M1004.3 1063.1L932.9 1061.6M1001.9 1057.4L966.0 1060.9M998.3 1063.7L982.4 1063.2M996.3 1066.7L950.6 1067.7M1004.0 1064.4L986.1 1067.0M1003.9 1085.0L1012.1 1072.7M1008.4 1064.4L934.0 1074.5M1006.2 1073.3L969.5 1073.2M997.6 1069.8L950.6 1077.4M998.2 1066.0L978.0 1079.2M1006.6 1076.3L940.4 1088.6M1008.2 1070.4L990.0 1088.5M1002.5 1077.8L959.6 1092.8M1005.8 1083.6L978.2 1095.0M1006.2 1088.0L1006.4 1090.7M1007.0 1072.0L1025.5 1095.8M1007.1 1072.0L945.1 1100.5M1001.4 1076.1L965.5 1102.7M1004.8 1083.9L982.4 1103.5M999.0 1088.0L997.7 1099.1M1014.8 1100.1L1016.1 1103.9M1005.6 1075.1L1032.6 1088.1M1007.0 1065.9L1047.1 1007.2M997.6 1059.0L1074.4 1008.5M1004.2 1062.9L1058.1 1015.7M1004.6 1052.8L1046.4 1024.1M1002.9 1050.8L1061.5 1023.8M1002.4 1057.5L1079.0 1023.8M1054.8 1033.5L1057.3 1032.3M1002.2 1072.9L1075.2 1032.9M1005.7 1060.7L1097.7 1034.9M1006.9 1064.7L1131.9 1045.2M1045.0 1042.6L1047.9 1041.5M1001.1 1067.6L1068.2 1041.2M1008.5 1063.3L1083.6 1043.2M1000.9 1062.5L1104.7 1048.5M998.4 1061.4L1061.0 1049.6M1002.6 1062.0L1087.4 1054.0M1004.7 1067.9L1050.1 1058.6M997.8 1064.2L1115.6 1059.3M1003.8 1065.9L1096.3 1064.4M1078.5 1070.3L1079.9 1070.4M1107.5 1071.9L1111.1 1072.3M1007.2 1061.4L1065.4 1075.0M997.1 1067.7L1087.7 1078.6M1003.6 1073.7L1050.5 1079.9M999.1 1075.6L1099.7 1084.1M1004.7 1073.9L1074.5 1086.2M1006.0 1077.1L1056.4 1088.4M998.7 1076.8L1087.7 1092.1M1004.7 1084.6L1097.4 1103.1M1007.6 1075.2L1038.8 1103.9M1053.8 1102.4L1055.8 1103.9M1000.8 1079.9L1080.5 1105.2" stroke="#000" stroke-width="0.8" fill="none"/>
<g fill="#fff" stroke="#8c8c8c" stroke-width="0.75"><rect x="318.6" y="41.6" width="13.2" height="6.8" rx="1.2"/><rect x="346.8" y="41.2" width="13.2" height="6.8" rx="1.2"/><rect x="367.8" y="41.2" width="11.5" height="6.8" rx="1.2"/><rect x="381.1" y="41.2" width="11.5" height="6.8" rx="1.2"/><rect x="396.4" y="41.2" width="13.2" height="6.8" rx="1.2"/><rect x="413.6" y="42.2" width="11.5" height="6.8" rx="1.2"/><rect x="428.4" y="42.2" width="13.2" height="6.8" rx="1.2"/><rect x="444.9" y="41.0" width="11.5" height="6.8" rx="1.2"/><rect x="462.7" y="41.2" width="15.0" height="6.8" rx="1.2"/><rect x="482.1" y="42.5" width="11.5" height="6.8" rx="1.2"/><rect x="307.3" y="50.0" width="13.2" height="6.8" rx="1.2"/><rect x="332.4" y="49.8" width="13.2" height="6.8" rx="1.2"/><rect x="356.2" y="51.3" width="13.2" height="6.8" rx="1.2"/><rect x="371.2" y="52.9" width="13.2" height="6.8" rx="1.2"/><rect x="387.9" y="52.5" width="15.0" height="6.8" rx="1.2"/><rect x="405.1" y="52.5" width="13.2" height="6.8" rx="1.2"/><rect x="423.6" y="52.9" width="11.5" height="6.8" rx="1.2"/><rect x="455.3" y="49.4" width="9.8" height="6.8" rx="1.2"/><rect x="493.7" y="52.7" width="13.2" height="6.8" rx="1.2"/><rect x="464.7" y="59.6" width="9.8" height="6.8" rx="1.2"/><rect x="476.1" y="60.4" width="13.2" height="6.8" rx="1.2"/><rect x="295.3" y="59.8" width="13.2" height="6.8" rx="1.2"/><rect x="318.6" y="59.2" width="13.2" height="6.8" rx="1.2"/><rect x="341.1" y="60.1" width="13.2" height="6.8" rx="1.2"/><rect x="379.1" y="66.3" width="15.0" height="6.8" rx="1.2"/><rect x="309.8" y="69.2" width="13.2" height="6.8" rx="1.2"/><rect x="329.2" y="68.6" width="13.2" height="6.8" rx="1.2"/><rect x="292.8" y="74.9" width="13.2" height="6.8" rx="1.2"/><rect x="320.4" y="75.1" width="13.2" height="6.8" rx="1.2"/><rect x="345.1" y="75.7" width="11.5" height="6.8" rx="1.2"/><rect x="360.0" y="76.8" width="13.2" height="6.8" rx="1.2"/><rect x="395.5" y="74.0" width="15.0" height="6.8" rx="1.2"/><rect x="419.9" y="66.3" width="11.5" height="6.8" rx="1.2"/><rect x="442.3" y="65.7" width="13.2" height="6.8" rx="1.2"/><rect x="471.7" y="70.7" width="13.2" height="6.8" rx="1.2"/><rect x="487.2" y="70.5" width="9.8" height="6.8" rx="1.2"/><rect x="437.4" y="74.2" width="11.5" height="6.8" rx="1.2"/><rect x="455.4" y="74.9" width="13.2" height="6.8" rx="1.2"/><rect x="480.0" y="80.5" width="16.8" height="6.8" rx="1.2"/><rect x="307.3" y="84.0" width="13.2" height="6.8" rx="1.2"/><rect x="331.9" y="83.9" width="11.5" height="6.8" rx="1.2"/><rect x="360.0" y="86.2" width="13.2" height="6.8" rx="1.2"/><rect x="375.6" y="87.4" width="13.2" height="6.8" rx="1.2"/><rect x="412.2" y="91.4" width="11.5" height="6.8" rx="1.2"/><rect x="437.2" y="84.9" width="13.2" height="6.8" rx="1.2"/><rect x="457.9" y="85.5" width="13.2" height="6.8" rx="1.2"/><rect x="300.4" y="93.7" width="13.2" height="6.8" rx="1.2"/><rect x="317.9" y="93.1" width="13.2" height="6.8" rx="1.2"/><rect x="344.4" y="95.2" width="11.5" height="6.8" rx="1.2"/><rect x="450.1" y="94.3" width="11.5" height="6.8" rx="1.2"/><rect x="470.5" y="95.3" width="13.2" height="6.8" rx="1.2"/><rect x="307.3" y="103.1" width="13.2" height="6.8" rx="1.2"/><rect x="333.2" y="100.3" width="11.5" height="6.8" rx="1.2"/><rect x="360.3" y="100.3" width="15.0" height="6.8" rx="1.2"/><rect x="377.0" y="100.8" width="16.8" height="6.8" rx="1.2"/><rect x="399.1" y="103.7" width="11.5" height="6.8" rx="1.2"/><rect x="418.6" y="102.1" width="11.5" height="6.8" rx="1.2"/><rect x="434.9" y="97.8" width="11.5" height="6.8" rx="1.2"/><rect x="462.3" y="103.5" width="13.2" height="6.8" rx="1.2"/><rect x="322.8" y="110.9" width="9.8" height="6.8" rx="1.2"/><rect x="346.2" y="111.3" width="13.2" height="6.8" rx="1.2"/><rect x="388.8" y="111.9" width="13.2" height="6.8" rx="1.2"/><rect x="409.2" y="110.9" width="15.0" height="6.8" rx="1.2"/><rect x="426.2" y="115.4" width="15.0" height="6.8" rx="1.2"/><rect x="443.2" y="108.1" width="15.0" height="6.8" rx="1.2"/><rect x="461.1" y="114.1" width="13.2" height="6.8" rx="1.2"/><rect x="306.6" y="119.7" width="13.2" height="6.8" rx="1.2"/><rect x="335.8" y="119.4" width="11.5" height="6.8" rx="1.2"/><rect x="357.6" y="119.4" width="11.5" height="6.8" rx="1.2"/><rect x="374.6" y="115.9" width="11.5" height="6.8" rx="1.2"/><rect x="395.4" y="122.3" width="11.5" height="6.8" rx="1.2"/><rect x="410.8" y="124.1" width="13.2" height="6.8" rx="1.2"/><rect x="446.0" y="123.4" width="13.2" height="6.8" rx="1.2"/><rect x="470.5" y="123.2" width="13.2" height="6.8" rx="1.2"/><rect x="320.4" y="128.8" width="13.2" height="6.8" rx="1.2"/><rect x="341.9" y="131.3" width="11.5" height="6.8" rx="1.2"/><rect x="367.5" y="131.6" width="13.2" height="6.8" rx="1.2"/><rect x="385.0" y="132.0" width="13.2" height="6.8" rx="1.2"/><rect x="402.0" y="134.5" width="13.2" height="6.8" rx="1.2"/><rect x="423.0" y="133.8" width="15.0" height="6.8" rx="1.2"/><rect x="455.2" y="133.5" width="15.0" height="6.8" rx="1.2"/><rect x="335.1" y="139.7" width="11.5" height="6.8" rx="1.2"/><rect x="352.2" y="142.0" width="15.0" height="6.8" rx="1.2"/><rect x="383.8" y="140.7" width="13.2" height="6.8" rx="1.2"/><rect x="412.9" y="141.7" width="11.5" height="6.8" rx="1.2"/><rect x="441.2" y="142.4" width="11.5" height="6.8" rx="1.2"/><rect x="469.1" y="142.0" width="18.5" height="6.8" rx="1.2"/><rect x="492.6" y="141.0" width="11.5" height="6.8" rx="1.2"/><rect x="314.5" y="145.8" width="15.0" height="6.8" rx="1.2"/><rect x="338.4" y="149.3" width="9.8" height="6.8" rx="1.2"/><rect x="360.9" y="150.2" width="11.5" height="6.8" rx="1.2"/><rect x="382.1" y="151.2" width="11.5" height="6.8" rx="1.2"/><rect x="399.2" y="154.3" width="15.0" height="6.8" rx="1.2"/><rect x="427.2" y="151.8" width="11.5" height="6.8" rx="1.2"/><rect x="453.8" y="151.0" width="13.2" height="6.8" rx="1.2"/><rect x="484.0" y="154.2" width="13.2" height="6.8" rx="1.2"/><rect x="342.4" y="158.9" width="13.2" height="6.8" rx="1.2"/><rect x="374.9" y="164.6" width="18.5" height="6.8" rx="1.2"/><rect x="410.8" y="164.0" width="13.2" height="6.8" rx="1.2"/><rect x="439.4" y="162.3" width="11.5" height="6.8" rx="1.2"/><rect x="473.0" y="165.2" width="13.2" height="6.8" rx="1.2"/><rect x="506.9" y="164.8" width="13.2" height="6.8" rx="1.2"/><rect x="527.0" y="90.8" width="13.2" height="6.8" rx="1.2"/><rect x="509.1" y="113.1" width="15.0" height="6.8" rx="1.2"/><rect x="528.6" y="126.6" width="13.2" height="6.8" rx="1.2"/><rect x="537.9" y="172.4" width="11.5" height="6.8" rx="1.2"/><rect x="324.2" y="168.1" width="13.2" height="6.8" rx="1.2"/><rect x="338.6" y="173.2" width="13.2" height="6.8" rx="1.2"/><rect x="357.2" y="172.6" width="13.2" height="6.8" rx="1.2"/><rect x="399.6" y="172.9" width="16.8" height="6.8" rx="1.2"/><rect x="423.4" y="172.4" width="13.2" height="6.8" rx="1.2"/><rect x="446.2" y="170.0" width="11.5" height="6.8" rx="1.2"/><rect x="385.9" y="178.8" width="11.5" height="6.8" rx="1.2"/><rect x="328.3" y="181.6" width="15.0" height="6.8" rx="1.2"/><rect x="370.0" y="182.3" width="13.2" height="6.8" rx="1.2"/><rect x="405.1" y="185.6" width="13.2" height="6.8" rx="1.2"/><rect x="421.1" y="180.6" width="11.5" height="6.8" rx="1.2"/><rect x="438.1" y="180.6" width="11.5" height="6.8" rx="1.2"/><rect x="454.5" y="179.8" width="15.0" height="6.8" rx="1.2"/><rect x="511.9" y="185.6" width="13.2" height="6.8" rx="1.2"/><rect x="467.9" y="191.3" width="11.5" height="6.8" rx="1.2"/><rect x="337.7" y="190.8" width="15.0" height="6.8" rx="1.2"/><rect x="368.1" y="191.4" width="13.2" height="6.8" rx="1.2"/><rect x="387.9" y="192.3" width="13.2" height="6.8" rx="1.2"/><rect x="425.8" y="197.1" width="13.2" height="6.8" rx="1.2"/><rect x="444.4" y="195.1" width="11.5" height="6.8" rx="1.2"/><rect x="462.4" y="201.3" width="16.8" height="6.8" rx="1.2"/><rect x="336.9" y="200.1" width="11.5" height="6.8" rx="1.2"/><rect x="353.7" y="200.5" width="13.2" height="6.8" rx="1.2"/><rect x="369.6" y="201.3" width="13.2" height="6.8" rx="1.2"/><rect x="405.9" y="201.7" width="11.5" height="6.8" rx="1.2"/><rect x="437.2" y="207.4" width="13.2" height="6.8" rx="1.2"/><rect x="340.9" y="212.4" width="15.0" height="6.8" rx="1.2"/><rect x="367.8" y="212.1" width="15.0" height="6.8" rx="1.2"/><rect x="387.9" y="210.9" width="15.0" height="6.8" rx="1.2"/><rect x="406.7" y="213.4" width="15.0" height="6.8" rx="1.2"/><rect x="325.8" y="221.8" width="15.0" height="6.8" rx="1.2"/><rect x="350.5" y="220.9" width="13.2" height="6.8" rx="1.2"/><rect x="367.1" y="224.9" width="20.2" height="6.8" rx="1.2"/><rect x="391.6" y="224.3" width="11.5" height="6.8" rx="1.2"/><rect x="423.0" y="223.0" width="15.0" height="6.8" rx="1.2"/><rect x="339.9" y="230.1" width="13.2" height="6.8" rx="1.2"/><rect x="366.2" y="236.2" width="13.2" height="6.8" rx="1.2"/><rect x="407.0" y="230.2" width="13.2" height="6.8" rx="1.2"/><rect x="389.4" y="234.7" width="13.2" height="6.8" rx="1.2"/><rect x="424.1" y="235.3" width="16.8" height="6.8" rx="1.2"/><rect x="339.6" y="238.7" width="15.0" height="6.8" rx="1.2"/><rect x="407.9" y="240.0" width="11.5" height="6.8" rx="1.2"/><rect x="429.7" y="246.5" width="13.2" height="6.8" rx="1.2"/><rect x="455.2" y="247.5" width="15.0" height="6.8" rx="1.2"/><rect x="328.0" y="247.9" width="13.2" height="6.8" rx="1.2"/><rect x="351.2" y="247.8" width="13.2" height="6.8" rx="1.2"/><rect x="368.2" y="247.8" width="16.8" height="6.8" rx="1.2"/><rect x="390.2" y="246.5" width="11.5" height="6.8" rx="1.2"/><rect x="403.0" y="253.8" width="15.0" height="6.8" rx="1.2"/><rect x="338.9" y="256.5" width="11.5" height="6.8" rx="1.2"/><rect x="378.8" y="260.1" width="13.2" height="6.8" rx="1.2"/><rect x="425.8" y="261.9" width="13.2" height="6.8" rx="1.2"/><rect x="323.2" y="266.7" width="20.2" height="6.8" rx="1.2"/><rect x="351.9" y="268.5" width="16.8" height="6.8" rx="1.2"/><rect x="405.8" y="264.4" width="16.8" height="6.8" rx="1.2"/><rect x="374.7" y="272.0" width="15.0" height="6.8" rx="1.2"/><rect x="392.6" y="273.2" width="13.2" height="6.8" rx="1.2"/><rect x="409.5" y="274.2" width="13.2" height="6.8" rx="1.2"/><rect x="435.1" y="274.9" width="15.0" height="6.8" rx="1.2"/><rect x="509.0" y="272.0" width="11.5" height="6.8" rx="1.2"/><rect x="328.6" y="277.0" width="13.2" height="6.8" rx="1.2"/><rect x="345.1" y="278.2" width="11.5" height="6.8" rx="1.2"/><rect x="312.4" y="280.8" width="11.5" height="6.8" rx="1.2"/><rect x="384.6" y="284.6" width="11.5" height="6.8" rx="1.2"/><rect x="327.4" y="286.8" width="16.8" height="6.8" rx="1.2"/><rect x="360.4" y="288.0" width="9.8" height="6.8" rx="1.2"/><rect x="399.5" y="290.2" width="13.2" height="6.8" rx="1.2"/><rect x="419.9" y="286.4" width="11.5" height="6.8" rx="1.2"/><rect x="434.1" y="286.0" width="30.8" height="6.8" rx="1.2"/><rect x="314.4" y="295.6" width="11.5" height="6.8" rx="1.2"/><rect x="343.9" y="296.4" width="11.5" height="6.8" rx="1.2"/><rect x="362.1" y="297.1" width="11.5" height="6.8" rx="1.2"/><rect x="380.2" y="300.6" width="11.5" height="6.8" rx="1.2"/><rect x="395.7" y="300.8" width="13.2" height="6.8" rx="1.2"/><rect x="411.4" y="299.0" width="13.2" height="6.8" rx="1.2"/><rect x="427.8" y="296.7" width="13.2" height="6.8" rx="1.2"/><rect x="327.6" y="303.0" width="11.5" height="6.8" rx="1.2"/><rect x="360.9" y="307.4" width="11.5" height="6.8" rx="1.2"/><rect x="406.9" y="309.9" width="13.2" height="6.8" rx="1.2"/><rect x="323.3" y="312.9" width="15.0" height="6.8" rx="1.2"/><rect x="341.4" y="311.6" width="11.5" height="6.8" rx="1.2"/><rect x="390.1" y="312.6" width="13.2" height="6.8" rx="1.2"/><rect x="330.6" y="323.8" width="11.5" height="6.8" rx="1.2"/><rect x="357.6" y="322.7" width="11.5" height="6.8" rx="1.2"/><rect x="372.3" y="320.4" width="9.8" height="6.8" rx="1.2"/><rect x="400.7" y="322.3" width="13.2" height="6.8" rx="1.2"/><rect x="422.8" y="320.8" width="13.2" height="6.8" rx="1.2"/><rect x="342.4" y="332.7" width="13.2" height="6.8" rx="1.2"/><rect x="374.2" y="330.1" width="9.8" height="6.8" rx="1.2"/><rect x="401.6" y="333.3" width="11.5" height="6.8" rx="1.2"/><rect x="349.9" y="342.0" width="13.2" height="6.8" rx="1.2"/><rect x="367.5" y="342.8" width="13.2" height="6.8" rx="1.2"/><rect x="384.9" y="340.2" width="9.8" height="6.8" rx="1.2"/><rect x="418.3" y="338.4" width="13.2" height="6.8" rx="1.2"/><rect x="406.4" y="347.0" width="13.2" height="6.8" rx="1.2"/><rect x="487.2" y="334.2" width="15.0" height="6.8" rx="1.2"/><rect x="338.6" y="359.9" width="13.2" height="6.8" rx="1.2"/><rect x="360.9" y="356.4" width="11.5" height="6.8" rx="1.2"/><rect x="375.3" y="353.0" width="20.2" height="6.8" rx="1.2"/><rect x="402.0" y="356.8" width="13.2" height="6.8" rx="1.2"/><rect x="420.7" y="361.2" width="27.2" height="6.8" rx="1.2"/><rect x="383.4" y="363.1" width="11.5" height="6.8" rx="1.2"/><rect x="405.5" y="366.6" width="15.0" height="6.8" rx="1.2"/><rect x="352.4" y="369.1" width="13.2" height="6.8" rx="1.2"/><rect x="368.8" y="374.4" width="16.8" height="6.8" rx="1.2"/><rect x="345.9" y="379.1" width="15.0" height="6.8" rx="1.2"/><rect x="388.2" y="380.6" width="13.2" height="6.8" rx="1.2"/><rect x="370.0" y="385.0" width="13.2" height="6.8" rx="1.2"/><rect x="349.9" y="390.1" width="13.2" height="6.8" rx="1.2"/><rect x="347.8" y="404.7" width="15.0" height="6.8" rx="1.2"/><rect x="378.2" y="400.3" width="13.2" height="6.8" rx="1.2"/><rect x="429.9" y="415.2" width="11.5" height="6.8" rx="1.2"/><rect x="351.8" y="418.6" width="11.5" height="6.8" rx="1.2"/><rect x="368.4" y="417.0" width="11.5" height="6.8" rx="1.2"/><rect x="392.1" y="424.6" width="11.5" height="6.8" rx="1.2"/><rect x="357.1" y="431.2" width="11.5" height="6.8" rx="1.2"/><rect x="375.0" y="431.2" width="13.2" height="6.8" rx="1.2"/><rect x="509.1" y="417.0" width="15.0" height="6.8" rx="1.2"/><rect x="101.6" y="229.4" width="16.8" height="6.8" rx="1.2"/><rect x="84.0" y="236.9" width="15.0" height="6.8" rx="1.2"/><rect x="64.7" y="239.7" width="16.8" height="6.8" rx="1.2"/><rect x="45.0" y="242.6" width="15.0" height="6.8" rx="1.2"/><rect x="101.0" y="245.3" width="15.0" height="6.8" rx="1.2"/><rect x="81.9" y="249.5" width="15.0" height="6.8" rx="1.2"/><rect x="58.5" y="250.6" width="15.0" height="6.8" rx="1.2"/><rect x="117.2" y="254.2" width="16.8" height="6.8" rx="1.2"/><rect x="54.0" y="261.0" width="16.8" height="6.8" rx="1.2"/><rect x="109.4" y="263.0" width="16.8" height="6.8" rx="1.2"/><rect x="73.4" y="267.0" width="15.0" height="6.8" rx="1.2"/><rect x="45.7" y="271.9" width="15.0" height="6.8" rx="1.2"/><rect x="93.8" y="273.1" width="16.8" height="6.8" rx="1.2"/><rect x="63.7" y="277.9" width="16.8" height="6.8" rx="1.2"/><rect x="108.1" y="281.8" width="15.0" height="6.8" rx="1.2"/><rect x="83.5" y="282.8" width="13.2" height="6.8" rx="1.2"/><rect x="68.9" y="291.8" width="16.8" height="6.8" rx="1.2"/><rect x="101.7" y="334.3" width="15.0" height="6.8" rx="1.2"/><rect x="53.8" y="365.1" width="16.8" height="6.8" rx="1.2"/><rect x="771.0" y="52.5" width="13.2" height="6.8" rx="1.2"/><rect x="788.4" y="72.3" width="15.0" height="6.8" rx="1.2"/><rect x="797.6" y="114.9" width="13.2" height="6.8" rx="1.2"/><rect x="774.3" y="121.0" width="15.0" height="6.8" rx="1.2"/><rect x="810.5" y="151.2" width="11.5" height="6.8" rx="1.2"/><rect x="793.6" y="172.3" width="13.2" height="6.8" rx="1.2"/><rect x="822.8" y="196.3" width="13.2" height="6.8" rx="1.2"/><rect x="804.0" y="198.7" width="11.5" height="6.8" rx="1.2"/><rect x="784.8" y="204.2" width="11.5" height="6.8" rx="1.2"/><rect x="715.1" y="237.3" width="16.8" height="6.8" rx="1.2"/><rect x="760.2" y="229.4" width="13.2" height="6.8" rx="1.2"/><rect x="1002.5" y="251.5" width="11.5" height="6.8" rx="1.2"/><rect x="998.2" y="276.5" width="11.5" height="6.8" rx="1.2"/><rect x="1022.2" y="273.7" width="11.5" height="6.8" rx="1.2"/><rect x="1009.0" y="287.6" width="11.5" height="6.8" rx="1.2"/><rect x="1037.4" y="295.8" width="13.2" height="6.8" rx="1.2"/><rect x="1053.8" y="337.8" width="13.2" height="6.8" rx="1.2"/><rect x="1123.9" y="332.2" width="15.0" height="6.8" rx="1.2"/><rect x="1105.3" y="388.4" width="15.0" height="6.8" rx="1.2"/><rect x="1144.8" y="386.3" width="11.5" height="6.8" rx="1.2"/><rect x="1124.4" y="392.8" width="16.8" height="6.8" rx="1.2"/><rect x="1101.8" y="401.2" width="15.0" height="6.8" rx="1.2"/><rect x="1144.8" y="412.7" width="11.5" height="6.8" rx="1.2"/><rect x="1104.8" y="424.8" width="11.5" height="6.8" rx="1.2"/><rect x="1146.1" y="423.3" width="13.2" height="6.8" rx="1.2"/><rect x="1128.7" y="442.8" width="16.8" height="6.8" rx="1.2"/><rect x="1109.7" y="447.8" width="15.0" height="6.8" rx="1.2"/><rect x="1115.9" y="457.0" width="16.8" height="6.8" rx="1.2"/><rect x="1197.5" y="399.6" width="22.0" height="6.8" rx="1.2"/><rect x="802.5" y="212.1" width="13.2" height="6.8" rx="1.2"/><rect x="821.2" y="210.8" width="13.2" height="6.8" rx="1.2"/><rect x="766.0" y="211.9" width="11.5" height="6.8" rx="1.2"/><rect x="746.7" y="218.7" width="15.0" height="6.8" rx="1.2"/><rect x="776.2" y="221.5" width="13.2" height="6.8" rx="1.2"/><rect x="794.5" y="221.5" width="15.0" height="6.8" rx="1.2"/><rect x="819.0" y="221.5" width="13.2" height="6.8" rx="1.2"/><rect x="835.8" y="220.6" width="11.5" height="6.8" rx="1.2"/><rect x="736.3" y="230.5" width="15.0" height="6.8" rx="1.2"/><rect x="782.5" y="230.2" width="11.5" height="6.8" rx="1.2"/><rect x="807.5" y="231.1" width="13.2" height="6.8" rx="1.2"/><rect x="832.9" y="233.3" width="15.0" height="6.8" rx="1.2"/><rect x="749.3" y="239.3" width="13.2" height="6.8" rx="1.2"/><rect x="791.2" y="240.4" width="11.5" height="6.8" rx="1.2"/><rect x="811.3" y="241.0" width="13.2" height="6.8" rx="1.2"/><rect x="832.2" y="243.1" width="13.2" height="6.8" rx="1.2"/><rect x="769.0" y="246.4" width="13.2" height="6.8" rx="1.2"/><rect x="747.6" y="249.4" width="13.2" height="6.8" rx="1.2"/><rect x="802.5" y="251.6" width="13.2" height="6.8" rx="1.2"/><rect x="779.5" y="255.2" width="13.2" height="6.8" rx="1.2"/><rect x="759.1" y="258.9" width="13.2" height="6.8" rx="1.2"/><rect x="825.0" y="258.9" width="13.2" height="6.8" rx="1.2"/><rect x="718.9" y="263.5" width="11.5" height="6.8" rx="1.2"/><rect x="737.0" y="261.3" width="11.5" height="6.8" rx="1.2"/><rect x="794.0" y="263.5" width="11.5" height="6.8" rx="1.2"/><rect x="753.7" y="269.0" width="13.2" height="6.8" rx="1.2"/><rect x="774.5" y="269.0" width="13.2" height="6.8" rx="1.2"/><rect x="810.2" y="268.4" width="13.2" height="6.8" rx="1.2"/><rect x="834.4" y="267.9" width="13.2" height="6.8" rx="1.2"/><rect x="737.5" y="270.9" width="11.5" height="6.8" rx="1.2"/><rect x="724.6" y="279.9" width="13.2" height="6.8" rx="1.2"/><rect x="743.8" y="279.4" width="13.2" height="6.8" rx="1.2"/><rect x="765.2" y="278.8" width="13.2" height="6.8" rx="1.2"/><rect x="788.2" y="278.8" width="13.2" height="6.8" rx="1.2"/><rect x="806.6" y="280.8" width="15.0" height="6.8" rx="1.2"/><rect x="826.5" y="276.9" width="11.5" height="6.8" rx="1.2"/><rect x="711.9" y="288.2" width="13.2" height="6.8" rx="1.2"/><rect x="733.4" y="289.3" width="13.2" height="6.8" rx="1.2"/><rect x="758.8" y="288.7" width="15.0" height="6.8" rx="1.2"/><rect x="722.0" y="297.9" width="11.5" height="6.8" rx="1.2"/><rect x="748.0" y="298.7" width="11.5" height="6.8" rx="1.2"/><rect x="779.7" y="296.6" width="13.2" height="6.8" rx="1.2"/><rect x="799.6" y="296.6" width="11.5" height="6.8" rx="1.2"/><rect x="714.0" y="309.8" width="11.5" height="6.8" rx="1.2"/><rect x="733.4" y="308.5" width="13.2" height="6.8" rx="1.2"/><rect x="765.9" y="307.5" width="9.8" height="6.8" rx="1.2"/><rect x="784.4" y="305.1" width="13.2" height="6.8" rx="1.2"/><rect x="811.2" y="307.5" width="15.0" height="6.8" rx="1.2"/><rect x="713.0" y="318.1" width="11.5" height="6.8" rx="1.2"/><rect x="735.5" y="319.2" width="13.2" height="6.8" rx="1.2"/><rect x="750.6" y="315.7" width="15.0" height="6.8" rx="1.2"/><rect x="796.1" y="316.5" width="13.2" height="6.8" rx="1.2"/><rect x="812.1" y="318.6" width="13.2" height="6.8" rx="1.2"/><rect x="728.2" y="326.6" width="15.0" height="6.8" rx="1.2"/><rect x="750.6" y="326.6" width="15.0" height="6.8" rx="1.2"/><rect x="771.5" y="323.4" width="11.5" height="6.8" rx="1.2"/><rect x="800.1" y="327.1" width="11.5" height="6.8" rx="1.2"/><rect x="711.0" y="333.5" width="13.2" height="6.8" rx="1.2"/><rect x="735.5" y="336.7" width="13.2" height="6.8" rx="1.2"/><rect x="764.2" y="335.6" width="13.2" height="6.8" rx="1.2"/><rect x="802.4" y="338.1" width="11.5" height="6.8" rx="1.2"/><rect x="814.6" y="344.2" width="16.8" height="6.8" rx="1.2"/><rect x="710.9" y="344.2" width="11.5" height="6.8" rx="1.2"/><rect x="725.8" y="345.7" width="11.5" height="6.8" rx="1.2"/><rect x="745.2" y="346.8" width="15.0" height="6.8" rx="1.2"/><rect x="765.3" y="344.2" width="13.2" height="6.8" rx="1.2"/><rect x="782.6" y="346.8" width="16.8" height="6.8" rx="1.2"/><rect x="803.4" y="354.8" width="11.5" height="6.8" rx="1.2"/><rect x="713.7" y="355.3" width="13.2" height="6.8" rx="1.2"/><rect x="739.0" y="355.9" width="11.5" height="6.8" rx="1.2"/><rect x="761.9" y="352.7" width="11.5" height="6.8" rx="1.2"/><rect x="711.4" y="362.6" width="11.5" height="6.8" rx="1.2"/><rect x="729.5" y="364.9" width="11.5" height="6.8" rx="1.2"/><rect x="753.2" y="363.8" width="15.0" height="6.8" rx="1.2"/><rect x="784.6" y="370.2" width="15.0" height="6.8" rx="1.2"/><rect x="811.9" y="364.9" width="11.5" height="6.8" rx="1.2"/><rect x="708.4" y="373.4" width="13.2" height="6.8" rx="1.2"/><rect x="743.0" y="373.4" width="13.2" height="6.8" rx="1.2"/><rect x="768.5" y="372.3" width="13.2" height="6.8" rx="1.2"/><rect x="723.3" y="378.7" width="13.2" height="6.8" rx="1.2"/><rect x="738.9" y="381.9" width="15.0" height="6.8" rx="1.2"/><rect x="757.4" y="381.9" width="9.8" height="6.8" rx="1.2"/><rect x="782.3" y="380.3" width="13.2" height="6.8" rx="1.2"/><rect x="710.9" y="386.2" width="11.5" height="6.8" rx="1.2"/><rect x="725.8" y="391.0" width="11.5" height="6.8" rx="1.2"/><rect x="774.4" y="391.0" width="9.8" height="6.8" rx="1.2"/><rect x="792.8" y="388.1" width="11.5" height="6.8" rx="1.2"/><rect x="754.7" y="394.5" width="13.2" height="6.8" rx="1.2"/><rect x="795.2" y="395.7" width="15.0" height="6.8" rx="1.2"/><rect x="713.6" y="400.4" width="13.2" height="6.8" rx="1.2"/><rect x="738.4" y="401.4" width="15.0" height="6.8" rx="1.2"/><rect x="763.8" y="401.4" width="13.2" height="6.8" rx="1.2"/><rect x="783.2" y="402.7" width="13.2" height="6.8" rx="1.2"/><rect x="721.7" y="409.8" width="13.2" height="6.8" rx="1.2"/><rect x="739.0" y="411.1" width="15.0" height="6.8" rx="1.2"/><rect x="782.1" y="412.3" width="11.5" height="6.8" rx="1.2"/><rect x="801.6" y="407.9" width="11.5" height="6.8" rx="1.2"/><rect x="709.5" y="418.6" width="11.5" height="6.8" rx="1.2"/><rect x="728.2" y="419.0" width="11.5" height="6.8" rx="1.2"/><rect x="749.3" y="420.7" width="13.2" height="6.8" rx="1.2"/><rect x="711.1" y="427.4" width="13.2" height="6.8" rx="1.2"/><rect x="734.9" y="430.3" width="13.2" height="6.8" rx="1.2"/><rect x="808.0" y="424.9" width="11.5" height="6.8" rx="1.2"/><rect x="764.0" y="429.9" width="11.5" height="6.8" rx="1.2"/><rect x="790.7" y="433.6" width="13.2" height="6.8" rx="1.2"/><rect x="720.5" y="439.9" width="13.2" height="6.8" rx="1.2"/><rect x="748.2" y="438.7" width="11.5" height="6.8" rx="1.2"/><rect x="765.6" y="442.4" width="13.2" height="6.8" rx="1.2"/><rect x="823.4" y="441.6" width="13.2" height="6.8" rx="1.2"/><rect x="707.0" y="446.8" width="15.0" height="6.8" rx="1.2"/><rect x="715.6" y="453.1" width="11.5" height="6.8" rx="1.2"/><rect x="728.4" y="449.1" width="15.0" height="6.8" rx="1.2"/><rect x="749.0" y="450.0" width="11.5" height="6.8" rx="1.2"/><rect x="778.8" y="450.6" width="13.2" height="6.8" rx="1.2"/><rect x="707.9" y="461.6" width="13.2" height="6.8" rx="1.2"/><rect x="722.1" y="462.9" width="15.0" height="6.8" rx="1.2"/><rect x="737.1" y="457.5" width="15.0" height="6.8" rx="1.2"/><rect x="761.9" y="459.6" width="13.2" height="6.8" rx="1.2"/><rect x="788.2" y="460.6" width="13.2" height="6.8" rx="1.2"/><rect x="819.2" y="459.4" width="11.5" height="6.8" rx="1.2"/><rect x="722.0" y="471.9" width="11.5" height="6.8" rx="1.2"/><rect x="743.1" y="466.9" width="13.2" height="6.8" rx="1.2"/><rect x="774.4" y="470.0" width="13.2" height="6.8" rx="1.2"/><rect x="807.4" y="470.0" width="15.0" height="6.8" rx="1.2"/><rect x="823.4" y="470.0" width="13.2" height="6.8" rx="1.2"/><rect x="837.5" y="475.1" width="15.0" height="6.8" rx="1.2"/><rect x="712.5" y="482.2" width="11.5" height="6.8" rx="1.2"/><rect x="738.0" y="480.1" width="13.2" height="6.8" rx="1.2"/><rect x="757.5" y="475.1" width="13.2" height="6.8" rx="1.2"/><rect x="789.8" y="475.7" width="15.0" height="6.8" rx="1.2"/><rect x="808.3" y="479.4" width="13.2" height="6.8" rx="1.2"/><rect x="828.0" y="485.1" width="11.5" height="6.8" rx="1.2"/><rect x="853.5" y="485.7" width="13.2" height="6.8" rx="1.2"/><rect x="726.7" y="491.4" width="13.2" height="6.8" rx="1.2"/><rect x="749.5" y="488.2" width="11.5" height="6.8" rx="1.2"/><rect x="771.5" y="484.5" width="11.5" height="6.8" rx="1.2"/><rect x="792.0" y="488.9" width="13.2" height="6.8" rx="1.2"/><rect x="810.5" y="491.4" width="11.5" height="6.8" rx="1.2"/><rect x="717.3" y="498.0" width="13.2" height="6.8" rx="1.2"/><rect x="737.0" y="498.0" width="11.5" height="6.8" rx="1.2"/><rect x="763.8" y="496.8" width="13.2" height="6.8" rx="1.2"/><rect x="782.0" y="498.9" width="13.2" height="6.8" rx="1.2"/><rect x="797.6" y="500.2" width="13.2" height="6.8" rx="1.2"/><rect x="826.8" y="500.8" width="11.5" height="6.8" rx="1.2"/><rect x="843.6" y="497.0" width="11.5" height="6.8" rx="1.2"/><rect x="745.6" y="508.1" width="13.2" height="6.8" rx="1.2"/><rect x="761.9" y="504.8" width="13.2" height="6.8" rx="1.2"/><rect x="779.8" y="508.1" width="15.0" height="6.8" rx="1.2"/><rect x="812.1" y="508.6" width="13.2" height="6.8" rx="1.2"/><rect x="838.8" y="508.6" width="15.0" height="6.8" rx="1.2"/><rect x="855.0" y="508.9" width="11.5" height="6.8" rx="1.2"/><rect x="844.9" y="211.1" width="13.2" height="6.8" rx="1.2"/><rect x="854.0" y="227.8" width="15.0" height="6.8" rx="1.2"/><rect x="853.0" y="240.8" width="13.2" height="6.8" rx="1.2"/><rect x="871.6" y="241.8" width="15.0" height="6.8" rx="1.2"/><rect x="897.3" y="241.8" width="15.0" height="6.8" rx="1.2"/><rect x="845.0" y="251.8" width="11.5" height="6.8" rx="1.2"/><rect x="864.7" y="250.3" width="15.0" height="6.8" rx="1.2"/><rect x="886.9" y="251.8" width="13.2" height="6.8" rx="1.2"/><rect x="904.8" y="258.4" width="15.0" height="6.8" rx="1.2"/><rect x="851.8" y="259.1" width="13.2" height="6.8" rx="1.2"/><rect x="875.6" y="262.5" width="13.2" height="6.8" rx="1.2"/><rect x="861.8" y="268.8" width="13.2" height="6.8" rx="1.2"/><rect x="892.1" y="268.2" width="11.5" height="6.8" rx="1.2"/><rect x="911.4" y="273.8" width="13.2" height="6.8" rx="1.2"/><rect x="846.5" y="276.7" width="15.0" height="6.8" rx="1.2"/><rect x="864.7" y="276.3" width="15.0" height="6.8" rx="1.2"/><rect x="879.4" y="277.2" width="13.2" height="6.8" rx="1.2"/><rect x="894.2" y="279.1" width="15.0" height="6.8" rx="1.2"/><rect x="855.8" y="286.1" width="11.5" height="6.8" rx="1.2"/><rect x="876.2" y="287.0" width="13.2" height="6.8" rx="1.2"/><rect x="838.1" y="287.0" width="11.5" height="6.8" rx="1.2"/><rect x="900.7" y="289.5" width="13.2" height="6.8" rx="1.2"/><rect x="919.1" y="290.5" width="11.5" height="6.8" rx="1.2"/><rect x="849.5" y="297.0" width="11.5" height="6.8" rx="1.2"/><rect x="866.5" y="296.0" width="11.5" height="6.8" rx="1.2"/><rect x="888.4" y="298.3" width="11.5" height="6.8" rx="1.2"/><rect x="912.0" y="304.2" width="13.2" height="6.8" rx="1.2"/><rect x="929.3" y="303.7" width="15.0" height="6.8" rx="1.2"/><rect x="868.7" y="306.4" width="13.2" height="6.8" rx="1.2"/><rect x="898.8" y="312.7" width="13.2" height="6.8" rx="1.2"/><rect x="929.8" y="312.1" width="11.5" height="6.8" rx="1.2"/><rect x="879.5" y="317.1" width="11.5" height="6.8" rx="1.2"/><rect x="916.6" y="321.5" width="11.5" height="6.8" rx="1.2"/><rect x="885.2" y="325.9" width="11.5" height="6.8" rx="1.2"/><rect x="933.0" y="326.1" width="15.0" height="6.8" rx="1.2"/><rect x="868.1" y="326.4" width="13.2" height="6.8" rx="1.2"/><rect x="848.0" y="334.2" width="13.2" height="6.8" rx="1.2"/><rect x="878.7" y="336.7" width="13.2" height="6.8" rx="1.2"/><rect x="905.7" y="335.2" width="13.2" height="6.8" rx="1.2"/><rect x="922.2" y="336.7" width="11.5" height="6.8" rx="1.2"/><rect x="896.0" y="344.8" width="11.5" height="6.8" rx="1.2"/><rect x="914.0" y="347.3" width="11.5" height="6.8" rx="1.2"/><rect x="935.8" y="346.5" width="13.2" height="6.8" rx="1.2"/><rect x="858.9" y="345.5" width="11.5" height="6.8" rx="1.2"/><rect x="872.2" y="348.6" width="15.0" height="6.8" rx="1.2"/><rect x="889.4" y="356.1" width="13.2" height="6.8" rx="1.2"/><rect x="906.0" y="357.1" width="11.5" height="6.8" rx="1.2"/><rect x="925.8" y="355.7" width="13.2" height="6.8" rx="1.2"/><rect x="946.0" y="357.0" width="16.8" height="6.8" rx="1.2"/><rect x="860.3" y="356.5" width="15.0" height="6.8" rx="1.2"/><rect x="874.5" y="364.0" width="11.5" height="6.8" rx="1.2"/><rect x="912.3" y="365.3" width="15.0" height="6.8" rx="1.2"/><rect x="938.5" y="364.9" width="11.5" height="6.8" rx="1.2"/><rect x="850.1" y="367.8" width="11.5" height="6.8" rx="1.2"/><rect x="880.6" y="370.8" width="13.2" height="6.8" rx="1.2"/><rect x="898.2" y="370.3" width="13.2" height="6.8" rx="1.2"/><rect x="925.2" y="370.6" width="13.2" height="6.8" rx="1.2"/><rect x="864.3" y="377.5" width="13.2" height="6.8" rx="1.2"/><rect x="893.8" y="381.2" width="13.2" height="6.8" rx="1.2"/><rect x="912.0" y="379.7" width="13.2" height="6.8" rx="1.2"/><rect x="938.0" y="379.1" width="11.5" height="6.8" rx="1.2"/><rect x="876.9" y="389.1" width="13.2" height="6.8" rx="1.2"/><rect x="906.0" y="391.3" width="11.5" height="6.8" rx="1.2"/><rect x="926.6" y="388.1" width="11.5" height="6.8" rx="1.2"/><rect x="877.0" y="400.0" width="11.5" height="6.8" rx="1.2"/><rect x="891.9" y="399.4" width="13.2" height="6.8" rx="1.2"/><rect x="917.9" y="400.9" width="11.5" height="6.8" rx="1.2"/><rect x="934.0" y="399.2" width="13.2" height="6.8" rx="1.2"/><rect x="862.4" y="408.2" width="13.2" height="6.8" rx="1.2"/><rect x="896.0" y="407.6" width="11.5" height="6.8" rx="1.2"/><rect x="914.0" y="411.0" width="11.5" height="6.8" rx="1.2"/><rect x="876.0" y="412.6" width="15.0" height="6.8" rx="1.2"/><rect x="931.4" y="412.2" width="13.2" height="6.8" rx="1.2"/><rect x="887.3" y="421.7" width="15.0" height="6.8" rx="1.2"/><rect x="902.3" y="419.5" width="15.0" height="6.8" rx="1.2"/><rect x="926.1" y="420.5" width="15.0" height="6.8" rx="1.2"/><rect x="911.7" y="428.3" width="15.0" height="6.8" rx="1.2"/><rect x="877.0" y="428.9" width="11.5" height="6.8" rx="1.2"/><rect x="858.9" y="427.0" width="11.5" height="6.8" rx="1.2"/><rect x="888.9" y="433.0" width="16.8" height="6.8" rx="1.2"/><rect x="868.1" y="437.7" width="13.2" height="6.8" rx="1.2"/><rect x="902.9" y="438.1" width="11.5" height="6.8" rx="1.2"/><rect x="927.0" y="437.7" width="13.2" height="6.8" rx="1.2"/><rect x="855.1" y="445.8" width="11.5" height="6.8" rx="1.2"/><rect x="881.9" y="447.1" width="13.2" height="6.8" rx="1.2"/><rect x="900.1" y="446.5" width="13.2" height="6.8" rx="1.2"/><rect x="916.6" y="446.5" width="11.5" height="6.8" rx="1.2"/><rect x="887.9" y="455.2" width="15.0" height="6.8" rx="1.2"/><rect x="861.5" y="455.2" width="11.5" height="6.8" rx="1.2"/><rect x="958.8" y="338.6" width="15.0" height="6.8" rx="1.2"/><rect x="971.0" y="324.6" width="13.2" height="6.8" rx="1.2"/><rect x="976.1" y="345.2" width="11.5" height="6.8" rx="1.2"/><rect x="965.0" y="357.4" width="15.0" height="6.8" rx="1.2"/><rect x="972.8" y="369.9" width="13.2" height="6.8" rx="1.2"/><rect x="953.8" y="373.4" width="15.0" height="6.8" rx="1.2"/><rect x="975.4" y="378.7" width="13.2" height="6.8" rx="1.2"/><rect x="959.0" y="388.4" width="13.2" height="6.8" rx="1.2"/><rect x="951.1" y="396.9" width="11.5" height="6.8" rx="1.2"/><rect x="969.1" y="398.2" width="13.2" height="6.8" rx="1.2"/><rect x="951.8" y="406.7" width="11.5" height="6.8" rx="1.2"/><rect x="946.2" y="420.5" width="15.0" height="6.8" rx="1.2"/><rect x="965.5" y="425.1" width="11.5" height="6.8" rx="1.2"/><rect x="944.6" y="428.9" width="13.2" height="6.8" rx="1.2"/><rect x="962.2" y="438.9" width="13.2" height="6.8" rx="1.2"/><rect x="942.5" y="445.6" width="15.0" height="6.8" rx="1.2"/><rect x="963.4" y="445.6" width="13.2" height="6.8" rx="1.2"/><rect x="946.6" y="454.6" width="16.8" height="6.8" rx="1.2"/><rect x="987.9" y="306.3" width="13.2" height="6.8" rx="1.2"/><rect x="959.4" y="315.8" width="15.0" height="6.8" rx="1.2"/><rect x="986.0" y="316.5" width="13.2" height="6.8" rx="1.2"/><rect x="1004.2" y="313.0" width="13.2" height="6.8" rx="1.2"/><rect x="1030.8" y="312.4" width="11.5" height="6.8" rx="1.2"/><rect x="981.2" y="333.3" width="11.5" height="6.8" rx="1.2"/><rect x="995.2" y="329.9" width="15.0" height="6.8" rx="1.2"/><rect x="1019.5" y="322.0" width="11.5" height="6.8" rx="1.2"/><rect x="1012.4" y="330.6" width="13.2" height="6.8" rx="1.2"/><rect x="1041.3" y="326.5" width="16.8" height="6.8" rx="1.2"/><rect x="999.6" y="339.0" width="9.8" height="6.8" rx="1.2"/><rect x="1029.9" y="334.9" width="13.2" height="6.8" rx="1.2"/><rect x="1013.1" y="344.1" width="16.8" height="6.8" rx="1.2"/><rect x="1002.5" y="353.1" width="11.5" height="6.8" rx="1.2"/><rect x="980.5" y="357.5" width="11.5" height="6.8" rx="1.2"/><rect x="1030.9" y="352.5" width="15.0" height="6.8" rx="1.2"/><rect x="1053.3" y="352.3" width="11.5" height="6.8" rx="1.2"/><rect x="1024.9" y="361.3" width="13.2" height="6.8" rx="1.2"/><rect x="1069.7" y="360.4" width="11.5" height="6.8" rx="1.2"/><rect x="1043.3" y="364.2" width="11.5" height="6.8" rx="1.2"/><rect x="994.8" y="372.6" width="13.2" height="6.8" rx="1.2"/><rect x="1014.9" y="371.3" width="13.2" height="6.8" rx="1.2"/><rect x="1032.8" y="373.0" width="15.0" height="6.8" rx="1.2"/><rect x="1062.6" y="370.1" width="13.2" height="6.8" rx="1.2"/><rect x="1082.0" y="374.2" width="13.2" height="6.8" rx="1.2"/><rect x="1001.4" y="382.0" width="15.0" height="6.8" rx="1.2"/><rect x="1051.5" y="380.1" width="11.5" height="6.8" rx="1.2"/><rect x="1036.5" y="385.5" width="11.5" height="6.8" rx="1.2"/><rect x="1086.4" y="383.2" width="13.2" height="6.8" rx="1.2"/><rect x="981.6" y="389.3" width="13.2" height="6.8" rx="1.2"/><rect x="1071.0" y="386.0" width="11.5" height="6.8" rx="1.2"/><rect x="999.8" y="393.9" width="13.2" height="6.8" rx="1.2"/><rect x="1016.1" y="393.9" width="13.2" height="6.8" rx="1.2"/><rect x="1052.9" y="392.7" width="15.0" height="6.8" rx="1.2"/><rect x="1083.3" y="396.0" width="13.2" height="6.8" rx="1.2"/><rect x="990.6" y="402.1" width="11.5" height="6.8" rx="1.2"/><rect x="1017.4" y="402.7" width="13.2" height="6.8" rx="1.2"/><rect x="1033.7" y="398.3" width="13.2" height="6.8" rx="1.2"/><rect x="1066.1" y="402.7" width="15.0" height="6.8" rx="1.2"/><rect x="1047.9" y="408.6" width="15.0" height="6.8" rx="1.2"/><rect x="1084.2" y="407.1" width="15.0" height="6.8" rx="1.2"/><rect x="956.5" y="405.8" width="13.2" height="6.8" rx="1.2"/><rect x="980.7" y="411.9" width="15.0" height="6.8" rx="1.2"/><rect x="1014.9" y="411.5" width="13.2" height="6.8" rx="1.2"/><rect x="1031.5" y="411.2" width="15.0" height="6.8" rx="1.2"/><rect x="1106.5" y="411.5" width="13.2" height="6.8" rx="1.2"/><rect x="1092.7" y="415.2" width="13.2" height="6.8" rx="1.2"/><rect x="998.6" y="415.2" width="13.2" height="6.8" rx="1.2"/><rect x="1048.8" y="397.2" width="13.2" height="6.8" rx="1.2"/><rect x="1012.0" y="424.0" width="11.5" height="6.8" rx="1.2"/><rect x="1036.9" y="422.3" width="13.2" height="6.8" rx="1.2"/><rect x="1058.2" y="419.8" width="13.2" height="6.8" rx="1.2"/><rect x="1079.8" y="426.3" width="11.5" height="6.8" rx="1.2"/><rect x="984.2" y="429.5" width="13.2" height="6.8" rx="1.2"/><rect x="1001.0" y="433.2" width="9.8" height="6.8" rx="1.2"/><rect x="1031.3" y="431.7" width="13.2" height="6.8" rx="1.2"/><rect x="1053.9" y="430.7" width="16.8" height="6.8" rx="1.2"/><rect x="1088.4" y="435.5" width="13.2" height="6.8" rx="1.2"/><rect x="980.5" y="441.1" width="13.2" height="6.8" rx="1.2"/><rect x="1037.5" y="440.8" width="13.2" height="6.8" rx="1.2"/><rect x="1055.5" y="440.3" width="15.0" height="6.8" rx="1.2"/><rect x="1074.8" y="440.8" width="11.5" height="6.8" rx="1.2"/><rect x="1011.8" y="444.3" width="13.2" height="6.8" rx="1.2"/><rect x="1056.1" y="448.3" width="15.0" height="6.8" rx="1.2"/><rect x="994.9" y="451.8" width="13.2" height="6.8" rx="1.2"/><rect x="1016.8" y="453.1" width="13.2" height="6.8" rx="1.2"/><rect x="1077.7" y="454.1" width="13.2" height="6.8" rx="1.2"/><rect x="1034.7" y="461.8" width="11.5" height="6.8" rx="1.2"/><rect x="1055.1" y="458.7" width="13.2" height="6.8" rx="1.2"/><rect x="1090.0" y="459.3" width="15.0" height="6.8" rx="1.2"/><rect x="941.8" y="465.4" width="11.5" height="6.8" rx="1.2"/><rect x="961.0" y="465.0" width="13.2" height="6.8" rx="1.2"/><rect x="1007.8" y="468.7" width="15.0" height="6.8" rx="1.2"/><rect x="1066.1" y="466.2" width="15.0" height="6.8" rx="1.2"/><rect x="1045.1" y="471.6" width="13.2" height="6.8" rx="1.2"/><rect x="1084.6" y="470.6" width="13.2" height="6.8" rx="1.2"/><rect x="950.5" y="476.3" width="11.5" height="6.8" rx="1.2"/><rect x="993.0" y="476.9" width="13.2" height="6.8" rx="1.2"/><rect x="1027.9" y="477.3" width="15.0" height="6.8" rx="1.2"/><rect x="935.0" y="483.8" width="15.0" height="6.8" rx="1.2"/><rect x="962.5" y="484.4" width="11.5" height="6.8" rx="1.2"/><rect x="983.0" y="486.7" width="13.2" height="6.8" rx="1.2"/><rect x="997.4" y="486.3" width="13.2" height="6.8" rx="1.2"/><rect x="1016.8" y="487.6" width="13.2" height="6.8" rx="1.2"/><rect x="1040.5" y="487.2" width="9.8" height="6.8" rx="1.2"/><rect x="1057.8" y="481.7" width="11.5" height="6.8" rx="1.2"/><rect x="1075.5" y="481.9" width="11.5" height="6.8" rx="1.2"/><rect x="1093.0" y="481.9" width="11.5" height="6.8" rx="1.2"/><rect x="947.6" y="493.2" width="15.0" height="6.8" rx="1.2"/><rect x="965.4" y="496.3" width="13.2" height="6.8" rx="1.2"/><rect x="989.9" y="499.2" width="13.2" height="6.8" rx="1.2"/><rect x="1009.0" y="496.3" width="15.0" height="6.8" rx="1.2"/><rect x="1030.2" y="497.0" width="11.5" height="6.8" rx="1.2"/><rect x="1045.2" y="497.0" width="16.8" height="6.8" rx="1.2"/><rect x="1066.4" y="497.0" width="13.2" height="6.8" rx="1.2"/><rect x="1081.4" y="499.7" width="13.2" height="6.8" rx="1.2"/><rect x="935.5" y="498.2" width="11.5" height="6.8" rx="1.2"/><rect x="945.0" y="500.5" width="15.0" height="6.8" rx="1.2"/><rect x="937.2" y="508.6" width="13.2" height="6.8" rx="1.2"/><rect x="962.9" y="508.9" width="13.2" height="6.8" rx="1.2"/><rect x="982.3" y="508.0" width="13.2" height="6.8" rx="1.2"/><rect x="1000.3" y="508.0" width="15.0" height="6.8" rx="1.2"/><rect x="1020.0" y="505.8" width="13.2" height="6.8" rx="1.2"/><rect x="1039.0" y="507.0" width="11.5" height="6.8" rx="1.2"/><rect x="1058.3" y="507.0" width="16.8" height="6.8" rx="1.2"/><rect x="1086.8" y="507.0" width="15.0" height="6.8" rx="1.2"/><rect x="1128.4" y="404.0" width="15.0" height="6.8" rx="1.2"/><rect x="1127.5" y="417.7" width="15.0" height="6.8" rx="1.2"/><rect x="1129.2" y="430.6" width="11.5" height="6.8" rx="1.2"/><rect x="1110.6" y="437.7" width="15.0" height="6.8" rx="1.2"/><rect x="1095.5" y="459.9" width="15.0" height="6.8" rx="1.2"/><rect x="1113.2" y="469.4" width="11.5" height="6.8" rx="1.2"/><rect x="1099.0" y="481.5" width="11.5" height="6.8" rx="1.2"/><rect x="879.0" y="456.6" width="11.5" height="6.8" rx="1.2"/><rect x="909.5" y="460.9" width="11.5" height="6.8" rx="1.2"/><rect x="877.4" y="465.3" width="13.2" height="6.8" rx="1.2"/><rect x="854.1" y="468.6" width="13.2" height="6.8" rx="1.2"/><rect x="895.2" y="471.3" width="15.0" height="6.8" rx="1.2"/><rect x="869.4" y="478.6" width="13.2" height="6.8" rx="1.2"/><rect x="889.5" y="482.6" width="11.5" height="6.8" rx="1.2"/><rect x="909.0" y="481.3" width="11.5" height="6.8" rx="1.2"/><rect x="875.0" y="489.3" width="11.5" height="6.8" rx="1.2"/><rect x="895.4" y="493.6" width="13.2" height="6.8" rx="1.2"/><rect x="914.5" y="490.6" width="15.0" height="6.8" rx="1.2"/><rect x="928.2" y="456.6" width="11.5" height="6.8" rx="1.2"/><rect x="942.1" y="455.0" width="13.2" height="6.8" rx="1.2"/><rect x="923.4" y="471.9" width="13.2" height="6.8" rx="1.2"/><rect x="958.1" y="455.3" width="13.2" height="6.8" rx="1.2"/><rect x="955.8" y="438.6" width="15.0" height="6.8" rx="1.2"/><rect x="57.6" y="721.4" width="22.0" height="6.8" rx="1.2"/><rect x="68.9" y="775.0" width="13.2" height="6.8" rx="1.2"/><rect x="126.9" y="768.1" width="13.2" height="6.8" rx="1.2"/><rect x="117.8" y="782.9" width="13.2" height="6.8" rx="1.2"/><rect x="138.4" y="788.2" width="18.5" height="6.8" rx="1.2"/><rect x="109.6" y="800.5" width="13.2" height="6.8" rx="1.2"/><rect x="127.8" y="803.0" width="13.2" height="6.8" rx="1.2"/><rect x="102.4" y="811.4" width="15.0" height="6.8" rx="1.2"/><rect x="142.3" y="814.2" width="15.0" height="6.8" rx="1.2"/><rect x="120.2" y="817.7" width="13.2" height="6.8" rx="1.2"/><rect x="72.5" y="820.2" width="13.2" height="6.8" rx="1.2"/><rect x="106.8" y="827.7" width="13.2" height="6.8" rx="1.2"/><rect x="137.5" y="827.1" width="13.2" height="6.8" rx="1.2"/><rect x="156.2" y="833.7" width="11.5" height="6.8" rx="1.2"/><rect x="119.6" y="836.3" width="16.8" height="6.8" rx="1.2"/><rect x="96.0" y="843.0" width="18.5" height="6.8" rx="1.2"/><rect x="142.9" y="842.5" width="11.5" height="6.8" rx="1.2"/><rect x="89.1" y="852.4" width="15.0" height="6.8" rx="1.2"/><rect x="107.7" y="852.7" width="11.5" height="6.8" rx="1.2"/><rect x="154.8" y="852.4" width="11.5" height="6.8" rx="1.2"/><rect x="102.0" y="861.1" width="11.5" height="6.8" rx="1.2"/><rect x="119.9" y="861.1" width="16.8" height="6.8" rx="1.2"/><rect x="139.8" y="857.0" width="11.5" height="6.8" rx="1.2"/><rect x="153.6" y="865.3" width="11.5" height="6.8" rx="1.2"/><rect x="175.8" y="860.1" width="11.5" height="6.8" rx="1.2"/><rect x="158.1" y="876.0" width="22.0" height="6.8" rx="1.2"/><rect x="156.7" y="886.2" width="22.0" height="6.8" rx="1.2"/><rect x="81.4" y="870.7" width="16.8" height="6.8" rx="1.2"/><rect x="104.3" y="875.0" width="13.2" height="6.8" rx="1.2"/><rect x="137.4" y="869.4" width="11.5" height="6.8" rx="1.2"/><rect x="88.3" y="881.8" width="11.5" height="6.8" rx="1.2"/><rect x="122.4" y="876.9" width="8.0" height="6.8" rx="1.2"/><rect x="142.8" y="878.5" width="13.2" height="6.8" rx="1.2"/><rect x="102.4" y="886.4" width="22.0" height="6.8" rx="1.2"/><rect x="130.1" y="889.6" width="15.0" height="6.8" rx="1.2"/><rect x="107.1" y="895.9" width="15.0" height="6.8" rx="1.2"/><rect x="146.5" y="896.5" width="13.2" height="6.8" rx="1.2"/><rect x="94.6" y="900.1" width="9.8" height="6.8" rx="1.2"/><rect x="111.1" y="906.0" width="13.2" height="6.8" rx="1.2"/><rect x="138.5" y="906.0" width="16.8" height="6.8" rx="1.2"/><rect x="158.9" y="906.0" width="13.2" height="6.8" rx="1.2"/><rect x="91.3" y="911.4" width="16.8" height="6.8" rx="1.2"/><rect x="143.4" y="916.2" width="16.8" height="6.8" rx="1.2"/><rect x="100.6" y="921.6" width="16.8" height="6.8" rx="1.2"/><rect x="121.1" y="922.2" width="16.8" height="6.8" rx="1.2"/><rect x="140.8" y="929.6" width="18.5" height="6.8" rx="1.2"/><rect x="102.8" y="930.0" width="15.0" height="6.8" rx="1.2"/><rect x="127.9" y="938.7" width="16.8" height="6.8" rx="1.2"/><rect x="113.5" y="941.8" width="11.5" height="6.8" rx="1.2"/><rect x="142.9" y="948.2" width="15.0" height="6.8" rx="1.2"/><rect x="101.8" y="950.7" width="13.2" height="6.8" rx="1.2"/><rect x="121.7" y="954.1" width="16.8" height="6.8" rx="1.2"/><rect x="154.6" y="958.2" width="13.2" height="6.8" rx="1.2"/><rect x="111.7" y="963.1" width="13.2" height="6.8" rx="1.2"/><rect x="139.0" y="962.3" width="13.2" height="6.8" rx="1.2"/><rect x="126.6" y="972.1" width="16.8" height="6.8" rx="1.2"/><rect x="106.4" y="982.0" width="13.2" height="6.8" rx="1.2"/><rect x="118.2" y="991.1" width="15.0" height="6.8" rx="1.2"/><rect x="144.6" y="983.2" width="11.5" height="6.8" rx="1.2"/><rect x="139.2" y="991.8" width="15.0" height="6.8" rx="1.2"/><rect x="487.6" y="648.6" width="11.5" height="6.8" rx="1.2"/><rect x="530.5" y="682.1" width="22.0" height="6.8" rx="1.2"/><rect x="393.3" y="692.2" width="15.0" height="6.8" rx="1.2"/><rect x="415.4" y="691.0" width="16.8" height="6.8" rx="1.2"/><rect x="446.6" y="691.0" width="13.2" height="6.8" rx="1.2"/><rect x="388.9" y="713.4" width="13.2" height="6.8" rx="1.2"/><rect x="406.1" y="710.4" width="11.5" height="6.8" rx="1.2"/><rect x="421.0" y="710.7" width="13.2" height="6.8" rx="1.2"/><rect x="405.2" y="720.9" width="22.0" height="6.8" rx="1.2"/><rect x="442.1" y="723.1" width="11.5" height="6.8" rx="1.2"/><rect x="391.6" y="728.7" width="11.5" height="6.8" rx="1.2"/><rect x="425.4" y="729.2" width="11.5" height="6.8" rx="1.2"/><rect x="445.7" y="734.0" width="13.2" height="6.8" rx="1.2"/><rect x="404.3" y="737.2" width="13.2" height="6.8" rx="1.2"/><rect x="463.3" y="739.3" width="9.8" height="6.8" rx="1.2"/><rect x="444.8" y="743.4" width="15.0" height="6.8" rx="1.2"/><rect x="416.9" y="746.9" width="18.5" height="6.8" rx="1.2"/><rect x="409.6" y="755.2" width="13.2" height="6.8" rx="1.2"/><rect x="422.7" y="768.1" width="9.8" height="6.8" rx="1.2"/><rect x="438.7" y="770.2" width="15.0" height="6.8" rx="1.2"/><rect x="451.9" y="779.2" width="15.0" height="6.8" rx="1.2"/><rect x="517.8" y="790.1" width="11.5" height="6.8" rx="1.2"/><rect x="423.7" y="805.1" width="13.2" height="6.8" rx="1.2"/><rect x="390.1" y="812.2" width="9.8" height="6.8" rx="1.2"/><rect x="407.8" y="814.0" width="13.2" height="6.8" rx="1.2"/><rect x="418.0" y="825.1" width="15.0" height="6.8" rx="1.2"/><rect x="401.6" y="890.4" width="13.2" height="6.8" rx="1.2"/><rect x="404.6" y="905.9" width="11.5" height="6.8" rx="1.2"/><rect x="404.3" y="921.1" width="13.2" height="6.8" rx="1.2"/><rect x="509.3" y="804.2" width="15.0" height="6.8" rx="1.2"/><rect x="546.8" y="812.2" width="15.0" height="6.8" rx="1.2"/><rect x="373.0" y="976.8" width="13.2" height="6.8" rx="1.2"/><rect x="341.2" y="695.2" width="15.0" height="6.8" rx="1.2"/><rect x="290.4" y="705.5" width="11.5" height="6.8" rx="1.2"/><rect x="331.6" y="704.0" width="11.5" height="6.8" rx="1.2"/><rect x="347.1" y="706.5" width="13.2" height="6.8" rx="1.2"/><rect x="313.4" y="714.0" width="11.5" height="6.8" rx="1.2"/><rect x="272.2" y="715.7" width="13.2" height="6.8" rx="1.2"/><rect x="335.4" y="715.2" width="11.5" height="6.8" rx="1.2"/><rect x="254.6" y="717.4" width="13.2" height="6.8" rx="1.2"/><rect x="293.4" y="720.8" width="11.5" height="6.8" rx="1.2"/><rect x="313.2" y="723.3" width="13.2" height="6.8" rx="1.2"/><rect x="299.8" y="728.0" width="15.0" height="6.8" rx="1.2"/><rect x="329.5" y="728.3" width="13.2" height="6.8" rx="1.2"/><rect x="258.4" y="727.4" width="11.5" height="6.8" rx="1.2"/><rect x="273.4" y="726.5" width="15.0" height="6.8" rx="1.2"/><rect x="287.1" y="734.6" width="11.5" height="6.8" rx="1.2"/><rect x="246.7" y="736.6" width="13.2" height="6.8" rx="1.2"/><rect x="265.1" y="737.8" width="11.5" height="6.8" rx="1.2"/><rect x="311.6" y="739.3" width="11.5" height="6.8" rx="1.2"/><rect x="336.2" y="739.0" width="13.2" height="6.8" rx="1.2"/><rect x="222.6" y="737.7" width="15.0" height="6.8" rx="1.2"/><rect x="239.2" y="746.2" width="11.5" height="6.8" rx="1.2"/><rect x="259.9" y="747.5" width="13.2" height="6.8" rx="1.2"/><rect x="279.4" y="750.0" width="11.5" height="6.8" rx="1.2"/><rect x="295.6" y="750.6" width="11.5" height="6.8" rx="1.2"/><rect x="321.7" y="750.0" width="15.0" height="6.8" rx="1.2"/><rect x="350.4" y="742.8" width="11.5" height="6.8" rx="1.2"/><rect x="347.7" y="753.4" width="13.2" height="6.8" rx="1.2"/><rect x="222.0" y="755.4" width="13.2" height="6.8" rx="1.2"/><rect x="244.2" y="755.9" width="11.5" height="6.8" rx="1.2"/><rect x="288.8" y="760.0" width="13.2" height="6.8" rx="1.2"/><rect x="262.4" y="764.4" width="13.2" height="6.8" rx="1.2"/><rect x="204.4" y="762.6" width="15.0" height="6.8" rx="1.2"/><rect x="226.3" y="763.8" width="13.2" height="6.8" rx="1.2"/><rect x="308.6" y="765.7" width="13.2" height="6.8" rx="1.2"/><rect x="332.9" y="764.4" width="13.2" height="6.8" rx="1.2"/><rect x="347.1" y="765.1" width="13.2" height="6.8" rx="1.2"/><rect x="244.2" y="769.7" width="11.5" height="6.8" rx="1.2"/><rect x="214.1" y="772.6" width="11.5" height="6.8" rx="1.2"/><rect x="198.1" y="776.6" width="11.5" height="6.8" rx="1.2"/><rect x="262.1" y="774.8" width="11.5" height="6.8" rx="1.2"/><rect x="278.5" y="773.2" width="13.2" height="6.8" rx="1.2"/><rect x="324.9" y="773.2" width="15.0" height="6.8" rx="1.2"/><rect x="341.5" y="773.8" width="13.2" height="6.8" rx="1.2"/><rect x="294.4" y="778.9" width="13.2" height="6.8" rx="1.2"/><rect x="228.5" y="778.9" width="13.2" height="6.8" rx="1.2"/><rect x="307.7" y="782.2" width="16.8" height="6.8" rx="1.2"/><rect x="212.2" y="786.1" width="13.2" height="6.8" rx="1.2"/><rect x="246.1" y="784.8" width="13.2" height="6.8" rx="1.2"/><rect x="263.5" y="787.3" width="9.8" height="6.8" rx="1.2"/><rect x="279.1" y="786.1" width="15.0" height="6.8" rx="1.2"/><rect x="340.9" y="786.0" width="9.8" height="6.8" rx="1.2"/><rect x="294.4" y="793.0" width="13.2" height="6.8" rx="1.2"/><rect x="319.1" y="792.7" width="11.5" height="6.8" rx="1.2"/><rect x="229.2" y="795.5" width="13.2" height="6.8" rx="1.2"/><rect x="249.9" y="795.8" width="13.2" height="6.8" rx="1.2"/><rect x="204.7" y="798.3" width="13.2" height="6.8" rx="1.2"/><rect x="342.4" y="800.8" width="11.5" height="6.8" rx="1.2"/><rect x="231.8" y="804.6" width="11.5" height="6.8" rx="1.2"/><rect x="262.6" y="805.2" width="11.5" height="6.8" rx="1.2"/><rect x="296.6" y="803.3" width="15.0" height="6.8" rx="1.2"/><rect x="215.6" y="807.3" width="11.5" height="6.8" rx="1.2"/><rect x="195.9" y="809.2" width="13.2" height="6.8" rx="1.2"/><rect x="275.0" y="811.5" width="13.2" height="6.8" rx="1.2"/><rect x="330.0" y="811.5" width="9.8" height="6.8" rx="1.2"/><rect x="349.2" y="811.5" width="11.5" height="6.8" rx="1.2"/><rect x="246.1" y="814.0" width="13.2" height="6.8" rx="1.2"/><rect x="371.3" y="705.9" width="15.0" height="6.8" rx="1.2"/><rect x="358.4" y="716.4" width="13.2" height="6.8" rx="1.2"/><rect x="346.9" y="726.2" width="13.2" height="6.8" rx="1.2"/><rect x="373.9" y="725.2" width="15.0" height="6.8" rx="1.2"/><rect x="360.7" y="732.8" width="13.2" height="6.8" rx="1.2"/><rect x="375.7" y="742.5" width="15.0" height="6.8" rx="1.2"/><rect x="367.2" y="751.7" width="15.0" height="6.8" rx="1.2"/><rect x="394.6" y="751.3" width="11.5" height="6.8" rx="1.2"/><rect x="384.9" y="759.2" width="11.5" height="6.8" rx="1.2"/><rect x="367.2" y="770.4" width="13.2" height="6.8" rx="1.2"/><rect x="394.6" y="770.4" width="13.2" height="6.8" rx="1.2"/><rect x="365.4" y="781.6" width="15.0" height="6.8" rx="1.2"/><rect x="384.9" y="782.2" width="13.2" height="6.8" rx="1.2"/><rect x="413.1" y="777.8" width="11.5" height="6.8" rx="1.2"/><rect x="402.1" y="786.9" width="15.0" height="6.8" rx="1.2"/><rect x="419.2" y="794.6" width="11.5" height="6.8" rx="1.2"/><rect x="382.2" y="791.9" width="13.2" height="6.8" rx="1.2"/><rect x="186.5" y="785.7" width="13.2" height="6.8" rx="1.2"/><rect x="183.2" y="818.3" width="11.5" height="6.8" rx="1.2"/><rect x="358.4" y="800.7" width="11.5" height="6.8" rx="1.2"/><rect x="376.9" y="800.7" width="13.2" height="6.8" rx="1.2"/><rect x="400.4" y="802.1" width="15.0" height="6.8" rx="1.2"/><rect x="365.8" y="809.5" width="11.5" height="6.8" rx="1.2"/><rect x="353.9" y="821.0" width="11.5" height="6.8" rx="1.2"/><rect x="376.0" y="823.1" width="13.2" height="6.8" rx="1.2"/><rect x="391.9" y="831.6" width="13.2" height="6.8" rx="1.2"/><rect x="364.6" y="832.8" width="11.5" height="6.8" rx="1.2"/><rect x="347.8" y="832.8" width="11.5" height="6.8" rx="1.2"/><rect x="394.2" y="839.5" width="15.0" height="6.8" rx="1.2"/><rect x="380.4" y="842.7" width="11.5" height="6.8" rx="1.2"/><rect x="360.7" y="844.0" width="13.2" height="6.8" rx="1.2"/><rect x="384.3" y="850.5" width="13.2" height="6.8" rx="1.2"/><rect x="402.4" y="853.3" width="11.5" height="6.8" rx="1.2"/><rect x="361.9" y="856.3" width="11.5" height="6.8" rx="1.2"/><rect x="376.9" y="862.1" width="11.5" height="6.8" rx="1.2"/><rect x="389.6" y="861.6" width="13.2" height="6.8" rx="1.2"/><rect x="356.3" y="867.4" width="15.0" height="6.8" rx="1.2"/><rect x="382.1" y="872.2" width="11.5" height="6.8" rx="1.2"/><rect x="388.9" y="881.5" width="13.2" height="6.8" rx="1.2"/><rect x="358.4" y="876.9" width="13.2" height="6.8" rx="1.2"/><rect x="370.8" y="886.3" width="11.5" height="6.8" rx="1.2"/><rect x="355.4" y="896.0" width="13.2" height="6.8" rx="1.2"/><rect x="382.7" y="899.5" width="15.0" height="6.8" rx="1.2"/><rect x="344.3" y="885.4" width="15.0" height="6.8" rx="1.2"/><rect x="368.1" y="906.6" width="11.5" height="6.8" rx="1.2"/><rect x="347.8" y="904.5" width="11.5" height="6.8" rx="1.2"/><rect x="354.3" y="914.0" width="13.2" height="6.8" rx="1.2"/><rect x="376.0" y="916.8" width="13.2" height="6.8" rx="1.2"/><rect x="349.6" y="923.9" width="15.0" height="6.8" rx="1.2"/><rect x="361.9" y="933.1" width="13.2" height="6.8" rx="1.2"/><rect x="346.0" y="938.0" width="15.0" height="6.8" rx="1.2"/><rect x="354.0" y="945.4" width="15.0" height="6.8" rx="1.2"/><rect x="208.1" y="819.2" width="11.5" height="6.8" rx="1.2"/><rect x="223.5" y="817.1" width="13.2" height="6.8" rx="1.2"/><rect x="289.1" y="824.0" width="15.0" height="6.8" rx="1.2"/><rect x="308.2" y="822.3" width="13.2" height="6.8" rx="1.2"/><rect x="333.6" y="821.1" width="11.5" height="6.8" rx="1.2"/><rect x="346.8" y="821.4" width="15.0" height="6.8" rx="1.2"/><rect x="250.2" y="824.5" width="15.0" height="6.8" rx="1.2"/><rect x="234.4" y="825.2" width="11.5" height="6.8" rx="1.2"/><rect x="197.8" y="828.6" width="13.2" height="6.8" rx="1.2"/><rect x="214.5" y="828.0" width="15.0" height="6.8" rx="1.2"/><rect x="317.3" y="830.7" width="15.0" height="6.8" rx="1.2"/><rect x="335.4" y="830.7" width="11.5" height="6.8" rx="1.2"/><rect x="194.7" y="838.0" width="13.2" height="6.8" rx="1.2"/><rect x="211.6" y="838.0" width="13.2" height="6.8" rx="1.2"/><rect x="230.1" y="836.5" width="15.0" height="6.8" rx="1.2"/><rect x="246.1" y="836.8" width="13.2" height="6.8" rx="1.2"/><rect x="263.9" y="842.4" width="11.5" height="6.8" rx="1.2"/><rect x="281.6" y="844.0" width="15.0" height="6.8" rx="1.2"/><rect x="299.1" y="840.5" width="15.0" height="6.8" rx="1.2"/><rect x="320.9" y="839.9" width="11.5" height="6.8" rx="1.2"/><rect x="338.6" y="844.3" width="11.5" height="6.8" rx="1.2"/><rect x="205.3" y="850.3" width="13.2" height="6.8" rx="1.2"/><rect x="224.8" y="847.8" width="13.2" height="6.8" rx="1.2"/><rect x="243.8" y="846.8" width="11.5" height="6.8" rx="1.2"/><rect x="258.9" y="851.8" width="11.5" height="6.8" rx="1.2"/><rect x="301.7" y="850.6" width="15.0" height="6.8" rx="1.2"/><rect x="322.4" y="851.2" width="15.0" height="6.8" rx="1.2"/><rect x="292.1" y="858.1" width="11.5" height="6.8" rx="1.2"/><rect x="210.2" y="861.8" width="9.8" height="6.8" rx="1.2"/><rect x="228.9" y="854.9" width="15.0" height="6.8" rx="1.2"/><rect x="251.4" y="862.1" width="11.5" height="6.8" rx="1.2"/><rect x="273.9" y="860.0" width="11.5" height="6.8" rx="1.2"/><rect x="342.1" y="864.4" width="13.2" height="6.8" rx="1.2"/><rect x="230.1" y="865.4" width="15.0" height="6.8" rx="1.2"/><rect x="300.8" y="868.4" width="16.8" height="6.8" rx="1.2"/><rect x="273.1" y="869.4" width="13.2" height="6.8" rx="1.2"/><rect x="206.6" y="871.6" width="13.2" height="6.8" rx="1.2"/><rect x="323.3" y="870.0" width="13.2" height="6.8" rx="1.2"/><rect x="224.3" y="875.4" width="11.5" height="6.8" rx="1.2"/><rect x="245.2" y="875.0" width="15.0" height="6.8" rx="1.2"/><rect x="261.2" y="872.9" width="13.2" height="6.8" rx="1.2"/><rect x="338.7" y="876.9" width="15.0" height="6.8" rx="1.2"/><rect x="308.4" y="878.8" width="11.5" height="6.8" rx="1.2"/><rect x="284.6" y="879.4" width="11.5" height="6.8" rx="1.2"/><rect x="206.2" y="881.7" width="11.5" height="6.8" rx="1.2"/><rect x="233.8" y="885.1" width="11.5" height="6.8" rx="1.2"/><rect x="256.4" y="885.9" width="11.5" height="6.8" rx="1.2"/><rect x="289.1" y="887.9" width="15.0" height="6.8" rx="1.2"/><rect x="197.2" y="893.0" width="13.2" height="6.8" rx="1.2"/><rect x="216.2" y="892.0" width="11.5" height="6.8" rx="1.2"/><rect x="243.8" y="893.0" width="11.5" height="6.8" rx="1.2"/><rect x="296.3" y="896.3" width="13.2" height="6.8" rx="1.2"/><rect x="325.4" y="892.6" width="11.5" height="6.8" rx="1.2"/><rect x="222.6" y="899.7" width="15.0" height="6.8" rx="1.2"/><rect x="246.9" y="902.2" width="11.5" height="6.8" rx="1.2"/><rect x="260.9" y="902.4" width="15.0" height="6.8" rx="1.2"/><rect x="306.3" y="904.5" width="13.2" height="6.8" rx="1.2"/><rect x="327.9" y="904.3" width="11.5" height="6.8" rx="1.2"/><rect x="205.9" y="906.6" width="13.2" height="6.8" rx="1.2"/><rect x="279.1" y="907.6" width="15.0" height="6.8" rx="1.2"/><rect x="235.1" y="911.0" width="11.5" height="6.8" rx="1.2"/><rect x="338.3" y="913.3" width="13.2" height="6.8" rx="1.2"/><rect x="220.6" y="914.9" width="11.5" height="6.8" rx="1.2"/><rect x="317.2" y="915.6" width="11.5" height="6.8" rx="1.2"/><rect x="289.6" y="916.4" width="11.5" height="6.8" rx="1.2"/><rect x="253.9" y="916.8" width="11.5" height="6.8" rx="1.2"/><rect x="274.6" y="920.2" width="11.5" height="6.8" rx="1.2"/><rect x="235.2" y="921.4" width="15.0" height="6.8" rx="1.2"/><rect x="209.3" y="925.2" width="11.5" height="6.8" rx="1.2"/><rect x="305.9" y="926.5" width="11.5" height="6.8" rx="1.2"/><rect x="330.5" y="927.7" width="15.0" height="6.8" rx="1.2"/><rect x="196.3" y="934.0" width="15.0" height="6.8" rx="1.2"/><rect x="227.3" y="932.7" width="13.2" height="6.8" rx="1.2"/><rect x="253.6" y="931.5" width="13.2" height="6.8" rx="1.2"/><rect x="216.1" y="942.8" width="13.2" height="6.8" rx="1.2"/><rect x="250.8" y="938.4" width="9.8" height="6.8" rx="1.2"/><rect x="236.5" y="947.8" width="13.2" height="6.8" rx="1.2"/><rect x="256.9" y="951.7" width="11.5" height="6.8" rx="1.2"/><rect x="227.9" y="958.0" width="13.2" height="6.8" rx="1.2"/><rect x="247.5" y="962.4" width="13.2" height="6.8" rx="1.2"/><rect x="267.1" y="960.8" width="11.5" height="6.8" rx="1.2"/><rect x="279.6" y="947.8" width="15.0" height="6.8" rx="1.2"/><rect x="285.9" y="956.4" width="13.2" height="6.8" rx="1.2"/><rect x="296.1" y="939.1" width="13.2" height="6.8" rx="1.2"/><rect x="304.0" y="947.3" width="13.2" height="6.8" rx="1.2"/><rect x="317.3" y="937.6" width="13.2" height="6.8" rx="1.2"/><rect x="334.5" y="946.2" width="15.0" height="6.8" rx="1.2"/><rect x="323.7" y="956.1" width="9.8" height="6.8" rx="1.2"/><rect x="341.6" y="956.4" width="13.2" height="6.8" rx="1.2"/><rect x="354.2" y="965.8" width="11.5" height="6.8" rx="1.2"/><rect x="318.1" y="964.7" width="13.2" height="6.8" rx="1.2"/><rect x="303.2" y="965.0" width="13.2" height="6.8" rx="1.2"/><rect x="334.7" y="967.7" width="9.8" height="6.8" rx="1.2"/><rect x="234.5" y="972.1" width="13.2" height="6.8" rx="1.2"/><rect x="257.6" y="972.1" width="15.0" height="6.8" rx="1.2"/><rect x="278.1" y="970.2" width="11.5" height="6.8" rx="1.2"/><rect x="295.4" y="975.2" width="11.5" height="6.8" rx="1.2"/><rect x="314.2" y="977.1" width="13.2" height="6.8" rx="1.2"/><rect x="248.3" y="980.7" width="13.2" height="6.8" rx="1.2"/><rect x="278.9" y="983.9" width="13.2" height="6.8" rx="1.2"/><rect x="294.5" y="987.0" width="15.0" height="6.8" rx="1.2"/><rect x="329.9" y="986.5" width="13.2" height="6.8" rx="1.2"/><rect x="233.9" y="990.1" width="13.2" height="6.8" rx="1.2"/><rect x="264.0" y="990.9" width="13.2" height="6.8" rx="1.2"/><rect x="312.3" y="991.7" width="13.2" height="6.8" rx="1.2"/><rect x="250.8" y="1000.0" width="11.5" height="6.8" rx="1.2"/><rect x="274.2" y="999.5" width="13.2" height="6.8" rx="1.2"/><rect x="298.6" y="1001.1" width="11.5" height="6.8" rx="1.2"/><rect x="260.0" y="1009.7" width="15.0" height="6.8" rx="1.2"/><rect x="287.6" y="1009.4" width="11.5" height="6.8" rx="1.2"/><rect x="1168.7" y="648.5" width="11.5" height="6.8" rx="1.2"/><rect x="1088.9" y="774.6" width="13.2" height="6.8" rx="1.2"/><rect x="1148.5" y="817.8" width="11.5" height="6.8" rx="1.2"/><rect x="1074.0" y="825.0" width="13.2" height="6.8" rx="1.2"/><rect x="1099.9" y="831.8" width="15.0" height="6.8" rx="1.2"/><rect x="1124.8" y="875.0" width="11.5" height="6.8" rx="1.2"/><rect x="1141.6" y="888.5" width="15.0" height="6.8" rx="1.2"/><rect x="1044.8" y="889.4" width="13.2" height="6.8" rx="1.2"/><rect x="1096.3" y="890.0" width="13.2" height="6.8" rx="1.2"/><rect x="1214.1" y="887.6" width="13.2" height="6.8" rx="1.2"/><rect x="1033.7" y="902.9" width="13.2" height="6.8" rx="1.2"/><rect x="1057.0" y="903.8" width="13.2" height="6.8" rx="1.2"/><rect x="1056.2" y="913.9" width="11.5" height="6.8" rx="1.2"/><rect x="1040.3" y="920.8" width="13.2" height="6.8" rx="1.2"/><rect x="1079.5" y="919.3" width="11.5" height="6.8" rx="1.2"/><rect x="1104.3" y="930.3" width="13.2" height="6.8" rx="1.2"/><rect x="1147.0" y="933.3" width="13.2" height="6.8" rx="1.2"/><rect x="1068.8" y="943.4" width="13.2" height="6.8" rx="1.2"/><rect x="1101.0" y="942.1" width="11.5" height="6.8" rx="1.2"/><rect x="1128.2" y="943.7" width="13.2" height="6.8" rx="1.2"/><rect x="1146.5" y="943.1" width="11.5" height="6.8" rx="1.2"/><rect x="1084.2" y="948.4" width="11.5" height="6.8" rx="1.2"/><rect x="1097.4" y="956.9" width="13.2" height="6.8" rx="1.2"/><rect x="1052.6" y="960.9" width="15.0" height="6.8" rx="1.2"/><rect x="1071.7" y="962.9" width="13.2" height="6.8" rx="1.2"/><rect x="1096.7" y="966.3" width="18.5" height="6.8" rx="1.2"/><rect x="1102.2" y="984.3" width="15.0" height="6.8" rx="1.2"/><rect x="1122.9" y="990.4" width="15.0" height="6.8" rx="1.2"/><rect x="1015.9" y="937.5" width="9.8" height="6.8" rx="1.2"/><rect x="1017.7" y="947.9" width="13.2" height="6.8" rx="1.2"/><rect x="987.0" y="959.4" width="13.2" height="6.8" rx="1.2"/><rect x="1004.9" y="958.8" width="13.2" height="6.8" rx="1.2"/><rect x="1019.8" y="959.7" width="11.5" height="6.8" rx="1.2"/><rect x="1000.4" y="968.2" width="11.5" height="6.8" rx="1.2"/><rect x="1095.2" y="1003.9" width="11.5" height="6.8" rx="1.2"/><rect x="1113.7" y="1002.7" width="13.2" height="6.8" rx="1.2"/><rect x="1102.7" y="1014.0" width="11.5" height="6.8" rx="1.2"/><rect x="1125.8" y="1014.0" width="11.5" height="6.8" rx="1.2"/><rect x="1119.1" y="1024.0" width="15.0" height="6.8" rx="1.2"/><rect x="1144.0" y="1026.1" width="9.8" height="6.8" rx="1.2"/><rect x="1116.5" y="1034.0" width="11.5" height="6.8" rx="1.2"/><rect x="1134.7" y="1077.9" width="11.5" height="6.8" rx="1.2"/><rect x="1118.5" y="1087.2" width="15.0" height="6.8" rx="1.2"/><rect x="1183.6" y="993.2" width="13.2" height="6.8" rx="1.2"/><rect x="1194.3" y="1006.0" width="11.5" height="6.8" rx="1.2"/><rect x="1004.5" y="1030.8" width="13.2" height="6.8" rx="1.2"/><rect x="737.4" y="1072.0" width="15.0" height="6.8" rx="1.2"/><rect x="718.9" y="1085.6" width="15.0" height="6.8" rx="1.2"/><rect x="736.8" y="1085.8" width="16.8" height="6.8" rx="1.2"/><rect x="803.9" y="1054.8" width="13.2" height="6.8" rx="1.2"/><rect x="787.9" y="1064.9" width="15.0" height="6.8" rx="1.2"/><rect x="819.9" y="1063.9" width="11.5" height="6.8" rx="1.2"/><rect x="833.0" y="1050.4" width="20.2" height="6.8" rx="1.2"/><rect x="851.5" y="1060.7" width="11.5" height="6.8" rx="1.2"/><rect x="805.4" y="1070.5" width="11.5" height="6.8" rx="1.2"/><rect x="783.0" y="1076.2" width="11.5" height="6.8" rx="1.2"/><rect x="858.8" y="1070.3" width="15.0" height="6.8" rx="1.2"/><rect x="835.6" y="1071.1" width="15.0" height="6.8" rx="1.2"/><rect x="822.4" y="1077.4" width="11.5" height="6.8" rx="1.2"/><rect x="783.5" y="1086.6" width="11.5" height="6.8" rx="1.2"/><rect x="854.4" y="1081.2" width="11.5" height="6.8" rx="1.2"/><rect x="807.7" y="1088.1" width="13.2" height="6.8" rx="1.2"/><rect x="826.5" y="1089.3" width="13.2" height="6.8" rx="1.2"/><rect x="844.5" y="1092.1" width="9.8" height="6.8" rx="1.2"/><rect x="792.6" y="1096.9" width="13.2" height="6.8" rx="1.2"/><rect x="814.8" y="1099.1" width="11.5" height="6.8" rx="1.2"/><rect x="864.4" y="1051.3" width="11.5" height="6.8" rx="1.2"/><rect x="869.4" y="1088.3" width="11.5" height="6.8" rx="1.2"/><rect x="1023.0" y="927.8" width="11.5" height="6.8" rx="1.2"/><rect x="1029.6" y="936.2" width="13.2" height="6.8" rx="1.2"/><rect x="994.8" y="946.0" width="15.0" height="6.8" rx="1.2"/><rect x="1032.5" y="950.0" width="11.5" height="6.8" rx="1.2"/><rect x="979.6" y="973.0" width="11.5" height="6.8" rx="1.2"/><rect x="1021.2" y="974.8" width="15.0" height="6.8" rx="1.2"/><rect x="1032.1" y="970.1" width="13.2" height="6.8" rx="1.2"/><rect x="970.9" y="981.4" width="11.5" height="6.8" rx="1.2"/><rect x="987.9" y="984.8" width="15.0" height="6.8" rx="1.2"/><rect x="1009.2" y="983.9" width="13.2" height="6.8" rx="1.2"/><rect x="957.4" y="990.4" width="11.5" height="6.8" rx="1.2"/><rect x="982.1" y="994.3" width="11.5" height="6.8" rx="1.2"/><rect x="1003.3" y="993.0" width="13.2" height="6.8" rx="1.2"/><rect x="1024.9" y="989.5" width="15.0" height="6.8" rx="1.2"/><rect x="1069.2" y="931.8" width="13.2" height="6.8" rx="1.2"/><rect x="1050.7" y="936.8" width="16.8" height="6.8" rx="1.2"/><rect x="1054.5" y="950.0" width="13.2" height="6.8" rx="1.2"/><rect x="1037.8" y="969.7" width="11.5" height="6.8" rx="1.2"/><rect x="1056.4" y="975.7" width="15.0" height="6.8" rx="1.2"/><rect x="1088.0" y="976.3" width="13.2" height="6.8" rx="1.2"/><rect x="1041.9" y="981.0" width="15.0" height="6.8" rx="1.2"/><rect x="1073.8" y="982.4" width="11.5" height="6.8" rx="1.2"/><rect x="1062.5" y="990.8" width="11.5" height="6.8" rx="1.2"/><rect x="1086.3" y="993.0" width="11.5" height="6.8" rx="1.2"/><rect x="944.5" y="999.1" width="11.5" height="6.8" rx="1.2"/><rect x="963.4" y="998.5" width="11.5" height="6.8" rx="1.2"/><rect x="953.4" y="1008.2" width="15.0" height="6.8" rx="1.2"/><rect x="976.5" y="1008.9" width="11.5" height="6.8" rx="1.2"/><rect x="994.0" y="1004.2" width="11.5" height="6.8" rx="1.2"/><rect x="1023.0" y="1010.2" width="11.5" height="6.8" rx="1.2"/><rect x="938.9" y="1012.9" width="11.5" height="6.8" rx="1.2"/><rect x="967.8" y="1018.0" width="11.5" height="6.8" rx="1.2"/><rect x="983.5" y="1021.5" width="11.5" height="6.8" rx="1.2"/><rect x="1009.5" y="1022.4" width="13.2" height="6.8" rx="1.2"/><rect x="949.3" y="1022.4" width="13.2" height="6.8" rx="1.2"/><rect x="937.0" y="1030.8" width="11.5" height="6.8" rx="1.2"/><rect x="960.0" y="1031.5" width="13.2" height="6.8" rx="1.2"/><rect x="976.9" y="1030.8" width="13.2" height="6.8" rx="1.2"/><rect x="1030.5" y="1028.0" width="11.5" height="6.8" rx="1.2"/><rect x="945.9" y="1040.3" width="13.2" height="6.8" rx="1.2"/><rect x="971.9" y="1040.8" width="13.2" height="6.8" rx="1.2"/><rect x="992.3" y="1041.6" width="15.0" height="6.8" rx="1.2"/><rect x="1015.2" y="1041.2" width="13.2" height="6.8" rx="1.2"/><rect x="923.7" y="1041.8" width="15.0" height="6.8" rx="1.2"/><rect x="937.4" y="1050.6" width="13.2" height="6.8" rx="1.2"/><rect x="957.0" y="1049.3" width="11.5" height="6.8" rx="1.2"/><rect x="977.5" y="1050.8" width="13.2" height="6.8" rx="1.2"/><rect x="1008.5" y="1051.8" width="11.5" height="6.8" rx="1.2"/><rect x="1029.1" y="1044.9" width="16.8" height="6.8" rx="1.2"/><rect x="1021.8" y="1056.2" width="15.0" height="6.8" rx="1.2"/><rect x="921.4" y="1058.1" width="11.5" height="6.8" rx="1.2"/><rect x="954.5" y="1058.1" width="11.5" height="6.8" rx="1.2"/><rect x="970.9" y="1059.6" width="11.5" height="6.8" rx="1.2"/><rect x="937.4" y="1064.4" width="13.2" height="6.8" rx="1.2"/><rect x="974.6" y="1064.4" width="11.5" height="6.8" rx="1.2"/><rect x="1006.8" y="1065.9" width="15.0" height="6.8" rx="1.2"/><rect x="922.5" y="1071.9" width="11.5" height="6.8" rx="1.2"/><rect x="958.0" y="1069.8" width="11.5" height="6.8" rx="1.2"/><rect x="937.4" y="1075.1" width="13.2" height="6.8" rx="1.2"/><rect x="965.3" y="1079.2" width="15.0" height="6.8" rx="1.2"/><rect x="950.8" y="1083.2" width="11.5" height="6.8" rx="1.2"/><rect x="928.9" y="1086.3" width="11.5" height="6.8" rx="1.2"/><rect x="979.1" y="1088.5" width="15.0" height="6.8" rx="1.2"/><rect x="944.6" y="1092.0" width="15.0" height="6.8" rx="1.2"/><rect x="965.0" y="1094.3" width="13.2" height="6.8" rx="1.2"/><rect x="1000.1" y="1090.7" width="13.2" height="6.8" rx="1.2"/><rect x="1020.6" y="1095.8" width="15.0" height="6.8" rx="1.2"/><rect x="930.2" y="1100.5" width="15.0" height="6.8" rx="1.2"/><rect x="955.1" y="1102.7" width="11.5" height="6.8" rx="1.2"/><rect x="971.0" y="1103.5" width="15.0" height="6.8" rx="1.2"/><rect x="991.5" y="1099.1" width="11.5" height="6.8" rx="1.2"/><rect x="1011.6" y="1103.9" width="11.5" height="6.8" rx="1.2"/><rect x="1032.6" y="1087.0" width="9.8" height="6.8" rx="1.2"/><rect x="1041.9" y="1000.4" width="15.0" height="6.8" rx="1.2"/><rect x="1072.1" y="1001.7" width="15.0" height="6.8" rx="1.2"/><rect x="1056.2" y="1008.9" width="11.5" height="6.8" rx="1.2"/><rect x="1045.5" y="1017.3" width="11.5" height="6.8" rx="1.2"/><rect x="1061.4" y="1017.0" width="15.0" height="6.8" rx="1.2"/><rect x="1079.0" y="1017.1" width="15.0" height="6.8" rx="1.2"/><rect x="1057.3" y="1025.7" width="13.2" height="6.8" rx="1.2"/><rect x="1073.9" y="1026.1" width="15.0" height="6.8" rx="1.2"/><rect x="1097.7" y="1029.9" width="11.5" height="6.8" rx="1.2"/><rect x="1131.9" y="1040.8" width="13.2" height="6.8" rx="1.2"/><rect x="1047.9" y="1035.5" width="13.2" height="6.8" rx="1.2"/><rect x="1068.2" y="1035.5" width="11.5" height="6.8" rx="1.2"/><rect x="1083.6" y="1038.0" width="13.2" height="6.8" rx="1.2"/><rect x="1104.7" y="1044.1" width="15.0" height="6.8" rx="1.2"/><rect x="1061.0" y="1044.9" width="13.2" height="6.8" rx="1.2"/><rect x="1087.4" y="1050.0" width="13.2" height="6.8" rx="1.2"/><rect x="1050.1" y="1053.7" width="15.0" height="6.8" rx="1.2"/><rect x="1115.6" y="1055.6" width="13.2" height="6.8" rx="1.2"/><rect x="1067.9" y="1057.9" width="13.2" height="6.8" rx="1.2"/><rect x="1096.3" y="1060.9" width="11.5" height="6.8" rx="1.2"/><rect x="1051.8" y="1063.8" width="11.5" height="6.8" rx="1.2"/><rect x="1079.9" y="1067.9" width="13.2" height="6.8" rx="1.2"/><rect x="1111.1" y="1069.4" width="9.8" height="6.8" rx="1.2"/><rect x="1065.4" y="1073.2" width="13.2" height="6.8" rx="1.2"/><rect x="1087.7" y="1075.9" width="11.5" height="6.8" rx="1.2"/><rect x="1050.5" y="1077.2" width="11.5" height="6.8" rx="1.2"/><rect x="1099.7" y="1081.3" width="15.0" height="6.8" rx="1.2"/><rect x="1074.5" y="1083.8" width="11.5" height="6.8" rx="1.2"/><rect x="1056.4" y="1086.7" width="15.0" height="6.8" rx="1.2"/><rect x="1087.7" y="1089.7" width="11.5" height="6.8" rx="1.2"/><rect x="1041.0" y="1095.1" width="13.2" height="6.8" rx="1.2"/><rect x="1066.4" y="1095.5" width="15.0" height="6.8" rx="1.2"/><rect x="1097.4" y="1101.0" width="13.2" height="6.8" rx="1.2"/><rect x="1035.0" y="1103.9" width="15.0" height="6.8" rx="1.2"/><rect x="1054.3" y="1103.9" width="11.5" height="6.8" rx="1.2"/><rect x="1080.5" y="1103.9" width="13.2" height="6.8" rx="1.2"/></g>
<g class="lb" text-anchor="middle"><text x="325.2" y="46.0">CCNA2</text><text x="353.4" y="45.6">ETDE1</text><text x="373.5" y="45.6">LTTL</text><text x="386.9" y="45.6">DHE1</text><text x="403.0" y="45.6">CDC45</text><text x="419.3" y="46.6">CDC6</text><text x="435.0" y="46.6">BSCE2</text><text x="450.7" y="45.4">CDK1</text><text x="470.2" y="45.6">CDC20A</text><text x="487.8" y="46.9">MELK</text><text x="313.9" y="54.4">CHEK1</text><text x="339.0" y="54.2">CCNB1</text><text x="362.8" y="55.7">ZWINT</text><text x="377.8" y="57.2">SKP11</text><text x="395.4" y="56.9">TRIP13</text><text x="411.7" y="56.9">NCAPG</text><text x="429.3" y="57.2">SKA1</text><text x="460.2" y="53.8">TTK</text><text x="500.3" y="57.1">MCM10</text><text x="469.6" y="64.0">PBK</text><text x="482.7" y="64.8">TOP2A</text><text x="301.9" y="64.2">PCLAF</text><text x="325.2" y="63.6">AURKB</text><text x="347.7" y="64.5">MKI67</text><text x="386.6" y="70.7">DHCBP1</text><text x="316.4" y="73.5">CCNA1</text><text x="335.8" y="73.0">TIBS1</text><text x="299.4" y="79.2">POLE2</text><text x="327.0" y="79.5">SPC25</text><text x="350.9" y="80.0">ANLN</text><text x="366.6" y="81.2">GTSE1</text><text x="403.0" y="78.4">CKAP2L</text><text x="425.6" y="70.7">ECT2</text><text x="448.9" y="70.0">KIF4A</text><text x="478.3" y="75.0">BUB1B</text><text x="492.1" y="74.9">GTL</text><text x="443.2" y="78.5">ASPM</text><text x="462.0" y="79.2">CDCA3</text><text x="488.4" y="84.9">DEPDC1B</text><text x="313.9" y="88.4">CDC20</text><text x="337.7" y="88.2">BUB1</text><text x="366.6" y="90.5">CCNE1</text><text x="382.2" y="91.8">CDCA8</text><text x="418.0" y="95.8">POLQ</text><text x="443.8" y="89.2">KIF11</text><text x="464.5" y="89.9">FOXM1</text><text x="307.0" y="98.0">RAD51</text><text x="324.5" y="97.5">KIFL1</text><text x="350.2" y="99.5">ORC6</text><text x="455.8" y="98.7">HMMR</text><text x="477.1" y="99.7">KIF2C</text><text x="313.9" y="107.5">NCAPH</text><text x="339.0" y="104.7">DHX9</text><text x="367.8" y="104.7">KIF18B</text><text x="385.4" y="105.2">RACGAP1</text><text x="404.8" y="108.0">PRC1</text><text x="424.3" y="106.5">TPX2</text><text x="440.7" y="102.2">NUF2</text><text x="468.9" y="107.9">CENPF</text><text x="327.7" y="115.2">DCC</text><text x="352.8" y="115.7">CDCA2</text><text x="395.4" y="116.2">CENPE</text><text x="416.7" y="115.2">DEPDC1</text><text x="433.7" y="119.8">KIF20A</text><text x="450.7" y="112.5">DLGAP5</text><text x="467.7" y="118.5">HJURP</text><text x="313.2" y="124.0">HJURP</text><text x="341.5" y="123.8">MELK</text><text x="363.4" y="123.8">CDS1</text><text x="380.4" y="120.2">ORC1</text><text x="401.1" y="126.7">NEK2</text><text x="417.4" y="128.4">CDKN3</text><text x="452.6" y="127.8">KIF15</text><text x="477.1" y="127.5">KIF14</text><text x="327.0" y="133.1">KIF23</text><text x="347.7" y="135.6">DNA2</text><text x="374.1" y="135.9">GINS1</text><text x="391.6" y="136.3">CDC25</text><text x="408.6" y="138.8">MYBL2</text><text x="430.5" y="138.1">KNSTRN</text><text x="462.7" y="137.8">TMEM97</text><text x="340.8" y="144.0">E2F8</text><text x="359.7" y="146.3">DUCHP1</text><text x="390.4" y="145.0">BIRC5</text><text x="418.6" y="146.0">TTK2</text><text x="447.0" y="146.8">KGN3</text><text x="478.3" y="146.3">TNFRSF17</text><text x="498.4" y="145.3">SDC1</text><text x="322.0" y="150.1">PAQR11</text><text x="343.3" y="153.6">CIT</text><text x="366.6" y="154.5">PLK4</text><text x="387.9" y="155.5">CNM1</text><text x="406.7" y="158.6">ANKRD1</text><text x="433.0" y="156.1">CAV1</text><text x="460.4" y="155.3">UCHL1</text><text x="490.6" y="158.5">IGLC2</text><text x="349.0" y="163.2">PAQR8</text><text x="384.1" y="168.9">ARHGAP11</text><text x="417.4" y="168.3">ANLN2</text><text x="445.1" y="166.6">NRB4</text><text x="479.6" y="169.5">SPRR3</text><text x="513.5" y="169.1">IGHG3</text><text x="533.6" y="95.2">ELB3C</text><text x="516.6" y="117.5">JCHAIN</text><text x="535.2" y="130.9">IBA71</text><text x="543.6" y="176.8">PI15</text><text x="330.8" y="172.4">NEIL3</text><text x="345.2" y="177.5">MS4A1</text><text x="363.8" y="176.9">TTMAP</text><text x="408.0" y="177.2">ALDH1L2</text><text x="430.0" y="176.8">BSSL1</text><text x="452.0" y="174.3">IGF1</text><text x="391.6" y="183.1">IRF4</text><text x="335.8" y="185.9">ZNF215</text><text x="376.6" y="186.6">CHSL1</text><text x="411.7" y="189.9">PVSE1</text><text x="426.8" y="184.9">NRG1</text><text x="443.8" y="184.9">BCB1</text><text x="462.0" y="184.1">HDBC17</text><text x="518.5" y="189.9">ANXB8</text><text x="473.7" y="195.6">SLC3</text><text x="345.2" y="195.1">CEP128</text><text x="374.7" y="195.8">GPX31</text><text x="394.5" y="196.6">NRXN1</text><text x="432.4" y="201.4">IGLL5</text><text x="450.1" y="199.4">HELZ</text><text x="470.8" y="205.6">BHLHA15</text><text x="342.7" y="204.4">BAAT</text><text x="360.3" y="204.8">TEAD1</text><text x="376.2" y="205.6">NAPA1</text><text x="411.7" y="206.0">PPY3</text><text x="443.8" y="211.8">ARCH3</text><text x="348.4" y="216.8">FAM46C</text><text x="375.3" y="216.4">BHLHE1</text><text x="395.4" y="215.2">CDCA4R</text><text x="414.2" y="217.8">NBEAP1</text><text x="333.3" y="226.1">HDSC11</text><text x="357.1" y="225.2">SEDR1</text><text x="377.2" y="229.2">ARHGAP11B</text><text x="397.3" y="228.6">T2HR</text><text x="430.5" y="227.3">PLAAR2</text><text x="346.5" y="234.4">ITK2C</text><text x="372.8" y="240.5">TESQ2</text><text x="413.6" y="234.5">PEG3C</text><text x="396.0" y="239.0">SOCS3</text><text x="432.5" y="239.6">BAFTAL1</text><text x="347.1" y="243.0">COLA4A</text><text x="413.6" y="244.3">RAP1</text><text x="436.3" y="250.8">ECMA1</text><text x="462.7" y="251.8">FBXO16</text><text x="334.6" y="252.2">PARA1</text><text x="357.8" y="252.1">HDBC7</text><text x="376.6" y="252.1">THEMIS2</text><text x="396.0" y="250.8">PRG4</text><text x="410.5" y="258.1">SUZ12A</text><text x="344.6" y="260.8">RUNX</text><text x="385.4" y="264.4">CXCR4</text><text x="432.4" y="266.2">IGHJ3</text><text x="333.3" y="271.1">TNFRSF13B</text><text x="360.3" y="272.8">LOC1002</text><text x="414.2" y="268.8">CSNK1A2</text><text x="382.2" y="276.3">CXCL13</text><text x="399.2" y="277.6">CHPR2</text><text x="416.1" y="278.6">IGHG2</text><text x="442.6" y="279.2">FBXO39</text><text x="514.7" y="276.3">CFD2</text><text x="335.2" y="281.3">MATH2</text><text x="350.9" y="282.6">DSH3</text><text x="318.2" y="285.1">CNG3</text><text x="390.4" y="288.9">DPC3</text><text x="335.8" y="291.1">CNTPL2L</text><text x="365.3" y="292.3">MPO</text><text x="406.1" y="294.6">IGHV3</text><text x="425.6" y="290.8">EXML</text><text x="449.5" y="290.3">NBL2664-AS27219</text><text x="320.1" y="299.9">FYB2</text><text x="349.6" y="300.8">SIT1</text><text x="367.8" y="301.4">DEN3</text><text x="386.0" y="304.9">GNA3</text><text x="402.3" y="305.1">IFI27</text><text x="418.0" y="303.3">RGHD2</text><text x="434.4" y="301.1">USP18</text><text x="333.3" y="307.3">CAD1</text><text x="366.6" y="311.8">PIGL</text><text x="413.5" y="314.2">KDHC4</text><text x="330.8" y="317.2">TWIST2</text><text x="347.1" y="315.9">SAP1</text><text x="396.7" y="316.9">MAPR1</text><text x="336.4" y="328.1">RHCG</text><text x="363.4" y="327.1">GAA1</text><text x="377.2" y="324.8">SP1</text><text x="407.3" y="326.6">SBFA1</text><text x="429.4" y="325.1">SEPA1</text><text x="349.0" y="337.1">PRRT4</text><text x="379.1" y="334.4">CT1</text><text x="407.3" y="337.6">CIL1</text><text x="356.5" y="346.3">NRMA1</text><text x="374.1" y="347.1">CCL28</text><text x="389.8" y="344.6">LTB</text><text x="424.9" y="342.8">SPRR2</text><text x="413.0" y="351.3">CERA3</text><text x="494.7" y="338.6">SPINK4</text><text x="345.2" y="364.2">FAM92</text><text x="366.6" y="360.8">IGC1</text><text x="385.4" y="357.3">TNS4A2301</text><text x="408.6" y="361.1">NABT1</text><text x="434.3" y="365.6">POU2AF1-ST6G1</text><text x="389.1" y="367.4">DCN4</text><text x="413.0" y="370.9">SEMA3G</text><text x="359.0" y="373.4">SLAM1</text><text x="377.2" y="378.8">CRTAM1B</text><text x="353.4" y="383.4">CXCR3A</text><text x="394.8" y="384.9">SOAT1</text><text x="376.6" y="389.3">DEFB1</text><text x="356.5" y="394.4">POSC1</text><text x="355.3" y="409.1">MYH11B</text><text x="384.8" y="404.6">GPR15</text><text x="435.6" y="419.6">AKK7</text><text x="357.5" y="422.9">SBP1</text><text x="374.1" y="421.3">LTB2</text><text x="397.9" y="428.9">KAP2</text><text x="362.8" y="435.6">RHOV</text><text x="381.6" y="435.6">PGGA2</text><text x="516.6" y="421.3">SPACA3</text><text x="110.0" y="233.8">RNASE12</text><text x="91.5" y="241.2">RNASE1</text><text x="73.1" y="244.0">RNASE10</text><text x="52.5" y="246.9">RNASE4</text><text x="108.5" y="249.6">RNASE2</text><text x="89.4" y="253.8">RNASE9</text><text x="66.0" y="254.9">RNASE1</text><text x="125.6" y="258.6">RNASE16</text><text x="62.4" y="265.3">RNASE11</text><text x="117.8" y="267.3">RNASE13</text><text x="80.9" y="271.3">RNASE7</text><text x="53.2" y="276.2">RNASE6</text><text x="102.2" y="277.4">RNASE14</text><text x="72.1" y="282.2">RNASE15</text><text x="115.6" y="286.1">RNASE8</text><text x="90.1" y="287.1">FAM3D</text><text x="77.3" y="296.1">RNASE17</text><text x="109.2" y="338.6">SPINK1</text><text x="62.2" y="369.4">RPL10L1</text><text x="777.6" y="56.9">RPLP1</text><text x="795.9" y="76.7">RPL13A</text><text x="804.2" y="119.2">RPL13</text><text x="781.8" y="125.4">IGFBP7</text><text x="816.2" y="155.5">RPS3</text><text x="800.2" y="176.6">PRDX3</text><text x="829.4" y="200.6">RPS18</text><text x="809.7" y="203.0">CAPS</text><text x="790.5" y="208.5">RPS6</text><text x="723.5" y="241.6">DOSBGP1</text><text x="766.8" y="233.8">GRIP1</text><text x="1008.2" y="255.8">XAF1</text><text x="1004.0" y="280.8">OAS2</text><text x="1028.0" y="278.1">OASL</text><text x="1014.8" y="291.9">OAS3</text><text x="1044.0" y="300.1">IFIT1</text><text x="1060.4" y="342.1">IFIT3</text><text x="1131.4" y="336.6">CXCL10</text><text x="1112.8" y="392.8">CXCL11</text><text x="1150.6" y="390.6">IDO1</text><text x="1132.8" y="397.1">SYNPO2L</text><text x="1109.3" y="405.6">PLA2G7</text><text x="1150.6" y="417.1">CER1</text><text x="1110.5" y="429.1">GRAH</text><text x="1152.7" y="427.6">WNT7A</text><text x="1137.1" y="447.1">Gal3-TS</text><text x="1117.2" y="452.1">PCSK1N</text><text x="1124.3" y="461.3">WTN2BPH</text><text x="1208.5" y="403.9">AL035661.1</text><text x="809.1" y="216.4">HMGB2</text><text x="827.8" y="215.1">CXCL9</text><text x="771.8" y="216.2">GBP5</text><text x="754.2" y="223.0">SAMD9L</text><text x="782.8" y="225.8">IFI27</text><text x="802.0" y="225.8">CHI3L1</text><text x="825.6" y="225.8">RPS27</text><text x="841.5" y="224.9">TPI1</text><text x="743.8" y="234.8">EPSTI1</text><text x="788.3" y="234.5">SPP1</text><text x="814.1" y="235.4">STAT1</text><text x="840.4" y="237.6">PLSCR1</text><text x="755.9" y="243.6">PSMB1</text><text x="797.0" y="244.8">CKS2</text><text x="817.9" y="245.3">CDKN3</text><text x="838.8" y="247.4">CDKN3</text><text x="775.6" y="250.8">UBE2C</text><text x="754.2" y="253.8">AURKA</text><text x="809.1" y="255.9">AURKA</text><text x="786.1" y="259.6">EIF3K</text><text x="765.7" y="263.2">ALDOA</text><text x="831.6" y="263.2">DDX58</text><text x="724.6" y="267.8">PCNA</text><text x="742.7" y="265.6">CKS2</text><text x="799.8" y="267.8">IRF1</text><text x="760.3" y="273.3">COX7C</text><text x="781.1" y="273.3">RSAD2</text><text x="816.8" y="272.8">HERC5</text><text x="841.0" y="272.2">PSMB1</text><text x="743.2" y="275.2">CD74</text><text x="731.2" y="284.2">CXCL9</text><text x="750.4" y="283.8">ZWINT</text><text x="771.8" y="283.1">CMPK2</text><text x="794.8" y="283.1">PTTG1</text><text x="814.1" y="285.1">TUBA1B</text><text x="832.2" y="281.2">CKS2</text><text x="718.5" y="292.6">RPL10</text><text x="740.0" y="293.6">H2AZ1</text><text x="766.3" y="293.1">UBE2L6</text><text x="727.7" y="302.2">MCM2</text><text x="753.8" y="303.1">LY6E</text><text x="786.3" y="300.9">PSMB1</text><text x="805.4" y="300.9">PCNA</text><text x="719.8" y="314.1">PGK1</text><text x="740.0" y="312.8">CXCL9</text><text x="770.8" y="311.8">MX1</text><text x="791.0" y="309.4">AURKA</text><text x="818.7" y="311.8">SLAMF7</text><text x="718.7" y="322.4">PCNA</text><text x="742.1" y="323.6">AURKA</text><text x="758.1" y="320.1">COL1A1</text><text x="802.7" y="320.8">APOL6</text><text x="818.7" y="322.9">UBE2C</text><text x="735.7" y="330.9">SAMD9L</text><text x="758.1" y="330.9">TUBA1B</text><text x="777.2" y="327.8">TAP1</text><text x="805.9" y="331.4">GBP1</text><text x="717.6" y="337.8">ZWINT</text><text x="742.1" y="341.1">GAPDH</text><text x="770.8" y="339.9">EIF3K</text><text x="808.1" y="342.4">CD74</text><text x="823.0" y="348.6">ATP5F1E</text><text x="716.6" y="348.6">XAF1</text><text x="731.5" y="350.1">MMP9</text><text x="752.7" y="351.1">TUBA1B</text><text x="771.9" y="348.6">CASP1</text><text x="791.0" y="351.1">ATP5F1E</text><text x="809.1" y="359.1">PCNA</text><text x="720.3" y="359.6">AURKA</text><text x="744.8" y="360.2">LAP3</text><text x="767.6" y="357.1">IFI6</text><text x="717.1" y="366.9">MCM2</text><text x="735.2" y="369.2">TPI1</text><text x="760.7" y="368.1">SLAMF7</text><text x="792.1" y="374.6">TRIM22</text><text x="817.6" y="369.2">XAF1</text><text x="715.0" y="377.8">PSMB1</text><text x="749.6" y="377.8">DDX58</text><text x="775.1" y="376.6">STMN1</text><text x="729.9" y="383.1">STMN1</text><text x="746.4" y="386.2">SLC2A1</text><text x="762.3" y="386.2">MX1</text><text x="788.9" y="384.6">H2AZ1</text><text x="716.6" y="390.6">LAP3</text><text x="731.5" y="395.3">BST2</text><text x="779.3" y="395.3">FN1</text><text x="798.5" y="392.4">BST2</text><text x="761.3" y="398.8">CENPW</text><text x="802.7" y="400.1">PLSCR1</text><text x="720.2" y="404.8">SOCS1</text><text x="745.9" y="405.8">TUBA1B</text><text x="770.4" y="405.8">EIF3K</text><text x="789.8" y="407.1">AURKA</text><text x="728.3" y="414.1">SP110</text><text x="746.5" y="415.4">TUBA1B</text><text x="787.9" y="416.6">IRF1</text><text x="807.4" y="412.2">LAG3</text><text x="715.2" y="422.9">MUC1</text><text x="734.0" y="423.3">MCM2</text><text x="755.9" y="425.1">VEGFA</text><text x="717.7" y="431.8">GAPDH</text><text x="741.5" y="434.6">CXCL9</text><text x="813.7" y="429.2">BST2</text><text x="769.7" y="434.2">TAP1</text><text x="797.3" y="437.9">PSME2</text><text x="727.1" y="444.2">H2AZ1</text><text x="754.0" y="443.1">IRF7</text><text x="772.2" y="446.8">CASP1</text><text x="830.0" y="445.9">GAPDH</text><text x="714.5" y="451.1">FCGR1A</text><text x="721.4" y="457.4">XAF1</text><text x="735.9" y="453.4">SAMD9L</text><text x="754.7" y="454.3">CD74</text><text x="785.4" y="454.9">COX7C</text><text x="714.5" y="465.9">KRT19</text><text x="729.6" y="467.2">SLC2A1</text><text x="744.6" y="461.8">TRIM22</text><text x="768.5" y="463.9">IFI27</text><text x="794.8" y="464.9">EIF3K</text><text x="825.0" y="463.8">LAG3</text><text x="727.7" y="476.2">LY6E</text><text x="749.7" y="471.2">STMN1</text><text x="781.0" y="474.3">ALDOA</text><text x="814.9" y="474.3">CHI3L1</text><text x="830.0" y="474.3">UQCRB</text><text x="845.0" y="479.4">SAMD9L</text><text x="718.3" y="486.6">XAF1</text><text x="744.6" y="484.4">CDKN3</text><text x="764.1" y="479.4">DDX58</text><text x="797.3" y="480.1">UBE2L6</text><text x="814.9" y="483.8">CDKN3</text><text x="833.7" y="489.4">OAS1</text><text x="860.1" y="490.1">ISG15</text><text x="733.3" y="495.8">GAPDH</text><text x="755.3" y="492.6">LY6E</text><text x="777.3" y="488.8">ENO1</text><text x="798.6" y="493.2">ISG15</text><text x="816.2" y="495.8">PCNA</text><text x="723.9" y="502.3">CDKN3</text><text x="742.8" y="502.3">PGK1</text><text x="770.4" y="501.1">RSAD2</text><text x="788.6" y="503.2">PARP9</text><text x="804.2" y="504.6">APOL6</text><text x="832.5" y="505.1">LDHA</text><text x="849.4" y="501.3">IRF1</text><text x="752.2" y="512.5">CASP1</text><text x="768.5" y="509.1">RPL10</text><text x="787.3" y="512.5">EPSTI1</text><text x="818.7" y="513.0">PSMB1</text><text x="846.3" y="513.0">COL1A1</text><text x="860.7" y="513.2">MMP9</text><text x="851.5" y="215.4">PARP9</text><text x="861.5" y="232.1">NDUFA4</text><text x="859.6" y="245.1">AURKA</text><text x="879.1" y="246.1">TMSB10</text><text x="904.8" y="246.1">DLGAP5</text><text x="850.8" y="256.1">RRM2</text><text x="872.2" y="254.6">SLC2A1</text><text x="893.5" y="256.1">PSMB1</text><text x="912.3" y="262.8">SNRPD2</text><text x="858.4" y="263.4">WARS1</text><text x="882.2" y="266.8">CXCL9</text><text x="868.4" y="273.1">PTTG1</text><text x="897.9" y="272.6">CD38</text><text x="918.0" y="278.1">GAPDH</text><text x="854.0" y="281.1">PLSCR1</text><text x="872.2" y="280.6">CHI3L1</text><text x="886.0" y="281.6">RPL10</text><text x="901.7" y="283.4">TRIM22</text><text x="861.5" y="290.4">GBP1</text><text x="882.8" y="291.3">COX7C</text><text x="843.9" y="291.3">IFI6</text><text x="907.3" y="293.8">SP110</text><text x="924.9" y="294.8">LAP3</text><text x="855.2" y="301.3">LAG3</text><text x="872.2" y="300.3">RRM2</text><text x="894.1" y="302.6">MUC1</text><text x="918.6" y="308.6">AURKA</text><text x="936.8" y="308.1">NUSAP1</text><text x="875.3" y="310.8">RSAD2</text><text x="905.4" y="317.1">STAT1</text><text x="935.5" y="316.4">CKS2</text><text x="885.3" y="321.4">PGK1</text><text x="922.4" y="325.8">LY6E</text><text x="891.0" y="330.2">CD38</text><text x="940.5" y="330.4">SAMD9L</text><text x="874.7" y="330.8">PARP9</text><text x="854.6" y="338.6">CASP1</text><text x="885.3" y="341.1">CXCL9</text><text x="912.3" y="339.6">HMGB2</text><text x="928.0" y="341.1">LAP3</text><text x="901.7" y="349.1">GBP1</text><text x="919.8" y="351.6">CD38</text><text x="942.4" y="350.8">SFRP4</text><text x="864.6" y="349.8">LY6E</text><text x="879.7" y="352.9">NDUFA4</text><text x="896.0" y="360.4">GAPDH</text><text x="911.7" y="361.4">IFI6</text><text x="932.4" y="360.1">PSMB1</text><text x="954.4" y="361.3">ATP5F1E</text><text x="867.8" y="360.8">EPSTI1</text><text x="880.3" y="368.3">TYMS</text><text x="919.8" y="369.6">TRIM22</text><text x="944.3" y="369.2">CKS2</text><text x="855.9" y="372.1">VCAN</text><text x="887.2" y="375.1">CASP1</text><text x="904.8" y="374.6">H2AZ1</text><text x="931.8" y="374.9">GAPDH</text><text x="870.9" y="381.8">PARP9</text><text x="900.4" y="385.6">ISG15</text><text x="918.6" y="384.1">PARP9</text><text x="943.7" y="383.4">LAP3</text><text x="883.5" y="393.4">AURKA</text><text x="911.7" y="395.6">LAG3</text><text x="932.4" y="392.4">LY6E</text><text x="882.8" y="404.3">LDHA</text><text x="898.5" y="403.8">EIF3K</text><text x="923.6" y="405.2">IDO1</text><text x="940.6" y="403.6">RPS27</text><text x="869.0" y="412.6">CENPW</text><text x="901.7" y="411.9">PCNA</text><text x="919.8" y="415.3">RRM2</text><text x="883.5" y="416.9">EPSTI1</text><text x="938.0" y="416.6">CASP1</text><text x="894.8" y="426.1">SLAMF7</text><text x="909.8" y="423.8">EPSTI1</text><text x="933.6" y="424.8">SLAMF7</text><text x="919.2" y="432.6">COL1A1</text><text x="882.8" y="433.2">CD74</text><text x="864.6" y="431.3">IRF1</text><text x="897.3" y="437.3">HLA-DRA</text><text x="874.7" y="442.1">SP110</text><text x="908.6" y="442.4">LAP3</text><text x="933.6" y="442.1">SP110</text><text x="860.9" y="450.1">BST2</text><text x="888.5" y="451.4">WARS1</text><text x="906.7" y="450.8">HERC5</text><text x="922.4" y="450.8">VCAN</text><text x="895.4" y="459.6">PLSCR1</text><text x="867.2" y="459.6">PGK1</text><text x="966.3" y="342.9">NUSAP1</text><text x="977.6" y="328.9">VEGFA</text><text x="981.9" y="349.6">TAP1</text><text x="972.5" y="361.8">PLSCR1</text><text x="979.4" y="374.2">PTTG1</text><text x="961.3" y="377.8">SLAMF7</text><text x="982.0" y="383.1">PTTG1</text><text x="965.6" y="392.8">PSMB1</text><text x="956.9" y="401.2">TPI1</text><text x="975.7" y="402.6">AURKA</text><text x="957.5" y="411.1">VCAN</text><text x="953.7" y="424.8">CHI3L1</text><text x="971.3" y="429.4">XAF1</text><text x="951.2" y="433.2">VEGFA</text><text x="968.8" y="443.2">PTTG1</text><text x="950.0" y="449.9">TUBA1B</text><text x="970.0" y="449.9">UBE2C</text><text x="955.0" y="458.9">ATP5F1E</text><text x="994.5" y="310.6">GAPDH</text><text x="966.9" y="320.1">TRIM22</text><text x="992.6" y="320.8">STAT1</text><text x="1010.8" y="317.3">UQCRB</text><text x="1036.5" y="316.8">OAS1</text><text x="987.0" y="337.6">MUC1</text><text x="1002.7" y="334.2">PLSCR1</text><text x="1025.2" y="326.3">PGK1</text><text x="1019.0" y="334.9">COX7C</text><text x="1049.7" y="330.8">ATP5F1E</text><text x="1004.5" y="343.3">MX1</text><text x="1036.5" y="339.2">PARP9</text><text x="1021.5" y="348.4">HLA-DRA</text><text x="1008.3" y="357.4">SPP1</text><text x="986.3" y="361.8">CD74</text><text x="1038.4" y="356.8">EPSTI1</text><text x="1059.1" y="356.6">CKS2</text><text x="1031.5" y="365.6">ZWINT</text><text x="1075.4" y="364.8">MCM2</text><text x="1049.1" y="368.6">MUC1</text><text x="1001.4" y="376.9">KRT19</text><text x="1021.5" y="375.6">H2AZ1</text><text x="1040.3" y="377.3">TUBA1B</text><text x="1069.2" y="374.4">CENPW</text><text x="1088.6" y="378.6">DDX58</text><text x="1008.9" y="386.3">UBE2L6</text><text x="1057.2" y="384.4">VCAN</text><text x="1042.2" y="389.8">LY6E</text><text x="1093.0" y="387.6">KRT19</text><text x="988.2" y="393.6">STMN1</text><text x="1076.7" y="390.3">MUC1</text><text x="1006.4" y="398.2">EIF3K</text><text x="1022.7" y="398.2">STMN1</text><text x="1060.4" y="397.1">IFI44L</text><text x="1089.9" y="400.3">STAT1</text><text x="996.4" y="406.4">MMP9</text><text x="1024.0" y="407.1">ZWINT</text><text x="1040.3" y="402.6">PARP9</text><text x="1073.6" y="407.1">TUBA1B</text><text x="1055.4" y="412.9">CHI3L1</text><text x="1091.7" y="411.4">TMSB10</text><text x="963.1" y="410.1">RPS27</text><text x="988.2" y="416.2">NUSAP1</text><text x="1021.5" y="415.8">DDX58</text><text x="1039.0" y="415.6">NDUFA4</text><text x="1113.1" y="415.8">HERC5</text><text x="1099.3" y="419.6">GAPDH</text><text x="1005.2" y="419.6">CASP1</text><text x="1055.4" y="401.6">RPS27</text><text x="1017.8" y="428.3">TYMS</text><text x="1043.5" y="426.6">RPS27</text><text x="1064.8" y="424.1">WARS1</text><text x="1085.5" y="430.6">IFI6</text><text x="990.8" y="433.8">SP110</text><text x="1005.9" y="437.6">FN1</text><text x="1037.9" y="436.1">CXCL9</text><text x="1062.3" y="435.1">ATP5F1E</text><text x="1095.0" y="439.8">WARS1</text><text x="987.1" y="445.4">CENPW</text><text x="1044.1" y="445.1">HMGB2</text><text x="1063.0" y="444.6">NUSAP1</text><text x="1080.5" y="445.1">LAG3</text><text x="1018.4" y="448.6">CMPK2</text><text x="1063.6" y="452.6">NUSAP1</text><text x="1001.5" y="456.1">STAT1</text><text x="1023.4" y="457.4">SP110</text><text x="1084.3" y="458.4">H2AZ1</text><text x="1040.4" y="466.1">CD74</text><text x="1061.7" y="463.1">GAPDH</text><text x="1097.5" y="463.6">TMSB10</text><text x="947.5" y="469.8">MUC1</text><text x="967.6" y="469.3">STMN1</text><text x="1015.3" y="473.1">SLAMF7</text><text x="1073.6" y="470.6">SAMD9L</text><text x="1051.7" y="475.9">PARP9</text><text x="1091.2" y="474.9">WARS1</text><text x="956.3" y="480.6">BST2</text><text x="999.6" y="481.2">HERC5</text><text x="1035.4" y="481.6">DLGAP5</text><text x="942.5" y="488.1">TRIM22</text><text x="968.2" y="488.8">IRF7</text><text x="989.6" y="491.1">RPL10</text><text x="1004.0" y="490.6">SOCS1</text><text x="1023.4" y="491.9">HERC5</text><text x="1045.4" y="491.6">MX1</text><text x="1063.6" y="486.1">IFI6</text><text x="1081.2" y="486.2">ENO1</text><text x="1098.7" y="486.2">TAP1</text><text x="955.1" y="497.6">CHI3L1</text><text x="972.0" y="500.6">AURKA</text><text x="996.5" y="503.6">STMN1</text><text x="1016.5" y="500.6">TRIM22</text><text x="1036.0" y="501.3">VCAN</text><text x="1053.6" y="501.3">HLA-DRA</text><text x="1073.0" y="501.3">ISG15</text><text x="1088.0" y="504.1">UBE2C</text><text x="941.3" y="502.6">CD74</text><text x="952.5" y="504.8">IFI44L</text><text x="943.8" y="513.0">IFI27</text><text x="969.5" y="513.2">APOL6</text><text x="988.9" y="512.4">STAT1</text><text x="1007.8" y="512.4">TRIM22</text><text x="1026.6" y="510.1">CASP1</text><text x="1044.8" y="511.3">CKS2</text><text x="1066.7" y="511.3">ATP5F1E</text><text x="1094.3" y="511.3">NUSAP1</text><text x="1135.9" y="408.3">EPSTI1</text><text x="1135.0" y="422.1">PLSCR1</text><text x="1135.0" y="434.9">CD38</text><text x="1118.1" y="442.1">CHI3L1</text><text x="1103.0" y="464.2">SLAMF7</text><text x="1119.0" y="473.8">GBP5</text><text x="1104.8" y="485.8">LY6E</text><text x="884.7" y="460.9">XAF1</text><text x="915.3" y="465.2">RRM2</text><text x="884.0" y="469.6">PARP9</text><text x="860.7" y="472.9">PARP9</text><text x="902.7" y="475.6">EPSTI1</text><text x="876.0" y="482.9">PSMB1</text><text x="895.3" y="486.9">PCNA</text><text x="914.7" y="485.6">LAG3</text><text x="880.7" y="493.6">BST2</text><text x="902.0" y="497.9">PSMB1</text><text x="922.0" y="494.9">TRIM22</text><text x="934.0" y="460.9">MUC1</text><text x="948.7" y="459.3">DDX58</text><text x="930.0" y="476.2">APOL6</text><text x="964.7" y="459.6">RSAD2</text><text x="963.3" y="442.9">NUSAP1</text><text x="68.6" y="725.8">AC019816.1</text><text x="75.5" y="779.4">CXCR4</text><text x="133.5" y="772.5">RPL36</text><text x="124.4" y="787.2">NEXOS</text><text x="147.7" y="792.6">ARHGAP10</text><text x="116.2" y="804.9">DRUXX</text><text x="134.4" y="807.4">KLRD1</text><text x="109.9" y="815.8">SEPT6L</text><text x="149.8" y="818.6">TNSE1A</text><text x="126.8" y="822.1">ADS17</text><text x="79.1" y="824.6">FGGTN</text><text x="113.4" y="832.1">SPNS2</text><text x="144.1" y="831.5">HNSG1</text><text x="162.0" y="838.1">RDC1</text><text x="128.0" y="840.7">PCDHGB1</text><text x="105.3" y="847.4">APOBEC3C</text><text x="148.7" y="846.9">ESL1</text><text x="96.6" y="856.8">PTGS1L</text><text x="113.4" y="857.1">AAK1</text><text x="160.5" y="856.8">KLF2</text><text x="107.8" y="865.5">CD69</text><text x="128.3" y="865.5">ARHGEF3</text><text x="145.6" y="861.4">HLR1</text><text x="159.3" y="869.7">CD52</text><text x="181.5" y="864.5">SPX2</text><text x="169.1" y="880.4">AC068722.1</text><text x="167.7" y="890.6">AC145207.5</text><text x="89.8" y="875.1">ADAP1L2</text><text x="110.9" y="879.4">DOCK1</text><text x="143.2" y="873.8">VPS1</text><text x="94.1" y="886.2">NOD1</text><text x="126.4" y="881.2">A2</text><text x="149.4" y="882.9">CD160</text><text x="113.4" y="890.8">AC116366.1</text><text x="137.6" y="894.0">CELSR1</text><text x="114.6" y="900.2">GPR183</text><text x="153.1" y="900.9">KLRK1</text><text x="99.5" y="904.5">L23</text><text x="117.7" y="910.4">CAMP3</text><text x="146.9" y="910.4">PCDHGA2</text><text x="165.5" y="910.4">KLRF1</text><text x="99.7" y="915.8">COL21A1</text><text x="151.8" y="920.6">NPTSN2B</text><text x="109.0" y="926.0">COL13A1</text><text x="129.5" y="926.6">PCDHGA7</text><text x="150.0" y="934.0">LNC00888</text><text x="110.3" y="934.4">GE7BP1</text><text x="136.3" y="943.1">PTSNGB1</text><text x="119.3" y="946.2">ZBB1</text><text x="150.4" y="952.6">ULBP11</text><text x="108.4" y="955.1">DLAS4</text><text x="130.1" y="958.5">SLC28A4</text><text x="161.2" y="962.6">SYT17</text><text x="118.3" y="967.5">PDE6A</text><text x="145.6" y="966.7">SIAH3</text><text x="135.0" y="976.5">SPG20L2</text><text x="113.0" y="986.4">NMF17</text><text x="125.7" y="995.5">PTPRE1</text><text x="150.3" y="987.6">TGL1</text><text x="146.7" y="996.2">CYB5A1</text><text x="493.3" y="653.0">CXA1</text><text x="541.5" y="686.5">AC015849.1</text><text x="400.8" y="696.6">DDSEL1</text><text x="423.8" y="695.4">TNFAIP6</text><text x="453.2" y="695.4">KCTA4</text><text x="395.5" y="717.8">NBR2B</text><text x="411.8" y="714.8">HSD7</text><text x="427.6" y="715.1">CXCL9</text><text x="416.2" y="725.2">AC0781E4.3</text><text x="447.9" y="727.5">IFI3</text><text x="397.3" y="733.1">GOS2</text><text x="431.2" y="733.6">CCL8</text><text x="452.3" y="738.4">CMPK2</text><text x="410.9" y="741.6">IFI27</text><text x="468.2" y="743.7">ISG</text><text x="452.3" y="747.8">IFI44L</text><text x="426.2" y="751.2">TNFSF10B</text><text x="416.2" y="759.6">VCAN1</text><text x="427.6" y="772.5">LPS</text><text x="446.2" y="774.6">EPSTI1</text><text x="459.4" y="783.6">CXA001</text><text x="523.5" y="794.5">PRB1</text><text x="430.3" y="809.5">ISG20</text><text x="395.0" y="816.6">IL6</text><text x="414.4" y="818.4">CXCL4</text><text x="425.5" y="829.5">ATP10A</text><text x="408.2" y="894.8">NEBS3</text><text x="410.3" y="910.2">ART3</text><text x="410.9" y="925.5">BTN17</text><text x="516.8" y="808.6">NEURL3</text><text x="554.3" y="816.6">CXCL10</text><text x="379.6" y="981.2">CCL20</text><text x="348.7" y="699.6">NDUFA4</text><text x="296.2" y="709.9">GBP5</text><text x="337.4" y="708.4">TYMS</text><text x="353.7" y="710.9">HMGB2</text><text x="319.2" y="718.4">CD74</text><text x="278.8" y="720.1">PTTG1</text><text x="341.2" y="719.6">LDHA</text><text x="261.2" y="721.8">H2AZ1</text><text x="299.1" y="725.2">IFI6</text><text x="319.8" y="727.7">RPS27</text><text x="307.3" y="732.4">EPSTI1</text><text x="336.1" y="732.7">PSME2</text><text x="264.2" y="731.8">CKS2</text><text x="280.9" y="730.9">UBE2L6</text><text x="292.8" y="739.0">TYMS</text><text x="253.3" y="741.0">PSME2</text><text x="270.9" y="742.2">IDO1</text><text x="317.3" y="743.7">MCM2</text><text x="342.8" y="743.4">CMPK2</text><text x="230.1" y="742.1">NDUFA4</text><text x="244.9" y="750.6">MUC1</text><text x="266.5" y="751.9">RPL10</text><text x="285.1" y="754.4">VCAN</text><text x="301.4" y="755.0">XAF1</text><text x="329.2" y="754.4">TUBA1B</text><text x="356.2" y="747.2">MUC1</text><text x="354.3" y="757.8">IFI27</text><text x="228.6" y="759.8">HMGB2</text><text x="249.9" y="760.2">TYMS</text><text x="295.4" y="764.4">SFRP4</text><text x="269.0" y="768.8">CENPW</text><text x="211.9" y="767.0">SNRPD2</text><text x="232.9" y="768.2">SFRP4</text><text x="315.2" y="770.1">CMPK2</text><text x="339.5" y="768.8">SP110</text><text x="353.7" y="769.5">CDKN3</text><text x="249.9" y="774.1">LAG3</text><text x="219.8" y="777.0">IRF7</text><text x="203.8" y="781.0">PGK1</text><text x="267.8" y="779.2">LAG3</text><text x="285.1" y="777.6">ALDOA</text><text x="332.4" y="777.6">TRIM22</text><text x="348.1" y="778.2">WARS1</text><text x="301.0" y="783.2">ISG15</text><text x="235.1" y="783.2">COX7C</text><text x="316.1" y="786.6">ATP5F1E</text><text x="218.8" y="790.5">PSMB1</text><text x="252.7" y="789.2">PTTG1</text><text x="268.4" y="791.7">FN1</text><text x="286.6" y="790.5">SLC2A1</text><text x="345.8" y="790.4">MX1</text><text x="301.0" y="797.4">RSAD2</text><text x="324.8" y="797.1">GBP1</text><text x="235.8" y="799.9">DDX58</text><text x="256.5" y="800.2">HMGB2</text><text x="211.3" y="802.7">SOCS1</text><text x="348.1" y="805.2">TAP1</text><text x="237.6" y="809.0">IRF1</text><text x="268.4" y="809.6">MMP9</text><text x="304.1" y="807.7">NDUFA4</text><text x="221.3" y="811.7">LDHA</text><text x="202.5" y="813.6">APOL6</text><text x="281.6" y="815.9">CXCL9</text><text x="334.9" y="815.9">MX1</text><text x="355.0" y="815.9">IDO1</text><text x="252.7" y="818.4">STMN1</text><text x="378.8" y="710.2">IFI44L</text><text x="365.0" y="720.8">PSME2</text><text x="353.5" y="730.6">GAPDH</text><text x="381.4" y="729.6">EPSTI1</text><text x="367.3" y="737.2">DDX58</text><text x="383.2" y="746.9">UBE2L6</text><text x="374.7" y="756.1">PLSCR1</text><text x="400.3" y="755.7">GBP5</text><text x="390.6" y="763.6">IDO1</text><text x="373.8" y="774.8">CMPK2</text><text x="401.2" y="774.8">CENPW</text><text x="372.9" y="786.0">COL1A1</text><text x="391.5" y="786.6">STAT1</text><text x="418.8" y="782.2">TAP1</text><text x="409.6" y="791.2">SLC2A1</text><text x="425.0" y="799.0">CD74</text><text x="388.8" y="796.2">RSAD2</text><text x="193.1" y="790.1">SOCS1</text><text x="189.0" y="822.7">PGK1</text><text x="364.1" y="805.1">GBP5</text><text x="383.5" y="805.1">ISG15</text><text x="407.9" y="806.5">FCGR1A</text><text x="371.5" y="813.9">TYMS</text><text x="359.7" y="825.4">CD74</text><text x="382.6" y="827.5">VEGFA</text><text x="398.5" y="836.0">PTTG1</text><text x="370.3" y="837.2">BST2</text><text x="353.5" y="837.2">CD38</text><text x="401.7" y="843.9">CHI3L1</text><text x="386.2" y="847.1">TPI1</text><text x="367.3" y="848.4">UQCRB</text><text x="390.9" y="854.9">ZWINT</text><text x="408.2" y="857.7">LDHA</text><text x="367.6" y="860.7">LAP3</text><text x="382.6" y="866.5">BST2</text><text x="396.2" y="866.0">HMGB2</text><text x="363.8" y="871.8">CHI3L1</text><text x="387.9" y="876.6">CD74</text><text x="395.5" y="885.9">ALDOA</text><text x="365.0" y="881.2">VEGFA</text><text x="376.5" y="890.7">LY6E</text><text x="362.0" y="900.4">SOCS1</text><text x="390.2" y="903.9">EPSTI1</text><text x="351.8" y="889.8">PLSCR1</text><text x="373.8" y="911.0">IRF7</text><text x="353.5" y="908.9">GBP5</text><text x="360.9" y="918.4">RSAD2</text><text x="382.6" y="921.2">KRT19</text><text x="357.1" y="928.2">DLGAP5</text><text x="368.5" y="937.5">PSMB1</text><text x="353.5" y="942.4">COL1A1</text><text x="361.5" y="949.8">TMSB10</text><text x="213.8" y="823.6">LDHA</text><text x="230.1" y="821.5">ISG15</text><text x="296.6" y="828.4">NUSAP1</text><text x="314.8" y="826.7">RSAD2</text><text x="339.3" y="825.5">PCNA</text><text x="354.3" y="825.8">SAMD9L</text><text x="257.7" y="828.9">PLSCR1</text><text x="240.2" y="829.6">PGK1</text><text x="204.4" y="833.0">RSAD2</text><text x="222.0" y="832.4">TUBA1B</text><text x="324.8" y="835.1">SAMD9L</text><text x="341.2" y="835.1">XAF1</text><text x="201.3" y="842.4">IFI27</text><text x="218.2" y="842.4">CMPK2</text><text x="237.6" y="840.9">FCGR1A</text><text x="252.7" y="841.2">SFRP4</text><text x="269.6" y="846.8">TAP1</text><text x="289.1" y="848.4">CHI3L1</text><text x="306.6" y="844.9">TUBA1B</text><text x="326.7" y="844.2">GBP1</text><text x="344.3" y="848.7">CD74</text><text x="211.9" y="854.7">AURKA</text><text x="231.4" y="852.2">WARS1</text><text x="249.6" y="851.2">GBP1</text><text x="264.6" y="856.2">ENO1</text><text x="309.2" y="855.0">TUBA1B</text><text x="329.9" y="855.6">NDUFA4</text><text x="297.9" y="862.5">GBP5</text><text x="215.1" y="866.2">MX1</text><text x="236.4" y="859.2">TRIM22</text><text x="257.1" y="866.5">PCNA</text><text x="279.7" y="864.4">RRM2</text><text x="348.7" y="868.8">CENPW</text><text x="237.6" y="869.8">SAMD9L</text><text x="309.2" y="872.8">ATP5F1E</text><text x="279.7" y="873.8">SFRP4</text><text x="213.2" y="876.0">VEGFA</text><text x="329.9" y="874.4">WARS1</text><text x="230.1" y="879.8">MCM2</text><text x="252.7" y="879.4">DLGAP5</text><text x="267.8" y="877.2">CENPW</text><text x="346.2" y="881.2">FCGR1A</text><text x="314.2" y="883.2">IRF1</text><text x="290.3" y="883.8">SPP1</text><text x="211.9" y="886.1">RRM2</text><text x="239.5" y="889.5">IRF1</text><text x="262.1" y="890.2">IDO1</text><text x="296.6" y="892.2">TRIM22</text><text x="203.8" y="897.4">ISG15</text><text x="222.0" y="896.4">IRF1</text><text x="249.6" y="897.4">MCM2</text><text x="302.9" y="900.7">RSAD2</text><text x="331.1" y="897.0">TPI1</text><text x="230.1" y="904.1">FCGR1A</text><text x="252.7" y="906.6">BST2</text><text x="268.4" y="906.8">NDUFA4</text><text x="312.9" y="908.9">COX7C</text><text x="333.6" y="908.7">IRF7</text><text x="212.5" y="911.0">EIF3K</text><text x="286.6" y="912.0">TUBA1B</text><text x="240.8" y="915.4">GBP1</text><text x="344.9" y="917.7">HERC5</text><text x="226.3" y="919.2">GBP1</text><text x="323.0" y="920.0">TYMS</text><text x="295.4" y="920.8">BST2</text><text x="259.6" y="921.2">MUC1</text><text x="280.3" y="924.6">CKS2</text><text x="242.7" y="925.8">UBE2L6</text><text x="215.1" y="929.6">TPI1</text><text x="311.7" y="930.9">GBP1</text><text x="338.0" y="932.1">SLC2A1</text><text x="203.8" y="938.4">FCGR1A</text><text x="233.9" y="937.1">SP110</text><text x="260.2" y="935.9">WARS1</text><text x="222.7" y="947.2">HMGB2</text><text x="255.7" y="942.8">MX1</text><text x="243.1" y="952.2">PARP9</text><text x="262.7" y="956.1">OAS1</text><text x="234.5" y="962.4">RSAD2</text><text x="254.1" y="966.8">PSMB1</text><text x="272.9" y="965.2">ENO1</text><text x="287.1" y="952.2">SAMD9L</text><text x="292.5" y="960.8">VEGFA</text><text x="302.7" y="943.5">ZWINT</text><text x="310.6" y="951.7">ZWINT</text><text x="323.9" y="942.0">SFRP4</text><text x="342.0" y="950.6">IFI44L</text><text x="328.6" y="960.5">FN1</text><text x="348.2" y="960.8">EIF3K</text><text x="360.0" y="970.2">LDHA</text><text x="324.7" y="969.1">SFRP4</text><text x="309.8" y="969.4">UQCRB</text><text x="339.6" y="972.1">MX1</text><text x="241.1" y="976.5">CXCL9</text><text x="265.1" y="976.5">NDUFA4</text><text x="283.9" y="974.6">BST2</text><text x="301.2" y="979.6">XAF1</text><text x="320.8" y="981.5">UQCRB</text><text x="254.9" y="985.1">DDX58</text><text x="285.5" y="988.2">RPL10</text><text x="302.0" y="991.4">IFI44L</text><text x="336.5" y="990.9">GAPDH</text><text x="240.5" y="994.5">RPS27</text><text x="270.6" y="995.2">UQCRB</text><text x="318.9" y="996.1">PSMB1</text><text x="256.5" y="1004.4">TAP1</text><text x="280.8" y="1003.9">HERC5</text><text x="304.3" y="1005.5">PCNA</text><text x="267.5" y="1014.1">PLSCR1</text><text x="293.3" y="1013.8">LDHA</text><text x="1174.4" y="652.9">GBP4</text><text x="1095.5" y="779.0">ISG15</text><text x="1154.2" y="822.2">ISL1</text><text x="1080.6" y="829.4">IFI27</text><text x="1107.4" y="836.2">CXCL11</text><text x="1130.6" y="879.4">IDO1</text><text x="1149.1" y="892.9">CXCL10</text><text x="1051.4" y="893.8">USP18</text><text x="1102.9" y="894.4">BATF2</text><text x="1220.7" y="892.0">RSAD2</text><text x="1040.3" y="907.2">CEH94</text><text x="1063.6" y="908.2">HELZ2</text><text x="1062.0" y="918.2">GBP7</text><text x="1046.9" y="925.2">TLDC2</text><text x="1085.2" y="923.7">SSS1</text><text x="1110.9" y="934.7">IFIT2</text><text x="1153.6" y="937.7">IFIT1</text><text x="1075.4" y="947.8">IFI44</text><text x="1106.8" y="946.5">PSST</text><text x="1134.8" y="948.1">IFIT3</text><text x="1152.3" y="947.5">OAS2</text><text x="1090.0" y="952.8">CXX1</text><text x="1104.0" y="961.2">HERC6</text><text x="1060.1" y="965.2">LGALS9</text><text x="1078.3" y="967.2">HERC5</text><text x="1105.9" y="970.7">LGALS3BP</text><text x="1109.7" y="988.7">EPSTI1</text><text x="1130.4" y="994.8">EPSTI1</text><text x="1020.8" y="941.9">ETS</text><text x="1024.3" y="952.2">CD274</text><text x="993.6" y="963.8">PPM1K</text><text x="1011.5" y="963.2">TRAM1</text><text x="1025.5" y="964.1">NAP1</text><text x="1006.1" y="972.6">OTX2</text><text x="1100.9" y="1008.2">IDO1</text><text x="1120.3" y="1007.1">WARS1</text><text x="1108.4" y="1018.4">GAD1</text><text x="1131.6" y="1018.4">GRE1</text><text x="1126.6" y="1028.4">SECTM1</text><text x="1148.9" y="1030.5">SZ1</text><text x="1122.2" y="1038.4">GBP5</text><text x="1140.4" y="1082.2">CCL8</text><text x="1126.0" y="1091.5">CCL4L2</text><text x="1190.2" y="997.6">PRAG1</text><text x="1200.1" y="1010.4">IFI6</text><text x="1011.1" y="1035.2">UHCE1</text><text x="744.9" y="1076.4">JCHAIN</text><text x="726.4" y="1090.0">CHURL2</text><text x="745.2" y="1090.2">HLA-DRA</text><text x="810.5" y="1059.2">WNT5A</text><text x="795.4" y="1069.2">HSPB10</text><text x="825.6" y="1068.2">TNX3</text><text x="843.1" y="1054.8">TNFRSF10D</text><text x="857.3" y="1065.0">IL1R</text><text x="811.1" y="1074.9">PUS1</text><text x="788.8" y="1080.5">GPT1</text><text x="866.3" y="1074.7">CCDC19</text><text x="843.1" y="1075.5">RBM41L</text><text x="828.1" y="1081.8">KF16</text><text x="789.2" y="1091.0">LIP1</text><text x="860.1" y="1085.5">PRG4</text><text x="814.3" y="1092.5">OCDC3</text><text x="833.1" y="1093.7">SNRPN</text><text x="849.4" y="1096.5">NOG</text><text x="799.2" y="1101.2">ACTL8</text><text x="820.5" y="1103.5">CDH1</text><text x="870.1" y="1055.7">NAL2</text><text x="875.1" y="1092.7">ILEG</text><text x="1028.7" y="932.2">CD38</text><text x="1036.2" y="940.6">UQCRB</text><text x="1002.3" y="950.4">UBE2L6</text><text x="1038.3" y="954.4">BST2</text><text x="985.4" y="977.4">RRM2</text><text x="1028.7" y="979.2">TUBA1B</text><text x="1038.7" y="974.5">UBE2C</text><text x="976.6" y="985.8">IFI6</text><text x="995.4" y="989.2">COL1A1</text><text x="1015.8" y="988.2">SP110</text><text x="963.1" y="994.8">RRM2</text><text x="987.9" y="998.7">GBP1</text><text x="1009.9" y="997.4">ALDOA</text><text x="1032.4" y="993.9">FCGR1A</text><text x="1075.8" y="936.2">CASP1</text><text x="1059.1" y="941.2">ATP5F1E</text><text x="1061.1" y="954.4">HMGB2</text><text x="1043.6" y="974.1">IFI6</text><text x="1063.9" y="980.1">EPSTI1</text><text x="1094.6" y="980.7">APOL6</text><text x="1049.4" y="985.4">SLAMF7</text><text x="1079.6" y="986.8">CD38</text><text x="1068.3" y="995.2">LDHA</text><text x="1092.1" y="997.4">MCM2</text><text x="950.3" y="1003.5">PGK1</text><text x="969.1" y="1002.9">VCAN</text><text x="960.9" y="1012.6">IFI44L</text><text x="982.3" y="1013.2">XAF1</text><text x="999.8" y="1008.6">PCNA</text><text x="1028.7" y="1014.6">BST2</text><text x="944.6" y="1017.2">TPI1</text><text x="973.5" y="1022.4">CKS2</text><text x="989.2" y="1025.9">CD38</text><text x="1016.1" y="1026.8">VEGFA</text><text x="955.9" y="1026.8">PSME2</text><text x="942.7" y="1035.2">TAP1</text><text x="966.6" y="1035.9">COX7C</text><text x="983.5" y="1035.2">STMN1</text><text x="1036.2" y="1032.4">GBP1</text><text x="952.5" y="1044.7">IFI27</text><text x="978.5" y="1045.2">ISG15</text><text x="999.8" y="1046.0">TUBA1B</text><text x="1021.8" y="1045.5">HERC5</text><text x="931.2" y="1046.2">SNRPD2</text><text x="944.0" y="1055.0">H2AZ1</text><text x="962.8" y="1053.7">MUC1</text><text x="984.1" y="1055.2">CXCL9</text><text x="1014.3" y="1056.2">TPI1</text><text x="1037.5" y="1049.2">HLA-DRA</text><text x="1029.3" y="1060.5">TRIM22</text><text x="927.1" y="1062.5">LDHA</text><text x="960.3" y="1062.5">PCNA</text><text x="976.6" y="1064.0">IDO1</text><text x="944.0" y="1068.8">HMGB2</text><text x="980.4" y="1068.8">XAF1</text><text x="1014.3" y="1070.2">SNRPD2</text><text x="928.3" y="1076.2">CD74</text><text x="963.8" y="1074.2">LAP3</text><text x="944.0" y="1079.5">PSMB1</text><text x="972.8" y="1083.5">UBE2L6</text><text x="956.5" y="1087.5">MMP9</text><text x="934.6" y="1090.7">OAS1</text><text x="986.6" y="1092.9">IFI44L</text><text x="952.1" y="1096.4">SLAMF7</text><text x="971.6" y="1098.7">CASP1</text><text x="1006.7" y="1095.0">CMPK2</text><text x="1028.1" y="1100.2">TMSB10</text><text x="937.7" y="1104.9">IFI44L</text><text x="960.9" y="1107.0">TYMS</text><text x="978.5" y="1107.9">COL1A1</text><text x="997.3" y="1103.5">LAG3</text><text x="1017.4" y="1108.2">IRF7</text><text x="1037.5" y="1091.4">FN1</text><text x="1049.4" y="1004.8">TRIM22</text><text x="1079.6" y="1006.1">TRIM22</text><text x="1062.0" y="1013.2">MMP9</text><text x="1051.3" y="1021.7">PCNA</text><text x="1068.9" y="1021.4">NUSAP1</text><text x="1086.5" y="1021.5">COL1A1</text><text x="1063.9" y="1030.0">H2AZ1</text><text x="1081.4" y="1030.5">COL1A1</text><text x="1103.4" y="1034.2">LAG3</text><text x="1138.5" y="1045.2">AURKA</text><text x="1054.5" y="1039.9">CMPK2</text><text x="1073.9" y="1039.9">PGK1</text><text x="1090.2" y="1042.4">EIF3K</text><text x="1112.2" y="1048.5">EPSTI1</text><text x="1067.6" y="1049.2">CENPW</text><text x="1094.0" y="1054.4">PSMB1</text><text x="1057.6" y="1058.0">SLC2A1</text><text x="1122.2" y="1060.0">RPL10</text><text x="1074.5" y="1062.2">UBE2C</text><text x="1102.1" y="1065.2">BST2</text><text x="1057.6" y="1068.2">MCM2</text><text x="1086.5" y="1072.2">SOCS1</text><text x="1116.0" y="1073.8">MX1</text><text x="1072.0" y="1077.5">AURKA</text><text x="1093.4" y="1080.2">PCNA</text><text x="1056.3" y="1081.5">SPP1</text><text x="1107.2" y="1085.7">TMSB10</text><text x="1080.2" y="1088.2">LAP3</text><text x="1063.9" y="1091.0">EPSTI1</text><text x="1093.4" y="1094.0">RRM2</text><text x="1047.6" y="1099.5">DDX58</text><text x="1073.9" y="1099.9">EPSTI1</text><text x="1104.0" y="1105.4">SOCS1</text><text x="1042.5" y="1108.2">UBE2L6</text><text x="1060.1" y="1108.2">OAS1</text><text x="1087.1" y="1108.2">CMPK2</text></g>
<path d="M44.5 40.6H573.4" stroke="#e8e8e8" stroke-width="1" fill="none"/>
<path d="M44.5 41.1V516.6H573.4V41.1" stroke="#b3b3b3" stroke-width="1" fill="none"/>
<line x1="75.3" y1="516.6" x2="75.3" y2="518.6" class="tk"/>
<text x="75.3" y="523.2" class="tl" text-anchor="middle">−2.5</text>
<line x1="230.6" y1="516.6" x2="230.6" y2="518.6" class="tk"/>
<text x="230.6" y="523.2" class="tl" text-anchor="middle">0.0</text>
<line x1="385.9" y1="516.6" x2="385.9" y2="518.6" class="tk"/>
<text x="385.9" y="523.2" class="tl" text-anchor="middle">2.5</text>
<line x1="541.2" y1="516.6" x2="541.2" y2="518.6" class="tk"/>
<text x="541.2" y="523.2" class="tl" text-anchor="middle">5.0</text>
<line x1="42.5" y1="494.7" x2="44.5" y2="494.7" class="tk"/>
<text x="41.5" y="496.5" class="tl" text-anchor="end">0.0</text>
<line x1="42.5" y1="375.3" x2="44.5" y2="375.3" class="tk"/>
<text x="41.5" y="377.1" class="tl" text-anchor="end">2.5</text>
<line x1="42.5" y1="255.8" x2="44.5" y2="255.8" class="tk"/>
<text x="41.5" y="257.6" class="tl" text-anchor="end">5.0</text>
<line x1="42.5" y1="136.4" x2="44.5" y2="136.4" class="tk"/>
<text x="41.5" y="138.2" class="tl" text-anchor="end">7.5</text>
<text x="308.9" y="531.1" class="at" text-anchor="middle">logFC</text>
<text transform="translate(31.9,278.6) rotate(-90)" class="at" text-anchor="middle">−log10(adj.P.Val)</text>
<text x="583.3" y="264.3" class="lt">Sig</text>
<circle cx="588.4" cy="273.5" r="1.6" fill="#4daf4a"/>
<text x="596.7" y="275.5" class="ll">Down</text>
<circle cx="588.4" cy="283.6" r="1.6" fill="#000"/>
<text x="596.7" y="285.6" class="ll">Not</text>
<circle cx="588.4" cy="293.8" r="1.6" fill="#e41a1c"/>
<text x="596.7" y="295.8" class="ll">Up</text>
<text x="0" y="24.4" class="pl">A</text>
<path d="M707.5 40.6H1238.5" stroke="#e8e8e8" stroke-width="1" fill="none"/>
<path d="M707.5 41.1V516.2H1238.5V41.1" stroke="#b3b3b3" stroke-width="1" fill="none"/>
<line x1="735.8" y1="516.2" x2="735.8" y2="518.2" class="tk"/>
<text x="735.8" y="522.8" class="tl" text-anchor="middle">−5</text>
<line x1="907.9" y1="516.2" x2="907.9" y2="518.2" class="tk"/>
<text x="907.9" y="522.8" class="tl" text-anchor="middle">0</text>
<line x1="1080.0" y1="516.2" x2="1080.0" y2="518.2" class="tk"/>
<text x="1080.0" y="522.8" class="tl" text-anchor="middle">5</text>
<line x1="705.5" y1="494.7" x2="707.5" y2="494.7" class="tk"/>
<text x="704.5" y="496.5" class="tl" text-anchor="end">0</text>
<line x1="705.5" y1="389.2" x2="707.5" y2="389.2" class="tk"/>
<text x="704.5" y="391.0" class="tl" text-anchor="end">20</text>
<line x1="705.5" y1="283.7" x2="707.5" y2="283.7" class="tk"/>
<text x="704.5" y="285.5" class="tl" text-anchor="end">40</text>
<line x1="705.5" y1="178.3" x2="707.5" y2="178.3" class="tk"/>
<text x="704.5" y="180.1" class="tl" text-anchor="end">60</text>
<line x1="705.5" y1="72.8" x2="707.5" y2="72.8" class="tk"/>
<text x="704.5" y="74.6" class="tl" text-anchor="end">80</text>
<text x="973.0" y="530.7" class="at" text-anchor="middle">logFC</text>
<text transform="translate(696.4,278.4) rotate(-90)" class="at" text-anchor="middle">−log10(adj.P.Val)</text>
<text x="1248.2" y="264.3" class="lt">Sig</text>
<circle cx="1253.3" cy="273.5" r="1.6" fill="#4daf4a"/>
<text x="1261.6" y="275.5" class="ll">Down</text>
<circle cx="1253.3" cy="283.6" r="1.6" fill="#000"/>
<text x="1261.6" y="285.6" class="ll">Not</text>
<circle cx="1253.3" cy="293.8" r="1.6" fill="#e41a1c"/>
<text x="1261.6" y="295.8" class="ll">Up</text>
<text x="663" y="24.4" class="pl">B</text>
<path d="M39.5 635.8H573.4" stroke="#e8e8e8" stroke-width="1" fill="none"/>
<path d="M39.5 636.3V1111.3H573.4V636.3" stroke="#b3b3b3" stroke-width="1" fill="none"/>
<line x1="51.2" y1="1111.3" x2="51.2" y2="1113.3" class="tk"/>
<text x="51.2" y="1117.9" class="tl" text-anchor="middle">−5</text>
<line x1="205.5" y1="1111.3" x2="205.5" y2="1113.3" class="tk"/>
<text x="205.5" y="1117.9" class="tl" text-anchor="middle">0</text>
<line x1="359.8" y1="1111.3" x2="359.8" y2="1113.3" class="tk"/>
<text x="359.8" y="1117.9" class="tl" text-anchor="middle">5</text>
<line x1="514.0" y1="1111.3" x2="514.0" y2="1113.3" class="tk"/>
<text x="514.0" y="1117.9" class="tl" text-anchor="middle">10</text>
<line x1="37.5" y1="1089.9" x2="39.5" y2="1089.9" class="tk"/>
<text x="36.5" y="1091.7" class="tl" text-anchor="end">0</text>
<line x1="37.5" y1="962.1" x2="39.5" y2="962.1" class="tk"/>
<text x="36.5" y="963.9" class="tl" text-anchor="end">2</text>
<line x1="37.5" y1="834.3" x2="39.5" y2="834.3" class="tk"/>
<text x="36.5" y="836.1" class="tl" text-anchor="end">4</text>
<line x1="37.5" y1="706.5" x2="39.5" y2="706.5" class="tk"/>
<text x="36.5" y="708.3" class="tl" text-anchor="end">6</text>
<text x="306.4" y="1125.8" class="at" text-anchor="middle">logFC</text>
<text transform="translate(31.4,873.5) rotate(-90)" class="at" text-anchor="middle">−log10(adj.P.Val)</text>
<text x="582.2" y="858.6" class="lt">Sig</text>
<circle cx="587.3" cy="867.8" r="1.6" fill="#4daf4a"/>
<text x="595.6" y="869.8" class="ll">Down</text>
<circle cx="587.3" cy="878.0" r="1.6" fill="#000"/>
<text x="595.6" y="880.0" class="ll">Not</text>
<circle cx="587.3" cy="888.1" r="1.6" fill="#e41a1c"/>
<text x="595.6" y="890.1" class="ll">Up</text>
<text x="0" y="625.5" class="pl">C</text>
<path d="M710.8 635.9H1237.9" stroke="#e8e8e8" stroke-width="1" fill="none"/>
<path d="M710.8 636.4V1111.2H1237.9V636.4" stroke="#b3b3b3" stroke-width="1" fill="none"/>
<line x1="782.0" y1="1111.2" x2="782.0" y2="1113.2" class="tk"/>
<text x="782.0" y="1117.8" class="tl" text-anchor="middle">−5</text>
<line x1="931.0" y1="1111.2" x2="931.0" y2="1113.2" class="tk"/>
<text x="931.0" y="1117.8" class="tl" text-anchor="middle">0</text>
<line x1="1080.0" y1="1111.2" x2="1080.0" y2="1113.2" class="tk"/>
<text x="1080.0" y="1117.8" class="tl" text-anchor="middle">5</text>
<line x1="1229.0" y1="1111.2" x2="1229.0" y2="1113.2" class="tk"/>
<text x="1229.0" y="1117.8" class="tl" text-anchor="middle">10</text>
<line x1="708.8" y1="1089.8" x2="710.8" y2="1089.8" class="tk"/>
<text x="707.8" y="1091.6" class="tl" text-anchor="end">0</text>
<line x1="708.8" y1="959.8" x2="710.8" y2="959.8" class="tk"/>
<text x="707.8" y="961.6" class="tl" text-anchor="end">50</text>
<line x1="708.8" y1="829.8" x2="710.8" y2="829.8" class="tk"/>
<text x="707.8" y="831.6" class="tl" text-anchor="end">100</text>
<line x1="708.8" y1="699.8" x2="710.8" y2="699.8" class="tk"/>
<text x="707.8" y="701.6" class="tl" text-anchor="end">150</text>
<text x="974.4" y="1125.7" class="at" text-anchor="middle">logFC</text>
<text transform="translate(696.8,873.5) rotate(-90)" class="at" text-anchor="middle">−log10(adj.P.Val)</text>
<text x="1248.1" y="858.6" class="lt">Sig</text>
<circle cx="1253.2" cy="867.8" r="1.6" fill="#4daf4a"/>
<text x="1261.5" y="869.8" class="ll">Down</text>
<circle cx="1253.2" cy="878.0" r="1.6" fill="#000"/>
<text x="1261.5" y="880.0" class="ll">Not</text>
<circle cx="1253.2" cy="888.1" r="1.6" fill="#e41a1c"/>
<text x="1261.5" y="890.1" class="ll">Up</text>
<text x="664" y="625.5" class="pl">D</text>
</svg></body></html>
